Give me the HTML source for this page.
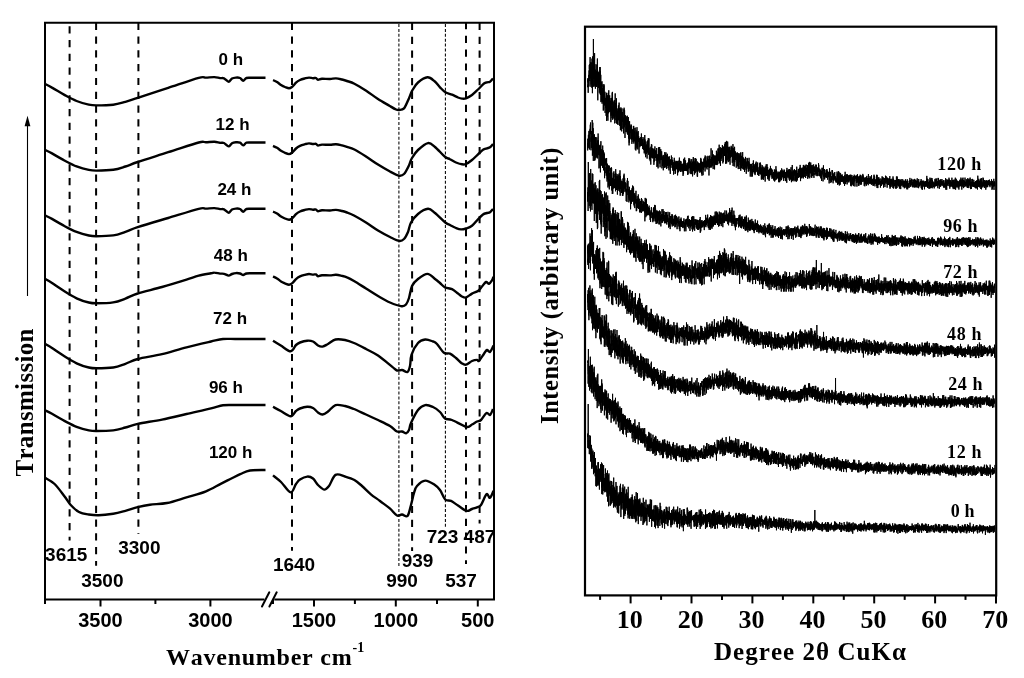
<!DOCTYPE html><html><head><meta charset="utf-8"><style>html,body{margin:0;padding:0;background:#fff;}svg{display:block;filter:blur(0.45px)} text{font-kerning:none} .s{font-family:"Liberation Sans",sans-serif;font-weight:bold} .r{font-family:"Liberation Serif",serif;font-weight:bold}</style></head><body>
<svg width="1024" height="678" viewBox="0 0 1024 678">
<rect width="1024" height="678" fill="#fff"/>
<line x1="69.6" y1="26.2" x2="69.6" y2="540.6" stroke="#000" stroke-width="2" stroke-dasharray="7.2 6.6"/>
<line x1="96.1" y1="22.7" x2="96.1" y2="565.7" stroke="#000" stroke-width="2" stroke-dasharray="7.2 6.6"/>
<line x1="138.4" y1="22.7" x2="138.4" y2="534.0" stroke="#000" stroke-width="2" stroke-dasharray="7.2 6.6"/>
<line x1="292.0" y1="22.7" x2="292.0" y2="550.8" stroke="#000" stroke-width="2" stroke-dasharray="7.2 6.6"/>
<line x1="412.1" y1="22.9" x2="412.1" y2="551.0" stroke="#000" stroke-width="2" stroke-dasharray="7.2 6.6"/>
<line x1="466.0" y1="22.0" x2="466.0" y2="564.0" stroke="#000" stroke-width="2" stroke-dasharray="7.2 6.6"/>
<line x1="479.6" y1="22.9" x2="479.6" y2="523.6" stroke="#000" stroke-width="2" stroke-dasharray="7.2 6.6"/>
<line x1="398.9" y1="24.0" x2="398.9" y2="567.9" stroke="#000" stroke-width="1.05" stroke-dasharray="3 1.9"/>
<line x1="445.4" y1="24.0" x2="445.4" y2="528.8" stroke="#000" stroke-width="1.05" stroke-dasharray="3 1.9"/>
<path d="M45.0,83.9C46.2,84.5 48.8,85.7 52.0,87.6C55.2,89.4 60.3,92.6 64.4,94.9C68.5,97.1 72.5,99.4 76.6,101.0C80.7,102.6 85.5,104.0 88.8,104.7C92.1,105.4 92.1,105.4 96.2,105.4C100.3,105.4 108.3,105.3 113.2,104.7C118.1,104.1 121.3,102.9 125.4,101.8C129.5,100.7 130.6,100.2 137.7,97.9C144.8,95.6 158.0,91.2 168.2,87.9C178.4,84.5 192.4,79.5 198.7,77.8C205.0,76.1 203.4,77.7 206.0,77.6C208.6,77.5 212.1,77.0 214.4,77.1C216.7,77.2 218.4,77.9 220.0,78.1C221.6,78.3 222.6,77.7 224.0,78.3C225.4,78.9 227.3,81.7 228.6,81.7C229.9,81.7 230.8,79.2 232.0,78.5C233.2,77.8 234.7,77.7 236.0,77.6C237.3,77.5 238.8,77.5 240.0,78.0C241.2,78.5 242.1,80.7 243.2,80.7C244.3,80.7 245.0,78.5 246.5,78.0C248.0,77.5 248.8,77.8 252.0,77.8C255.2,77.8 263.2,77.8 265.5,77.8" fill="none" stroke="#000" stroke-width="2.4" stroke-linejoin="round"/>
<path d="M273.0,80.1C273.7,80.4 275.7,81.2 277.0,82.0C278.3,82.8 279.7,84.2 281.0,85.0C282.3,85.8 283.7,86.5 285.0,87.0C286.3,87.5 287.8,88.3 289.0,88.3C290.2,88.3 290.8,87.9 292.0,87.0C293.2,86.1 294.7,83.9 296.0,82.7C297.3,81.5 298.5,80.7 300.0,80.0C301.5,79.3 303.5,78.8 305.0,78.4C306.5,78.0 307.7,77.6 309.0,77.6C310.3,77.6 311.8,78.1 313.0,78.2C314.2,78.3 315.2,77.7 316.0,78.0C316.8,78.3 317.0,79.7 318.0,79.8C319.0,79.9 320.0,78.9 322.0,78.8C324.0,78.7 327.7,79.1 330.0,79.0C332.3,78.9 334.0,78.3 336.0,78.4C338.0,78.5 340.2,79.1 342.0,79.5C343.8,79.9 344.9,80.3 347.0,81.0C349.1,81.7 351.2,82.1 354.4,83.7C357.6,85.3 362.3,88.2 366.2,90.7C370.1,93.2 374.1,96.5 378.0,99.0C381.9,101.5 386.8,104.2 389.8,106.0C392.8,107.8 394.4,108.8 396.0,109.5C397.6,110.2 397.9,110.2 399.2,110.0C400.5,109.8 402.4,110.2 404.0,108.4C405.6,106.6 407.3,102.0 408.7,99.0C410.1,96.0 410.6,93.5 412.2,90.7C413.8,88.0 415.4,84.7 418.0,82.5C420.6,80.3 424.7,77.5 427.5,77.3C430.3,77.1 432.5,79.6 434.6,81.3C436.7,83.0 438.2,85.5 440.0,87.3C441.8,89.1 443.4,91.0 445.4,92.2C447.4,93.4 449.9,93.8 452.0,94.7C454.1,95.6 456.3,96.8 458.0,97.5C459.7,98.2 460.7,98.5 462.0,98.6C463.3,98.7 464.3,98.9 466.0,98.3C467.7,97.7 470.0,96.5 472.0,95.0C474.0,93.5 476.0,91.4 478.0,89.5C480.0,87.6 482.5,84.7 484.0,83.5C485.5,82.3 486.0,82.6 487.0,82.3C488.0,82.0 489.0,82.4 490.0,81.8C491.0,81.2 492.5,79.0 493.0,78.5" fill="none" stroke="#000" stroke-width="2.4" stroke-linejoin="round"/>
<path d="M45.0,149.9C46.2,150.5 48.8,151.7 52.0,153.4C55.2,155.2 60.3,158.3 64.4,160.5C68.5,162.6 72.5,164.8 76.6,166.4C80.7,167.9 85.5,169.2 88.8,169.9C92.1,170.6 92.1,170.6 96.2,170.6C100.3,170.6 108.3,170.5 113.2,169.8C118.1,169.1 121.3,167.8 125.4,166.5C129.5,165.2 130.6,164.4 137.7,162.0C144.8,159.6 158.0,155.5 168.2,152.2C178.4,149.0 192.4,144.2 198.7,142.5C205.0,140.8 203.4,142.4 206.0,142.3C208.6,142.2 212.1,141.7 214.4,141.8C216.7,141.9 218.4,142.6 220.0,142.8C221.6,143.0 222.6,142.4 224.0,143.0C225.4,143.6 227.3,146.4 228.6,146.4C229.9,146.4 230.8,143.9 232.0,143.2C233.2,142.5 234.7,142.4 236.0,142.3C237.3,142.2 238.8,142.2 240.0,142.7C241.2,143.2 242.1,145.4 243.2,145.4C244.3,145.4 245.0,143.2 246.5,142.7C248.0,142.2 248.8,142.5 252.0,142.5C255.2,142.5 263.2,142.5 265.5,142.5" fill="none" stroke="#000" stroke-width="2.4" stroke-linejoin="round"/>
<path d="M273.0,145.9C273.7,146.2 275.7,147.0 277.0,147.8C278.3,148.6 279.7,150.0 281.0,150.8C282.3,151.6 283.7,152.2 285.0,152.8C286.3,153.4 287.8,154.1 289.0,154.1C290.2,154.1 290.8,153.7 292.0,152.8C293.2,151.9 294.7,149.7 296.0,148.5C297.3,147.3 298.5,146.5 300.0,145.8C301.5,145.1 303.5,144.6 305.0,144.2C306.5,143.8 307.7,143.4 309.0,143.4C310.3,143.4 311.8,143.9 313.0,144.0C314.2,144.1 315.2,143.5 316.0,143.8C316.8,144.1 317.0,145.5 318.0,145.6C319.0,145.7 320.0,144.7 322.0,144.6C324.0,144.5 327.7,144.9 330.0,144.8C332.3,144.7 334.0,144.1 336.0,144.2C338.0,144.3 340.2,144.9 342.0,145.3C343.8,145.7 344.9,146.1 347.0,146.8C349.1,147.5 351.2,147.9 354.4,149.5C357.6,151.1 362.1,154.0 366.0,156.5C369.9,159.0 374.0,162.0 378.0,164.5C382.0,167.0 386.5,169.6 390.0,171.5C393.5,173.4 396.9,175.3 399.2,175.7C401.5,176.1 402.4,175.6 404.0,174.0C405.6,172.4 407.4,168.7 408.7,166.0C410.0,163.3 410.4,160.7 412.0,158.0C413.6,155.3 415.3,152.5 418.0,150.0C420.7,147.5 425.2,143.6 428.0,143.1C430.8,142.6 432.2,144.7 435.0,147.0C437.8,149.3 442.5,154.8 445.0,156.8C447.5,158.8 448.2,158.2 450.0,159.2C451.8,160.1 454.0,161.7 456.0,162.5C458.0,163.3 460.3,164.1 462.0,164.3C463.7,164.6 464.3,164.7 466.0,164.0C467.7,163.3 470.0,161.6 472.0,160.0C474.0,158.4 476.2,156.1 478.0,154.4C479.8,152.7 481.5,150.7 483.0,149.7C484.5,148.7 485.8,148.7 487.0,148.3C488.2,147.9 489.0,148.0 490.0,147.3C491.0,146.6 492.5,144.6 493.0,144.0" fill="none" stroke="#000" stroke-width="2.4" stroke-linejoin="round"/>
<path d="M45.0,215.4C46.2,216.0 48.8,217.2 52.0,218.9C55.2,220.7 60.3,223.8 64.4,226.0C68.5,228.2 72.5,230.4 76.6,231.9C80.7,233.5 85.5,234.8 88.8,235.5C92.1,236.2 92.1,236.2 96.2,236.2C100.3,236.2 108.3,236.1 113.2,235.4C118.1,234.7 121.3,233.2 125.4,231.8C129.5,230.5 130.6,229.4 137.7,227.1C144.8,224.8 158.0,221.0 168.2,218.0C178.4,214.9 192.4,210.4 198.7,208.8C205.0,207.2 203.4,208.7 206.0,208.6C208.6,208.5 212.1,208.0 214.4,208.1C216.7,208.2 218.4,208.9 220.0,209.1C221.6,209.3 222.6,208.7 224.0,209.3C225.4,209.9 227.3,212.7 228.6,212.7C229.9,212.7 230.8,210.2 232.0,209.5C233.2,208.8 234.7,208.7 236.0,208.6C237.3,208.5 238.8,208.5 240.0,209.0C241.2,209.5 242.1,211.7 243.2,211.7C244.3,211.7 245.0,209.5 246.5,209.0C248.0,208.5 248.8,208.8 252.0,208.8C255.2,208.8 263.2,208.8 265.5,208.8" fill="none" stroke="#000" stroke-width="2.4" stroke-linejoin="round"/>
<path d="M273.0,211.6C273.7,211.9 275.7,212.7 277.0,213.5C278.3,214.3 279.7,215.7 281.0,216.5C282.3,217.3 283.7,217.9 285.0,218.5C286.3,219.1 287.8,219.8 289.0,219.8C290.2,219.8 290.8,219.4 292.0,218.5C293.2,217.6 294.7,215.4 296.0,214.2C297.3,213.0 298.5,212.2 300.0,211.5C301.5,210.8 303.5,210.3 305.0,209.9C306.5,209.5 307.7,209.1 309.0,209.1C310.3,209.1 311.8,209.6 313.0,209.7C314.2,209.8 315.2,209.2 316.0,209.5C316.8,209.8 317.0,211.2 318.0,211.3C319.0,211.4 320.0,210.4 322.0,210.3C324.0,210.2 327.7,210.6 330.0,210.5C332.3,210.4 334.0,209.8 336.0,209.9C338.0,210.0 340.2,210.6 342.0,211.0C343.8,211.4 345.0,211.8 347.0,212.5C349.0,213.2 350.8,213.8 354.0,215.5C357.2,217.2 362.0,220.0 366.0,222.5C370.0,225.0 374.0,228.1 378.0,230.5C382.0,232.9 386.5,235.3 390.0,237.0C393.5,238.7 396.9,240.6 399.2,240.9C401.5,241.2 402.5,240.5 404.0,239.0C405.5,237.5 406.8,234.8 408.0,232.0C409.2,229.2 409.3,225.5 411.0,222.5C412.7,219.5 415.2,216.3 418.0,214.0C420.8,211.7 425.2,209.0 428.0,208.8C430.8,208.6 432.1,210.7 435.0,213.0C437.9,215.3 442.8,220.5 445.3,222.5C447.8,224.5 448.2,224.1 450.0,225.0C451.8,225.9 454.2,227.3 456.0,228.0C457.8,228.7 459.3,229.3 461.0,229.4C462.7,229.5 464.2,229.1 466.0,228.5C467.8,227.9 470.0,227.3 472.0,225.8C474.0,224.3 476.2,221.2 478.0,219.3C479.8,217.4 481.5,215.6 483.0,214.5C484.5,213.4 485.8,213.4 487.0,213.0C488.2,212.6 489.0,212.9 490.0,212.2C491.0,211.5 492.5,209.5 493.0,209.0" fill="none" stroke="#000" stroke-width="2.4" stroke-linejoin="round"/>
<path d="M45.0,278.9C46.2,279.6 48.8,281.0 52.0,283.0C55.2,285.1 60.3,288.8 64.4,291.3C68.5,293.9 72.5,296.4 76.6,298.3C80.7,300.2 85.5,301.7 88.8,302.5C92.1,303.3 92.1,303.3 96.2,303.3C100.3,303.3 108.3,303.2 113.2,302.4C118.1,301.6 121.3,300.1 125.4,298.6C129.5,297.1 131.6,295.4 137.7,293.5C143.8,291.6 153.9,289.3 162.0,287.0C170.1,284.7 180.4,281.5 186.5,279.6C192.6,277.7 194.6,276.8 198.7,275.7C202.8,274.6 208.4,273.8 211.0,273.3C213.6,272.8 212.9,272.5 214.4,272.6C215.9,272.6 218.4,273.4 220.0,273.6C221.6,273.8 222.6,273.5 224.0,273.8C225.4,274.1 227.3,275.6 228.6,275.6C229.9,275.7 230.8,274.4 232.0,274.0C233.2,273.6 234.7,273.2 236.0,273.1C237.3,273.0 238.8,273.2 240.0,273.5C241.2,273.8 242.1,275.0 243.2,275.0C244.3,275.0 245.0,273.8 246.5,273.5C248.0,273.2 248.8,273.3 252.0,273.3C255.2,273.3 263.2,273.3 265.5,273.3" fill="none" stroke="#000" stroke-width="2.4" stroke-linejoin="round"/>
<path d="M273.0,276.5C273.7,276.8 275.7,277.6 277.0,278.4C278.3,279.2 279.7,280.6 281.0,281.4C282.3,282.2 283.7,282.8 285.0,283.4C286.3,283.9 287.8,284.7 289.0,284.7C290.2,284.7 290.8,284.3 292.0,283.4C293.2,282.5 294.7,280.3 296.0,279.1C297.3,277.9 298.5,277.1 300.0,276.4C301.5,275.7 303.5,275.2 305.0,274.8C306.5,274.4 307.7,274.0 309.0,274.0C310.3,274.0 311.8,274.5 313.0,274.6C314.2,274.7 315.2,274.1 316.0,274.4C316.8,274.7 317.0,276.1 318.0,276.2C319.0,276.3 320.0,275.3 322.0,275.2C324.0,275.1 327.7,275.5 330.0,275.4C332.3,275.3 334.0,274.7 336.0,274.8C338.0,274.9 340.2,275.5 342.0,275.9C343.8,276.3 345.0,276.5 347.0,277.4C349.0,278.2 350.8,279.1 354.0,281.0C357.2,282.9 362.0,286.0 366.0,288.5C370.0,291.0 374.0,293.7 378.0,296.0C382.0,298.3 386.1,300.8 390.0,302.5C393.9,304.2 398.9,305.9 401.6,306.2C404.3,306.5 404.8,305.9 406.0,304.5C407.2,303.1 408.0,301.1 409.0,298.0C410.0,294.9 410.5,289.2 412.0,286.0C413.5,282.8 415.4,281.0 418.0,279.0C420.6,277.0 424.7,273.9 427.5,273.9C430.3,273.9 432.9,277.5 435.0,279.0C437.1,280.5 438.3,281.6 440.0,283.0C441.7,284.4 443.0,286.4 445.0,287.4C447.0,288.4 449.8,288.2 452.0,289.2C454.2,290.2 456.3,292.3 458.0,293.5C459.7,294.7 460.7,295.8 462.0,296.5C463.3,297.2 464.3,298.0 466.0,297.5C467.7,297.0 470.0,294.7 472.0,293.6C474.0,292.5 476.3,292.2 478.0,291.0C479.7,289.8 480.7,288.0 482.0,286.5C483.3,285.0 484.8,282.4 486.0,282.0C487.2,281.6 488.0,284.2 489.0,283.9C490.0,283.6 491.2,281.5 492.0,280.3C492.8,279.1 493.2,277.4 493.5,276.8" fill="none" stroke="#000" stroke-width="2.4" stroke-linejoin="round"/>
<path d="M45.0,343.9C46.2,344.6 48.8,346.0 52.0,348.0C55.2,350.1 60.3,353.8 64.4,356.3C68.5,358.9 72.5,361.4 76.6,363.3C80.7,365.2 85.5,366.7 88.8,367.5C92.1,368.3 92.1,368.3 96.2,368.3C100.3,368.3 108.3,368.2 113.2,367.5C118.1,366.7 121.3,365.2 125.4,363.8C129.5,362.4 131.6,360.6 137.7,359.0C143.8,357.4 153.9,356.1 162.0,354.2C170.1,352.2 178.3,349.4 186.5,347.3C194.7,345.2 204.9,342.9 211.0,341.5C217.1,340.1 219.0,339.4 223.0,339.0C227.0,338.6 230.5,339.0 235.0,339.0C239.5,339.0 244.9,339.0 250.0,339.0C255.1,339.0 262.9,339.0 265.5,339.0" fill="none" stroke="#000" stroke-width="2.4" stroke-linejoin="round"/>
<path d="M273.0,340.7C274.3,341.5 277.9,343.7 280.8,345.5C283.8,347.3 288.2,351.4 290.7,351.3C293.2,351.2 294.4,346.5 296.0,345.0C297.6,343.5 298.1,343.2 300.0,342.5C301.9,341.8 305.0,340.9 307.2,340.7C309.4,340.5 311.2,340.7 313.0,341.5C314.8,342.3 316.4,344.6 318.0,345.5C319.6,346.4 320.8,346.9 322.5,346.6C324.2,346.4 325.8,345.2 328.0,344.0C330.2,342.8 332.7,340.2 335.5,339.5C338.3,338.8 341.9,339.4 345.0,340.0C348.1,340.6 350.5,341.5 354.0,343.0C357.5,344.5 362.0,346.9 366.0,349.0C370.0,351.1 373.7,352.6 378.0,355.5C382.3,358.4 388.8,364.1 392.0,366.6C395.2,369.1 395.3,369.9 397.0,370.5C398.7,371.1 400.2,369.8 402.0,370.0C403.8,370.2 406.2,372.7 407.5,372.0C408.8,371.3 409.3,368.9 410.0,366.0C410.7,363.1 410.2,358.6 411.5,354.8C412.8,351.0 415.7,345.6 418.0,343.0C420.3,340.4 422.7,339.8 425.2,339.5C427.7,339.2 431.0,340.8 433.0,341.5C435.0,342.2 435.2,342.1 437.0,344.0C438.8,345.9 441.8,351.2 444.0,352.8C446.2,354.4 448.0,352.8 450.0,353.7C452.0,354.6 454.0,356.4 456.0,358.0C458.0,359.6 460.3,362.3 462.0,363.4C463.7,364.5 464.3,365.0 466.0,364.6C467.7,364.2 470.2,361.8 472.0,361.0C473.8,360.2 475.8,359.9 477.0,359.9C478.2,359.9 477.8,361.8 479.0,360.8C480.2,359.8 482.7,355.5 484.0,353.7C485.3,351.9 486.0,350.3 487.0,350.0C488.0,349.7 488.9,352.6 490.0,351.9C491.1,351.2 492.9,346.7 493.5,345.7" fill="none" stroke="#000" stroke-width="2.4" stroke-linejoin="round"/>
<path d="M45.0,410.3C46.2,410.9 48.8,412.1 52.0,413.8C55.2,415.6 60.3,418.7 64.4,420.9C68.5,423.0 72.5,425.2 76.6,426.8C80.7,428.3 85.5,429.6 88.8,430.3C92.1,431.0 92.1,431.0 96.2,431.0C100.3,431.0 108.3,430.9 113.2,430.4C118.1,429.8 121.3,428.6 125.4,427.5C129.5,426.5 131.6,425.1 137.7,423.8C143.8,422.5 153.9,421.2 162.0,419.6C170.1,418.0 178.3,415.9 186.5,414.0C194.7,412.1 204.9,409.9 211.0,408.4C217.1,407.0 219.0,405.9 223.0,405.3C227.0,404.7 230.5,405.1 235.0,405.0C239.5,404.9 244.9,405.0 250.0,405.0C255.1,405.0 262.9,405.0 265.5,405.0" fill="none" stroke="#000" stroke-width="2.4" stroke-linejoin="round"/>
<path d="M273.0,406.8C274.3,407.5 277.9,409.4 280.8,411.0C283.8,412.6 288.2,416.2 290.7,416.2C293.2,416.2 294.4,412.3 296.0,411.0C297.6,409.7 298.1,409.2 300.0,408.5C301.9,407.8 305.0,406.9 307.2,406.8C309.4,406.7 311.2,407.1 313.0,408.0C314.8,408.9 316.4,411.4 318.0,412.5C319.6,413.6 320.8,414.7 322.5,414.5C324.2,414.3 325.8,413.1 328.0,411.5C330.2,409.9 332.7,406.0 335.5,405.1C338.3,404.2 341.9,405.4 345.0,406.0C348.1,406.6 350.5,407.6 354.0,409.0C357.5,410.4 362.0,412.7 366.0,414.5C370.0,416.3 374.0,418.1 378.0,420.0C382.0,421.9 386.9,424.1 390.0,426.0C393.1,427.9 394.9,430.6 396.9,431.5C398.9,432.4 400.4,431.2 402.0,431.5C403.6,431.8 405.1,433.4 406.3,433.2C407.5,432.9 408.2,431.7 409.0,430.0C409.8,428.3 409.5,426.3 411.0,423.0C412.5,419.7 415.6,413.0 418.0,410.0C420.4,407.0 422.7,405.6 425.2,405.1C427.7,404.6 430.5,405.9 433.0,407.0C435.5,408.1 438.0,410.1 440.0,412.0C442.0,413.9 443.0,417.2 445.0,418.5C447.0,419.8 448.4,418.6 452.0,420.0C455.6,421.4 463.2,426.1 466.5,426.8C469.8,427.6 470.2,425.4 472.0,424.5C473.8,423.6 475.5,422.2 477.0,421.5C478.5,420.8 479.4,421.4 481.0,420.0C482.6,418.6 485.0,413.8 486.5,413.0C488.0,412.2 488.9,415.6 490.0,415.0C491.1,414.4 492.5,410.1 493.0,409.1" fill="none" stroke="#000" stroke-width="2.4" stroke-linejoin="round"/>
<path d="M45.0,477.8C46.6,478.8 51.4,480.9 54.6,484.0C57.8,487.1 61.8,492.8 64.4,496.2C67.1,499.6 68.1,502.1 70.5,504.7C72.9,507.3 76.0,510.4 79.0,512.0C82.0,513.6 85.5,514.0 88.8,514.5C92.1,515.0 94.5,515.3 98.6,515.2C102.7,515.1 108.7,514.4 113.2,513.7C117.7,513.0 121.3,511.9 125.4,510.8C129.5,509.7 133.6,508.1 137.7,507.1C141.8,506.1 145.0,505.4 149.9,504.7C154.8,504.0 160.9,504.2 167.0,503.0C173.1,501.8 180.0,499.3 186.5,497.4C193.0,495.4 200.3,493.6 206.0,491.3C211.7,489.1 216.6,485.9 220.7,483.9C224.8,481.8 227.2,480.6 230.4,479.0C233.7,477.4 236.9,475.6 240.2,474.2C243.5,472.8 245.8,471.2 250.0,470.5C254.2,469.8 262.9,470.1 265.5,470.0" fill="none" stroke="#000" stroke-width="2.4" stroke-linejoin="round"/>
<path d="M273.0,475.4C274.3,476.5 278.1,479.2 281.0,482.0C283.9,484.8 288.2,492.1 290.7,492.4C293.2,492.7 294.4,486.1 296.0,484.0C297.6,481.9 298.1,480.7 300.0,479.5C301.9,478.3 305.0,476.8 307.2,476.6C309.4,476.4 311.2,477.1 313.0,478.5C314.8,479.9 316.1,483.1 318.0,485.0C319.9,486.9 322.4,489.4 324.2,489.6C326.0,489.8 327.1,488.4 329.0,486.0C330.9,483.6 332.8,476.5 335.5,474.9C338.2,473.3 341.9,475.6 345.0,476.5C348.1,477.4 351.6,478.4 354.4,480.0C357.2,481.6 359.2,483.6 362.0,486.0C364.8,488.4 367.9,491.8 370.9,494.3C373.9,496.8 376.9,498.6 380.0,501.0C383.1,503.4 387.0,506.0 389.8,508.4C392.6,510.8 395.0,514.5 397.0,515.5C399.0,516.5 400.2,514.4 402.0,514.5C403.8,514.6 406.0,517.6 407.5,516.0C409.0,514.4 409.9,508.8 411.0,505.0C412.1,501.2 413.0,496.2 414.0,493.0C415.0,489.8 415.1,488.1 417.0,486.0C418.9,483.9 422.3,480.8 425.2,480.6C428.1,480.4 432.1,483.2 434.6,484.8C437.1,486.4 438.2,487.6 440.0,490.0C441.8,492.4 443.4,497.7 445.2,499.5C447.0,501.3 448.9,499.9 451.0,500.9C453.1,501.9 455.4,503.9 458.0,505.5C460.6,507.1 464.2,510.2 466.5,510.8C468.8,511.4 470.2,509.6 472.0,509.0C473.8,508.4 475.5,508.0 477.0,507.3C478.5,506.6 479.4,507.2 481.0,505.0C482.6,502.8 485.0,495.5 486.5,494.3C488.0,493.1 488.8,498.4 490.0,497.8C491.2,497.2 493.0,491.9 493.6,490.7" fill="none" stroke="#000" stroke-width="2.4" stroke-linejoin="round"/>
<path d="M264.5,599.5 H45 V22.8 H494 V599.5 H274.3" fill="none" stroke="#000" stroke-width="2"/>
<path d="M262,606.5 L269.3,592.3 M269.4,606.5 L276.7,592.3" stroke="#000" stroke-width="2" stroke-linecap="round"/>
<line x1="100.5" y1="599" x2="100.5" y2="606.5" stroke="#000" stroke-width="2"/>
<line x1="210.4" y1="599" x2="210.4" y2="606.5" stroke="#000" stroke-width="2"/>
<line x1="314.0" y1="599" x2="314.0" y2="606.5" stroke="#000" stroke-width="2"/>
<line x1="395.8" y1="599" x2="395.8" y2="606.5" stroke="#000" stroke-width="2"/>
<line x1="477.8" y1="599" x2="477.8" y2="606.5" stroke="#000" stroke-width="2"/>
<line x1="45.0" y1="599" x2="45.0" y2="604" stroke="#000" stroke-width="2"/>
<line x1="155.4" y1="599" x2="155.4" y2="604" stroke="#000" stroke-width="2"/>
<line x1="354.9" y1="599" x2="354.9" y2="604" stroke="#000" stroke-width="2"/>
<line x1="437.0" y1="599" x2="437.0" y2="604" stroke="#000" stroke-width="2"/>
<line x1="273.0" y1="599" x2="273.0" y2="604" stroke="#000" stroke-width="2"/>
<text x="100.5" y="626.8" class="s" font-size="20" text-anchor="middle">3500</text>
<text x="210.4" y="626.8" class="s" font-size="20" text-anchor="middle">3000</text>
<text x="314.0" y="626.8" class="s" font-size="20" text-anchor="middle">1500</text>
<text x="395.8" y="626.8" class="s" font-size="20" text-anchor="middle">1000</text>
<text x="477.8" y="626.8" class="s" font-size="20" text-anchor="middle">500</text>
<text x="45.1" y="560.5" class="s" font-size="19">3615</text>
<text x="81.2" y="587.0" class="s" font-size="19">3500</text>
<text x="118.2" y="553.9" class="s" font-size="19">3300</text>
<text x="272.9" y="571.2" class="s" font-size="19">1640</text>
<text x="386.2" y="587.0" class="s" font-size="19">990</text>
<text x="401.7" y="567.1" class="s" font-size="19">939</text>
<text x="426.7" y="542.8" class="s" font-size="19">723</text>
<text x="445.2" y="587.0" class="s" font-size="19">537</text>
<text x="463.6" y="542.8" class="s" font-size="19">487</text>
<text x="218.6" y="64.9" class="s" font-size="17">0 h</text>
<text x="215.5" y="130.3" class="s" font-size="17">12 h</text>
<text x="217.4" y="195.1" class="s" font-size="17">24 h</text>
<text x="213.8" y="260.6" class="s" font-size="17">48 h</text>
<text x="213.0" y="324.0" class="s" font-size="17">72 h</text>
<text x="208.9" y="393.2" class="s" font-size="17">96 h</text>
<text x="208.9" y="457.9" class="s" font-size="17">120 h</text>
<text x="166" y="665.4" class="r" font-size="24" letter-spacing="0.75">Wavenumber cm</text>
<text x="352.5" y="652" class="r" font-size="14">-1</text>
<text transform="translate(33,476.6) rotate(-90)" class="r" font-size="25" letter-spacing="0.33">Transmission</text>
<line x1="27.5" y1="296" x2="27.5" y2="124" stroke="#000" stroke-width="1.1"/>
<path d="M27.5,115.8 L30.4,126.3 L24.6,126.3 Z" fill="#000"/>
<path d="M587.5,85.6l.1,1.6 .1-3.7 .1-4.1 .1,2.4 .1-3.8 .1,6.5 .1,8.3 .1-12.7 .1-1.3 .1,7.5 .1-1.3 .1-2.1 .1-8.0 .1,6.4 .1,5.3 .1-16.2 .1,6.5 .1-12.0 .1,4.5 .1-5.1 .1,13.0 .1-9.2 .1,13.0 .1-1.3 .1-3.3 .1-19.4 .1,15.6 .1,4.3 .1,1.3 .1-15.9 .1,9.8 .1-5.2 .1,1.4 .1,18.4 .1-18.8 .1,7.5 .1,8.9 .1-14.8 .1,4.5 .1,2.0 .1-.7 .1-13.0 .1,12.8 .1,12.6 .1-29.2 .1,23.8 .1-7.6 .1-7.8 .1,26.2 .1-12.6 .1-24.2 .1,17.0 .1,4.9 .1-7.8 .1,8.7 .1-7.6 .1,7.3 .1,7.7 .1-47.6 .1,35.3 .1-11.3 .1,10.6 .1-13.0 .1,6.1 .1,3.9 .1,16.1 .1-2.7 .1-24.5 .1,5.3 .1,14.3 .1-26.0 .1,15.2 .1,3.7 .1,13.5 .1-5.5 .1-9.9 .1-.2 .1,11.6 .1,7.2 .1-18.9 .1,1.4 .1,6.6 .1-4.4 .1-.5 .1-8.7 .1,10.9 .1-4.0 .1,15.8 .1-4.8 .1-6.3 .1,6.8 .1-9.5 .1,13.6 .1-9.9 .1,5.8 .1-17.7 .1,15.9 .1-19.2 .1-3.1 .1,16.8 .1-5.4 .1,10.4 .1,20.0 .1-28.9 .1,2.3 .1,8.2 .1,3.0 .1-6.0 .1,.1 .1,8.8 .1-1.4 .1-14.2 .1,9.2 .1,1.4 .1-9.8 .1,12.5 .1-10.0 .1,17.2 .1-6.8 .1-.7 .1-5.9 .1,4.7 .1-16.8 .1,8.2 .1,13.9 .1-22.3 .1,27.3 .1-23.1 .1,22.9 .1-14.1 .1,14.9 .1-5.5 .1-14.6 .1,25.2 .1,2.1 .1-13.2 .1-1.5 .1,1.4 .1-6.9 .1,18.6 .1-14.1 .1,4.6 .1-6.2 .1,1.8 .1-5.3 .1,22.4 .1-12.0 .1,10.1 .1-8.0 .1-5.8 .1,3.5 .1-1.7 .1,5.2 .1-2.9 .1,.9 .1-8.8 .1,5.2 .1,21.2 .1-19.4 .1-2.9 .1,12.1 .1,9.3 .1-23.8 .1,10.8 .1-3.2 .1-9.1 .1,21.2 .1-6.0 .1,1.1 .1-6.5 .1,10.3 .1-8.0 .1,3.6 .1-7.7 .1-.6 .1,21.1 .1-14.9 .1,6.7 .1-2.5 .1-3.1 .1-.5 .1,9.4 .1-7.4 .1,1.3 .1,1.6 .1,12.4 .1-6.8 .1-2.3 .1-7.5 .1-6.5 .1,28.1 .1-8.9 .1-8.8 .1,5.6 .1,2.1 .1,.5 .1,.8 .1-10.9 .1,15.9 .1-21.9 .1,17.0 .1-2.8 .1,3.1 .1,8.1 .1-3.0 .1-20.7 .1-4.2 .1,20.0 .1-14.4 .1,8.1 .1,6.8 .1-19.4 .1-3.6 .1,18.8 .1-1.5 .1-2.2 .1,2.4 .1-6.9 .1-5.0 .1,10.7 .1-6.2 .1-5.1 .1,16.8 .1-4.3 .1,3.7 .1-10.7 .1,2.6 .1-2.6 .1,1.0 .1,8.4 .1-7.5 .1,8.8 .1-.1 .1,10.8 .1-24.1 .1,17.7 .1-7.5 .1,.6 .1-11.0 .1,7.7 .1,9.3 .1-6.4 .1,1.3 .1-2.8 .1,11.2 .1-9.0 .1-16.7 .1,11.6 .1-9.7 .1-2.5 .1,13.6 .1,14.3 .1-9.8 .1-9.3 .1,1.8 .1,15.9 .1-7.4 .1-.8 .1-.7 .1,.7 .1,5.9 .1-1.9 .1-2.5 .1-9.6 .1,11.9 .1-9.1 .1,13.6 .1-17.9 .1,8.6 .1,1.0 .1-9.9 .1,23.1 .1-1.9 .1-14.5 .1,9.4 .1-2.9 .1-20.1 .1,19.3 .1-2.3 .1,1.2 .1-8.6 .1,6.1 .1,.8 .1,10.3 .1-6.3 .1-2.4 .1,11.5 .1-15.5 .1,1.4 .1-10.6 .1,25.3 .1-4.4 .1-.3 .1-1.7 .1-4.1 .1,.9 .1-3.4 .1,.5 .1,2.0 .1,10.8 .1-6.9 .1-4.5 .1-3.7 .1-.4 .1,16.6 .1-8.0 .1-3.1 .1-3.0 .1-5.5 .1,7.8 .1,7.0 .1-9.2 .1,1.3 .1,.1 .1,2.5 .1-12.3 .1,10.0 .1-4.5 .1,12.8 .1-12.0 .1,9.9 .1,7.0 .1-13.2 .1-2.0 .1,5.9 .1-1.3 .1-6.4 .1,10.0 .1,11.4 .1-16.3 .1,.6 .1-5.9 .1,9.9 .1-11.1 .1,1.2 .1,17.2 .1-15.5 .1,14.4 .1,3.3 .1-8.9 .1,2.2 .1,10.1 .1-15.1 .1-2.6 .1-5.3 .1,10.1 .1,10.3 .1-3.6 .1-13.2 .1,.7 .1,2.7 .1,5.7 .1-3.3 .1,3.1 .1,.7 .1-4.0 .1,1.9 .1,1.9 .1-1.9 .1,4.3 .1,9.6 .1-8.7 .1-3.6 .1-11.9 .1,14.5 .1-16.0 .1,3.9 .1,15.7 .1-.8 .1-5.8 .1-10.5 .1,9.3 .1-1.9 .1,9.2 .1,11.2 .1-13.8 .1-6.6 .1-2.4 .1,9.6 .1-2.5 .1-6.4 .1,8.8 .1-8.3 .1,15.4 .1-.1 .1,.3 .1-10.3 .1,6.9 .1-4.2 .1-1.5 .1,.6 .1-6.2 .1-.7 .1,15.0 .1-6.3 .1,2.8 .1,5.4 .1-17.8 .1,6.5 .1,6.5 .1,1.6 .1-4.8 .1,9.3 .1-5.1 .1-9.1 .1,2.1 .1,11.4 .1-2.0 .1-15.0 .1,21.1 .1-4.6 .1,4.9 .1-10.8 .1,.7 .1-5.1 .1,22.1 .1-15.6 .1,12.9 .1-18.3 .1,8.2 .1-11.4 .1,8.3 .1,8.8 .1-13.9 .1,14.7 .1-4.4 .1-8.5 .1,3.5 .1,.4 .1,2.7 .1-2.9 .1-1.7 .1,3.3 .1-4.3 .1-1.5 .1,7.8 .1,5.9 .1-14.8 .1,9.5 .1-3.9 .1-1.9 .1,11.4 .1-8.3 .1,12.5 .1-13.9 .1,7.3 .1-3.6 .1-3.2 .1,8.4 .1-4.5 .1,4.8 .1-3.9 .1-6.2 .1,6.1 .1,1.1 .1,5.6 .1-11.2 .1,5.4 .1-10.1 .1,14.5 .1-10.4 .1-4.2 .1,10.6 .1,7.1 .1-15.6 .1,2.7 .1,2.2 .1-2.2 .1,9.1 .1-6.9 .1,.6 .1,7.9 .1-7.9 .1,7.2 .1-8.2 .1-1.3 .1-3.6 .1,22.0 .1-12.8 .1,3.5 .1-1.5 .1,1.2 .1-.5 .1,11.0 .1-17.2 .1-2.9 .1,3.3 .1-1.7 .1,12.2 .1,.6 .1-10.3 .1-2.4 .1,6.2 .1,10.2 .1-21.3 .1,16.5 .1-9.1 .1,12.3 .1-12.1 .1,4.7 .1-6.9 .1,3.2 .1,13.6 .1-3.1 .1-6.9 .1-2.5 .1-5.8 .1,8.7 .1,2.2 .1-.2 .1,.1 .1-5.7 .1,6.1 .1,.2 .1,7.7 .1,3.3 .1-11.2 .1-3.4 .1,4.1 .1-3.0 .1-.6 .1,3.9 .1-5.4 .1,9.3 .1-3.8 .1,2.0 .1-2.3 .1-2.9 .1-1.2 .1,4.0 .1-1.6 .1,4.4 .1-1.3 .1-7.4 .1,8.0 .1-7.8 .1,4.1 .1,1.9 .1-9.8 .1,12.1 .1,.4 .1-1.7 .1-1.4 .1,.4 .1-3.3 .1,4.0 .1-1.5 .1,3.6 .1-7.0 .1,7.9 .1-.4 .1-1.5 .1-1.5 .1,5.5 .1-12.1 .1,11.7 .1-1.1 .1,.3 .1,.6 .1-5.6 .1,2.2 .1,4.9 .1-1.0 .1-1.1 .1-9.3 .1,11.2 .1,3.5 .1-.8 .1-4.2 .1-9.5 .1,13.5 .1-5.8 .1-11.5 .1,14.5 .1-10.0 .1,1.1 .1,3.7 .1,10.2 .1-8.7 .1,3.5 .1,7.9 .1-.7 .1-9.0 .1-.6 .1-5.4 .1,3.1 .1,6.0 .1-.1 .1-1.4 .1,4.7 .1-9.3 .1,3.9 .1,4.2 .1-.7 .1,2.7 .1,4.0 .1-11.2 .1,3.6 .1-7.1 .1-3.2 .1,11.7 .1-3.3 .1,2.0 .1-10.4 .1,7.0 .1-1.1 .1-1.4 .1-7.1 .1,10.0 .1,6.5 .1-2.6 .1-5.0 .1,3.1 .1,4.1 .1-15.8 .1,11.3 .1,3.6 .1,.7 .1,5.4 .1-2.9 .1-4.2 .1,.1 .1,2.5 .1-6.7 .1,2.6 .1,4.9 .1,5.5 .1-10.8 .1,.6 .1,1.4 .1,5.9 .1-7.0 .1,13.3 .1-17.9 .1,4.1 .1,0 .1,5.0 .1,1.4 .1-12.9 .1,3.1 .1,6.4 .1-4.9 .1-4.3 .1,13.0 .1-2.7 .1,.1 .1-4.8 .1,7.6 .1-6.3 .1,6.8 .1-10.0 .1,.3 .1,5.4 .1-4.5 .1,7.0 .1-2.0 .1-5.9 .1,5.1 .1-2.1 .1,6.4 .1-7.6 .1,1.0 .1,8.3 .1,5.1 .1-1.1 .1-9.5 .1,.8 .1,6.6 .1-8.1 .1-4.1 .1,5.4 .1,1.7 .1-6.2 .1-3.9 .1,1.1 .1,10.3 .1-6.9 .1,3.1 .1,1.8 .1,2.1 .1-4.6 .1,4.1 .1-6.7 .1,2.7 .1-3.2 .1,10.6 .1-3.0 .1-6.0 .1,2.0 .1,.7 .1,4.5 .1-11.0 .1,2.8 .1,3.2 .1,13.0 .1-6.4 .1-5.1 .1,4.0 .1,6.6 .1-11.0 .1-.5 .1,7.6 .1-3.4 .1,.9 .1-5.5 .1,14.2 .1-3.5 .1-5.4 .1,.6 .1-12.8 .1,12.8 .1-3.9 .1,3.0 .1,1.3 .1-4.8 .1-6.3 .1,9.8 .1-5.2 .1,2.0 .1-1.2 .1,1.3 .1-9.1 .1,16.6 .1-4.5 .1,4.1 .1,4.1 .1-9.1 .1-8.4 .1,4.3 .1-1.4 .1,3.3 .1,2.8 .1-9.6 .1,10.9 .1-8.5 .1,8.4 .1-1.8 .1-.9 .1,1.2 .1-2.1 .1-.3 .1-4.8 .1,7.7 .1,9.3 .1,0 .1-3.0 .1-2.7 .1-6.3 .1,9.8 .1-6.8 .1,0 .1-1.0 .1,1.8 .1-2.3 .1,1.6 .1-4.5 .1,3.3 .1,12.1 .1-10.6 .1-.7 .1,3.6 .1,.8 .1-8.1 .1,4.1 .1,5.2 .1-2.9 .1-.6 .1,6.5 .1-10.0 .1,3.5 .1-2.7 .1,9.1 .1-15.4 .1,5.9 .1,.6 .1,5.4 .1-.2 .1,3.6 .1-13.2 .1,10.5 .1-4.6 .1-1.6 .1,5.4 .1-6.4 .1-5.1 .1,7.6 .1-4.9 .1,3.8 .1,4.6 .1-.2 .1,5.7 .1-13.2 .1-.4 .1,3.4 .1-.6 .1-1.3 .1,7.3 .1-4.6 .1-5.8 .1,11.8 .1-3.5 .1,2.1 .1-1.0 .1,2.3 .1-2.5 .1,5.2 .1-3.4 .1-.1 .1,.1 .1-8.0 .1,5.7 .1-.4 .1,2.1 .1-6.7 .1,12.9 .1-6.5 .1-5.6 .1-2.0 .1,6.1 .1,.9 .1-2.6 .1,3.5 .1-3.1 .1,5.2 .1-5.4 .1,2.9 .1,4.4 .1,5.7 .1-14.1 .1,2.4 .1-1.6 .1,6.9 .1-8.2 .1,2.9 .1,1.9 .1-4.0 .1,.1 .1,2.1 .1-6.8 .1,2.8 .1,4.4 .1,2.4 .1-1.4 .1-6.7 .1,5.5 .1,5.4 .1-1.0 .1-2.7 .1-3.3 .1,6.4 .1-5.1 .1-2.4 .1,1.5 .1,9.5 .1-5.1 .1,4.0 .1-6.9 .1,6.0 .1-6.5 .1,1.9 .1,10.4 .1-6.5 .1-5.2 .1,1.7 .1,1.8 .1,3.7 .1-7.1 .1-5.2 .1,6.1 .1,1.3 .1,.4 .1,5.1 .1-4.8 .1,2.7 .1-7.9 .1,8.2 .1,5.1 .1-5.5 .1-2.1 .1-.4 .1,6.8 .1-11.2 .1,3.4 .1,2.4 .1,1.2 .1-4.9 .1,3.1 .1-2.4 .1,1.7 .1-1.0 .1-4.2 .1,4.7 .1,3.7 .1-7.6 .1,3.1 .1,3.7 .1-7.1 .1,5.2 .1-5.1 .1,9.1 .1,4.8 .1-1.1 .1-9.2 .1,3.9 .1-2.5 .1,0 .1,5.9 .1-11.7 .1,9.7 .1-4.5 .1,6.0 .1-5.0 .1-3.5 .1,4.0 .1,1.9 .1-2.9 .1,1.9 .1-4.1 .1-6.6 .1,12.5 .1-.8 .1-2.3 .1-3.0 .1,6.7 .1-6.1 .1-1.0 .1,2.1 .1,5.7 .1-10.5 .1,10.5 .1-7.5 .1-1.8 .1,9.6 .1-5.5 .1-4.9 .1,3.8 .1,5.2 .1,1.1 .1-6.6 .1,3.4 .1,1.3 .1-5.5 .1,4.0 .1-1.5 .1-2.1 .1,.2 .1,2.3 .1-.2 .1-2.4 .1,.6 .1,6.3 .1-3.7 .1,2.7 .1,1.3 .1-2.5 .1,6.9 .1-12.6 .1,6.6 .1-4.5 .1,8.8 .1-.6 .1-14.8 .1,4.0 .1,6.6 .1,.5 .1-.2 .1-3.3 .1,2.2 .1,.8 .1-3.0 .1,4.5 .1-13.3 .1,11.7 .1-6.7 .1,8.0 .1-4.8 .1-2.6 .1,5.1 .1-5.2 .1,0 .1-2.7 .1,6.3 .1,2.1 .1,2.1 .1-4.7 .1,4.8 .1-4.1 .1-.5 .1,2.7 .1,2.0 .1-5.6 .1,.4 .1,.3 .1,1.0 .1-4.0 .1,7.8 .1-5.8 .1,3.5 .1-5.2 .1,4.8 .1,.2 .1-3.3 .1,9.8 .1-6.6 .1,5.7 .1-3.3 .1-8.8 .1,3.4 .1,3.3 .1-1.5 .1-.1 .1-1.3 .1-6.2 .1,6.4 .1-8.0 .1,10.0 .1-4.0 .1,.1 .1,2.0 .1,2.0 .1-6.9 .1-1.3 .1,2.8 .1-3.9 .1,4.3 .1,10.3 .1-10.6 .1,6.8 .1-8.1 .1,6.7 .1-2.5 .1,1.1 .1,2.5 .1,4.8 .1-6.3 .1-.2 .1-4.5 .1,6.3 .1-3.3 .1,4.3 .1-3.5 .1,7.2 .1-15.0 .1,6.8 .1,4.7 .1-4.9 .1-1.8 .1,2.1 .1-4.4 .1,6.0 .1,8.8 .1-4.7 .1-9.0 .1,.9 .1,1.9 .1,5.7 .1-7.3 .1-6.9 .1,13.7 .1-.1 .1-4.9 .1-3.9 .1-.8 .1,3.4 .1-6.1 .1,11.9 .1-5.5 .1,4.4 .1,5.6 .1-2.8 .1-9.3 .1,8.1 .1,1.2 .1-7.6 .1-.9 .1,3.4 .1-5.9 .1,12.3 .1-15.1 .1,4.7 .1,3.4 .1,.2 .1,1.6 .1,.4 .1-2.0 .1,5.5 .1-13.1 .1,8.5 .1-2.8 .1,3.4 .1,.3 .1-4.5 .1,1.1 .1,5.7 .1-1.8 .1-4.1 .1,10.9 .1,1.1 .1-15.1 .1,7.1 .1,8.0 .1-6.1 .1-2.2 .1-1.7 .1-1.4 .1,1.4 .1-1.4 .1,5.2 .1-4.6 .1-.1 .1-3.1 .1,4.6 .1-3.3 .1,2.8 .1,4.9 .1-2.7 .1,.6 .1-.6 .1-1.2 .1-.7 .1-.8 .1,4.3 .1-7.4 .1,9.7 .1-5.3 .1-3.1 .1,1.0 .1-.8 .1,3.3 .1-3.6 .1,7.4 .1-7.7 .1-6.1 .1,6.2 .1-5.2 .1,7.8 .1,4.4 .1-1.7 .1-8.1 .1,2.3 .1,10.2 .1-5.9 .1-1.4 .1,4.2 .1,5.0 .1-4.1 .1-4.7 .1,.8 .1,1.0 .1-5.1 .1-1.8 .1,4.4 .1-4.1 .1,3.6 .1,.6 .1,8.9 .1-12.9 .1,2.9 .1-.2 .1,2.4 .1,2.4 .1-6.3 .1-1.5 .1-3.4 .1,2.9 .1,6.0 .1-2.1 .1-4.4 .1,2.6 .1,1.6 .1,1.9 .1-4.6 .1,1.3 .1-6.5 .1,2.7 .1,11.5 .1-16.0 .1,7.7 .1,2.3 .1-2.6 .1,4.4 .1-3.2 .1,.2 .1-.4 .1-7.6 .1,7.3 .1-3.1 .1,1.3 .1,3.2 .1,1.7 .1,1.0 .1-5.9 .1,3.8 .1,3.1 .1-.2 .1,1.0 .1-6.5 .1-.2 .1,4.2 .1-9.4 .1,6.7 .1-3.2 .1,.6 .1-5.9 .1,3.5 .1,3.7 .1,3.8 .1,.4 .1-4.6 .1-.5 .1-2.8 .1,5.2 .1-2.8 .1,3.6 .1,10.2 .1-13.1 .1-6.4 .1,2.7 .1-2.6 .1,1.1 .1,10.7 .1-4.7 .1-7.6 .1,9.4 .1,2.5 .1-7.0 .1-1.5 .1,1.4 .1,2.7 .1,1.5 .1,2.3 .1,.1 .1-.2 .1,.7 .1-3.1 .1-16.1 .1,12.5 .1,1.9 .1-3.1 .1,5.7 .1-5.7 .1-2.5 .1,10.3 .1-3.5 .1-2.0 .1,3.1 .1,.5 .1-3.2 .1-11.8 .1,7.1 .1,.9 .1-2.4 .1,5.2 .1,4.3 .1-7.5 .1-3.0 .1,14.0 .1-11.1 .1-3.6 .1,6.5 .1,.8 .1-5.2 .1,6.7 .1-5.8 .1-2.1 .1,4.9 .1,2.6 .1-6.4 .1,4.3 .1-2.0 .1,10.7 .1-13.7 .1,9.5 .1-6.6 .1-.4 .1,3.7 .1,.7 .1,1.7 .1-4.4 .1-4.3 .1,.2 .1,4.7 .1,.3 .1,3.7 .1-4.6 .1,2.9 .1,2.0 .1-6.3 .1-7.7 .1,1.4 .1-1.3 .1,13.9 .1-11.3 .1,9.5 .1-3.1 .1,5.2 .1-3.4 .1,2.0 .1-7.7 .1,1.2 .1,.4 .1-3.4 .1,2.3 .1,7.6 .1-15.6 .1,9.1 .1-5.5 .1,5.0 .1,3.0 .1-4.3 .1,3.9 .1-11.2 .1,12.6 .1-8.1 .1,5.7 .1-2.2 .1-11.8 .1,7.2 .1,4.6 .1,6.2 .1-6.1 .1-.2 .1-4.6 .1,10.1 .1,1.7 .1-8.5 .1-1.2 .1-6.8 .1,11.9 .1,6.8 .1-7.6 .1,2.5 .1-3.5 .1-7.3 .1,11.1 .1-12.4 .1,4.9 .1,2.3 .1,2.8 .1-2.3 .1-.1 .1-5.6 .1-2.6 .1,6.5 .1-3.8 .1-2.9 .1,.1 .1,3.7 .1-6.6 .1,2.4 .1-1.4 .1,8.7 .1,2.5 .1,6.2 .1-16.9 .1,3.9 .1,7.6 .1-5.5 .1-.6 .1,9.9 .1-10.0 .1-4.0 .1-.8 .1,7.9 .1-.1 .1-8.2 .1,1.8 .1,7.3 .1,.2 .1-6.0 .1,6.1 .1-.2 .1-11.6 .1,7.2 .1,3.5 .1-4.9 .1-7.7 .1,9.0 .1,5.1 .1,4.0 .1-18.5 .1,21.9 .1-16.8 .1,10.2 .1,1.3 .1-1.3 .1-4.1 .1-6.5 .1,8.7 .1-6.6 .1-7.8 .1,22.6 .1-7.9 .1,5.5 .1-13.5 .1,11.8 .1,.6 .1-.2 .1-7.7 .1-5.7 .1,5.0 .1-9.8 .1,2.5 .1,8.8 .1-5.2 .1,4.1 .1,.3 .1,10.0 .1-3.0 .1-6.6 .1,6.2 .1-9.6 .1,2.2 .1,6.1 .1-10.4 .1,4.8 .1-5.1 .1,7.0 .1,7.5 .1-11.6 .1,4.8 .1-5.4 .1-1.2 .1-.3 .1,13.1 .1,4.1 .1-8.7 .1-5.8 .1,6.9 .1-4.9 .1,5.5 .1-2.4 .1,0 .1,1.6 .1-.1 .1-4.7 .1-6.3 .1,6.2 .1-4.6 .1,6.2 .1-3.9 .1,5.2 .1,1.7 .1-8.9 .1,2.9 .1-.5 .1,8.1 .1,4.6 .1-4.0 .1-5.7 .1,8.7 .1-14.1 .1,14.4 .1-10.3 .1-7.7 .1,21.9 .1-3.4 .1-13.5 .1,6.9 .1-1.7 .1,1.5 .1-7.5 .1,3.9 .1,5.5 .1-1.1 .1,4.6 .1-5.2 .1,10.5 .1-14.2 .1,4.7 .1-10.2 .1,3.2 .1,12.2 .1-10.6 .1,7.9 .1-3.7 .1-4.5 .1,3.3 .1-.7 .1,.3 .1,5.8 .1-.4 .1-4.2 .1-2.9 .1,5.6 .1-1.7 .1,5.4 .1,5.9 .1-6.6 .1-4.0 .1-.6 .1-3.1 .1-.1 .1-.4 .1,2.9 .1-.1 .1,5.5 .1-5.2 .1,1.0 .1-4.5 .1,13.1 .1-5.1 .1,5.9 .1-4.4 .1,3.2 .1-7.3 .1,3.9 .1,7.3 .1-15.9 .1,11.0 .1,2.4 .1-5.7 .1,1.6 .1,2.4 .1-8.7 .1,5.0 .1-5.8 .1,1.0 .1,.3 .1,2.3 .1,1.4 .1,1.5 .1-8.5 .1,15.6 .1-3.7 .1-1.9 .1-4.9 .1,1.3 .1,3.0 .1-.5 .1-9.4 .1,11.0 .1,6.9 .1-18.5 .1,13.0 .1-2.8 .1-2.1 .1,6.8 .1-11.4 .1,6.1 .1,5.9 .1-7.4 .1-.9 .1,2.5 .1-2.5 .1,9.0 .1-10.9 .1,8.1 .1-9.5 .1,8.7 .1-3.4 .1-9.4 .1,10.0 .1-4.6 .1,2.8 .1,8.9 .1-11.7 .1,.3 .1,11.1 .1-5.7 .1,6.3 .1-5.3 .1-5.2 .1,5.7 .1,3.7 .1-1.2 .1-4.0 .1,.3 .1-.7 .1-1.9 .1,11.0 .1-8.3 .1-4.9 .1,2.9 .1,5.3 .1-.3 .1-3.3 .1-2.2 .1,3.1 .1-7.3 .1,1.7 .1,9.1 .1-5.4 .1,3.8 .1,3.6 .1-2.3 .1-2.6 .1,9.0 .1-6.1 .1-4.3 .1,4.7 .1-1.3 .1-5.3 .1,4.0 .1-.9 .1-6.7 .1,6.8 .1-.4 .1-.6 .1-5.0 .1,5.5 .1,1.4 .1,.7 .1-5.1 .1,7.5 .1-7.7 .1,4.2 .1,6.5 .1-8.2 .1,.8 .1,6.6 .1-5.9 .1,.4 .1,2.2 .1,3.5 .1-13.3 .1,5.7 .1-.6 .1-.3 .1,1.1 .1,.1 .1,4.7 .1-4.8 .1,4.2 .1,1.2 .1-4.5 .1,3.5 .1,8.5 .1-7.6 .1-3.9 .1,2.4 .1-3.4 .1,4.8 .1,2.4 .1-6.7 .1,2.5 .1,5.3 .1-6.4 .1,2.8 .1-4.9 .1,.9 .1,1.3 .1,10.6 .1-10.1 .1-.5 .1-.1 .1,1.6 .1,3.3 .1-1.8 .1,7.3 .1-7.1 .1,4.8 .1-4.5 .1,1.3 .1-7.9 .1,5.1 .1,.3 .1-.7 .1-7.3 .1,11.8 .1-4.9 .1-.2 .1,.8 .1,.1 .1,2.5 .1-6.5 .1,1.4 .1,6.9 .1-2.7 .1-2.0 .1-.7 .1-.9 .1,3.0 .1,4.8 .1-8.6 .1,9.9 .1-2.5 .1-5.0 .1,4.8 .1-8.6 .1-.9 .1,1.7 .1,3.4 .1,.3 .1-.6 .1,2.3 .1-8.4 .1,10.0 .1-7.2 .1,2.9 .1,1.0 .1-2.8 .1-.8 .1,1.4 .1,3.8 .1,2.3 .1,0 .1-5.9 .1,.8 .1-.4 .1,5.2 .1-9.4 .1,12.4 .1-6.4 .1-1.1 .1,4.2 .1,2.7 .1-2.6 .1,2.7 .1-3.4 .1,4.1 .1,.1 .1-5.0 .1,5.8 .1-4.7 .1-.3 .1-3.7 .1,2.4 .1,4.0 .1-7.7 .1,7.3 .1-1.1 .1-.2 .1-9.2 .1,7.8 .1,2.8 .1-5.2 .1,3.2 .1-8.8 .1,11.0 .1-4.9 .1,5.7 .1-10.0 .1,9.3 .1-3.4 .1,3.9 .1-6.4 .1,1.2 .1,10.6 .1-11.4 .1,.5 .1,1.6 .1-2.7 .1,8.2 .1,2.0 .1-9.0 .1-3.7 .1,14.0 .1-3.5 .1-.5 .1,.7 .1-7.4 .1,2.6 .1-4.5 .1-.1 .1,8.8 .1-6.0 .1,10.8 .1-8.0 .1-2.6 .1,5.2 .1,3.7 .1-4.8 .1-6.2 .1,5.9 .1,3.6 .1-6.8 .1-1.0 .1,6.6 .1-3.2 .1-4.5 .1,2.7 .1-1.4 .1,3.9 .1-.7 .1,3.8 .1,5.4 .1-15.2 .1,7.2 .1,1.8 .1-1.6 .1,2.1 .1-5.7 .1,1.1 .1,4.3 .1-7.2 .1-4.0 .1,11.6 .1-6.3 .1,1.5 .1-3.9 .1,.3 .1,.6 .1,2.9 .1,2.6 .1-9.5 .1,11.0 .1-7.0 .1,.5 .1,6.2 .1-2.6 .1-5.3 .1,12.2 .1-9.7 .1,4.0 .1-.2 .1,4.4 .1-6.7 .1,5.3 .1-6.2 .1,6.6 .1-6.7 .1,1.5 .1,8.1 .1-5.7 .1-.7 .1,7.7 .1-6.7 .1-4.2 .1,5.5 .1-6.8 .1,8.3 .1,.3 .1-6.4 .1-.1 .1,2.9 .1-.6 .1-3.5 .1,5.5 .1-9.2 .1,5.7 .1,.1 .1,.5 .1,2.1 .1-5.4 .1,6.4 .1-2.7 .1-1.6 .1-2.5 .1,.6 .1,5.5 .1-4.7 .1,3.7 .1,3.5 .1,0 .1,1.8 .1-6.5 .1-2.8 .1,7.5 .1-2.5 .1,2.9 .1-3.9 .1,4.2 .1-1.2 .1-.5 .1-.7 .1-.4 .1-.5 .1,0 .1,2.7 .1-5.3 .1,7.9 .1-6.4 .1,3.8 .1-3.7 .1-.5 .1,7.9 .1-8.1 .1-3.4 .1,2.0 .1,1.4 .1,8.7 .1-6.8 .1,2.5 .1-6.7 .1,4.8 .1,1.1 .1,3.9 .1-8.6 .1,4.5 .1-1.0 .1-4.6 .1,3.5 .1-.8 .1-7.1 .1,10.1 .1-.2 .1-3.3 .1-3.1 .1,9.7 .1-4.2 .1,2.7 .1,1.3 .1-6.6 .1,4.6 .1-3.6 .1,.6 .1,0 .1,.3 .1,3.8 .1-3.3 .1-1.0 .1-.4 .1,2.2 .1-4.3 .1,1.4 .1,1.6 .1-1.8 .1,1.6 .1-1.7 .1,9.0 .1-2.3 .1-3.0 .1-1.7 .1,7.7 .1-6.4 .1-1.3 .1,1.3 .1,0 .1,3.8 .1-4.8 .1,7.2 .1-10.1 .1,5.3 .1-5.7 .1,9.6 .1-7.3 .1,.9 .1,3.3 .1,1.2 .1-8.1 .1,2.6 .1-3.5 .1,5.2 .1-.8 .1-.9 .1-1.1 .1,1.0 .1-1.2 .1,4.3 .1,3.4 .1-11.8 .1,6.2 .1-1.0 .1,3.1 .1-4.9 .1,2.7 .1-3.0 .1,5.9 .1-2.1 .1-.8 .1,1.8 .1-.4 .1-6.2 .1,7.3 .1-1.0 .1-1.5 .1,3.8 .1,.8 .1-7.8 .1,1.0 .1,8.6 .1-1.1 .1-7.3 .1-1.5 .1,1.8 .1,.5 .1-3.7 .1,5.5 .1-4.5 .1,.3 .1,7.2 .1-5.4 .1,2.1 .1,2.3 .1,.7 .1-3.9 .1,1.2 .1-2.9 .1,8.7 .1-3.7 .1-4.7 .1,2.5 .1,2.4 .1-.8 .1,4.6 .1-1.5 .1-6.5 .1,1.5 .1-4.1 .1,5.2 .1-.3 .1,7.3 .1-7.5 .1-7.4 .1,4.8 .1,2.7 .1-4.7 .1,1.4 .1,1.7 .1,2.4 .1-1.8 .1-2.4 .1,5.7 .1-4.5 .1,.1 .1-3.0 .1,2.0 .1,4.9 .1-7.7 .1,5.3 .1,2.6 .1-3.7 .1,2.1 .1-4.6 .1,8.3 .1-.8 .1-2.9 .1-6.8 .1,2.4 .1,6.9 .1,2.5 .1-4.8 .1,3.2 .1-6.3 .1,1.5 .1,.6 .1,1.4 .1-6.6 .1,8.4 .1,1.3 .1-8.4 .1-.7 .1,5.8 .1-3.4 .1-5.6 .1,10.5 .1-2.2 .1-2.1 .1,8.8 .1-6.7 .1-3.1 .1,2.9 .1-3.8 .1,.9 .1,3.9 .1-3.2 .1-8.1 .1,15.7 .1-2.8 .1-.2 .1-.9 .1-.2 .1,3.4 .1-5.1 .1,6.4 .1-9.5 .1,2.3 .1-3.8 .1,3.5 .1,3.0 .1,3.1 .1-7.2 .1,2.3 .1-1.2 .1-1.3 .1-1.5 .1,4.2 .1-6.1 .1,6.3 .1-.3 .1-2.4 .1-1.2 .1-1.3 .1,11.1 .1-11.0 .1,9.9 .1-3.3 .1-3.3 .1-2.8 .1,7.5 .1,2.3 .1-9.1 .1,2.1 .1,4.6 .1-2.5 .1,5.7 .1-8.9 .1,3.8 .1-6.2 .1,11.5 .1-9.8 .1-5.1 .1,7.1 .1,0 .1,7.0 .1-7.8 .1,1.1 .1,2.1 .1,3.4 .1-5.8 .1,3.8 .1-1.8 .1-2.9 .1,1.3 .1-.3 .1-3.3 .1,7.4 .1-9.1 .1,8.9 .1-.8 .1-3.7 .1-2.4 .1,1.9 .1,2.4 .1,.9 .1-1.6 .1,2.4 .1-5.5 .1,2.8 .1-6.4 .1,8.2 .1-2.2 .1-2.1 .1,5.6 .1-1.7 .1-10.7 .1,8.3 .1-5.4 .1,9.0 .1,4.3 .1-10.1 .1,2.1 .1-1.2 .1,2.1 .1,1.0 .1,2.3 .1-9.4 .1,10.4 .1-9.0 .1,4.3 .1,2.8 .1-1.3 .1-6.0 .1,.8 .1,.8 .1,1.5 .1,4.2 .1-8.8 .1,6.3 .1,.5 .1-.2 .1-.4 .1,3.8 .1-3.8 .1,1.3 .1-1.1 .1,4.5 .1-13.5 .1,11.5 .1-5.6 .1-.1 .1-2.6 .1-3.3 .1,5.4 .1-1.2 .1,4.3 .1-7.2 .1,10.6 .1-4.3 .1-2.0 .1-1.7 .1-.3 .1-1.3 .1,2.1 .1,2.0 .1-.7 .1-4.6 .1,4.2 .1-2.4 .1,3.9 .1,6.3 .1-4.7 .1-3.5 .1-4.9 .1,.8 .1-1.1 .1,8.9 .1-5.5 .1,3.0 .1-2.6 .1,2.6 .1,4.9 .1-7.8 .1,1.2 .1-1.8 .1,6.3 .1-7.2 .1-.4 .1-1.0 .1-.1 .1,7.0 .1,6.8 .1-12.4 .1,7.3 .1-2.7 .1-5.1 .1,3.1 .1,.1 .1-1.8 .1,9.9 .1-14.6 .1,5.9 .1,2.5 .1-3.5 .1,2.8 .1,2.7 .1-2.8 .1,1.0 .1,1.0 .1-10.4 .1,13.3 .1,3.1 .1-5.0 .1,.1 .1-9.2 .1,4.9 .1-2.6 .1,.9 .1,5.9 .1-6.7 .1,2.6 .1-6.7 .1,6.6 .1,1.0 .1-3.0 .1,0 .1,9.9 .1-11.7 .1,.6 .1,.9 .1,7.7 .1,3.4 .1-6.7 .1-3.9 .1,1.1 .1,5.7 .1-9.2 .1,10.7 .1-.1 .1-5.1 .1,2.2 .1,.4 .1,3.1 .1-9.8 .1,8.4 .1-5.8 .1-1.4 .1,3.2 .1-1.1 .1-2.9 .1-2.3 .1,2.5 .1,9.0 .1,2.0 .1-4.9 .1,2.0 .1-6.3 .1,1.6 .1,1.4 .1-5.1 .1,.4 .1,4.1 .1-1.6 .1-2.7 .1,5.4 .1-2.4 .1,4.8 .1-3.8 .1-1.0 .1,1.6 .1-1.1 .1-1.8 .1-3.9 .1,9.2 .1-.4 .1,2.4 .1-11.0 .1,4.9 .1-.1 .1,2.2 .1-2.3 .1-.2 .1,4.8 .1-2.2 .1-4.9 .1,9.2 .1-1.2 .1-5.7 .1,0 .1-.6 .1,6.9 .1-4.9 .1-2.2 .1,1.6 .1-1.4 .1,3.6 .1-.1 .1-.5 .1-2.1 .1-6.4 .1,8.8 .1-7.2 .1,7.8 .1,3.3 .1-3.1 .1-2.4 .1,.8 .1,.2 .1-1.5 .1-.1 .1-1.2 .1,7.7 .1-4.3 .1,3.5 .1-4.3 .1,1.2 .1-.9 .1,2.4 .1,1.3 .1-2.1 .1-3.2 .1-.4 .1,8.9 .1-7.0 .1,0 .1,6.4 .1-1.3 .1-2.0 .1-3.3 .1,9.7 .1-6.8 .1,.6 .1-2.5 .1-4.4 .1,.3 .1,6.3 .1-.1 .1-2.2 .1-3.2 .1-1.0 .1,4.0 .1-3.9 .1,8.4 .1,.9 .1,4.1 .1-5.0 .1-5.1 .1-1.0 .1-5.0 .1,6.1 .1,1.5 .1,4.0 .1-1.2 .1,0 .1-1.3 .1,1.6 .1,2.8 .1-8.7 .1,2.1 .1-3.2 .1,10.5 .1-1.0 .1-1.9 .1-6.7 .1,4.8 .1-1.4 .1,1.1 .1-.9 .1,2.5 .1-3.1 .1,4.4 .1-2.1 .1-1.8 .1,.6 .1-1.1 .1,4.4 .1-3.7 .1,2.0 .1-2.3 .1-3.7 .1,8.2 .1-6.7 .1,6.0 .1-.8 .1-7.1 .1,2.5 .1,1.5 .1-1.0 .1-1.2 .1,6.6 .1,2.1 .1-3.3 .1-2.7 .1,2.6 .1-3.6 .1,2.5 .1,2.1 .1-1.8 .1-1.6 .1-2.1 .1,4.3 .1,.6 .1-2.0 .1-1.7 .1,4.5 .1,5.9 .1-8.7 .1,2.2 .1,.2 .1-8.9 .1,8.1 .1-2.7 .1,7.0 .1-5.4 .1-1.7 .1,1.9 .1,1.3 .1-2.4 .1,1.8 .1-4.3 .1,3.8 .1,3.3 .1,4.0 .1-4.2 .1-1.3 .1,3.0 .1-.5 .1,2.1 .1-1.8 .1-3.9 .1,1.2 .1-.2 .1,.5 .1-.3 .1-3.2 .1-4.2 .1,4.7 .1-4.4 .1,6.8 .1-.1 .1-5.4 .1,7.7 .1,.6 .1-2.5 .1,5.1 .1,.7 .1-9.8 .1,7.2 .1-1.9 .1,0 .1,1.7 .1-5.2 .1,.4 .1-.7 .1,.3 .1,2.1 .1-4.3 .1,1.4 .1,5.1 .1-2.0 .1,1.5 .1-7.1 .1,3.5 .1,.7 .1,1.9 .1-1.9 .1,4.8 .1-3.1 .1,.2 .1,0 .1,2.2 .1-3.7 .1,5.0 .1-2.1 .1-.9 .1,4.1 .1-3.0 .1,1.6 .1-.2 .1-1.8 .1,1.6 .1-2.4 .1,3.6 .1-4.0 .1-6.4 .1,10.7 .1-3.9 .1-4.0 .1,3.1 .1-2.2 .1,9.4 .1-5.0 .1-6.5 .1,6.7 .1-3.0 .1,7.2 .1-9.2 .1-3.7 .1,7.2 .1-1.3 .1-.2 .1-5.4 .1,8.0 .1,3.9 .1-11.1 .1,9.6 .1-5.4 .1,8.9 .1-5.8 .1-1.9 .1,4.0 .1-1.8 .1-3.4 .1,4.0 .1-3.8 .1-3.9 .1,11.8 .1-7.3 .1-.8 .1,2.9 .1-5.9 .1,.7 .1,2.6 .1,0 .1,1.8 .1,3.3 .1-5.0 .1,3.0 .1,.4 .1-5.2 .1,4.0 .1-3.6 .1,6.3 .1-1.9 .1-1.4 .1-4.2 .1,4.5 .1-2.7 .1,4.6 .1-2.6 .1-2.1 .1,5.4 .1-.6 .1-4.1 .1,5.4 .1-4.5 .1,0 .1,1.4 .1-2.7 .1,.9 .1,.9 .1,5.2 .1-.1 .1-5.4 .1,5.8 .1-5.1 .1,1.3 .1,3.6 .1-3.8 .1,6.2 .1-6.4 .1-4.4 .1,7.7 .1-5.3 .1,.4 .1-6.1 .1,10.1 .1-.5 .1-.1 .1,.6 .1,2.2 .1-5.4 .1,3.1 .1-5.2 .1,1.2 .1,4.3 .1-2.0 .1-5.3 .1,5.2 .1-1.6 .1-2.0 .1,3.9 .1-2.6 .1-3.5 .1,1.4 .1,8.8 .1-10.0 .1,5.3 .1,1.2 .1,.1 .1-5.7 .1,2.7 .1,1.5 .1,2.0 .1-4.4 .1-1.6 .1,6.6 .1,.3 .1-2.2 .1-3.0 .1,3.1 .1-.9 .1,2.3 .1-6.4 .1,4.2 .1-.8 .1-2.9 .1,4.0 .1-.5 .1-1.4 .1,2.5 .1-5.5 .1,4.1 .1,1.5 .1-.4 .1,2.4 .1-6.9 .1-.9 .1,5.3 .1,.6 .1,5.1 .1-4.6 .1-4.5 .1,5.1 .1-5.0 .1-1.9 .1,11.5 .1-6.0 .1,1.2 .1-.5 .1,3.8 .1-4.6 .1,2.8 .1-6.7 .1-1.1 .1,8.5 .1,.1 .1-2.9 .1-.8 .1-.2 .1-2.6 .1,6.8 .1-2.7 .1,3.9 .1-4.7 .1,2.0 .1-1.6 .1,.7 .1-5.7 .1,5.0 .1,5.1 .1-8.2 .1,1.2 .1,3.1 .1,.2 .1-1.0 .1-6.7 .1,6.4 .1-5.1 .1,1.1 .1,1.3 .1,.3 .1,3.3 .1,4.5 .1-4.6 .1-.1 .1-4.9 .1,.8 .1-1.2 .1,1.6 .1-1.7 .1,1.3 .1,1.4 .1-2.4 .1-1.3 .1,.2 .1,5.5 .1-1.2 .1,2.9 .1,.1 .1-4.2 .1,3.1 .1-6.3 .1,11.1 .1-3.3 .1-4.2 .1-2.8 .1,4.6 .1-6.7 .1,3.3 .1,4.6 .1-2.0 .1-1.7 .1,4.3 .1-5.9 .1,3.9 .1-2.3 .1-1.0 .1,3.9 .1-4.4 .1,8.7 .1-7.4 .1,7.6 .1-9.1 .1,5.0 .1-5.3 .1-.4 .1,6.1 .1-.1 .1-5.8 .1,7.3 .1-5.9 .1,2.8 .1,.7 .1,.7 .1-7.1 .1,10.1 .1-3.1 .1-2.9 .1-1.8 .1-2.0 .1,1.0 .1,5.7 .1-2.6 .1-2.4 .1,1.8 .1,6.2 .1-5.6 .1-.7 .1,5.7 .1-2.6 .1-1.2 .1-1.9 .1-2.8 .1,1.1 .1,2.1 .1,.7 .1,1.7 .1,.6 .1-.9 .1,0 .1-3.6 .1-3.4 .1,4.8 .1-1.3 .1-2.1 .1,4.2 .1-2.9 .1,.4 .1,3.0 .1,.6 .1-2.2 .1,3.4 .1-2.1 .1-2.4 .1,3.2 .1,5.4 .1-7.5 .1,5.4 .1,.6 .1,.4 .1-6.8 .1,8.3 .1-5.6 .1-1.0 .1,0 .1,2.5 .1-1.6 .1-.7 .1,4.3 .1-5.9 .1-.9 .1,5.4 .1-.3 .1,1.2 .1-6.3 .1,6.3 .1-1.8 .1,3.8 .1-8.8 .1,4.3 .1-1.5 .1-3.8 .1,2.6 .1,5.4 .1-4.7 .1-.7 .1,4.6 .1,.4 .1,0 .1-5.2 .1,2.2 .1,3.1 .1-4.9 .1-.2 .1,4.6 .1,2.1 .1-7.9 .1-3.3 .1,2.5 .1,1.3 .1,2.5 .1,2.2 .1-2.2 .1-1.6 .1,2.5 .1-3.2 .1,2.6 .1-1.7 .1,4.8 .1-.6 .1-4.7 .1-.5 .1,1.6 .1-3.4 .1,2.6 .1,0 .1,4.7 .1-3.8 .1-1.0 .1-1.6 .1,.5 .1,3.2 .1-.4 .1,3.9 .1-5.1 .1,4.9 .1-2.3 .1-.8 .1-5.7 .1,2.0 .1,5.9 .1,1.9 .1-3.4 .1,1.6 .1-3.4 .1,.1 .1-.8 .1,4.7 .1-1.8 .1-1.7 .1-.2 .1,2.5 .1-.6 .1-3.3 .1,7.3 .1-4.2 .1-.7 .1,4.2 .1-1.3 .1-3.2 .1,1.8 .1-4.5 .1,1.2 .1-4.6 .1,9.9 .1-8.9 .1,7.4 .1-4.3 .1-.4 .1,2.2 .1,1.3 .1,1.0 .1,3.4 .1-4.1 .1,1.5 .1-4.2 .1,3.8 .1-1.6 .1-1.8 .1,1.1 .1,.1 .1,.7 .1,.6 .1-2.6 .1-.6 .1,4.2 .1-6.9 .1,3.1 .1,6.1 .1-10.9 .1,4.6 .1,3.9 .1-6.6 .1,11.2 .1-13.0 .1,10.6 .1,.3 .1-1.8 .1-3.2 .1,1.6 .1-3.5 .1,9.2 .1-9.8 .1,2.4 .1,3.6 .1-6.0 .1,2.1 .1,1.5 .1-4.2 .1,7.1 .1-2.3 .1-5.3 .1,4.2 .1-2.1 .1,.4 .1,2.1 .1-2.2 .1,4.7 .1-4.7 .1,4.7 .1-2.8 .1,2.5 .1-3.9 .1,.1 .1-1.8 .1,4.9 .1,1.0 .1,3.3 .1-2.3 .1-2.9 .1-1.3 .1,1.7 .1-1.2 .1,4.2 .1-1.5 .1-4.9 .1,.4 .1,5.8 .1-3.0 .1-1.5 .1,4.0 .1-4.4 .1,.3 .1-.5 .1-4.2 .1,7.9 .1-5.8 .1,1.8 .1-.5 .1,4.2 .1-2.3 .1,.3 .1-4.7 .1,4.4 .1-3.9 .1,5.0 .1,.2 .1-1.1 .1,5.8 .1-4.2 .1,.2 .1-1.3 .1-.9 .1,3.2 .1,.4 .1-6.7 .1,6.6 .1-1.5 .1,1.2 .1-1.3 .1-4.8 .1,.2 .1,8.4 .1-4.4 .1-4.6 .1,4.9 .1-2.0 .1-4.1 .1-1.2 .1,1.9 .1,5.2 .1-.9 .1-.5 .1,1.5 .1,.9 .1-7.5 .1,5.0 .1-1.5 .1-1.1 .1,1.9 .1,1.2 .1-.4 .1-3.2 .1,2.6 .1,6.9 .1-8.4 .1-1.7 .1,5.4 .1,.9 .1-.4 .1-4.4 .1,5.9 .1-4.9 .1-1.0 .1,1.5 .1,1.4 .1,2.2 .1-.2 .1-1.8 .1,2.7 .1-1.6 .1,1.5 .1-6.3 .1-.5 .1,6.5 .1-6.0 .1,3.0 .1,.6 .1-1.1 .1,.1 .1,5.1 .1-10.1 .1,8.7 .1,3.9 .1-6.2 .1-.1 .1,2.0 .1,3.0 .1-8.2 .1,3.5 .1-.8 .1,2.1 .1-1.1 .1,1.4 .1-3.0 .1,1.3 .1-2.0 .1,.1 .1,1.4 .1,0 .1-2.8 .1,7.5 .1-4.7 .1-3.4 .1,6.8 .1-5.0 .1,3.4 .1-1.4 .1,.7 .1-.2 .1-2.0 .1,1.6 .1,5.5 .1-11.7 .1,6.3 .1,1.0 .1-4.0 .1-.9 .1,9.6 .1-6.8 .1,6.6 .1-4.2 .1-1.2 .1,1.1 .1,.4 .1,1.5 .1-2.0 .1-.8 .1,.1 .1,3.2 .1-1.5 .1-4.9 .1,1.0 .1,2.6 .1-2.6 .1,.7 .1-1.6 .1,1.9 .1,1.9 .1,1.5 .1-2.6 .1,5.6 .1-5.8 .1,6.4 .1-3.5 .1-1.4 .1-2.7 .1-4.8 .1,5.8 .1,.9 .1,4.7 .1-8.9 .1,8.9 .1-5.9 .1,2.7 .1-8.2 .1,6.6 .1-1.3 .1,2.8 .1-1.6 .1-3.3 .1,5.6 .1-.7 .1-.2 .1,1.1 .1,.2 .1-3.0 .1-3.6 .1-.1 .1,7.4 .1-1.7 .1-1.6 .1-1.5 .1,1.3 .1,0 .1-1.0 .1-1.0 .1,7.7 .1-5.2 .1-2.2 .1-1.9 .1,1.6 .1,3.9 .1,.1 .1-2.6 .1,.7 .1-1.0 .1-2.1 .1,6.5 .1-2.5 .1,5.2 .1-8.3 .1,1.7 .1,2.8 .1-3.1 .1-3.0 .1,1.2 .1,2.8 .1,.6 .1-1.1 .1,2.9 .1,0 .1-4.6 .1,2.0 .1-.7 .1,2.1 .1,1.0 .1-2.3 .1,1.1 .1-2.1 .1-2.9 .1,1.1 .1,4.7 .1-.8 .1,3.0 .1-4.1 .1,2.2 .1,1.2 .1-.8 .1-4.3 .1,1.1 .1,.9 .1-3.0 .1,3.9 .1,1.5 .1-4.1 .1,6.6 .1-6.0 .1,.2 .1-.1 .1-1.2 .1,3.0 .1-1.1 .1,4.4 .1-2.8 .1-.2 .1-2.0 .1-3.2 .1,3.5 .1-2.0 .1,4.8 .1-2.6 .1,4.5 .1-2.4 .1,.2 .1-1.6 .1,0 .1,1.2 .1,.7 .1-4.4 .1,3.2 .1,4.9 .1-6.4 .1-.4 .1-1.2 .1-2.0 .1,7.0 .1-3.0 .1,.7 .1,4.1 .1,1.2 .1-8.5 .1,5.2 .1-1.2 .1-.5 .1,.2 .1-1.4 .1,4.3 .1-2.6 .1-.7 .1,2.4 .1-.9 .1-1.1 .1-.4 .1,3.8 .1-3.3 .1-1.6 .1-2.0 .1,1.3 .1-1.8 .1,3.1 .1,.4 .1-6.1 .1,5.4 .1,1.4 .1-1.0 .1-2.9 .1,5.9 .1-5.3 .1-1.3 .1,.4 .1,2.8 .1,2.6 .1,.5 .1-2.5 .1-3.7 .1,1.4 .1-.6 .1,1.9 .1-4.2 .1,4.9 .1,1.5 .1-2.1 .1,1.6 .1-3.7 .1-1.4 .1,2.2 .1,4.7 .1-.3 .1-3.9 .1,4.4 .1-4.1 .1,4.9 .1-2.7 .1-2.5 .1,3.3 .1-4.1 .1-.4 .1-1.4 .1,4.5 .1-.8 .1-.1 .1-.8 .1,4.8 .1-4.9 .1-.7 .1,5.1 .1,.5 .1-2.8 .1-5.5 .1,3.0 .1,3.2 .1-1.6 .1,4.1 .1-7.7 .1,5.4 .1-3.4 .1,5.1 .1-3.7 .1,2.9 .1-4.4 .1-2.0 .1,.8 .1,1.3 .1-1.0 .1,5.8 .1,.4 .1-2.8 .1-2.8 .1,1.8 .1-1.5 .1,5.6 .1-3.0 .1,.5 .1-2.4 .1-4.2 .1,3.3 .1-.9 .1,3.9 .1-.7 .1-2.4 .1,4.4 .1,1.8 .1-6.6 .1,.1 .1,1.8 .1-1.2 .1,.7 .1,2.5 .1,3.2 .1-9.2 .1,4.6 .1,.2 .1-.4 .1-.2 .1-.4 .1,3.5 .1-3.8 .1,.9 .1,.3 .1,.3 .1-.8 .1,3.1 .1-2.6 .1,.5 .1-.6 .1-2.5 .1,.4 .1-.5 .1,3.2 .1-2.4 .1-.9 .1,3.4 .1,.8 .1-6.0 .1,9.0 .1-4.3 .1-.4 .1,3.1 .1-2.6 .1-1.8 .1,7.3 .1-8.5 .1,2.5 .1,2.5 .1-5.0 .1,2.5 .1,1.3 .1,5.0 .1-8.3 .1,2.2 .1,1.8 .1-1.5 .1-3.3 .1,4.2 .1-.8 .1,.9 .1,1.7 .1-.3 .1-1.5 .1-.3 .1-3.7 .1,2.6 .1,.9 .1-1.6 .1,1.3 .1-2.4 .1,6.1 .1,1.6 .1-6.6 .1,2.0 .1-1.6 .1,3.9 .1-2.2 .1-.9 .1-.8 .1,.9 .1-2.9 .1,4.4 .1-3.7 .1,3.3 .1-1.1 .1,2.5 .1-2.8 .1,2.7 .1-5.1 .1,4.0 .1-2.2 .1,1.1 .1-.3 .1,2.2 .1-10.2 .1,8.6 .1-4.7 .1,7.0 .1-8.2 .1,2.5 .1-1.8 .1,8.7 .1-7.7 .1,3.7 .1-1.7 .1-3.3 .1,3.8 .1,2.6 .1-2.2 .1,2.9 .1-4.0 .1,1.6 .1-1.0 .1,1.9 .1,4.0 .1-2.9 .1-1.5 .1-2.1 .1-.4 .1,5.8 .1-6.7 .1,.5 .1,2.1 .1-2.0 .1,7.4 .1-11.1 .1,6.9 .1,1.0 .1-4.8 .1,1.2 .1,2.8 .1,3.1 .1-6.6 .1-1.7 .1,6.6 .1,1.5 .1-4.9 .1-4.9 .1,9.6 .1-4.3 .1,3.4 .1-3.0 .1-.9 .1-.2 .1,5.0 .1-.1 .1-9.3 .1,3.2 .1,7.0 .1-5.6 .1-2.5 .1,3.5 .1-.3 .1,0 .1-.9 .1,.4 .1-.4 .1,2.1 .1-3.0 .1,1.3 .1,.4 .1,3.8 .1-2.4 .1-1.3 .1,1.7 .1-.3 .1,1.7 .1-1.5 .1,3.4 .1-1.2 .1-3.6 .1-1.0 .1,3.4 .1-1.0 .1-1.5 .1-3.6 .1-1.0 .1,5.7 .1,1.1 .1,.1 .1-5.4 .1,6.0 .1-4.1 .1,2.4 .1,.1 .1-3.2 .1,.6 .1-3.9 .1,3.0 .1-2.3 .1,5.8 .1-.9 .1,2.2 .1-1.5 .1-2.6 .1,2.6 .1-1.9 .1,2.6 .1-.8 .1-3.4 .1,2.6 .1,.1 .1-.9 .1,3.1 .1,2.2 .1-5.5 .1,.1 .1-4.9 .1,5.5 .1-.8 .1-4.5 .1,6.4 .1,.7 .1-3.4 .1,.9 .1-1.5 .1,4.5 .1-5.9 .1,3.1 .1,5.9 .1-5.0 .1,1.1 .1-1.6 .1-2.7 .1,3.0 .1,1.2 .1-3.8 .1,3.6 .1,2.3 .1-.4 .1-6.9 .1,1.6 .1-1.7 .1,7.0 .1-1.2 .1,.2 .1-4.1 .1-.7 .1,3.2 .1,.1 .1-2.5 .1,2.6 .1,1.3 .1-1.1 .1-3.3 .1-2.0 .1,4.0 .1,1.1 .1-1.1 .1-.4 .1-.7 .1,3.7 .1-2.0 .1,.4 .1-2.8 .1,.9 .1,2.0 .1-3.0 .1-.7 .1,2.4 .1,4.0 .1-2.6 .1,3.3 .1-4.1 .1-.5 .1-2.8 .1,2.1 .1,5.2 .1-2.8 .1,1.0 .1-.1 .1-1.8 .1-.5 .1,.8 .1,3.6 .1-2.7 .1,.1 .1-.9 .1-2.4 .1,1.3 .1-1.7 .1,5.0 .1-8.1 .1,4.9 .1,6.6 .1-6.9 .1-2.1 .1,3.0 .1,3.4 .1-3.8 .1,2.0 .1-1.3 .1-1.3 .1,7.0 .1-10.5 .1,3.1 .1,.1 .1,2.3 .1,.1 .1,.9 .1-1.6 .1-4.1 .1,5.1 .1-2.2 .1,.1 .1-3.2 .1,2.4 .1-.4 .1,1.8 .1-3.7 .1,3.9 .1,.2 .1-3.8 .1,1.9 .1-.6 .1,4.6 .1-8.4 .1,5.1 .1-3.4 .1,3.2 .1,3.3 .1-3.8 .1,2.0 .1-2.6 .1,7.2 .1-2.6 .1,.5 .1-6.4 .1,.6 .1,5.7 .1-3.3 .1-.2 .1,1.6 .1-4.2 .1,5.3 .1-2.0 .1,1.2 .1-3.0 .1,3.1 .1-3.1 .1,4.3 .1,.4 .1-.5 .1-1.1 .1,.3 .1-7.6 .1,8.2 .1-2.9 .1,.9 .1-1.0 .1-2.8 .1,2.2 .1,3.1 .1,2.0 .1-5.3 .1-.8 .1,5.4 .1-5.3 .1,7.7 .1-5.3 .1-2.4 .1,4.8 .1,1.9 .1-8.2 .1,7.8 .1-4.8 .1,4.6 .1-4.8 .1-3.1 .1,5.4 .1,1.1 .1,3.0 .1-.9 .1-2.7 .1-2.5 .1-.7 .1,.6 .1-1.4 .1,1.4 .1-5.2 .1,6.4 .1-.5 .1,6.1 .1-4.1 .1-3.2 .1,2.7 .1-4.6 .1,1.6 .1-3.3 .1,8.6 .1-2.2 .1-4.6 .1,2.9 .1,2.6 .1-1.2 .1-.3 .1-3.2 .1,.6 .1,1.9 .1,2.1 .1-4.5 .1-.8 .1,5.9 .1-5.4 .1,5.3 .1-2.2 .1,1.6 .1,2.3 .1-2.8 .1,.3 .1-4.4 .1,.5 .1,3.5 .1,2.3 .1-.3 .1,2.3 .1-5.2 .1-.2 .1,2.1 .1-2.6 .1,1.0 .1-3.8 .1,5.3 .1-5.4 .1,4.2 .1-5.1 .1,6.6 .1-5.6 .1,4.9 .1-6.3 .1,3.0 .1,3.4 .1-4.4 .1,2.3 .1-1.4 .1-4.8 .1,6.8 .1,.4 .1-4.1 .1,4.4 .1-3.6 .1-.5 .1,2.6 .1-1.8 .1,7.8 .1-10.0 .1,5.9 .1,.7 .1-7.7 .1,.6 .1,6.0 .1-2.7 .1,2.2 .1,2.0 .1-4.0 .1-1.8 .1-3.2 .1,6.5 .1-2.9 .1,3.2 .1-.2 .1-4.2 .1,8.1 .1-1.7 .1-.6 .1-5.3 .1,2.0 .1-.3 .1,.3 .1-1.8 .1,4.0 .1-.5 .1,.4 .1-2.3 .1,4.7 .1-2.9 .1-6.5 .1,4.3 .1,1.5 .1,2.7 .1-3.3 .1,.1 .1-1.0 .1,3.4 .1-2.9 .1-.4 .1-.3 .1,3.3 .1-2.8 .1-3.0 .1,6.0 .1-3.4 .1,2.7 .1,.1 .1,2.1 .1-.4 .1-4.2 .1,1.1 .1-3.0 .1,7.8 .1-3.3 .1,2.5 .1-4.5 .1-4.5 .1,9.4 .1-3.8 .1,.1 .1-.2 .1,1.6 .1-.3 .1-5.6 .1,7.0 .1-4.2 .1,.2 .1,5.7 .1-2.1 .1-3.3 .1-4.0 .1,5.3 .1,1.0 .1-1.6 .1-3.1 .1,1.2 .1-1.2 .1,3.8 .1,1.6 .1,.5 .1-8.6 .1,6.6 .1,.8 .1-2.8 .1,1.0 .1,5.9 .1-5.0 .1,1.8 .1-3.5 .1,1.3 .1-4.6 .1,4.4 .1,3.2 .1,2.3 .1-2.3 .1-1.3 .1-1.7 .1-1.7 .1,1.1 .1,2.1 .1-3.7 .1,4.5 .1-5.0 .1-2.1 .1,2.0 .1-1.7 .1,.8 .1,6.5 .1-3.5 .1,1.1 .1,2.5 .1,.2 .1-4.6 .1,4.8 .1-2.5 .1-.9 .1,1.1 .1-4.9 .1,1.7 .1,1.8 .1,1.8 .1-2.5 .1,.6 .1,2.9 .1,1.1 .1-1.7 .1,1.4 .1-4.4 .1,.2 .1,1.7 .1-1.7 .1-.5 .1,5.7 .1-4.9 .1-2.0 .1,3.8 .1,3.5 .1-4.6 .1,3.1 .1-4.4 .1-.2 .1-.5 .1,1.4 .1,5.2 .1-7.8 .1,7.3 .1-6.9 .1,2.0 .1,2.8 .1-.5 .1-.9 .1-2.5 .1,2.7 .1-3.7 .1,8.7 .1-6.5 .1,1.0 .1-8.3 .1,6.6 .1-2.2 .1,6.0 .1-3.3 .1,2.2 .1-3.3 .1,.5 .1,4.7 .1-5.9 .1-2.2 .1,5.8 .1-4.1 .1,1.9 .1,2.7 .1-3.7 .1,4.4 .1-4.1 .1,5.7 .1-.4 .1-4.7 .1,.6 .1-1.6 .1,2.7 .1,2.5 .1-6.8 .1,6.2 .1-5.8 .1,1.2 .1-2.5 .1,10.2 .1-5.3 .1,.5 .1-2.4 .1,4.5 .1-8.3 .1,5.6 .1,5.7 .1-6.7 .1,1.0 .1,1.7 .1-3.9 .1,2.2 .1,2.5 .1-2.0 .1,.5 .1-1.9 .1,1.7 .1-.7 .1,3.7 .1-1.9 .1-2.5 .1-5.4 .1,7.9 .1,.1 .1-4.4 .1-2.8 .1,2.2 .1,5.4 .1-5.1 .1,1.5 .1,1.8 .1,2.6 .1-3.2 .1-.2 .1-1.2 .1,5.7 .1-1.5 .1-3.0 .1-3.4 .1,1.6 .1,3.6 .1-3.4 .1,4.2 .1-1.4 .1-.2 .1,1.0 .1-.4 .1-3.5 .1,1.3 .1,6.9 .1-9.1 .1,1.9 .1,4.0 .1-3.2 .1-1.7 .1-1.3 .1,4.8 .1,1.3 .1,1.0 .1-3.5 .1,2.6 .1-5.4 .1,3.1 .1-2.2 .1,2.2 .1,1.5 .1,.8 .1-5.3 .1,5.9 .1-4.6 .1-1.4 .1,2.2 .1-3.3 .1,3.8 .1,.7 .1-1.2 .1,1.9 .1-2.2 .1,.8 .1-3.7 .1,3.8 .1-2.3 .1,1.0 .1,1.0 .1,.7 .1-4.7 .1,.2 .1,6.1 .1-.8 .1-.3 .1,1.3 .1,1.1 .1-2.1 .1-1.3 .1-2.6 .1,.2 .1,1.2 .1,2.0 .1-.2 .1-.5 .1-.4 .1,2.0 .1-1.1 .1,.2 .1,.1 .1-2.2 .1-3.2 .1,5.9 .1-.2 .1-1.7 .1-.5 .1,7.0 .1-7.8 .1,1.4 .1,1.2 .1-3.7 .1,3.3 .1,4.4 .1-2.3 .1-.7 .1-.1 .1-1.3 .1,2.2 .1-2.9 .1-.6 .1,1.3 .1,2.1 .1-1.5 .1,.9 .1-6.9 .1,8.2 .1,2.9 .1-2.5 .1-4.2 .1-1.4 .1,2.9 .1-3.2 .1,4.4 .1-3.3 .1,3.9" fill="none" stroke="#000" stroke-width="1.0"/>
<path d="M587.5,145.6l.1-2.7 .1,7.5 .1-11.7 .1,5.9 .1,3.5 .1-1.1 .1-2.2 .1-4.5 .1-5.5 .1,6.5 .1-2.9 .1,8.0 .1-5.3 .1,4.5 .1-14.5 .1,17.2 .1-12.5 .1-5.1 .1,1.1 .1,5.1 .1,12.6 .1-3.0 .1-14.1 .1,9.4 .1-1.6 .1-11.4 .1,4.3 .1-8.4 .1,9.1 .1-11.3 .1,11.6 .1-1.3 .1,1.1 .1-.3 .1,16.7 .1-12.8 .1,4.9 .1,4.3 .1,1.2 .1-1.9 .1-10.5 .1-4.5 .1,2.7 .1,2.6 .1,4.0 .1-.6 .1-19.7 .1,19.7 .1,16.0 .1-6.2 .1-12.5 .1,11.4 .1-25.7 .1,30.3 .1-7.8 .1,0 .1-17.0 .1,32.7 .1-20.6 .1,1.1 .1,10.7 .1-10.7 .1-5.2 .1,12.5 .1-13.5 .1,14.6 .1-4.8 .1,8.2 .1-18.9 .1,20.2 .1-7.6 .1,13.8 .1-21.1 .1,20.5 .1-9.2 .1,.9 .1-12.1 .1,10.6 .1,1.0 .1-11.8 .1-2.5 .1,3.3 .1,18.0 .1-10.2 .1,6.3 .1-5.0 .1-1.2 .1,1.0 .1-4.9 .1,13.1 .1-8.1 .1,.5 .1-12.5 .1,13.5 .1-7.6 .1,1.5 .1,12.2 .1-16.5 .1,7.1 .1,6.7 .1,4.2 .1-12.9 .1,6.7 .1-.1 .1-10.9 .1-7.7 .1,1.9 .1,19.7 .1-3.7 .1-11.0 .1,5.6 .1,2.0 .1,.4 .1,2.7 .1,17.3 .1-22.7 .1,7.2 .1-6.8 .1,1.2 .1-1.8 .1,5.2 .1-2.3 .1,7.0 .1-.9 .1-8.2 .1,21.5 .1-23.1 .1,11.7 .1,16.0 .1-23.6 .1,15.5 .1,.9 .1-7.9 .1-16.1 .1,24.6 .1-9.6 .1-4.6 .1,13.8 .1-14.6 .1,13.5 .1-11.7 .1,8.2 .1-11.7 .1,5.3 .1-3.6 .1,1.7 .1,6.8 .1-2.4 .1,2.9 .1,8.2 .1-10.0 .1-12.4 .1,11.6 .1,2.9 .1,7.0 .1,.3 .1-.4 .1-8.2 .1,6.5 .1-14.8 .1,19.9 .1-5.9 .1,.7 .1-12.9 .1,10.2 .1-4.8 .1,9.0 .1-13.1 .1,16.6 .1-2.7 .1,10.7 .1-14.2 .1,0 .1,2.3 .1-.8 .1-.7 .1-6.5 .1,.3 .1,4.1 .1,2.2 .1-5.8 .1,.5 .1,6.3 .1,7.3 .1-6.0 .1,6.2 .1,2.3 .1-1.0 .1-7.7 .1,.4 .1-9.4 .1,8.2 .1,8.0 .1-10.0 .1,16.5 .1,.9 .1-11.6 .1,8.8 .1-15.1 .1,2.8 .1,4.8 .1,2.7 .1-1.0 .1-4.1 .1,18.6 .1-10.7 .1,.2 .1,2.7 .1-3.1 .1-2.5 .1-1.9 .1-6.8 .1,20.2 .1-15.4 .1-4.6 .1,5.6 .1-4.9 .1,23.1 .1-10.3 .1,6.8 .1,.4 .1-5.6 .1,.2 .1-8.1 .1,4.2 .1-3.2 .1,4.2 .1-4.5 .1,12.5 .1-3.1 .1-5.3 .1-9.7 .1,14.9 .1,1.4 .1-5.9 .1-7.3 .1,10.7 .1,4.0 .1-18.4 .1,15.6 .1-14.7 .1,11.9 .1,10.4 .1-10.1 .1,2.5 .1-4.9 .1,2.0 .1,14.0 .1-5.6 .1-10.1 .1-.4 .1,2.5 .1,13.4 .1-7.9 .1,1.3 .1-9.0 .1-5.6 .1,16.0 .1-8.5 .1-4.3 .1,.6 .1,.1 .1,.5 .1-5.7 .1,16.8 .1-5.0 .1,3.7 .1-8.0 .1,4.2 .1-1.0 .1,6.1 .1-2.1 .1-2.8 .1-6.0 .1-3.4 .1,2.5 .1,1.1 .1,.6 .1-4.2 .1,17.5 .1-8.3 .1-13.8 .1,5.7 .1-1.5 .1,9.6 .1,5.0 .1-12.3 .1,9.7 .1-5.4 .1,8.6 .1,1.4 .1-6.3 .1,2.5 .1-4.3 .1-2.1 .1-5.7 .1,10.0 .1-2.4 .1,12.9 .1-12.8 .1-.6 .1-5.0 .1,3.1 .1,9.9 .1-8.1 .1,9.7 .1-15.0 .1-1.2 .1,8.9 .1,3.8 .1-8.4 .1,7.6 .1,1.9 .1,.9 .1-6.9 .1,.4 .1-9.4 .1,9.9 .1,1.6 .1,6.6 .1-15.6 .1,2.5 .1-.8 .1,11.1 .1-18.4 .1,7.0 .1,18.4 .1-8.2 .1-11.5 .1,7.5 .1,5.3 .1-1.6 .1-4.4 .1-3.3 .1,9.5 .1-4.8 .1,4.8 .1-2.3 .1-4.9 .1,11.1 .1-11.1 .1,5.4 .1-6.1 .1,2.4 .1,0 .1-2.3 .1,5.2 .1,6.2 .1,3.2 .1-2.3 .1-9.2 .1,9.4 .1-5.8 .1,7.9 .1-17.4 .1,15.7 .1-11.8 .1,10.1 .1-9.2 .1,7.9 .1-6.7 .1-8.9 .1,5.2 .1,4.2 .1,1.5 .1-12.7 .1,6.0 .1,2.7 .1,3.0 .1,2.5 .1-5.8 .1-3.8 .1,10.3 .1-3.5 .1,7.0 .1-7.9 .1,6.7 .1-8.5 .1,6.6 .1-.9 .1,2.1 .1-7.5 .1,4.6 .1-3.9 .1,3.9 .1,4.5 .1,9.3 .1-12.3 .1,3.8 .1-3.2 .1,5.8 .1-3.6 .1,3.3 .1-3.7 .1,10.7 .1-4.8 .1-16.7 .1,11.0 .1-1.1 .1-12.3 .1,7.5 .1,2.3 .1-1.4 .1,4.8 .1-10.3 .1,13.9 .1,.2 .1-2.1 .1-3.6 .1,2.0 .1-2.4 .1,8.7 .1-3.3 .1,8.1 .1-12.5 .1,9.8 .1-10.7 .1,2.3 .1-4.5 .1,8.4 .1-3.0 .1,3.8 .1,4.7 .1-8.1 .1,2.4 .1,2.9 .1-5.0 .1-2.4 .1,4.9 .1,.8 .1,13.1 .1-11.1 .1-7.8 .1,6.0 .1,4.2 .1-8.8 .1,4.5 .1-5.0 .1,4.2 .1,8.2 .1-8.0 .1-5.8 .1,6.9 .1-.5 .1,4.7 .1-12.7 .1,2.5 .1,4.4 .1-7.5 .1,13.9 .1-16.1 .1,6.3 .1-3.2 .1,4.3 .1,7.5 .1-.9 .1,1.8 .1-1.6 .1-13.2 .1,11.9 .1-10.7 .1,6.9 .1,.6 .1-.6 .1,10.2 .1-11.3 .1,12.9 .1-5.6 .1,3.0 .1-2.0 .1,.8 .1-4.6 .1,10.1 .1-14.9 .1,7.7 .1-2.2 .1-1.0 .1,2.8 .1-5.2 .1,8.1 .1-.3 .1-3.3 .1,3.3 .1-8.7 .1-3.6 .1,6.1 .1,1.8 .1,12.5 .1-12.2 .1,6.3 .1-.9 .1,6.3 .1-9.6 .1,2.7 .1-4.0 .1-3.1 .1-.6 .1,1.2 .1,10.8 .1-5.4 .1-2.0 .1,.9 .1-2.7 .1,2.7 .1,.1 .1,3.4 .1,1.3 .1-12.0 .1,9.0 .1,5.6 .1-11.4 .1,3.8 .1,2.1 .1,4.6 .1-2.3 .1-3.8 .1,3.5 .1,2.7 .1-3.0 .1,7.1 .1-6.7 .1-6.8 .1,1.3 .1,3.2 .1-.3 .1,4.0 .1-1.1 .1,6.4 .1-4.1 .1,3.2 .1-10.4 .1,1.6 .1,5.3 .1-2.7 .1,2.6 .1-1.7 .1-3.9 .1,10.8 .1-2.5 .1-12.4 .1,4.4 .1,3.0 .1,3.1 .1-3.3 .1-5.9 .1,10.2 .1-4.7 .1,6.5 .1-4.0 .1,3.3 .1-.7 .1,.3 .1-6.3 .1,7.1 .1-3.7 .1-6.5 .1,4.0 .1,.3 .1,3.7 .1,1.1 .1-8.1 .1,8.4 .1-3.4 .1-4.4 .1,8.6 .1-7.1 .1-1.9 .1,8.8 .1,.8 .1-6.9 .1,7.7 .1-.1 .1-6.8 .1,15.7 .1-13.4 .1,1.3 .1-11.3 .1,13.3 .1-5.5 .1,4.8 .1-9.5 .1,12.8 .1,1.4 .1,2.0 .1-18.6 .1,13.0 .1-1.0 .1-11.7 .1,7.1 .1,3.0 .1,6.7 .1-9.8 .1,4.6 .1-1.1 .1,2.0 .1-3.3 .1,5.7 .1,.4 .1-10.0 .1,10.8 .1-8.0 .1,2.1 .1,6.2 .1-4.4 .1,2.2 .1,1.0 .1-.8 .1-4.8 .1-1.2 .1,6.6 .1,.4 .1-1.6 .1-2.3 .1,4.6 .1-3.7 .1-5.7 .1,7.2 .1,1.0 .1,1.2 .1-7.0 .1,.7 .1,4.7 .1-3.2 .1,1.6 .1,4.4 .1-2.3 .1,6.1 .1-6.4 .1,6.1 .1-2.7 .1,5.0 .1-9.3 .1-.4 .1,5.9 .1-7.6 .1,.3 .1,3.0 .1,.6 .1-7.4 .1,7.0 .1-2.3 .1,1.3 .1,.9 .1-1.5 .1,5.3 .1-2.4 .1-2.7 .1,1.1 .1,4.1 .1-1.0 .1,2.0 .1-5.7 .1,1.2 .1,7.8 .1-8.5 .1,7.2 .1-3.4 .1-5.2 .1-4.0 .1,8.5 .1-5.5 .1,.1 .1-4.2 .1,12.0 .1-4.4 .1-.2 .1,1.5 .1-.5 .1-.6 .1,1.8 .1-3.2 .1-8.7 .1,12.9 .1-1.2 .1-1.6 .1,6.4 .1-12.0 .1-4.1 .1,15.9 .1-4.3 .1-8.3 .1,7.6 .1,1.6 .1-7.3 .1,7.2 .1,6.3 .1-2.9 .1-5.6 .1,1.4 .1-5.0 .1,4.4 .1-1.9 .1-2.6 .1-1.3 .1,13.2 .1-12.9 .1,1.1 .1,2.5 .1,7.7 .1,.6 .1-8.9 .1,3.3 .1,2.8 .1-4.9 .1-3.3 .1,.9 .1,4.0 .1-3.1 .1-2.0 .1,4.2 .1,4.7 .1-.9 .1-3.6 .1,8.5 .1-10.6 .1,2.9 .1-5.1 .1,8.5 .1-2.8 .1-6.8 .1,3.5 .1,10.3 .1-4.2 .1-2.3 .1,3.0 .1-9.6 .1,3.0 .1-1.9 .1,2.0 .1,3.9 .1,1.5 .1,1.9 .1-.1 .1,4.9 .1-10.6 .1,1.9 .1,2.1 .1-5.2 .1,2.2 .1,2.7 .1-5.0 .1,5.3 .1,3.0 .1-9.1 .1-4.5 .1,9.2 .1-4.3 .1,4.7 .1-2.3 .1,2.9 .1,3.3 .1-1.2 .1-4.5 .1-3.1 .1-4.8 .1,.9 .1,5.4 .1,3.5 .1-3.0 .1,.3 .1-3.8 .1-.2 .1-.2 .1,9.0 .1-9.9 .1,10.2 .1-6.1 .1,5.6 .1-1.1 .1,2.0 .1,1.6 .1-7.5 .1-.7 .1,2.1 .1-1.3 .1,5.5 .1-2.9 .1,.5 .1,1.6 .1-3.4 .1,6.0 .1-11.1 .1,7.9 .1,1.0 .1-4.8 .1,.3 .1,6.1 .1-4.6 .1-6.0 .1,2.2 .1,9.0 .1-7.2 .1,8.4 .1,.2 .1-5.9 .1,2.9 .1-5.2 .1,1.6 .1-1.0 .1,4.9 .1-7.1 .1,4.4 .1,.7 .1,1.8 .1-9.9 .1,1.3 .1,3.5 .1,2.5 .1,1.4 .1,.2 .1,6.9 .1-5.1 .1-.2 .1-4.0 .1,4.8 .1,3.9 .1-4.3 .1-2.9 .1,2.8 .1,3.4 .1-8.6 .1-5.1 .1,11.1 .1-.3 .1-3.5 .1-.8 .1,10.3 .1-10.3 .1-2.8 .1,2.8 .1,3.7 .1-4.1 .1,.8 .1,2.6 .1-2.7 .1,2.1 .1-.6 .1-3.8 .1,4.3 .1-4.6 .1,7.8 .1-6.9 .1,2.6 .1-5.8 .1,5.1 .1-2.9 .1,10.1 .1-5.9 .1,2.4 .1-8.4 .1,1.9 .1,4.0 .1-4.3 .1,9.1 .1-5.6 .1,2.1 .1,.5 .1-1.6 .1,3.4 .1-5.3 .1,3.9 .1,3.0 .1-3.6 .1-.3 .1-1.6 .1,1.5 .1,2.2 .1-3.3 .1-5.2 .1,6.7 .1-1.1 .1,2.3 .1-1.5 .1,5.5 .1-10.0 .1,.9 .1,5.9 .1-6.1 .1,4.9 .1-1.2 .1-7.0 .1,9.5 .1,2.6 .1-4.2 .1-5.7 .1,7.9 .1-6.6 .1,3.3 .1,2.0 .1-4.3 .1-3.2 .1,5.6 .1,.3 .1-2.8 .1,.3 .1,9.8 .1-7.3 .1-1.3 .1-.5 .1,2.8 .1-.3 .1-.9 .1-4.3 .1,3.7 .1-.9 .1,2.5 .1,3.8 .1-.7 .1-1.0 .1-1.9 .1-1.5 .1,2.3 .1-2.8 .1-4.5 .1,3.3 .1,2.8 .1-.1 .1,6.8 .1-4.5 .1-3.3 .1,4.1 .1-4.4 .1,5.3 .1-.8 .1,5.6 .1-12.1 .1,3.5 .1-.1 .1,1.5 .1,1.4 .1-5.9 .1,.9 .1,3.6 .1,2.3 .1-7.2 .1-1.5 .1,9.4 .1-1.1 .1,.9 .1-7.1 .1,2.6 .1,1.5 .1,.8 .1-1.9 .1,.2 .1,3.7 .1-5.0 .1-.4 .1,.4 .1-.2 .1,2.2 .1-1.2 .1-.7 .1,6.4 .1-3.9 .1-2.2 .1,5.5 .1-6.2 .1,1.9 .1-.3 .1-1.6 .1,.6 .1,1.6 .1-5.1 .1,3.5 .1,2.2 .1,.1 .1,.1 .1,7.0 .1-5.7 .1-2.7 .1,0 .1,.5 .1,1.4 .1-2.4 .1,6.1 .1-8.8 .1,5.9 .1-.5 .1-5.5 .1,6.0 .1-.3 .1-4.0 .1,10.0 .1-5.4 .1-3.5 .1-.5 .1-.9 .1,3.4 .1-.7 .1-4.9 .1,1.2 .1,1.1 .1,1.1 .1,.2 .1-1.1 .1,4.4 .1,1.1 .1-2.9 .1-7.7 .1,6.9 .1,2.4 .1-2.1 .1,1.2 .1-.6 .1-5.3 .1-3.0 .1,10.1 .1-3.8 .1,3.1 .1-2.4 .1,.5 .1,5.1 .1-8.6 .1,4.0 .1-3.6 .1,3.9 .1,1.4 .1,.6 .1-1.7 .1-5.1 .1,5.5 .1,2.1 .1,.4 .1,3.8 .1-5.2 .1-5.3 .1,1.7 .1,2.0 .1,3.2 .1-7.3 .1,6.9 .1-.9 .1-5.0 .1,4.9 .1-4.6 .1,2.6 .1-1.0 .1,1.8 .1-4.7 .1,5.7 .1-9.0 .1,5.9 .1-.5 .1,7.1 .1-3.4 .1-3.4 .1-1.4 .1,3.1 .1-2.2 .1,9.5 .1-15.3 .1,8.2 .1-8.1 .1,11.3 .1-6.1 .1,8.0 .1-7.1 .1,5.4 .1-2.9 .1,3.2 .1-3.8 .1-7.9 .1,5.5 .1-2.8 .1,8.3 .1-1.3 .1-1.8 .1,1.5 .1-.8 .1-2.6 .1,8.4 .1-5.7 .1-1.4 .1-4.2 .1,2.8 .1,2.1 .1-.6 .1-1.0 .1,1.5 .1-3.6 .1,3.8 .1-5.2 .1,2.3 .1,.4 .1,5.4 .1-1.3 .1-1.4 .1-4.0 .1,2.5 .1,4.0 .1,1.5 .1-9.0 .1,3.4 .1,1.8 .1,.8 .1-1.1 .1,2.2 .1-6.9 .1,9.9 .1-8.9 .1,3.9 .1-.5 .1,4.2 .1-.8 .1-.1 .1,1.3 .1-4.7 .1,3.0 .1,2.6 .1-7.5 .1-2.1 .1,1.3 .1,7.9 .1-.5 .1-5.3 .1,2.0 .1,.8 .1,1.9 .1-9.0 .1,3.7 .1,1.0 .1,1.9 .1-.8 .1-1.3 .1,2.0 .1-8.8 .1,15.8 .1-3.6 .1-1.5 .1-5.2 .1,3.6 .1,5.3 .1-.8 .1-5.8 .1-4.4 .1,4.7 .1-1.6 .1,3.8 .1-6.4 .1,2.9 .1,1.5 .1-2.5 .1,5.0 .1-7.3 .1-.4 .1,2.9 .1,3.9 .1-3.8 .1-1.0 .1,4.7 .1-2.0 .1-2.6 .1,2.2 .1-1.3 .1,2.8 .1-1.6 .1-3.2 .1,1.1 .1,.2 .1,2.6 .1,0 .1-4.1 .1,2.1 .1,1.6 .1,2.7 .1-2.9 .1,5.7 .1-6.6 .1,2.4 .1-3.6 .1-2.3 .1,3.7 .1,1.2 .1-.5 .1-.7 .1-1.6 .1-1.7 .1,1.7 .1,2.6 .1,1.6 .1-11.4 .1,10.2 .1,1.5 .1,.6 .1-3.0 .1,.9 .1-3.8 .1,1.2 .1,2.1 .1-5.6 .1,1.0 .1,3.3 .1-5.2 .1,4.7 .1-5.3 .1,5.7 .1-.6 .1-2.1 .1-1.3 .1,1.4 .1-6.0 .1,6.4 .1,1.7 .1,3.7 .1-5.9 .1,1.1 .1,5.4 .1,1.1 .1-7.7 .1,5.3 .1,.4 .1-2.3 .1-5.3 .1,.2 .1,5.2 .1,6.0 .1-8.7 .1,6.0 .1,1.1 .1-10.9 .1,2.2 .1,7.3 .1-1.9 .1-1.5 .1-2.0 .1,2.2 .1-4.4 .1,10.6 .1-12.5 .1-2.3 .1,6.8 .1,4.5 .1-6.8 .1,1.5 .1-3.5 .1,3.3 .1-3.3 .1,0 .1-1.7 .1,3.2 .1,8.5 .1-6.8 .1,.8 .1,7.2 .1-10.1 .1-1.3 .1,5.3 .1-6.2 .1,5.5 .1,2.9 .1-8.0 .1,2.0 .1,7.8 .1-9.8 .1,1.4 .1,3.2 .1-2.0 .1-1.9 .1,8.6 .1-7.7 .1,3.2 .1-2.7 .1,.7 .1-4.1 .1,8.1 .1-4.8 .1,6.0 .1-8.7 .1,2.4 .1,3.4 .1-1.3 .1-2.8 .1,1.9 .1-4.2 .1,4.8 .1-8.7 .1,9.1 .1,4.2 .1-1.7 .1-.2 .1-4.5 .1,3.2 .1-3.2 .1,1.1 .1-.1 .1-8.1 .1,11.7 .1-1.7 .1,1.4 .1-6.5 .1,5.9 .1-.8 .1-9.7 .1,1.6 .1,6.5 .1-2.6 .1,2.3 .1-2.2 .1,7.6 .1-12.2 .1,1.9 .1,1.4 .1-1.5 .1,2.8 .1,2.0 .1-4.8 .1,6.2 .1,3.4 .1-.8 .1,3.2 .1-3.1 .1-4.3 .1,6.6 .1-4.0 .1,4.3 .1-7.5 .1-7.0 .1,3.4 .1,4.8 .1,1.4 .1-2.8 .1,4.3 .1-7.8 .1,1.6 .1,6.1 .1-3.4 .1,.2 .1,4.7 .1-1.1 .1-6.9 .1,3.6 .1-7.0 .1,6.1 .1,1.5 .1-7.8 .1,12.0 .1,1.6 .1-5.5 .1,1.5 .1,2.1 .1-6.1 .1,4.4 .1-2.4 .1-7.0 .1,2.2 .1,1.2 .1,6.0 .1-3.6 .1,3.2 .1-5.3 .1-3.0 .1,12.2 .1,1.2 .1-7.4 .1-2.1 .1,5.0 .1-8.4 .1,3.3 .1-4.5 .1,7.0 .1-.9 .1-2.4 .1-1.0 .1-3.2 .1,2.5 .1,7.6 .1-5.9 .1,5.9 .1-7.8 .1,2.9 .1-1.5 .1,.8 .1,3.7 .1-10.4 .1,10.3 .1-.2 .1-2.6 .1,.6 .1-1.5 .1,3.4 .1-2.4 .1-3.3 .1,3.6 .1,3.0 .1-2.2 .1-1.3 .1,.6 .1-2.6 .1,.1 .1-5.3 .1,6.3 .1,4.3 .1-5.1 .1-1.9 .1,6.7 .1-2.7 .1-.1 .1,1.3 .1,.8 .1-2.7 .1-2.9 .1,9.5 .1-6.1 .1-3.1 .1,3.6 .1,3.7 .1-9.5 .1,10.0 .1-5.3 .1,7.9 .1-4.9 .1-2.8 .1,5.0 .1,.1 .1-5.9 .1,2.2 .1-2.7 .1,5.2 .1-8.4 .1-5.0 .1,2.4 .1,9.9 .1-10.2 .1,4.3 .1,4.8 .1-2.2 .1-.3 .1-1.9 .1,1.9 .1-4.7 .1,7.6 .1,1.8 .1-.2 .1-4.0 .1,5.7 .1-2.7 .1,1.8 .1-2.0 .1-1.2 .1-2.9 .1-5.9 .1,11.0 .1-2.7 .1,7.6 .1-18.4 .1,14.4 .1-6.5 .1,3.5 .1-3.2 .1,4.5 .1-1.3 .1,3.2 .1-2.6 .1,1.3 .1,2.8 .1-2.6 .1-2.4 .1,5.0 .1-4.8 .1,1.9 .1-2.6 .1-1.2 .1-6.3 .1,11.2 .1-6.6 .1,6.8 .1,3.8 .1-11.1 .1,7.9 .1-3.5 .1,2.0 .1-5.8 .1,4.4 .1,.4 .1,4.6 .1,2.6 .1-6.5 .1-2.4 .1,11.7 .1-10.7 .1,.2 .1,.6 .1,1.3 .1,.9 .1-4.5 .1,1.6 .1,7.1 .1-1.0 .1-4.0 .1-.6 .1-1.7 .1,4.4 .1-5.4 .1,2.3 .1-2.0 .1-.6 .1,2.4 .1-.1 .1-2.0 .1,1.8 .1,.5 .1-1.9 .1-.6 .1,1.8 .1,3.0 .1,1.5 .1-3.2 .1-1.6 .1,.9 .1,6.8 .1-3.5 .1-6.5 .1,3.2 .1-1.6 .1,.6 .1-4.6 .1,6.0 .1-4.8 .1,2.7 .1,7.4 .1-1.8 .1-6.5 .1-.5 .1,.4 .1-3.3 .1,3.2 .1,2.5 .1-2.7 .1,6.3 .1-2.8 .1-1.6 .1,8.0 .1-3.6 .1-2.2 .1,6.2 .1-1.8 .1-6.9 .1,3.6 .1-2.6 .1-3.4 .1,11.5 .1-1.3 .1-9.5 .1,6.1 .1-7.3 .1,9.4 .1-3.9 .1-.8 .1,5.4 .1-4.2 .1-.9 .1,4.0 .1-4.1 .1,4.1 .1-3.0 .1,2.9 .1-.6 .1,.5 .1-6.1 .1,10.0 .1-7.0 .1,6.6 .1-8.0 .1,1.1 .1,.1 .1,4.9 .1-5.4 .1,3.0 .1-6.8 .1,3.8 .1,2.4 .1-1.1 .1-5.9 .1,8.1 .1-5.0 .1,10.0 .1-7.2 .1,8.3 .1-5.4 .1-.6 .1-3.2 .1,1.3 .1,2.0 .1-8.1 .1,10.0 .1-7.3 .1,3.1 .1-7.2 .1,9.7 .1,1.0 .1,4.2 .1-5.5 .1-2.3 .1,1.8 .1,3.6 .1-5.5 .1,3.2 .1,.8 .1-3.2 .1,1.6 .1,0 .1-2.4 .1,9.7 .1-9.4 .1,7.3 .1-2.2 .1-10.3 .1,7.7 .1,2.6 .1-.7 .1-5.7 .1,4.0 .1-4.9 .1,.6 .1,2.7 .1,1.5 .1,4.8 .1-4.2 .1,2.4 .1-7.5 .1,.2 .1,2.3 .1,7.5 .1-10.3 .1-.7 .1,5.0 .1,4.2 .1-9.3 .1,4.6 .1-3.6 .1,9.4 .1-2.5 .1,0 .1-2.4 .1-.6 .1,1.3 .1-2.6 .1-.7 .1-.7 .1,3.7 .1-2.6 .1,5.6 .1-9.8 .1,8.8 .1,0 .1,2.2 .1-4.7 .1-4.1 .1,1.9 .1,6.8 .1-4.7 .1-.3 .1-.5 .1,1.7 .1-.4 .1-4.3 .1,3.1 .1,5.3 .1,1.5 .1-5.1 .1-1.2 .1,6.1 .1-5.0 .1-3.2 .1,3.5 .1,6.8 .1-1.3 .1-6.6 .1,3.4 .1-2.8 .1,4.8 .1-2.8 .1,.1 .1-4.0 .1,2.2 .1,0 .1-6.6 .1,10.5 .1-2.8 .1-.6 .1-.4 .1,1.2 .1,.8 .1-4.9 .1,4.6 .1,0 .1-.2 .1-4.8 .1,4.3 .1-3.6 .1,5.2 .1,3.2 .1-1.4 .1-3.8 .1-.6 .1-.1 .1,3.0 .1-3.2 .1,.4 .1-5.7 .1,4.8 .1,.3 .1,.8 .1,5.6 .1-8.1 .1,.1 .1,6.1 .1-4.9 .1,2.6 .1,1.1 .1-.4 .1-2.5 .1,5.4 .1,1.8 .1-7.8 .1,2.4 .1,3.8 .1-3.6 .1-2.4 .1,1.8 .1,4.0 .1-5.7 .1,4.0 .1,.4 .1-3.2 .1,3.8 .1,.3 .1,1.1 .1-.2 .1-7.5 .1,7.4 .1-.9 .1,1.2 .1-5.6 .1,5.4 .1-1.6 .1-4.7 .1,7.5 .1-6.3 .1-.7 .1,4.4 .1-3.1 .1,3.0 .1-1.9 .1,1.7 .1,1.6 .1-2.5 .1,2.7 .1,0 .1-5.2 .1,5.3 .1-.8 .1-1.4 .1,3.0 .1,1.7 .1-2.7 .1-6.8 .1,5.8 .1-1.7 .1-.4 .1,1.9 .1-2.1 .1,6.0 .1-4.1 .1-.7 .1,2.3 .1,.1 .1,1.2 .1-1.7 .1-2.0 .1,.5 .1-6.9 .1,2.1 .1,7.6 .1-4.1 .1,6.5 .1,0 .1-9.2 .1,4.7 .1,6.2 .1-9.5 .1,3.6 .1-1.8 .1-.1 .1-.1 .1,.9 .1,2.3 .1-4.7 .1,4.0 .1-3.7 .1,3.8 .1-.6 .1-3.3 .1,2.8 .1-2.6 .1-.4 .1,6.1 .1-9.0 .1,7.2 .1,.5 .1-3.9 .1,5.1 .1-.5 .1-6.6 .1,5.4 .1-2.2 .1-1.5 .1,3.9 .1,.6 .1-4.4 .1-3.8 .1,7.2 .1-3.4 .1-2.9 .1,4.0 .1-6.0 .1,6.2 .1,5.5 .1-11.6 .1,8.5 .1-4.1 .1,1.5 .1-1.4 .1,4.6 .1-1.9 .1-2.3 .1-1.5 .1,2.6 .1,4.7 .1-7.0 .1,4.9 .1-.2 .1-7.0 .1,9.3 .1-3.4 .1,6.8 .1-1.5 .1-5.9 .1,.3 .1-2.5 .1-1.1 .1,6.5 .1-3.1 .1-.4 .1,.7 .1,2.5 .1,.8 .1-2.7 .1-.6 .1,.9 .1,5.9 .1-12.3 .1,2.7 .1,4.9 .1-1.0 .1,3.3 .1,.2 .1,2.0 .1-8.2 .1,4.2 .1-2.5 .1,3.6 .1-2.3 .1,2.1 .1-4.8 .1,2.7 .1-2.0 .1,.8 .1-.6 .1-1.7 .1,6.4 .1-2.4 .1,2.4 .1-6.2 .1-2.8 .1,3.9 .1,1.5 .1,2.8 .1,.8 .1,.5 .1,.9 .1-2.4 .1-1.7 .1-2.6 .1,4.3 .1-3.5 .1-.9 .1,4.1 .1-3.8 .1,4.7 .1-4.6 .1,5.5 .1-2.3 .1-1.6 .1-1.7 .1-.9 .1-.8 .1,8.1 .1-8.2 .1,6.0 .1,.9 .1-4.4 .1,.3 .1,1.1 .1,3.0 .1-1.5 .1-1.1 .1-4.0 .1-1.2 .1,10.7 .1-8.4 .1-1.6 .1,7.8 .1-7.6 .1,6.0 .1,1.1 .1-1.9 .1,2.1 .1-6.8 .1,.5 .1,3.0 .1,.5 .1-.2 .1,1.6 .1-3.5 .1-4.0 .1,7.3 .1-1.8 .1,3.0 .1,3.7 .1-5.8 .1,1.4 .1-4.3 .1,5.3 .1-1.7 .1-.3 .1,2.0 .1-6.0 .1,4.9 .1-.3 .1,3.3 .1-9.9 .1,5.0 .1,6.6 .1-7.5 .1-.1 .1,6.4 .1,1.6 .1-6.4 .1-2.4 .1,.3 .1,.6 .1-1.3 .1,.1 .1,2.8 .1-.4 .1,1.3 .1-1.3 .1-3.6 .1,5.6 .1-1.4 .1-2.4 .1,.9 .1,1.7 .1-.7 .1-.6 .1,2.6 .1,.8 .1-4.0 .1,.9 .1-3.2 .1,2.7 .1,1.9 .1,1.1 .1-4.0 .1,1.3 .1-1.9 .1,2.7 .1-3.8 .1,3.6 .1-.4 .1-2.7 .1,3.6 .1-1.5 .1,2.3 .1-7.8 .1,7.5 .1,3.1 .1-4.0 .1,1.7 .1-4.1 .1,.8 .1-4.5 .1,5.1 .1-2.9 .1,3.6 .1-6.3 .1,3.5 .1,2.7 .1,.9 .1-5.9 .1,3.6 .1,8.0 .1-4.5 .1-1.9 .1-7.3 .1,4.2 .1,4.2 .1-.9 .1,.7 .1,1.4 .1-2.5 .1,2.2 .1-7.7 .1,12.0 .1-7.7 .1-1.0 .1,6.3 .1-2.6 .1,1.0 .1-4.6 .1,2.6 .1,1.3 .1-5.5 .1,2.7 .1-.1 .1-.1 .1-1.2 .1-1.6 .1,4.9 .1-.6 .1,2.7 .1-3.6 .1-1.7 .1-2.3 .1,4.5 .1-1.2 .1,6.8 .1,.8 .1-2.1 .1-7.3 .1-1.4 .1,3.4 .1-1.9 .1,6.7 .1-3.8 .1-1.5 .1,1.1 .1,3.7 .1-6.4 .1,4.2 .1-5.3 .1,3.2 .1-1.3 .1,2.8 .1-.4 .1,7.2 .1-5.7 .1-3.8 .1-2.1 .1,1.5 .1,1.1 .1,.6 .1-1.6 .1,5.4 .1-.4 .1-3.5 .1-.7 .1,.7 .1,.6 .1,.1 .1-4.7 .1,3.4 .1-4.2 .1,5.6 .1,1.9 .1-5.2 .1,4.4 .1-3.1 .1-.2 .1,7.8 .1-3.2 .1-1.2 .1-2.7 .1,2.5 .1-1.8 .1,1.9 .1-4.0 .1,2.4 .1-1.0 .1-3.0 .1,9.1 .1-2.6 .1-4.7 .1-2.0 .1,2.1 .1-.3 .1,.7 .1-2.7 .1,2.0 .1,2.6 .1,1.0 .1-7.1 .1,5.9 .1-3.0 .1-.2 .1,2.2 .1-1.1 .1,4.1 .1,0 .1-3.0 .1-1.1 .1,7.3 .1,.2 .1-4.4 .1-1.7 .1,3.5 .1,1.3 .1-5.9 .1,6.9 .1-5.9 .1,3.8 .1-4.9 .1,1.8 .1-1.6 .1,1.4 .1,3.0 .1-5.8 .1,1.8 .1,2.5 .1-3.0 .1,7.5 .1-10.6 .1,11.4 .1-9.0 .1,4.9 .1,1.9 .1-3.2 .1-5.9 .1,3.2 .1,1.2 .1,1.5 .1,1.3 .1,.4 .1,1.0 .1-7.3 .1,5.8 .1-8.3 .1,5.7 .1-3.7 .1-2.1 .1,8.1 .1-2.9 .1,3.1 .1-7.9 .1,1.2 .1,3.4 .1-1.8 .1,2.3 .1-2.2 .1,.9 .1-2.5 .1,7.4 .1-4.9 .1-2.7 .1,5.7 .1-.6 .1-.8 .1,0 .1-1.9 .1,.8 .1-6.4 .1,2.0 .1,1.0 .1,4.6 .1,2.9 .1-4.3 .1-.4 .1,4.3 .1-4.6 .1,3.1 .1-.7 .1-5.4 .1,5.1 .1-.4 .1-4.2 .1,.3 .1-.7 .1,8.1 .1,2.3 .1-4.3 .1,2.6 .1-9.0 .1,8.5 .1,1.7 .1-1.1 .1-7.9 .1,6.2 .1-3.7 .1,3.7 .1-5.4 .1,2.1 .1-1.9 .1,3.3 .1-1.8 .1,3.7 .1-.9 .1-1.3 .1-1.4 .1-.8 .1,.9 .1,2.3 .1-1.9 .1,.5 .1-1.1 .1-.1 .1-1.9 .1-3.8 .1,7.7 .1-.1 .1-4.8 .1,9.0 .1-9.6 .1,6.8 .1-2.3 .1,.2 .1,2.6 .1-.7 .1-2.7 .1-3.4 .1-.4 .1,4.4 .1,4.3 .1-2.1 .1-2.8 .1,1.1 .1,1.2 .1,3.2 .1-7.6 .1,4.6 .1,.9 .1-5.4 .1-.8 .1,7.1 .1-2.9 .1-1.6 .1,1.0 .1,2.7 .1-2.7 .1,4.7 .1-5.7 .1-1.6 .1,2.1 .1-2.5 .1,1.9 .1,4.8 .1,1.5 .1-3.2 .1-1.3 .1-3.4 .1-.2 .1,4.2 .1-.6 .1-2.3 .1,.5 .1,6.1 .1-1.7 .1-2.8 .1,.6 .1,3.2 .1-2.8 .1-.3 .1-5.5 .1-.3 .1-.6 .1-1.0 .1,6.8 .1,1.1 .1-3.6 .1,4.0 .1,0 .1-1.5 .1-3.3 .1,7.9 .1-.2 .1-5.8 .1,7.6 .1-5.7 .1-2.4 .1,1.1 .1-4.3 .1,4.6 .1-3.7 .1,8.2 .1-2.4 .1-5.1 .1,5.9 .1-6.8 .1,5.6 .1,1.0 .1-1.2 .1-3.5 .1,3.0 .1-.2 .1,.8 .1,4.3 .1,.6 .1-.3 .1-6.5 .1-.2 .1,2.2 .1,1.2 .1-7.3 .1,4.3 .1,7.1 .1-8.9 .1,1.5 .1,.2 .1,3.5 .1-1.6 .1-.7 .1-3.5 .1,6.3 .1-1.8 .1-1.9 .1,2.0 .1,2.3 .1-6.6 .1-.2 .1,1.5 .1,.5 .1-4.2 .1,5.0 .1,5.0 .1-4.1 .1,3.9 .1-9.6 .1,6.3 .1,4.4 .1,.6 .1-6.0 .1-1.0 .1,3.6 .1-4.7 .1,2.5 .1-3.7 .1,5.1 .1-.2 .1,4.7 .1-3.7 .1-2.9 .1,1.7 .1-3.5 .1,3.9 .1-.7 .1,1.8 .1,1.5 .1-8.4 .1,6.7 .1,1.2 .1-5.6 .1,9.0 .1-7.5 .1,8.7 .1-4.4 .1,.6 .1-2.0 .1,2.1 .1-5.8 .1,.6 .1-3.3 .1,7.3 .1-3.6 .1,4.2 .1-.4 .1-5.6 .1,5.9 .1-1.2 .1-.2 .1,.8 .1-1.4 .1,.1 .1,3.0 .1-5.8 .1-.6 .1,1.3 .1,5.1 .1-3.8 .1,6.4 .1-12.0 .1,4.5 .1,.8 .1,2.1 .1,3.0 .1-4.3 .1-2.3 .1,5.2 .1,2.1 .1-10.9 .1,8.2 .1-.8 .1-3.2 .1,1.0 .1,2.2 .1-.7 .1-.8 .1-2.6 .1,4.2 .1-2.7 .1,2.1 .1-1.8 .1,2.2 .1,1.6 .1-1.5 .1,1.2 .1-5.7 .1,5.2 .1-.4 .1-2.6 .1,1.3 .1-5.9 .1,6.6 .1-1.3 .1-5.2 .1,7.8 .1-3.2 .1,2.6 .1-1.4 .1,2.0 .1-1.1 .1-1.0 .1,2.2 .1,.9 .1-8.6 .1,6.4 .1-1.7 .1-1.4 .1,6.7 .1-.9 .1-5.5 .1-.2 .1,5.4 .1-4.0 .1,.8 .1-4.5 .1,5.1 .1,3.5 .1-4.4 .1,1.0 .1,5.2 .1-2.4 .1,1.5 .1-2.2 .1,1.6 .1-7.9 .1,2.4 .1-2.3 .1,10.7 .1-5.6 .1-.8 .1-1.8 .1-.6 .1-3.5 .1,12.4 .1-6.3 .1,.4 .1-4.0 .1,3.7 .1,1.2 .1-1.2 .1,1.9 .1-4.0 .1,3.2 .1,1.6 .1-.9 .1-.5 .1-1.3 .1-2.4 .1,4.3 .1-2.6 .1-1.5 .1,4.7 .1-6.4 .1-1.7 .1,8.2 .1,.5 .1-3.6 .1,1.2 .1,1.3 .1-1.6 .1-1.9 .1,3.3 .1-.7 .1-.2 .1,2.8 .1-2.2 .1-2.0 .1,1.6 .1,4.9 .1-7.2 .1,1.3 .1-1.5 .1,3.2 .1-4.4 .1,4.6 .1,.9 .1-4.1 .1-.2 .1-1.7 .1,4.1 .1-3.1 .1,1.4 .1,.6 .1-.7 .1,4.1 .1,2.0 .1-9.9 .1,3.5 .1,2.9 .1-3.5 .1,1.4 .1,2.0 .1,3.2 .1-.6 .1-3.9 .1,1.1 .1-1.3 .1,.6 .1-2.7 .1-1.6 .1,3.8 .1,3.6 .1-.6 .1-7.0 .1,4.5 .1-1.2 .1,2.5 .1-3.7 .1,5.3 .1-2.9 .1,2.1 .1,.8 .1-7.5 .1,6.4 .1,2.8 .1-4.0 .1,2.7 .1-1.6 .1-2.4 .1,2.0 .1,2.1 .1,.6 .1,.5 .1-7.8 .1,6.1 .1-5.8 .1,3.3 .1-.2 .1,2.2 .1-.8 .1,2.5 .1-4.9 .1,3.8 .1-1.2 .1-1.0 .1-3.2 .1,4.7 .1-.6 .1,1.2 .1-2.2 .1-.5 .1,1.7 .1,.2 .1,.6 .1,3.2 .1-6.6 .1,6.9 .1-11.3 .1,8.5 .1-4.6 .1,7.4 .1-7.6 .1,5.1 .1-5.3 .1-.4 .1,5.1 .1,.2 .1-4.1 .1,7.9 .1-6.9 .1,4.9 .1-6.7 .1,.1 .1,2.8 .1-2.9 .1,3.8 .1-6.8 .1,6.1 .1-1.9 .1-1.0 .1,3.0 .1-1.1 .1-.6 .1,3.3 .1-1.3 .1,.2 .1,2.5 .1-3.6 .1,2.3 .1-3.2 .1,2.6 .1-.2 .1-2.7 .1-2.6 .1,.7 .1,.8 .1,4.0 .1-1.8 .1-.4 .1,2.0 .1,.6 .1,1.8 .1-5.2 .1,3.0 .1,.4 .1-4.3 .1,2.8 .1-2.7 .1,1.8 .1,1.7 .1-5.5 .1,2.2 .1,.1 .1,2.4 .1-2.2 .1,2.9 .1-3.2 .1,.9 .1,2.9 .1-.8 .1-.3 .1-.5 .1,2.7 .1,1.0 .1-4.5 .1-.9 .1-.8 .1,7.1 .1-6.8 .1-1.0 .1,4.1 .1,2.0 .1-5.9 .1,2.9 .1-3.4 .1,1.9 .1,6.0 .1-3.7 .1-1.1 .1,.8 .1,.6 .1-1.0 .1-2.8 .1,0 .1,8.2 .1-7.1 .1,5.1 .1-4.9 .1,5.2 .1-1.6 .1-2.3 .1,5.7 .1-7.6 .1,1.9 .1-1.6 .1,.2 .1,1.0 .1-1.5 .1,1.7 .1,4.8 .1-8.4 .1,1.2 .1,.8 .1,1.2 .1,3.8 .1-.7 .1-.6 .1-.7 .1,5.4 .1-8.8 .1-.1 .1,2.9 .1,.6 .1-1.1 .1-1.5 .1-1.2 .1,2.6 .1-1.1 .1,.6 .1-1.5 .1,6.2 .1-2.3 .1,3.6 .1-6.0 .1,1.4 .1-.7 .1,.7 .1-.7 .1,.2 .1-4.6 .1,4.3 .1,2.5 .1-6.7 .1,4.1 .1,2.3 .1,1.8 .1-3.4 .1,1.3 .1,3.3 .1-1.1 .1-4.4 .1-.4 .1,4.1 .1-2.0 .1-1.9 .1,.8 .1,1.4 .1-1.3 .1-.2 .1,.1 .1-3.2 .1,8.2 .1-1.3 .1,.7 .1-4.1 .1,.6 .1,1.2 .1,.6 .1-6.7 .1,5.6 .1-3.5 .1,2.4 .1-1.5 .1,6.0 .1-2.9 .1-1.6 .1,3.7 .1-3.7 .1-1.6 .1,1.4 .1-.5 .1,1.1 .1,2.0 .1-2.4 .1,.1 .1,2.7 .1-1.8 .1,1.7 .1-1.9 .1-3.8 .1,.5 .1-1.3 .1,7.0 .1-1.8 .1-2.2 .1-1.3 .1,3.4 .1-1.3 .1,1.2 .1-2.9 .1-.7 .1,6.7 .1-6.3 .1,2.4 .1,3.4 .1-7.9 .1,6.3 .1-1.6 .1-.5 .1,1.0 .1-3.6 .1-2.6 .1,9.5 .1-4.6 .1,2.9 .1,.6 .1-2.1 .1,.5 .1,.6 .1,2.2 .1-2.7 .1,1.9 .1-3.9 .1-.3 .1,1.3 .1,.8 .1,.3 .1,3.5 .1-2.7 .1-1.9 .1,4.8 .1-4.1 .1,0 .1,.4 .1-2.1 .1-1.8 .1,3.0 .1-1.1 .1-1.3 .1,2.4 .1-.8 .1-.9 .1-3.0 .1,4.0 .1,4.8 .1-2.2 .1,.5 .1-2.7 .1,2.7 .1-4.3 .1,.6 .1,2.4 .1-4.8 .1,3.6 .1,.7 .1,3.4 .1-5.9 .1,2.8 .1-2.7 .1,.3 .1-4.4 .1,3.5 .1,5.1 .1-1.6 .1-.8 .1,5.3 .1-4.4 .1-4.3 .1,2.5 .1,.4 .1,4.1 .1-6.2 .1,3.3 .1,1.3 .1-4.3 .1,2.2 .1-5.2 .1,5.2 .1-5.6 .1,4.4 .1,5.2 .1-3.2 .1-.9 .1,.3 .1,4.9 .1-3.9 .1,1.2 .1-3.6 .1,0 .1-1.5 .1,2.1 .1-1.3 .1,4.2 .1-.9 .1-1.8 .1-1.1 .1-4.3 .1,4.2 .1,2.2 .1,.9 .1-7.3 .1,0 .1,6.1 .1-2.9 .1,2.0 .1-.6 .1,2.6 .1-6.0 .1,3.2 .1,3.6 .1-1.7 .1-2.6 .1,3.2 .1-.4 .1-2.9 .1,3.9 .1-.1 .1-1.9 .1,2.6 .1-5.1 .1,4.7 .1-2.3 .1-1.8 .1,.8 .1,4.3 .1-4.2 .1,.5 .1-.7 .1-.4 .1,4.3 .1,3.0 .1-2.1 .1-2.0 .1,.6 .1-2.6 .1-.4 .1-1.6 .1,6.3 .1-4.3 .1-.9 .1,.2 .1,2.0 .1-1.8 .1,1.4 .1,.4 .1,2.8 .1-6.2 .1,3.7 .1-2.4 .1,.7 .1,4.9 .1-2.4 .1-2.4 .1,2.1 .1-1.2 .1,2.7 .1-3.8 .1,2.3 .1-1.6 .1,.5 .1-.4 .1-1.1 .1,1.7 .1,2.1 .1-3.8 .1,.6 .1,1.8 .1-2.7 .1,3.9 .1-1.0 .1-6.6 .1,4.0 .1-1.1 .1,4.6 .1,.3 .1-5.1 .1,1.2 .1,1.5 .1-.7 .1,2.6 .1,.6 .1-.9 .1,1.2 .1-.4 .1-2.4 .1-.8 .1-.7 .1,3.7 .1,.2 .1,.3 .1-3.2 .1-.2 .1,1.6 .1,2.4 .1-2.2 .1-.3 .1-2.5 .1,3.1 .1,.2 .1-3.6 .1,6.5 .1-6.4 .1,4.4 .1-2.7 .1,.9 .1-2.2 .1,.5 .1,3.0 .1-2.1 .1-2.5 .1,5.1 .1-.4 .1-1.3 .1,.1 .1,3.6 .1-4.5 .1,1.3 .1,.1 .1-4.3 .1-1.3 .1,4.9 .1,1.8 .1-1.6 .1-1.7 .1-.3 .1,3.5 .1-2.6 .1-3.1 .1,5.4 .1-1.0 .1,.3 .1,1.6 .1,.6 .1-1.8 .1-1.7 .1-4.6 .1,5.7 .1-.4 .1,2.9 .1-.1 .1-1.9 .1,2.1 .1-3.4 .1,.1 .1-1.9 .1,1.3 .1,1.2 .1,2.0 .1-4.2 .1,3.6 .1,3.6 .1-8.6 .1,2.5 .1,.7 .1,2.3 .1,2.3 .1-1.7 .1-3.0 .1-1.9 .1,1.8 .1,.1 .1,.7 .1-2.7 .1,8.0 .1-7.6 .1,3.3 .1-1.1 .1-3.1 .1,2.8 .1-.1 .1-.5 .1,2.3 .1-3.0 .1,6.6 .1-2.8 .1-4.8 .1-3.3 .1,8.4 .1-2.3 .1-.4 .1-2.5 .1-1.1 .1-1.0 .1,9.9 .1-1.7 .1-5.1 .1,5.7 .1-8.7 .1,6.0 .1,0 .1-3.7 .1,1.0 .1-1.4 .1,2.6 .1,3.0 .1-.8 .1-1.3 .1,1.6 .1-6.8 .1,8.9 .1-4.8 .1-3.0 .1,2.2 .1-.6 .1,1.7 .1,.6 .1-6.2 .1,8.4 .1,1.1 .1-6.5 .1,5.9 .1-.5 .1-.6 .1,1.5 .1-7.1 .1,5.0 .1-4.1 .1,7.8 .1-7.7 .1-.6 .1,5.5 .1-1.1 .1-1.4 .1,.3 .1,1.1 .1,2.6 .1-5.7 .1,.3 .1,0 .1,1.2 .1,.2 .1-3.0 .1,3.7 .1-3.7 .1,2.3 .1,.1 .1,0 .1,4.1 .1,.4 .1-1.3 .1,1.1 .1-4.3 .1,3.9 .1-3.4 .1,.7 .1,.1 .1-3.8 .1,1.7 .1,1.1 .1,1.2 .1-1.1 .1-1.7 .1-.7 .1,2.7 .1-2.8 .1,.1 .1,2.5 .1,.6 .1-2.3 .1-2.2 .1,4.8 .1,1.2 .1-2.8 .1,0 .1-4.5 .1,7.5 .1-4.6 .1,4.2 .1-3.0 .1,1.0 .1-.1 .1-3.8 .1,9.6 .1-9.0 .1,3.9 .1-2.1 .1,1.3 .1,6.5 .1-10.3 .1,4.0 .1,1.5 .1-.8 .1,.6 .1-2.7 .1-2.1 .1,.8 .1,2.1 .1,2.7 .1-1.5 .1,3.5 .1-3.5 .1,.2 .1,.1 .1-4.5 .1,5.3 .1-3.9 .1,1.7 .1,6.3 .1-8.3 .1,3.2 .1,.4 .1-.4 .1-.3 .1-1.3 .1,6.0 .1-9.3 .1,2.2 .1,5.9 .1-2.2 .1-3.0 .1-.4 .1,1.6 .1,5.9 .1-4.2 .1-3.6 .1,3.0 .1-2.0 .1,4.9 .1-2.8 .1,2.3 .1-2.6 .1,4.4 .1-3.8 .1-.3 .1-3.0 .1,1.4 .1,1.9 .1-2.1 .1,6.5 .1-5.3 .1-1.8 .1,4.1 .1-3.5 .1,2.1 .1-1.1 .1-1.5 .1,4.9 .1-3.0 .1,2.3 .1-3.3 .1-2.5 .1,.4 .1,1.7 .1,.8 .1,.5 .1,1.1 .1-4.1 .1,3.5 .1-3.4 .1,1.2 .1,7.0 .1-2.4 .1-3.8 .1,5.0 .1-.9 .1-1.2 .1,1.4 .1-4.0 .1,.3 .1-1.7 .1,3.3 .1-4.2 .1,1.7 .1,2.2 .1-2.2 .1,2.0 .1,3.4 .1-6.5 .1,5.5 .1-4.8 .1-.6 .1,2.7 .1,1.9 .1-4.1 .1,0 .1,.7 .1-.7 .1,2.1 .1-2.0 .1,1.0 .1,1.4 .1-1.8 .1,3.7 .1-4.3 .1-.2 .1,6.5 .1-1.2 .1-3.3 .1-.5 .1,1.1 .1-1.9 .1,2.7 .1-.9 .1,2.3 .1-7.2 .1,6.1 .1-1.5 .1-1.9 .1,.6 .1,0 .1-2.1 .1,1.7 .1,3.2 .1-5.3 .1,2.6 .1-4.4 .1,3.9 .1,2.3 .1-1.0 .1,.2 .1-2.7 .1,3.9 .1-3.4 .1,4.2 .1-1.6 .1-1.4 .1,4.3 .1-4.3 .1,3.3 .1-2.2 .1-.2 .1,2.3 .1-1.3 .1-1.0 .1-.3 .1,.8 .1-.3 .1-.9 .1-1.7 .1-2.9 .1,5.1 .1-.3 .1,3.3 .1-1.7 .1,1.6 .1,1.3 .1-4.2 .1-1.7 .1-.5 .1,1.1 .1,.8 .1,3.9 .1-2.1 .1,1.3 .1-5.6 .1,3.1 .1,2.5 .1-5.5 .1,3.4 .1,.5 .1-6.2 .1,9.0 .1-5.4 .1,1.4 .1,4.2 .1-8.0 .1,5.2 .1-2.1 .1,1.1 .1-2.0 .1,5.0 .1-5.7 .1,3.4 .1,.5 .1-1.5 .1-.4 .1,0 .1,3.0 .1-1.3 .1-1.3 .1-2.3 .1,2.9 .1,.9 .1-1.3 .1,3.3 .1-7.6 .1,9.6 .1-5.7 .1-2.2 .1-1.4 .1,6.0 .1-.6 .1-1.8 .1,.4 .1,.5 .1-1.4 .1,3.6 .1-1.2 .1-1.7 .1-3.5 .1,6.9 .1-4.2 .1-1.3 .1,5.3 .1-1.8 .1-5.7 .1,.8 .1,2.9 .1-2.0 .1,2.6 .1,5.6 .1,0 .1-5.4 .1,2.0 .1,.2 .1-2.4 .1-3.1 .1,5.9 .1-2.9 .1,1.5 .1,.6 .1-3.5 .1,5.7 .1-3.7 .1,.4 .1-1.5 .1,2.6 .1,.7 .1-3.6 .1,2.6 .1-2.3 .1-1.9 .1,2.1 .1,2.2 .1-.2 .1,1.2 .1-4.0 .1,.9 .1,.9 .1,1.2 .1-1.7 .1-1.9 .1-1.3 .1,6.2 .1-.3 .1-3.9 .1,4.9 .1-3.5 .1,1.2 .1,1.8 .1-4.0 .1-.7 .1-2.1 .1,4.6 .1,.4 .1,.9 .1-.6 .1-1.1 .1,2.4 .1-5.0 .1,3.2 .1,.3 .1-1.4 .1,4.2 .1-2.9 .1,2.0 .1-1.0 .1-2.4 .1,4.8 .1-1.2 .1-3.2 .1-.3 .1-2.1 .1,2.0 .1-.2 .1,1.1 .1-1.5 .1,2.3 .1-1.5 .1-3.4 .1,2.4 .1-.9 .1-.8 .1,2.3 .1,2.7 .1-4.6 .1-2.1 .1,4.2 .1,5.6 .1-6.5 .1,1.9 .1-1.5 .1,2.9 .1,1.3 .1-3.6 .1,3.0 .1-5.1 .1,2.9 .1-3.3 .1,3.3 .1-1.8 .1,1.9 .1-3.1 .1,3.1 .1-.3 .1-1.5 .1-.6 .1-.8 .1,1.8 .1,1.8 .1-1.2 .1,.6 .1,2.6 .1-3.6 .1,1.4 .1,1.2 .1-.7 .1-.3 .1-.7 .1,4.2 .1-4.6 .1-.7 .1,2.3 .1,2.3 .1-.5 .1-3.1 .1,1.8 .1-.7 .1-1.0 .1,1.3 .1-.1 .1-1.0 .1,3.6 .1-4.8 .1,4.0 .1,1.6 .1,.1 .1-4.2 .1-1.1 .1-3.2 .1,3.5 .1,5.3 .1-8.7 .1,.1 .1,5.4 .1-.5 .1-5.6 .1,4.1 .1,.9 .1-4.3 .1,5.7 .1-5.2 .1,5.6 .1-2.1 .1-2.1 .1-2.0 .1,2.8 .1,.6 .1-.1 .1-1.0 .1,.8 .1-.2 .1-1.3 .1,1.5 .1,1.6 .1-1.1 .1,2.0 .1,1.5 .1-4.3 .1,1.3 .1-5.7 .1,4.4 .1,2.4 .1-4.1 .1,5.6 .1-7.3 .1,7.3 .1-4.2 .1-1.2 .1,1.2 .1,.5 .1-1.6 .1-.9 .1,2.0 .1,3.3 .1-1.2 .1,2.1 .1-4.4 .1,.6 .1,0 .1,1.1 .1,.7 .1,2.9 .1-2.3 .1-1.3 .1,2.7 .1-4.8 .1-1.2 .1,4.5 .1-1.1 .1-.1 .1,1.8 .1-2.9 .1,.5 .1,1.2 .1,.6 .1,.7 .1-1.9 .1,.3 .1-5.8 .1,8.0 .1-6.3 .1,3.4 .1,5.3 .1-5.9 .1-2.9 .1,7.3 .1-4.9 .1,.9 .1,0 .1,2.0 .1,.1 .1-2.0 .1,2.7 .1-4.5 .1,3.6 .1-3.0 .1,3.0 .1-3.1 .1,.6 .1,4.3 .1-5.9 .1-.1 .1,3.9 .1-1.9 .1-.3 .1,.6 .1,5.1 .1-7.1 .1,1.8 .1,.9 .1-2.4 .1,2.0 .1,1.2 .1-3.2 .1,4.6 .1-5.1 .1,2.3 .1,1.0 .1,4.4 .1-9.0 .1,4.5 .1,4.5 .1-6.4 .1,3.7 .1-1.9 .1-3.7 .1,4.1 .1-2.9 .1,2.2 .1-3.6 .1,5.0 .1-6.7 .1,4.7 .1,3.3 .1-1.7 .1-2.0 .1,.3 .1-.4 .1,6.1 .1-5.3 .1,.1 .1-1.6 .1,.6 .1,2.4 .1-2.7 .1-.5 .1,.6 .1,.4 .1,1.2 .1-1.5 .1,.7 .1-1.2 .1,4.4 .1-2.6 .1-.9 .1,1.4 .1-.8 .1-3.4 .1,3.1 .1,4.1 .1-2.5 .1,1.5 .1-4.2 .1-1.8 .1,1.8 .1,4.6 .1-5.3 .1,.5 .1,5.0 .1-3.8 .1,.1 .1,1.3 .1-.7 .1-.8 .1,1.2 .1-2.1 .1,1.5 .1,1.5 .1-3.8 .1,1.9 .1-2.1 .1,4.2 .1-.3 .1,.8 .1,.2 .1,0 .1-.7 .1-3.4 .1,3.9 .1-4.2 .1,7.2 .1-4.5 .1,.7 .1-4.1 .1,5.2 .1,.2 .1-6.1 .1,2.2 .1,.2 .1-.4 .1,4.6 .1,1.7 .1-7.2 .1,4.7 .1-2.9 .1,3.7 .1-8.2 .1,4.1 .1,3.7 .1-4.4 .1,4.4 .1-3.8 .1,3.6 .1-1.2 .1-2.2 .1-.8 .1,1.3 .1,3.0 .1-2.6 .1-1.5 .1,6.6 .1-8.6 .1,3.0 .1,1.7 .1-3.5 .1,2.3 .1-.9 .1-2.4 .1,4.3 .1-3.5 .1,.8 .1,4.5 .1-5.3 .1,3.9 .1,1.3 .1-.5 .1-1.1 .1-1.6 .1-2.6 .1,3.5 .1,.6 .1-2.1 .1-1.1 .1,4.2 .1-4.3 .1,3.3 .1-2.0 .1-2.7 .1,7.3 .1-2.2 .1-.2 .1-4.3 .1,4.2 .1-.4 .1-2.3 .1,5.3 .1-8.2 .1,6.1 .1-5.8 .1,.7 .1,.7 .1,4.1 .1-2.9 .1,.1 .1-.5 .1-1.3 .1,1.3 .1-.2 .1,1.5 .1-.1 .1-4.2 .1,3.6 .1,4.1 .1-3.8 .1,.9 .1-1.4 .1,0 .1,1.4 .1-2.8 .1,2.6 .1-3.4 .1,4.5 .1-4.3 .1,5.0 .1,.8 .1-5.9 .1,5.1 .1-2.4 .1,3.5 .1-3.8 .1,.6 .1,0 .1,3.4 .1-7.1 .1,6.0 .1-1.5 .1-1.3 .1,.6 .1,2.6 .1-.3 .1,2.0 .1-5.2 .1-2.8 .1,3.0 .1,.8 .1-.6 .1,3.7 .1,2.4 .1-4.2 .1-4.8 .1,6.2 .1-3.7 .1,1.5 .1,1.8 .1-1.1 .1-.9 .1,.8 .1,1.0 .1-.3 .1,3.2 .1-9.4 .1,3.1 .1,.4 .1,3.1 .1-1.3 .1,1.4 .1-5.0 .1,2.6 .1,2.0 .1-1.6 .1-.8 .1,1.5 .1,3.1 .1-8.3 .1,8.1 .1-2.8 .1-2.6 .1,3.4 .1-1.4 .1,2.6 .1-4.4 .1,3.9 .1-4.2 .1,2.7 .1,.9 .1-1.7 .1,1.6 .1-2.8 .1,3.7 .1-3.5 .1-.4 .1,1.3 .1,.1 .1-1.7 .1,3.6 .1-2.0 .1,1.6 .1-4.6 .1,.4 .1,2.3 .1-1.6 .1,1.9 .1,1.5 .1,1.2 .1,.8 .1-1.5 .1-3.3 .1,2.8 .1-2.4 .1,2.4 .1-3.5 .1,5.3 .1-2.1 .1-1.5 .1-2.4 .1,3.6 .1-1.8 .1,1.8 .1-2.2 .1,.4 .1,2.6 .1,1.9 .1-6.1 .1,2.4 .1,1.3 .1-1.2 .1-.7 .1,5.8 .1-6.6 .1,2.6 .1-1.9 .1,.9 .1-4.6 .1,6.8 .1-2.4 .1-1.7 .1,5.8 .1-4.3 .1-.7 .1-.5 .1,4.2 .1-2.3 .1-.7 .1-2.3 .1,.9 .1,2.8 .1-.8 .1-4.4 .1,2.5 .1,2.4 .1,4.8 .1-6.9 .1-3.2 .1,6.5 .1-2.7 .1-1.9 .1,4.2 .1-1.8 .1-1.6 .1-.7 .1,2.6 .1,.5 .1-4.2 .1,6.1 .1-4.9 .1,5.9 .1-2.4 .1-1.1 .1,1.1 .1-2.0 .1,1.1 .1,3.8 .1-4.9 .1,3.1 .1-3.8 .1,1.9 .1,2.2 .1-4.8 .1,3.4 .1-5.4 .1,2.2 .1,1.6 .1,2.8 .1-.3 .1-3.6 .1,1.7 .1,.7 .1-3.8 .1,4.3 .1,2.1 .1-.3 .1-4.0 .1,.4 .1-1.2 .1,1.0 .1,.6 .1,2.0 .1-1.3 .1-2.2 .1,3.8 .1,.2 .1-3.3 .1,.8 .1,.3 .1-3.4 .1,3.9 .1,1.2 .1,2.8 .1-3.8 .1-1.1 .1,.3 .1,1.7 .1,.4 .1-3.6 .1,2.3 .1,1.0 .1-3.2 .1,4.8 .1-3.5 .1,2.4 .1-2.0 .1-.5 .1,.4 .1,.8 .1,1.3 .1-2.5 .1-1.9 .1,.9 .1-.6 .1,3.8 .1-3.7 .1,5.4 .1-3.0 .1-.5 .1,3.0 .1-3.6 .1,.1 .1,2.4 .1-.1 .1-3.8 .1,7.4 .1-4.0 .1-4.0 .1,2.4 .1,2.4 .1-1.5 .1,1.4 .1,3.3 .1-3.1 .1,2.3 .1-2.9 .1-2.9 .1,4.7 .1-4.8 .1,3.6 .1-.6 .1-3.3 .1,.3 .1,1.2 .1,1.2 .1,2.1 .1-2.8 .1,4.0 .1-2.2 .1-1.0 .1-2.3 .1,1.6 .1-1.3 .1,.9 .1,1.9 .1-1.1 .1,1.6 .1-3.7 .1-.4 .1-1.1 .1-.9 .1,3.0 .1,1.1 .1-.6 .1,.5 .1,4.4 .1-6.8 .1,1.8 .1-.5 .1-.9 .1,4.9 .1-3.0 .1,2.8 .1-3.1 .1,4.5 .1,.8 .1-6.8 .1,1.9 .1-.3 .1,1.5 .1-4.0 .1,3.8 .1,.6 .1-2.9 .1-3.6 .1,3.4 .1,.7 .1,2.5 .1-3.0 .1-1.2 .1,3.9 .1-.6 .1,.8 .1-1.5 .1,2.2 .1-1.1 .1-5.1 .1,4.4 .1,1.2 .1-1.6 .1,1.5 .1-2.5 .1,2.5 .1-4.2 .1,2.7 .1-1.2 .1-1.0" fill="none" stroke="#000" stroke-width="1.0"/>
<path d="M587.5,192.0l.1,8.6 .1-4.3 .1,5.4 .1-14.3 .1,2.1 .1,21.5 .1-13.4 .1-35.6 .1,24.3 .1,3.2 .1,6.9 .1-14.0 .1,11.1 .1-2.3 .1-17.4 .1,19.7 .1,12.4 .1-17.4 .1,2.1 .1,5.0 .1-9.6 .1-13.0 .1,19.7 .1-5.6 .1-2.5 .1,23.7 .1-15.1 .1-10.4 .1,.5 .1,28.1 .1-9.6 .1-32.8 .1,30.3 .1-14.2 .1-1.2 .1,21.9 .1-5.3 .1-20.1 .1,10.6 .1,8.4 .1-9.8 .1,6.9 .1-14.3 .1,25.6 .1,2.1 .1-26.9 .1-9.6 .1,12.3 .1,17.2 .1-8.2 .1-3.1 .1,3.2 .1-20.8 .1,18.4 .1-.5 .1-7.7 .1,19.4 .1-18.0 .1,.5 .1,17.0 .1-.6 .1-6.8 .1,2.2 .1,2.2 .1-.5 .1-16.1 .1,22.7 .1,14.8 .1-19.9 .1-7.7 .1,17.9 .1-6.5 .1-16.7 .1,8.2 .1-5.6 .1,19.8 .1-28.3 .1,31.5 .1-23.3 .1,12.1 .1-8.7 .1,10.1 .1,9.6 .1-6.2 .1-22.0 .1,11.7 .1,4.9 .1,21.0 .1-28.4 .1,21.3 .1-24.1 .1,8.7 .1,8.7 .1-19.5 .1,28.6 .1-1.6 .1-5.3 .1-2.0 .1,19.8 .1-39.3 .1,6.1 .1,32.0 .1-39.6 .1,18.2 .1-5.5 .1-8.8 .1,0 .1,8.7 .1,5.9 .1,2.7 .1,1.3 .1-5.9 .1-.3 .1,6.8 .1-14.3 .1-7.8 .1,25.2 .1-33.5 .1,30.5 .1,8.4 .1-28.9 .1-11.1 .1,16.0 .1,13.5 .1-14.5 .1,5.1 .1,8.6 .1-13.4 .1,20.1 .1-24.9 .1,11.3 .1,7.9 .1,12.6 .1-5.9 .1,8.1 .1-33.2 .1,42.4 .1-35.6 .1,13.2 .1,14.6 .1-11.6 .1,7.9 .1-27.2 .1,1.3 .1,7.8 .1-1.2 .1,7.7 .1-4.7 .1-9.2 .1,15.6 .1-18.0 .1,8.1 .1,11.4 .1-13.3 .1,9.8 .1,7.6 .1,9.3 .1-2.9 .1-3.4 .1-4.1 .1-19.2 .1,4.6 .1,0 .1,3.7 .1,4.6 .1-8.8 .1,5.8 .1,17.0 .1-16.8 .1-16.1 .1,18.1 .1,1.6 .1-2.2 .1,27.2 .1-13.0 .1,8.4 .1-24.8 .1,14.9 .1-5.3 .1-3.5 .1-7.9 .1,11.4 .1-22.9 .1,31.1 .1,14.3 .1-8.5 .1-38.0 .1,24.5 .1-9.9 .1,1.6 .1,3.8 .1,15.4 .1-4.6 .1-16.5 .1,14.9 .1-4.1 .1,19.9 .1-36.7 .1,14.3 .1-8.6 .1,9.8 .1-20.7 .1,11.6 .1,8.6 .1-4.9 .1-2.9 .1,8.0 .1-4.4 .1-3.6 .1,7.2 .1,2.9 .1,3.2 .1-21.1 .1,13.8 .1,16.4 .1-26.7 .1,16.2 .1-6.2 .1,16.2 .1,1.6 .1-9.7 .1-7.6 .1-10.9 .1,10.9 .1-3.1 .1,9.1 .1,15.3 .1,3.7 .1-15.9 .1-1.7 .1-2.5 .1,4.5 .1-4.9 .1,19.7 .1-24.9 .1,8.8 .1-7.1 .1,15.6 .1,8.6 .1-11.1 .1-4.5 .1-1.3 .1,5.3 .1-10.1 .1,20.9 .1,1.2 .1-7.3 .1-1.8 .1-11.8 .1,21.9 .1-31.2 .1,6.5 .1,27.8 .1-24.5 .1-3.8 .1-8.1 .1,26.2 .1,1.6 .1-9.4 .1-17.7 .1,15.0 .1-6.6 .1,16.4 .1,5.5 .1-9.8 .1,0 .1,10.8 .1,1.6 .1-27.6 .1,15.8 .1-15.4 .1,4.0 .1,18.3 .1-21.4 .1,9.1 .1,13.5 .1-7.4 .1-19.8 .1,14.7 .1-1.1 .1-6.3 .1,27.9 .1-18.6 .1,.1 .1,9.3 .1-8.1 .1-13.8 .1,12.5 .1,4.1 .1-2.4 .1,8.5 .1-1.6 .1-3.3 .1-6.2 .1,2.0 .1,17.7 .1-33.2 .1,25.9 .1-6.2 .1-10.5 .1,6.4 .1,5.8 .1-18.5 .1,14.6 .1,3.9 .1-13.4 .1,9.5 .1,11.7 .1-10.9 .1-9.6 .1-6.6 .1-1.5 .1,25.2 .1-10.7 .1,1.0 .1-1.0 .1-4.6 .1,22.7 .1-9.5 .1,7.2 .1-24.3 .1,16.5 .1,.6 .1-16.1 .1,2.4 .1,.6 .1,16.7 .1-7.0 .1-8.4 .1,12.8 .1-12.1 .1,7.2 .1-1.7 .1-6.8 .1,16.2 .1-7.9 .1-20.7 .1,18.8 .1,15.1 .1-33.1 .1,28.1 .1-5.9 .1-12.8 .1,10.8 .1-9.8 .1-3.3 .1,17.0 .1-.8 .1-18.2 .1,11.2 .1,5.1 .1-14.0 .1,23.4 .1-15.8 .1,10.1 .1,2.2 .1-13.7 .1,11.3 .1-1.8 .1,2.6 .1-7.2 .1,13.2 .1-3.0 .1,7.2 .1-3.9 .1-20.8 .1,6.9 .1,8.7 .1,5.0 .1-14.5 .1,6.2 .1,2.7 .1-3.5 .1,9.7 .1-17.0 .1,12.9 .1-10.9 .1,10.5 .1-11.4 .1,5.5 .1,10.4 .1-15.8 .1,8.8 .1,4.9 .1-6.2 .1-1.2 .1,2.4 .1-7.4 .1,13.9 .1-.1 .1,8.5 .1-12.0 .1,6.8 .1-13.1 .1,8.3 .1-11.5 .1,9.7 .1-4.5 .1,10.7 .1-24.7 .1,15.6 .1-1.0 .1,8.1 .1-11.3 .1,2.5 .1,14.0 .1-15.4 .1,2.1 .1,12.6 .1-26.4 .1,20.6 .1-.4 .1-.6 .1-16.4 .1,3.1 .1,4.9 .1-.1 .1,12.4 .1-8.9 .1,15.2 .1-11.6 .1,5.3 .1-10.2 .1,.7 .1,8.3 .1,3.7 .1-12.2 .1,15.6 .1-12.1 .1,14.5 .1-22.1 .1,7.1 .1,8.0 .1-5.6 .1-4.0 .1,9.8 .1,2.5 .1-10.6 .1,9.3 .1-9.3 .1-2.8 .1,16.4 .1-14.4 .1,.7 .1,9.9 .1-13.6 .1,.4 .1,5.4 .1,2.9 .1,6.6 .1-8.6 .1-3.6 .1-4.8 .1,7.6 .1-1.0 .1,12.2 .1-20.9 .1-1.2 .1-.6 .1,12.7 .1,5.2 .1,9.2 .1-24.8 .1,13.7 .1-5.8 .1,17.2 .1-9.7 .1,9.1 .1-11.7 .1,8.4 .1-5.3 .1-7.6 .1,12.2 .1-9.5 .1-14.7 .1,16.5 .1-8.5 .1,13.5 .1,7.7 .1-9.3 .1,2.0 .1-13.5 .1,3.5 .1,1.6 .1,19.4 .1-17.9 .1,5.3 .1-15.8 .1,10.1 .1,4.8 .1-1.9 .1-1.0 .1,5.5 .1,.5 .1-12.6 .1-.9 .1,14.3 .1,1.9 .1-16.1 .1,15.3 .1-15.4 .1,9.3 .1,10.8 .1-21.6 .1,12.2 .1-1.5 .1-6.7 .1,14.2 .1-12.6 .1,2.1 .1-3.1 .1,11.5 .1,1.0 .1,6.0 .1-11.8 .1-4.2 .1,17.2 .1-15.5 .1,9.7 .1,6.9 .1-6.0 .1-19.1 .1,5.8 .1,2.0 .1,12.0 .1-11.8 .1,11.4 .1-3.9 .1-.4 .1-1.2 .1-5.3 .1,15.5 .1-9.0 .1,10.2 .1-17.5 .1-5.6 .1,22.5 .1-18.6 .1,9.4 .1-3.5 .1,1.7 .1-1.2 .1-5.5 .1-.6 .1,10.2 .1-6.6 .1,17.6 .1-1.3 .1-.9 .1-13.4 .1,9.2 .1-9.9 .1-2.4 .1,13.4 .1-7.9 .1,18.1 .1-26.1 .1,5.0 .1,9.8 .1-6.2 .1,2.3 .1,4.5 .1-8.1 .1-3.9 .1-2.9 .1,9.2 .1,4.5 .1-2.3 .1,6.8 .1-11.1 .1,5.0 .1-7.8 .1-7.6 .1,17.7 .1-7.3 .1,7.9 .1-8.8 .1-6.4 .1,4.6 .1,4.3 .1-2.6 .1,2.9 .1,5.8 .1-3.8 .1,3.4 .1-4.2 .1-3.6 .1-2.0 .1-8.4 .1,19.4 .1,3.6 .1-14.4 .1,.4 .1,.7 .1,8.4 .1-1.6 .1-2.2 .1,1.3 .1-11.0 .1,10.6 .1-.3 .1,4.7 .1-8.1 .1,1.3 .1,5.1 .1,15.2 .1-20.5 .1,18.0 .1-20.0 .1,6.7 .1-6.6 .1,15.6 .1-8.2 .1,.5 .1-3.1 .1,10.7 .1-13.1 .1,6.2 .1-4.9 .1,11.2 .1-21.8 .1,28.8 .1-16.1 .1-12.3 .1,15.8 .1-7.4 .1,4.6 .1,1.9 .1,6.4 .1-19.3 .1,14.9 .1,.9 .1-12.1 .1,13.6 .1,.5 .1-8.9 .1-9.1 .1,13.8 .1-4.2 .1,13.6 .1-11.9 .1,6.3 .1-2.3 .1-1.0 .1-9.5 .1,3.5 .1,5.5 .1-1.2 .1-.1 .1,5.8 .1-4.7 .1,4.4 .1-4.1 .1,2.0 .1-5.9 .1-6.4 .1,15.5 .1,1.7 .1-3.0 .1-9.4 .1,12.5 .1-6.5 .1,.5 .1-5.5 .1,1.2 .1-.9 .1,6.6 .1-6.8 .1,4.3 .1-3.3 .1-4.8 .1,8.8 .1,.5 .1-.3 .1-15.5 .1,21.8 .1-6.7 .1-6.1 .1,18.6 .1-12.2 .1,4.7 .1-4.0 .1-15.7 .1,22.7 .1-15.0 .1,14.3 .1-7.7 .1-4.7 .1-9.3 .1,11.9 .1-3.4 .1,6.7 .1-7.2 .1,11.7 .1-8.0 .1,.6 .1,15.6 .1-7.6 .1-9.2 .1,6.5 .1-12.5 .1,5.5 .1,3.7 .1-3.6 .1-1.6 .1,10.5 .1-7.9 .1-1.2 .1,1.3 .1-11.4 .1,20.3 .1-3.1 .1-11.3 .1,18.0 .1-1.6 .1-8.6 .1-4.4 .1,6.4 .1-3.7 .1,6.9 .1-3.4 .1,8.2 .1-18.1 .1,6.4 .1,5.6 .1-4.8 .1,.5 .1-4.5 .1,19.1 .1-13.0 .1,5.5 .1-9.1 .1,2.0 .1,2.4 .1,10.7 .1-1.6 .1,4.4 .1-3.4 .1-.2 .1-10.5 .1-2.9 .1,12.4 .1-12.5 .1,7.8 .1-7.1 .1-2.6 .1,6.9 .1-5.9 .1,3.7 .1,7.3 .1-6.6 .1,7.4 .1-8.8 .1,4.9 .1-8.3 .1,14.3 .1-12.4 .1,6.1 .1,1.7 .1-17.5 .1,4.2 .1,.7 .1,8.8 .1-1.0 .1-.4 .1,5.8 .1,10.1 .1-19.9 .1,8.3 .1-1.8 .1,6.3 .1-19.4 .1,3.1 .1,3.3 .1,0 .1,8.1 .1-4.3 .1-9.3 .1,7.7 .1-5.2 .1,5.2 .1,3.5 .1-3.6 .1,12.1 .1,6.3 .1-10.5 .1-12.3 .1,17.9 .1,4.0 .1-13.6 .1,3.4 .1,4.4 .1-5.4 .1,6.4 .1-4.2 .1-6.9 .1,.7 .1,1.5 .1-2.5 .1,11.9 .1-5.9 .1-3.0 .1,6.0 .1-4.3 .1,5.8 .1,3.4 .1-8.5 .1-4.5 .1-3.5 .1,17.5 .1-8.2 .1-5.7 .1,3.0 .1-6.1 .1,14.7 .1-6.1 .1-4.0 .1-6.5 .1,21.2 .1-11.7 .1-13.8 .1,9.8 .1,3.2 .1,1.1 .1-7.2 .1,13.2 .1-3.3 .1-3.1 .1-4.1 .1-6.5 .1,7.7 .1,1.6 .1-5.7 .1,8.7 .1,3.0 .1-7.4 .1,.4 .1,2.3 .1,9.8 .1-1.3 .1-17.9 .1,6.8 .1,16.8 .1-10.9 .1,7.3 .1-7.2 .1,4.4 .1-11.8 .1,5.1 .1,2.7 .1-3.2 .1-.2 .1,8.6 .1-9.1 .1,8.6 .1-11.0 .1,1.7 .1,6.0 .1-1.2 .1,2.7 .1-5.3 .1-.3 .1-2.5 .1-6.3 .1,6.7 .1,8.3 .1-6.3 .1,1.6 .1,6.0 .1-12.3 .1,7.3 .1-5.1 .1,9.6 .1-14.7 .1,6.4 .1-.9 .1,11.8 .1-11.9 .1,13.7 .1-11.7 .1,.4 .1-7.2 .1,.7 .1,3.2 .1-2.5 .1,9.7 .1-6.1 .1,.8 .1,1.8 .1-4.3 .1-1.9 .1,3.3 .1,5.0 .1-1.7 .1-4.1 .1,13.6 .1-6.7 .1,1.7 .1,4.8 .1-13.5 .1,10.4 .1-3.8 .1,.2 .1-10.0 .1,4.0 .1,4.6 .1-.3 .1,8.8 .1-10.5 .1,3.5 .1-3.0 .1-5.4 .1,5.3 .1,2.4 .1,9.0 .1-2.6 .1-9.7 .1-1.9 .1,4.8 .1-2.9 .1,16.2 .1-8.4 .1-4.9 .1-2.6 .1-2.8 .1,5.3 .1-12.2 .1,10.7 .1-.4 .1,10.8 .1-17.8 .1,14.4 .1-6.7 .1,6.1 .1-8.2 .1,6.2 .1,2.4 .1,8.4 .1-17.2 .1,3.6 .1,.2 .1-2.6 .1,2.7 .1,.7 .1-2.0 .1,4.4 .1-1.1 .1-9.2 .1,7.4 .1,5.9 .1-12.3 .1,6.2 .1,1.8 .1-1.3 .1-2.3 .1,2.7 .1,3.5 .1-9.0 .1,4.5 .1,4.8 .1-7.0 .1-3.2 .1,10.5 .1-.4 .1,1.5 .1-5.2 .1-3.3 .1,11.5 .1-1.4 .1-2.4 .1-6.8 .1,3.2 .1-1.2 .1-4.9 .1,6.1 .1,1.2 .1,1.3 .1-5.2 .1,13.1 .1-16.0 .1,12.2 .1-9.1 .1,7.1 .1-9.8 .1,16.5 .1-4.0 .1-16.0 .1,15.4 .1-5.9 .1,3.8 .1-4.7 .1-.7 .1-6.5 .1,4.8 .1,2.4 .1-8.7 .1,3.6 .1,5.3 .1,2.3 .1-4.7 .1,9.8 .1-10.1 .1,6.0 .1,3.7 .1-11.0 .1,10.2 .1-6.7 .1-3.7 .1,12.9 .1,.2 .1-10.2 .1,7.2 .1-.4 .1-5.2 .1,11.6 .1-12.1 .1-2.8 .1,3.6 .1-.7 .1-1.6 .1,.8 .1-5.5 .1,10.2 .1-10.3 .1,12.9 .1-2.1 .1-5.6 .1,0 .1-1.4 .1,3.5 .1,9.1 .1-7.4 .1-3.9 .1,11.4 .1-11.2 .1,.3 .1,13.0 .1-7.7 .1,2.8 .1-3.0 .1-.4 .1,.8 .1,.4 .1,7.6 .1-17.5 .1-6.3 .1,10.9 .1-6.2 .1,8.5 .1-7.0 .1,6.4 .1,5.6 .1-8.4 .1-1.1 .1,7.9 .1-8.0 .1,3.5 .1-.3 .1-5.8 .1,11.5 .1-10.5 .1,10.3 .1-2.7 .1-7.4 .1,3.7 .1,6.2 .1-5.8 .1,12.8 .1-16.4 .1,11.2 .1-14.6 .1,7.2 .1,6.5 .1-15.0 .1,11.3 .1-7.1 .1-1.1 .1,3.0 .1,1.0 .1,.3 .1-.5 .1-1.4 .1-7.9 .1,19.3 .1,4.0 .1-8.5 .1-3.8 .1-3.6 .1,6.5 .1,.1 .1-6.1 .1,3.7 .1,4.8 .1-2.3 .1-1.8 .1,1.0 .1-4.4 .1,3.5 .1,.7 .1-5.9 .1,4.9 .1,5.3 .1,.7 .1-16.5 .1,3.9 .1,12.4 .1-2.9 .1,.1 .1-9.3 .1,7.4 .1,2.7 .1-.8 .1-5.8 .1,.7 .1,4.6 .1-.7 .1,5.7 .1-18.1 .1,8.5 .1,9.4 .1-12.1 .1,6.3 .1,6.8 .1-12.5 .1,6.9 .1,8.0 .1-16.3 .1-3.6 .1,19.1 .1-11.6 .1,2.2 .1,.6 .1,5.9 .1-7.9 .1,6.5 .1-1.2 .1-4.0 .1,5.4 .1-3.9 .1-2.1 .1,12.4 .1-22.3 .1,4.3 .1,.6 .1,3.0 .1,3.1 .1-2.1 .1,12.9 .1-14.6 .1-3.0 .1,5.7 .1-2.4 .1-.3 .1,7.3 .1-3.2 .1,4.2 .1-11.6 .1,8.7 .1-3.1 .1-3.4 .1-5.1 .1,7.8 .1-5.7 .1,9.8 .1-1.4 .1,.1 .1,9.7 .1-5.7 .1-17.4 .1,13.8 .1-2.1 .1,0 .1-3.9 .1,7.5 .1-17.5 .1,5.4 .1,10.3 .1-2.3 .1,3.9 .1-7.0 .1-.9 .1,7.0 .1-3.4 .1-10.2 .1,14.3 .1-11.0 .1,10.6 .1-3.8 .1,2.1 .1,2.3 .1-11.0 .1,8.9 .1-3.9 .1-1.1 .1,1.4 .1-2.9 .1,3.0 .1,1.0 .1-4.8 .1,9.4 .1-5.5 .1-1.7 .1,3.5 .1,.3 .1-10.7 .1,9.4 .1-3.7 .1,3.4 .1-2.4 .1,3.0 .1-1.1 .1-13.6 .1,12.9 .1,2.5 .1,.9 .1,2.8 .1-5.0 .1,5.4 .1-2.6 .1-7.4 .1-.2 .1,9.8 .1-3.2 .1-13.7 .1,3.8 .1,12.3 .1-5.7 .1-10.5 .1,12.0 .1,3.0 .1-1.9 .1-4.0 .1-.9 .1-1.9 .1,0 .1,4.4 .1,11.5 .1,0 .1-14.1 .1-7.5 .1,7.8 .1-1.1 .1,.1 .1-8.1 .1,9.0 .1-3.3 .1,3.9 .1-9.1 .1,9.0 .1-7.2 .1,8.1 .1-5.0 .1,.6 .1-.1 .1-.1 .1-.4 .1-.5 .1,.7 .1,1.2 .1,12.8 .1-5.6 .1-8.7 .1-4.5 .1,14.3 .1-6.6 .1,2.0 .1,4.7 .1-17.7 .1,7.4 .1,4.5 .1,6.9 .1-8.5 .1,.9 .1-.7 .1-.1 .1,1.1 .1-4.3 .1-.8 .1,1.9 .1,5.7 .1,3.1 .1-6.0 .1-2.4 .1,8.7 .1-4.0 .1,1.0 .1-5.0 .1-1.8 .1,5.3 .1-3.8 .1,7.7 .1-12.0 .1,7.0 .1-1.9 .1-6.1 .1,3.9 .1-4.1 .1,4.0 .1,.4 .1,15.2 .1-19.8 .1,9.9 .1-6.6 .1,4.8 .1-4.1 .1-2.8 .1,13.1 .1-1.9 .1-16.9 .1,9.4 .1-1.3 .1-7.4 .1,10.4 .1,2.0 .1-2.8 .1,2.4 .1,7.7 .1-13.2 .1,10.1 .1,5.4 .1-26.8 .1,12.5 .1,9.3 .1-6.0 .1-5.7 .1,12.1 .1-3.3 .1-16.3 .1,15.9 .1-6.1 .1,2.3 .1-8.3 .1,10.2 .1-2.3 .1-6.6 .1,3.5 .1,10.6 .1,.6 .1-18.2 .1,11.9 .1-4.8 .1-1.4 .1,4.6 .1,7.6 .1-5.9 .1-9.1 .1,6.0 .1,2.4 .1,3.9 .1-7.1 .1,1.2 .1,.5 .1-2.3 .1-10.5 .1,19.7 .1-6.5 .1-1.9 .1-6.7 .1,8.1 .1,10.4 .1-15.7 .1-6.3 .1,12.5 .1-2.5 .1-.5 .1-9.1 .1,11.9 .1,1.3 .1-18.4 .1,15.3 .1,3.7 .1-10.2 .1-7.6 .1,13.6 .1,12.5 .1-11.0 .1,11.6 .1-11.8 .1-3.5 .1-2.8 .1,12.8 .1-17.0 .1,4.4 .1,1.2 .1,4.3 .1-1.5 .1-9.5 .1,1.8 .1,17.9 .1-10.1 .1-.6 .1-2.2 .1,3.9 .1-6.4 .1,11.5 .1-1.6 .1-5.3 .1,5.8 .1-6.7 .1-1.6 .1,8.8 .1-6.7 .1,.4 .1,10.1 .1-10.9 .1,4.0 .1,6.5 .1-17.1 .1,6.0 .1,7.9 .1-7.8 .1-.8 .1,1.8 .1-.9 .1,0 .1,4.5 .1-1.9 .1,10.0 .1-8.5 .1,8.3 .1-4.1 .1,4.6 .1-11.4 .1,8.3 .1-6.5 .1,9.0 .1-14.7 .1,2.0 .1,5.3 .1-8.2 .1,14.8 .1-9.9 .1,4.3 .1,3.1 .1-2.6 .1-8.1 .1-3.5 .1-2.1 .1,4.7 .1,1.0 .1-.2 .1,7.6 .1-11.0 .1-1.5 .1,10.9 .1,9.8 .1-16.4 .1,4.9 .1,.4 .1,7.0 .1-1.4 .1-7.8 .1,8.2 .1-5.1 .1,4.5 .1,6.1 .1-24.0 .1,4.6 .1,.5 .1,1.1 .1,7.7 .1,.1 .1,9.8 .1-1.9 .1-6.7 .1-2.5 .1,4.8 .1-1.4 .1-5.4 .1,7.0 .1-7.1 .1,2.5 .1-.3 .1-2.6 .1-.3 .1,4.3 .1-1.1 .1-6.5 .1,17.2 .1,.2 .1-.3 .1-3.3 .1-6.9 .1-5.0 .1-.4 .1-4.2 .1,8.4 .1-8.2 .1,10.8 .1,.9 .1-4.7 .1,.1 .1,2.8 .1,3.7 .1-5.2 .1,11.9 .1-15.1 .1,1.6 .1,.9 .1,1.6 .1,2.5 .1,2.0 .1-5.1 .1,11.2 .1-20.0 .1,12.4 .1-1.3 .1-8.1 .1-.4 .1,8.9 .1,6.1 .1-4.3 .1-2.7 .1-1.4 .1-1.0 .1,.6 .1,6.0 .1,2.5 .1-3.0 .1-7.0 .1,7.3 .1,14.4 .1-28.1 .1,12.3 .1-4.8 .1,3.7 .1-7.8 .1,1.2 .1,5.5 .1-2.5 .1,.4 .1-2.1 .1,7.5 .1,3.6 .1-11.4 .1,6.9 .1-3.9 .1,4.0 .1,4.9 .1-4.8 .1-2.0 .1-5.2 .1,12.2 .1,3.0 .1-19.9 .1,14.0 .1-4.1 .1-6.1 .1,16.8 .1-6.6 .1,8.7 .1-15.9 .1,1.8 .1-5.7 .1,8.8 .1-9.7 .1,7.6 .1,8.2 .1-3.3 .1,2.4 .1-4.6 .1,3.6 .1-4.8 .1-6.3 .1,9.7 .1-3.0 .1-3.9 .1-1.7 .1,12.8 .1-15.6 .1,4.5 .1,6.6 .1,1.4 .1-2.0 .1-9.5 .1,14.2 .1-6.4 .1-7.3 .1,13.9 .1-6.4 .1-9.4 .1-2.6 .1,11.8 .1-2.5 .1,5.0 .1-.6 .1-5.0 .1,6.6 .1-1.1 .1-6.5 .1,9.7 .1-3.1 .1-2.0 .1,2.9 .1-6.2 .1,.2 .1,3.7 .1-4.4 .1,13.2 .1-6.7 .1,2.6 .1,5.7 .1-1.8 .1,3.6 .1-15.7 .1,13.4 .1-10.9 .1,1.2 .1,2.3 .1-.6 .1-.5 .1,1.8 .1,6.4 .1-19.5 .1,3.9 .1,1.0 .1,8.4 .1-.9 .1,1.5 .1,7.9 .1-9.7 .1-7.5 .1,9.8 .1,7.2 .1,.9 .1-10.6 .1,1.2 .1,1.0 .1,1.4 .1-3.7 .1-1.7 .1,10.6 .1-.1 .1-7.8 .1-3.0 .1-.2 .1-2.6 .1-.4 .1,5.0 .1-2.2 .1,5.1 .1-4.0 .1-2.0 .1,2.8 .1-10.1 .1,14.0 .1-3.0 .1,8.3 .1-9.2 .1,1.5 .1-3.8 .1,15.3 .1-9.2 .1,4.9 .1-7.8 .1,4.7 .1-7.7 .1,1.7 .1,1.6 .1-2.9 .1,8.2 .1,.6 .1,1.8 .1-10.4 .1,1.7 .1,2.7 .1,3.5 .1-9.5 .1,5.0 .1,6.5 .1-4.5 .1-1.0 .1-5.0 .1,4.0 .1,5.1 .1,1.7 .1-13.3 .1,10.3 .1-3.7 .1-2.8 .1,13.7 .1-5.7 .1-8.5 .1,.3 .1,5.9 .1-8.0 .1,6.2 .1,3.5 .1-8.8 .1,7.3 .1,1.3 .1-5.2 .1,5.0 .1,1.5 .1-1.1 .1-5.2 .1,7.4 .1-5.7 .1,2.6 .1-.6 .1-.3 .1-9.5 .1,14.6 .1-2.6 .1-1.6 .1,2.3 .1-4.8 .1,1.3 .1,3.2 .1-12.6 .1,6.8 .1,.7 .1,1.5 .1-1.1 .1-1.1 .1,4.9 .1,2.6 .1-1.5 .1,2.7 .1-2.3 .1,4.5 .1,.6 .1-9.5 .1-1.6 .1,1.0 .1,1.2 .1,5.1 .1-1.0 .1-1.4 .1-4.1 .1,1.2 .1,1.1 .1,1.9 .1-11.7 .1,11.9 .1,1.2 .1-5.7 .1,10.0 .1-3.0 .1-.3 .1-10.6 .1,11.1 .1-3.0 .1,.2 .1-11.5 .1,3.5 .1,5.8 .1-4.8 .1,12.3 .1-11.2 .1,8.6 .1-1.7 .1,9.5 .1-10.9 .1,6.6 .1-8.8 .1-6.1 .1,9.8 .1,4.3 .1-8.4 .1,7.3 .1-2.1 .1-2.6 .1,.9 .1-.3 .1-3.4 .1,3.5 .1,1.3 .1-5.3 .1-7.2 .1,13.6 .1-6.1 .1,5.7 .1-6.4 .1,5.7 .1-2.8 .1-.4 .1,1.3 .1,1.8 .1-9.6 .1,13.7 .1-1.0 .1-3.1 .1-9.0 .1,11.4 .1-3.8 .1,7.5 .1-9.6 .1,1.2 .1,5.4 .1-14.2 .1,8.0 .1,1.0 .1-9.7 .1,6.2 .1,5.4 .1,.5 .1,6.0 .1-3.2 .1-10.3 .1,9.6 .1-1.8 .1-1.2 .1-5.6 .1,13.6 .1-.5 .1-6.5 .1-5.1 .1-1.4 .1,.1 .1,9.1 .1-11.7 .1,12.9 .1-5.9 .1,2.4 .1,1.8 .1,7.4 .1-7.4 .1-4.1 .1,2.5 .1-1.1 .1-.4 .1,.3 .1-4.9 .1,5.9 .1-7.5 .1,11.2 .1-6.7 .1-3.6 .1,8.3 .1,.1 .1-2.6 .1-7.2 .1,1.0 .1,8.2 .1,7.7 .1-8.9 .1,.2 .1,1.3 .1-6.5 .1,8.9 .1-7.7 .1,3.0 .1-3.8 .1-1.8 .1,2.0 .1-.7 .1,2.4 .1,8.7 .1-5.6 .1-3.7 .1,4.3 .1-4.3 .1,7.5 .1-1.4 .1-5.1 .1,1.4 .1,.5 .1-4.7 .1-.6 .1,4.5 .1-3.4 .1,3.9 .1,3.9 .1-4.7 .1,3.6 .1,5.2 .1-9.7 .1,8.3 .1-9.9 .1-1.4 .1,5.8 .1-1.4 .1-5.8 .1,12.2 .1-1.9 .1-8.0 .1,5.9 .1-2.0 .1-5.0 .1,6.9 .1-7.4 .1-1.6 .1,13.9 .1-9.0 .1-.6 .1,2.4 .1-2.2 .1,12.5 .1-7.3 .1,1.7 .1,.2 .1,5.4 .1-18.9 .1,13.1 .1-2.6 .1-.4 .1,4.8 .1-2.4 .1-10.2 .1,8.6 .1-1.8 .1,5.6 .1-13.8 .1,11.8 .1-2.1 .1,2.2 .1-1.1 .1-10.7 .1,12.0 .1-3.1 .1-3.3 .1,7.5 .1-4.2 .1,7.3 .1,1.4 .1-13.2 .1,8.1 .1-3.3 .1-.1 .1-.5 .1,5.0 .1-7.8 .1,5.3 .1-8.4 .1,8.0 .1-3.9 .1-3.0 .1,5.3 .1-4.6 .1,9.5 .1-9.4 .1,11.6 .1-3.4 .1-3.1 .1,2.3 .1-1.8 .1,9.2 .1-7.9 .1-4.7 .1,4.2 .1-3.2 .1,1.2 .1-2.2 .1,.2 .1,5.9 .1-3.8 .1,3.5 .1-4.6 .1,.9 .1-5.2 .1,11.2 .1,1.5 .1-7.5 .1,4.3 .1-10.1 .1,.8 .1,8.6 .1-10.7 .1,17.6 .1-5.7 .1,3.1 .1-7.8 .1-5.5 .1,2.0 .1,.1 .1,7.4 .1-8.1 .1,1.0 .1,10.2 .1-12.0 .1,2.5 .1,8.7 .1,4.1 .1-17.1 .1-3.1 .1,7.2 .1,3.9 .1-1.1 .1-2.2 .1-3.2 .1,9.2 .1-5.9 .1-.6 .1,3.1 .1,6.1 .1-5.5 .1,9.2 .1-11.4 .1,4.1 .1-12.0 .1,6.5 .1,2.7 .1-2.9 .1-.4 .1,1.0 .1,3.0 .1-2.9 .1,2.6 .1,1.3 .1-6.3 .1,3.8 .1-2.6 .1,7.5 .1,3.6 .1-6.7 .1,1.0 .1-3.0 .1,3.3 .1-3.1 .1-4.6 .1,11.0 .1,4.4 .1-7.1 .1-2.8 .1,2.1 .1,5.3 .1-9.4 .1,5.3 .1-2.4 .1-10.3 .1,7.9 .1,4.1 .1-1.0 .1-2.0 .1-5.0 .1,6.6 .1-.3 .1,1.6 .1,5.5 .1-7.7 .1,4.6 .1-2.6 .1,7.7 .1-7.6 .1,7.6 .1-14.2 .1-1.0 .1,7.5 .1-2.7 .1,6.3 .1-2.2 .1,.1 .1-7.0 .1,3.3 .1,3.9 .1-6.2 .1,2.5 .1,5.3 .1-5.5 .1,1.2 .1,4.3 .1-3.3 .1-8.4 .1,6.9 .1-.4 .1,1.4 .1,8.2 .1-4.7 .1-4.3 .1-3.6 .1,6.6 .1-2.8 .1,4.9 .1-4.4 .1,3.0 .1-7.9 .1,2.8 .1,1.0 .1-3.9 .1,5.3 .1-3.3 .1,0 .1-1.5 .1,2.7 .1-6.8 .1,11.1 .1-2.2 .1,.7 .1,3.0 .1-4.3 .1-2.6 .1,7.2 .1-7.6 .1,2.4 .1-10.3 .1,7.1 .1,2.3 .1,3.0 .1-.6 .1,1.9 .1-6.8 .1,0 .1,3.4 .1-4.5 .1,1.7 .1,2.0 .1-9.1 .1,1.8 .1,8.8 .1-5.0 .1,6.5 .1-5.6 .1-2.4 .1,7.3 .1-3.9 .1,2.7 .1-4.6 .1-.6 .1,2.1 .1-2.1 .1,2.6 .1-3.7 .1,6.1 .1,1.9 .1-1.4 .1-7.8 .1,11.1 .1-13.3 .1,8.7 .1-.5 .1,3.0 .1-6.5 .1,.8 .1,7.4 .1-.2 .1-9.6 .1,3.3 .1-2.3 .1-6.9 .1,15.5 .1-8.1 .1,3.2 .1,.9 .1-7.0 .1,9.8 .1-7.0 .1-3.6 .1,8.0 .1-.7 .1-3.2 .1,2.1 .1,7.9 .1-4.5 .1-3.1 .1-1.7 .1,9.9 .1-10.3 .1-6.9 .1,14.4 .1-7.8 .1-7.6 .1,3.4 .1,.2 .1-3.8 .1,6.5 .1,.7 .1,10.1 .1-7.8 .1-2.3 .1,1.9 .1,1.6 .1,3.6 .1,1.4 .1-14.8 .1,2.1 .1,6.6 .1,8.9 .1-11.1 .1,7.2 .1-7.5 .1,0 .1,1.3 .1,7.6 .1-8.6 .1,2.5 .1,1.2 .1,2.7 .1-4.0 .1,3.8 .1,3.7 .1-4.2 .1-5.3 .1,1.0 .1,1.9 .1-3.9 .1-2.5 .1,.8 .1,1.7 .1-6.5 .1,19.6 .1-6.6 .1-6.6 .1-.8 .1,9.1 .1-12.2 .1,1.7 .1,9.5 .1-5.1 .1,3.9 .1-3.1 .1-.5 .1-3.0 .1,5.2 .1-1.2 .1,0 .1-3.1 .1,7.6 .1-5.3 .1,2.4 .1-8.2 .1-2.3 .1,11.1 .1-6.5 .1-.9 .1,5.6 .1,4.5 .1-7.5 .1-.1 .1,3.4 .1,.5 .1-2.2 .1-8.8 .1,12.0 .1-7.2 .1,13.3 .1-13.0 .1,4.3 .1-1.3 .1,1.1 .1,9.7 .1-11.8 .1,6.0 .1-4.8 .1-1.7 .1,5.2 .1-2.0 .1-2.5 .1-3.7 .1,6.5 .1,8.7 .1-11.3 .1,3.6 .1-5.7 .1,13.3 .1-17.4 .1,4.0 .1-6.1 .1,12.1 .1-2.6 .1,1.3 .1-2.1 .1,7.4 .1-.9 .1-.9 .1-16.6 .1,6.7 .1,4.8 .1,3.7 .1-15.3 .1,18.6 .1-6.0 .1,6.0 .1-13.2 .1,1.9 .1-1.4 .1,2.0 .1-.7 .1-6.4 .1,16.2 .1-3.6 .1-6.5 .1-5.9 .1,15.3 .1-16.4 .1,5.6 .1-.8 .1,2.6 .1,5.7 .1,1.9 .1-2.5 .1-7.1 .1,11.8 .1-.5 .1-1.9 .1,7.1 .1-15.9 .1,1.5 .1-14.8 .1,15.5 .1,6.0 .1-2.0 .1-2.9 .1,7.4 .1-5.8 .1-2.3 .1-.3 .1-3.2 .1,5.1 .1-3.0 .1,3.6 .1,2.3 .1,.5 .1-4.3 .1,11.1 .1-14.4 .1,8.8 .1-3.2 .1,1.2 .1-4.5 .1-.4 .1,6.7 .1-11.1 .1,8.7 .1-7.4 .1-1.7 .1,8.9 .1-3.0 .1,11.8 .1-17.3 .1,9.0 .1-.2 .1,.3 .1-3.0 .1-5.3 .1,11.0 .1,.1 .1-1.7 .1-.5 .1,4.4 .1-1.0 .1-1.4 .1-6.1 .1,7.7 .1-8.7 .1,5.8 .1-6.4 .1,3.9 .1-15.7 .1,15.1 .1,5.2 .1-5.9 .1,9.9 .1-8.4 .1,11.3 .1-13.0 .1,2.3 .1-4.9 .1,3.2 .1,11.0 .1-14.7 .1-1.5 .1,8.6 .1,4.4 .1-7.4 .1-2.2 .1,2.9 .1,.1 .1,6.1 .1,3.5 .1-9.3 .1-3.0 .1-1.7 .1-2.4 .1,7.6 .1-6.8 .1,10.4 .1-4.3 .1-2.1 .1,9.7 .1-14.4 .1,12.1 .1-3.6 .1,.7 .1-1.2 .1-5.1 .1,7.9 .1,2.7 .1-14.5 .1,9.6 .1-1.0 .1-.8 .1,3.2 .1-2.7 .1-.9 .1,7.2 .1-9.7 .1,2.6 .1-.1 .1-1.7 .1,1.3 .1,8.7 .1-10.1 .1,14.1 .1-17.4 .1-3.0 .1,7.0 .1-2.5 .1,11.3 .1-3.5 .1-6.9 .1,3.9 .1-.4 .1,11.7 .1-9.6 .1,.5 .1,1.2 .1-1.3 .1-1.0 .1-3.8 .1,4.3 .1,.5 .1-6.9 .1,6.4 .1-13.4 .1,5.6 .1,7.2 .1,2.6 .1,1.9 .1-6.6 .1-4.0 .1,2.5 .1,2.9 .1,.6 .1,6.0 .1-6.3 .1,5.5 .1-7.4 .1,4.9 .1,.7 .1-1.1 .1,.7 .1-7.2 .1,8.7 .1-6.1 .1,1.5 .1-3.7 .1,6.1 .1-3.5 .1-1.1 .1,6.1 .1-6.4 .1,5.0 .1-.8 .1,1.6 .1-2.2 .1-5.5 .1,6.0 .1,1.0 .1,6.6 .1,0 .1-4.3 .1,.4 .1-14.1 .1,7.5 .1-2.4 .1,7.4 .1-.2 .1,0 .1,.2 .1-1.0 .1-2.0 .1-2.1 .1,5.7 .1-3.1 .1,4.7 .1-6.6 .1,.8 .1-2.3 .1,6.4 .1-6.5 .1-6.3 .1,6.4 .1,.5 .1,3.0 .1-1.5 .1,7.1 .1-4.1 .1,2.8 .1,1.9 .1-1.5 .1-.5 .1-6.1 .1,4.0 .1-2.3 .1,3.8 .1-5.9 .1,5.4 .1-5.0 .1,5.4 .1,2.1 .1,0 .1-7.0 .1,7.5 .1-13.2 .1,8.2 .1-6.9 .1,6.3 .1-5.2 .1,4.9 .1-2.8 .1,8.5 .1,3.9 .1-5.6 .1,.8 .1-2.5 .1-2.3 .1-.6 .1-4.0 .1,1.6 .1,6.8 .1-5.1 .1,3.4 .1-5.5 .1,13.5 .1-3.8 .1-6.2 .1,8.5 .1-5.9 .1,2.6 .1-5.4 .1-1.2 .1,8.0 .1-2.9 .1,.4 .1,.8 .1-3.8 .1-2.5 .1,3.6 .1-9.1 .1,7.9 .1,4.4 .1-5.7 .1,8.9 .1-9.4 .1-2.9 .1,6.9 .1-3.2 .1,3.4 .1-5.4 .1,5.1 .1-1.8 .1,.6 .1,2.9 .1-7.2 .1,2.5 .1,5.4 .1,.5 .1-2.1 .1-7.7 .1,5.5 .1-2.5 .1,.4 .1-5.2 .1-2.3 .1,13.0 .1-.8 .1-9.5 .1,4.6 .1,1.8 .1-2.7 .1,4.6 .1-3.8 .1-4.2 .1,4.1 .1,3.7 .1-5.8 .1,7.1 .1,1.2 .1-1.8 .1-.2 .1-2.7 .1,2.6 .1-5.3 .1-6.6 .1,6.8 .1,8.9 .1-1.7 .1-8.7 .1,3.5 .1-2.1 .1-1.9 .1,3.5 .1,4.7 .1-3.0 .1-1.3 .1-8.0 .1,18.1 .1-13.9 .1,5.0 .1,3.3 .1-2.7 .1,2.8 .1-13.0 .1,5.9 .1,.8 .1-2.7 .1-1.0 .1,10.2 .1-8.9 .1,9.8 .1-.8 .1-5.2 .1-4.2 .1,3.3 .1-.6 .1,.3 .1-.5 .1,3.4 .1-1.3 .1,.9 .1,.2 .1,5.1 .1-.5 .1-4.4 .1-.4 .1-.3 .1,4.6 .1-1.1 .1-2.4 .1-1.0 .1,2.9 .1,2.0 .1-6.1 .1,3.6 .1-9.2 .1,4.7 .1,4.7 .1-8.4 .1,.3 .1,11.7 .1-13.5 .1,6.7 .1,9.8 .1-7.0 .1,5.7 .1-.8 .1-9.4 .1,2.3 .1,2.3 .1,3.0 .1,1.4 .1-2.7 .1-1.8 .1-5.6 .1,8.6 .1-6.6 .1,6.3 .1,1.5 .1-11.3 .1,14.0 .1-8.9 .1,5.2 .1-.6 .1,3.7 .1-2.7 .1,1.9 .1-3.2 .1-6.6 .1,2.4 .1,3.6 .1,1.1 .1-3.3 .1-3.4 .1-2.2 .1,5.4 .1,8.9 .1-9.7 .1-6.0 .1,9.0 .1,.5 .1,5.7 .1-16.7 .1,5.3 .1,.3 .1,5.0 .1-5.0 .1,1.6 .1-3.5 .1,2.2 .1,11.1 .1-5.5 .1-1.6 .1-5.1 .1-1.5 .1,9.0 .1-4.1 .1,2.4 .1-1.1 .1-2.8 .1-7.7 .1,12.9 .1,3.5 .1-6.8 .1-.9 .1,1.5 .1-1.8 .1-6.3 .1,5.9 .1,1.1 .1,4.6 .1-8.2 .1,2.7 .1,1.3 .1,1.8 .1,5.9 .1-5.1 .1,0 .1-7.3 .1,11.1 .1-13.2 .1,12.2 .1-1.8 .1-3.1 .1-4.6 .1,6.4 .1-4.0 .1,7.2 .1-14.6 .1,9.6 .1-9.5 .1,9.5 .1-1.5 .1,4.5 .1-7.8 .1,.6 .1-4.6 .1,6.7 .1,2.5 .1-1.7 .1-2.8 .1,3.0 .1,1.5 .1,.5 .1-8.9 .1,5.8 .1-1.6 .1-5.6 .1,11.5 .1-1.1 .1-5.4 .1,6.2 .1-1.1 .1-2.8 .1,3.1 .1-2.1 .1-1.8 .1,6.8 .1-10.3 .1,13.7 .1-6.5 .1-2.7 .1,3.4 .1-5.4 .1,2.1 .1,9.5 .1-6.0 .1-2.5 .1,0 .1,4.3 .1,0 .1-4.9 .1,5.9 .1-4.7 .1-.1 .1,3.2 .1-5.9 .1-3.2 .1,5.5 .1,4.1 .1-4.7 .1,4.7 .1,1.3 .1-6.1 .1,1.4 .1-.6 .1,3.1 .1-.6 .1-1.2 .1,4.7 .1-3.8 .1-.5 .1-4.0 .1,3.2 .1,5.0 .1-2.5 .1-2.3 .1-.8 .1-3.3 .1,.8 .1,6.9 .1-3.9 .1,.3 .1,4.6 .1-6.6 .1-.2 .1,7.4 .1-3.1 .1-8.6 .1,6.1 .1-3.0 .1,1.1 .1,1.1 .1-5.5 .1,3.6 .1,9.9 .1-7.9 .1-1.1 .1,5.7 .1-9.1 .1,4.4 .1,6.0 .1-5.0 .1,1.3 .1-2.2 .1,2.2 .1,1.4 .1-3.4 .1,1.1 .1,.6 .1-8.4 .1,10.9 .1,3.6 .1-3.9 .1-2.3 .1-2.3 .1,2.9 .1,6.1 .1-1.8 .1-8.4 .1,8.6 .1-8.6 .1,.2 .1,2.0 .1,2.9 .1-3.2 .1,4.7 .1-2.7 .1,4.9 .1-11.4 .1,5.8 .1,2.1 .1,3.4 .1-13.9 .1,7.1 .1-6.7 .1,9.3 .1-3.8 .1,3.4 .1,2.6 .1-.5 .1-4.1 .1,3.1 .1,6.3 .1-10.5 .1,4.1 .1-4.1 .1,5.1 .1-6.3 .1,5.4 .1-7.9 .1,6.4 .1,7.8 .1-12.9 .1,2.1 .1,5.8 .1-7.7 .1-4.8 .1,2.6 .1,7.1 .1,3.5 .1-3.8 .1-.1 .1,3.9 .1-4.3 .1,5.3 .1,.5 .1-6.9 .1,6.1 .1-2.4 .1-2.9 .1,.4 .1,4.2 .1-8.9 .1-1.3 .1,10.5 .1,3.1 .1-6.4 .1,2.9 .1-10.3 .1,1.2 .1,3.0 .1,.7 .1,2.0 .1-2.4 .1-1.9 .1,3.0 .1,3.1 .1,1.7 .1-.7 .1-3.1 .1-1.0 .1-1.0 .1-5.5 .1,.8 .1,9.5 .1-1.2 .1-1.7 .1-1.4 .1-3.5 .1-3.7 .1,6.2 .1,1.2 .1-10.7 .1,16.8 .1-7.7 .1,4.3 .1,3.3 .1,.8 .1-7.0 .1,4.9 .1-.2 .1-3.2 .1,1.0 .1-4.6 .1,4.3 .1-3.5 .1,1.7 .1,1.3 .1,3.2 .1-4.5 .1-.2 .1-.5 .1,10.1 .1-10.1 .1,3.4 .1-7.6 .1,6.0 .1-4.8 .1,2.4 .1,5.1 .1,3.7 .1-5.9 .1,1.7 .1-1.7 .1-2.4 .1,2.1 .1,3.4 .1-3.0 .1-2.2 .1-.4 .1,3.7 .1,1.2 .1,5.8 .1-14.2 .1,8.3 .1-6.0 .1,2.8 .1,8.4 .1-4.1 .1-6.0 .1,.6 .1,4.9 .1,.1 .1-3.7 .1,3.0 .1-4.4 .1-7.4 .1,13.1 .1-6.0 .1,4.2 .1-3.0 .1-.4 .1-2.3 .1,6.3 .1,.3 .1,1.6 .1-2.1 .1-1.0 .1-3.7 .1,2.2 .1,1.5 .1-10.6 .1,4.5 .1,3.8 .1,3.8 .1,2.2 .1,1.2 .1-9.4 .1,3.1 .1-2.2 .1-1.1 .1,1.7 .1,1.8 .1,2.7 .1-8.8 .1,5.2 .1-3.3 .1,9.1 .1,1.2 .1-8.3 .1-.9 .1,5.0 .1,1.3 .1-7.4 .1,2.2 .1,2.6 .1-5.0 .1,9.7 .1-5.5 .1,.1 .1-4.7 .1,9.1 .1-9.8 .1,2.4 .1,.4 .1,1.8 .1-4.9 .1,2.5 .1,5.2 .1-2.4 .1,.6 .1,3.2 .1-1.1 .1,1.3 .1-3.8 .1-3.4 .1,9.7 .1-12.8 .1,1.3 .1,.8 .1,12.9 .1-8.2 .1,3.8 .1-10.0 .1,1.7 .1,5.4 .1-2.9 .1,2.2 .1-4.4 .1,4.3 .1,0 .1,.4 .1-1.5 .1,1.9 .1,2.5 .1-7.1 .1,4.5 .1,2.3 .1-4.0 .1,.4 .1,7.3 .1-2.8 .1,4.3 .1-1.4 .1-8.3 .1-1.4 .1,1.6 .1,4.3 .1-12.0 .1,9.0 .1,4.3 .1-4.3 .1,1.0 .1-2.1 .1-5.4 .1,9.9 .1-4.6 .1,2.8 .1-1.7 .1,7.3 .1-5.6 .1-.1 .1-2.0 .1-2.7 .1,4.6 .1,2.5 .1-4.0 .1-8.1 .1,5.2 .1,10.1 .1-9.3 .1,7.3 .1-12.3 .1,5.0 .1-1.1 .1,6.2 .1-.6 .1-.3 .1,1.7 .1-5.6 .1,8.2 .1-7.2 .1,4.3 .1,4.5 .1-9.9 .1,3.4 .1-1.9 .1,1.0 .1,.6 .1-1.4 .1,.4 .1,2.5 .1-7.5 .1,2.2 .1,.9 .1-3.3 .1,6.4 .1-3.0 .1-1.4 .1-1.9 .1,1.8 .1,4.9 .1-6.4 .1,8.1 .1-1.0 .1-1.3 .1-7.3 .1,3.4 .1,6.7 .1-5.2 .1-1.4 .1,.1 .1,4.1 .1-8.2 .1,9.7 .1-2.1 .1-4.6 .1,6.1 .1-11.0 .1,4.1 .1,5.7 .1,4.4 .1-9.9 .1-.8 .1,5.0 .1,.6 .1-3.2 .1-.1 .1,8.7 .1-9.2 .1-2.6 .1,4.5 .1,6.3 .1-2.2 .1-2.7 .1-4.7 .1,4.5 .1,8.7 .1-6.1 .1,1.6 .1-9.7 .1,4.3 .1-.5 .1,8.4 .1-7.4 .1,.8 .1-1.5 .1-6.8 .1,12.8 .1-11.2 .1,4.8 .1-3.7 .1,3.6 .1,.6 .1-.2 .1,7.2 .1-9.8 .1,3.3 .1,3.2 .1-3.5 .1-.4 .1,9.0 .1-4.3 .1-5.9 .1,4.0 .1-4.2 .1,5.0 .1-7.0 .1,8.3 .1-1.6 .1-.1 .1-1.3 .1,.8 .1-4.0 .1,3.5 .1,1.9 .1-.6 .1-5.0 .1,5.5 .1-6.5 .1,1.8 .1-.5 .1,.9 .1,1.8 .1,2.9 .1,1.5 .1-2.3 .1-4.4 .1,5.5 .1,.9 .1-6.4 .1-1.6 .1,3.8 .1,7.7 .1-8.2 .1,.4 .1,3.3 .1-6.9 .1,.3 .1,3.6 .1,3.5 .1-4.2 .1-1.3 .1-3.7 .1,11.9 .1-10.4 .1,9.4 .1-7.4 .1,6.8 .1,2.1 .1-9.5 .1,5.4 .1,.5 .1,1.9 .1-5.7 .1,5.7 .1-4.2 .1-4.0 .1,7.3 .1,1.0 .1-4.7 .1-.4 .1,3.3 .1,3.3 .1-10.7 .1,8.5 .1,3.5 .1-10.6 .1,5.3 .1-1.9 .1,1.1 .1,3.3 .1-10.4 .1,3.9 .1-3.1 .1,3.9 .1,7.9 .1-10.6 .1,2.1 .1-.5 .1,3.7 .1-2.6 .1-1.7 .1,0 .1,2.3 .1-3.9 .1-3.9 .1,12.6 .1-3.8 .1-2.6 .1,1.6 .1,3.2 .1-5.8 .1,3.3 .1-2.1 .1,6.4 .1-12.7 .1,3.2 .1,10.2 .1-9.4 .1,1.4 .1-1.5 .1-3.9 .1,7.9 .1,2.9 .1-1.4 .1-5.6 .1,2.6 .1,7.9 .1-6.7 .1-2.7 .1,6.6 .1-4.3 .1-5.7 .1,3.7 .1,6.4 .1-3.9 .1,.3 .1,2.7 .1-5.2 .1-2.6 .1,5.4 .1-2.2 .1,2.2 .1-2.6 .1-.1 .1-2.4 .1,6.2 .1,6.0 .1-11.5 .1,8.7 .1-1.8 .1-4.7 .1-1.4 .1,5.6 .1-3.2 .1,.3 .1-.6 .1,8.5 .1-12.7 .1,7.4 .1,5.3 .1-6.3 .1,7.2 .1-7.7 .1,.6 .1,2.2 .1-5.4 .1,2.7 .1,2.0 .1-4.5 .1,4.1 .1,2.3 .1-8.2 .1,3.8 .1,1.9 .1-4.0 .1,6.2 .1-.9 .1-4.7 .1,2.9 .1-3.2 .1,1.9 .1,2.1 .1-2.2 .1,1.1 .1-2.2 .1,5.9 .1-.9 .1-5.6 .1,4.3 .1,6.1 .1-9.8 .1,6.7 .1-1.4 .1-4.3 .1,3.6 .1-10.7 .1,12.8 .1-2.6 .1,.7 .1-2.3 .1,2.7 .1,.6 .1-1.5 .1-3.5 .1,.4 .1,.7 .1-.9 .1-2.2 .1-1.5 .1,4.2 .1-3.0 .1,2.0 .1-3.2 .1-.4 .1,3.4 .1,.7 .1,8.6 .1-8.0 .1,4.0 .1-2.0 .1-.7 .1-2.1 .1,3.4 .1-.4 .1-6.9 .1,7.4 .1-3.1 .1-5.0 .1,2.9 .1,5.3 .1,.8 .1-3.7 .1,4.8 .1-1.6 .1-8.3 .1,1.6 .1,5.2 .1-4.5 .1,1.0 .1,3.3 .1-2.1 .1-1.4 .1-2.6 .1,12.3 .1-14.5 .1,5.7 .1,5.4 .1-4.2 .1-3.0 .1-.7 .1,8.2 .1-1.4 .1-11.1 .1,3.4 .1,7.2 .1,3.5 .1-7.7 .1,5.4 .1-9.1 .1-.3 .1,1.5 .1,6.2 .1-1.0 .1,1.8 .1-8.8 .1,12.2 .1-7.4 .1,9.5 .1-7.1 .1-7.4 .1,6.4 .1-2.9 .1,8.5 .1-4.7 .1,3.7 .1-7.4 .1,.2 .1,3.2 .1-.2 .1-3.6 .1,5.2 .1,2.3 .1-5.4 .1-.6 .1,.1 .1,3.7 .1-2.4 .1,2.0 .1,2.4 .1-5.0 .1,.1 .1-.1 .1,6.3 .1-5.7 .1,.7 .1-1.3 .1,4.2 .1-1.7 .1-5.6 .1,7.5 .1-1.9 .1,2.9 .1-2.4 .1-2.1 .1-3.4 .1,7.1 .1,.9 .1-7.6 .1,2.9 .1,2.0 .1-2.2 .1,1.9 .1-2.8 .1-.9 .1,6.6 .1-10.4 .1,8.4 .1-5.1 .1,2.9 .1-2.5 .1,3.0 .1-2.8 .1,3.2 .1-6.0 .1-2.5 .1,7.0 .1,2.8 .1-5.3 .1,9.9 .1-8.2 .1,4.1 .1-9.2 .1,2.9 .1,0 .1-.6 .1-1.5 .1,4.1 .1-1.5 .1,8.8 .1-6.0 .1,1.3 .1-8.5 .1,12.8 .1,.1 .1-9.4 .1,.2 .1,1.1 .1,7.7 .1-10.5 .1,1.9 .1-2.0 .1,6.6 .1,2.0 .1-6.4 .1,7.5 .1-3.5 .1-3.6 .1,5.0 .1,2.5 .1,.1 .1-1.4 .1,1.5 .1-4.6 .1,1.1 .1,5.2 .1-6.7 .1-2.5 .1-1.4 .1,2.5 .1-4.8 .1,3.3 .1-.7 .1,3.4 .1-4.2 .1,4.4 .1,.4 .1,2.8 .1,.9 .1,1.9 .1-6.4 .1-4.6 .1,8.2 .1-1.3 .1-3.0 .1,4.5 .1,4.1 .1-5.7 .1-2.8 .1,2.3 .1-4.0 .1,10.3 .1-11.3 .1,.6 .1,7.5 .1-4.5 .1-3.7 .1,7.7 .1,.8 .1-9.9 .1,8.1 .1,1.2 .1,3.0 .1-4.8 .1,1.0 .1-2.3 .1,2.1 .1,3.6 .1-3.5 .1-4.7 .1,1.9 .1,7.2 .1-11.4 .1,2.3 .1-.2 .1,7.0 .1-7.7 .1,1.6 .1,1.3 .1-1.5 .1,3.9 .1-6.2 .1,0 .1-1.1 .1,9.2 .1-5.0 .1,1.5 .1-.6 .1-5.2 .1-.6 .1,1.8 .1,10.9 .1-8.3 .1,3.2 .1-5.3 .1,11.4 .1-7.5 .1-5.9 .1,3.8 .1,2.9 .1,2.4 .1-4.8 .1,3.6 .1-1.3 .1-.3 .1-2.2 .1,2.8 .1,2.6 .1-4.0 .1-1.1 .1,9.1 .1-5.5 .1-.1 .1-7.4 .1,8.9 .1-9.4 .1,9.8 .1-3.0 .1-2.9 .1-.7 .1,3.0 .1-2.0 .1-4.6 .1,9.8 .1-9.1 .1,4.7 .1-1.1 .1,7.2 .1-10.9 .1,8.9 .1-1.8 .1-9.7 .1,3.1 .1,2.5 .1-1.3 .1,4.5 .1,1.2 .1,1.7 .1-6.3 .1,4.4 .1-2.6 .1,2.6 .1-2.0 .1,.1 .1-1.1 .1,3.0 .1-1.4 .1-3.8 .1-3.9 .1,10.8 .1-.8 .1-3.0 .1,4.4 .1-4.3 .1-.2 .1-1.1 .1,6.0 .1,1.9 .1-7.1 .1-1.5 .1,6.0 .1-.6 .1-.9 .1-7.3 .1,6.1 .1-.4 .1-1.7 .1,2.6 .1-2.1 .1,1.9 .1-1.4 .1-.9 .1,6.9 .1-6.1 .1,2.3 .1,1.1 .1-6.6 .1,2.7 .1-2.4 .1,2.5 .1-3.5 .1,7.1 .1-3.0 .1-4.4 .1,6.0 .1-5.1 .1-1.6 .1,6.5 .1-1.3 .1-2.7 .1,5.0 .1-.9 .1-.9 .1,2.9 .1-2.5 .1,3.3 .1-3.1 .1-.1 .1-9.2 .1,6.9 .1,7.8 .1-8.6 .1,1.5 .1-1.1 .1-4.7 .1,8.3 .1,4.5 .1-.7 .1-6.7 .1-2.3 .1,1.2 .1,3.7 .1-3.1 .1,4.1 .1-1.8 .1-5.3 .1,.3 .1,7.0 .1,0 .1-2.9 .1,5.1 .1-5.4 .1-.8 .1,.9 .1,2.1 .1-9.9 .1,8.4 .1,0 .1-3.4 .1,0 .1,7.2 .1-5.9 .1,.6 .1,4.2 .1-7.5 .1,12.2 .1-10.5 .1,.4 .1-2.8 .1,2.9 .1-1.2 .1,1.7 .1-2.3 .1-4.2 .1,12.2 .1-1.5 .1-.3 .1-.4 .1,.2 .1-4.6 .1,10.4 .1-10.0 .1-2.2 .1,11.4 .1-8.5 .1,1.5 .1-3.7 .1,2.6 .1,2.6 .1-.5 .1-5.4 .1,6.9 .1-5.4 .1-2.7 .1,8.6 .1-2.0 .1-2.0 .1-1.9 .1,5.4 .1-3.6 .1-1.5 .1,4.4 .1-1.0 .1-5.2 .1,8.6 .1-10.2 .1,3.0 .1,4.1 .1-1.6 .1,4.9 .1-2.6 .1-10.0 .1,12.6 .1-6.3 .1,1.7 .1-2.6 .1-1.1 .1,5.9 .1-.5 .1-.8 .1-3.2 .1,7.8 .1-4.2 .1,.8 .1-1.8 .1,.8 .1,3.0 .1-.4 .1,.2 .1-3.5 .1,.1 .1-4.5 .1,3.4 .1-1.3 .1-.9 .1,3.4 .1,1.4 .1-4.4 .1-3.5 .1,5.0 .1,.9 .1,1.1 .1-4.2 .1-1.4 .1-1.9 .1,6.3 .1-2.0 .1,4.1 .1-7.0 .1,9.6 .1-5.3 .1-.1 .1,1.3 .1,1.9 .1,.3 .1-9.1 .1,4.4 .1,3.5 .1,.4 .1-1.2 .1-3.8 .1,4.5 .1-2.1 .1,.7 .1,4.2 .1-4.6 .1,1.9 .1,3.5 .1-1.6 .1-7.8 .1,.6 .1-3.2 .1,10.6 .1-4.3 .1-1.2 .1,1.5 .1-3.7 .1,6.0 .1-5.1 .1,6.3 .1-2.3 .1-1.1 .1,2.2 .1-2.8 .1,.7 .1,4.3 .1,1.6 .1-3.8 .1,2.9 .1-10.3 .1,5.9 .1-.5 .1-1.6 .1,3.5 .1,4.8 .1-4.8 .1,2.1 .1,.9 .1-.2 .1-4.3 .1,.7 .1,3.0 .1-1.0 .1-4.5 .1,7.1 .1-8.4 .1-1.4 .1,4.0 .1-4.3 .1,1.3 .1,3.0 .1-1.8 .1,2.3 .1-4.6 .1-3.5 .1,10.6 .1,.4 .1-.2 .1-4.4 .1,3.0 .1-2.7 .1,5.2 .1-8.1 .1,5.0 .1-2.6 .1,4.0 .1-2.1 .1-6.4 .1,5.0 .1-2.2 .1,4.9 .1,1.4 .1-7.1 .1,5.6 .1-4.9 .1,1.7 .1,2.3 .1,3.6 .1-2.6 .1,.6 .1-3.8 .1,1.1 .1,2.6 .1-1.5 .1,0 .1,.8 .1,4.3 .1-1.0 .1,.2 .1-3.5 .1-4.0 .1-1.4 .1,4.5 .1-3.8 .1-3.3 .1,5.6 .1,8.7 .1-7.6 .1,.5 .1-.8 .1,.8 .1-5.1 .1,5.5 .1,1.8 .1-1.8 .1,.1 .1-.9 .1,2.3 .1-6.3 .1-2.9 .1,5.1 .1,1.6 .1,2.1 .1-4.6 .1,3.1 .1-.7 .1,2.6 .1-4.0 .1,3.7 .1,.4 .1-3.5 .1,.4 .1-1.0 .1-.9 .1,.3 .1-1.6 .1,6.2 .1-1.1 .1-1.8 .1,.8 .1-.3 .1,5.0 .1-2.1 .1-4.1 .1,3.5 .1-8.0 .1,3.9 .1-.9 .1,3.7 .1-3.0 .1-.8 .1,.2 .1-2.4 .1,.4 .1,1.1 .1,4.6 .1-.4 .1,1.7 .1,3.1 .1-2.6 .1-9.2 .1,4.0 .1,7.3 .1-4.6 .1,.7 .1-.5 .1-5.5 .1,6.1 .1-1.9 .1-2.9 .1,4.7 .1,4.5 .1-6.4 .1-3.7 .1,3.9 .1-2.7 .1-5.0 .1,6.4 .1,3.0 .1-4.6 .1,2.9 .1-.1 .1-1.1 .1,.2 .1,.2 .1,.2 .1,.5 .1,2.1 .1-3.4 .1-1.1 .1,4.5 .1-4.0 .1,9.5 .1-8.0 .1,7.5 .1-5.8 .1,.1 .1,2.0 .1-1.6 .1-3.3 .1,.7 .1-1.9 .1-.1 .1,6.1 .1-10.9 .1,13.8 .1-2.7 .1-4.2 .1,6.9 .1,.5 .1-2.6 .1-11.7 .1,1.2 .1,8.9 .1-6.2 .1,5.4 .1-2.8 .1,2.7 .1-2.4 .1,1.1 .1-5.8 .1,5.6 .1-2.9 .1,6.6 .1-5.9 .1,11.6 .1-7.3 .1-2.5 .1-2.3 .1,3.3 .1-1.0 .1,3.1 .1-5.8 .1-.8 .1,6.3 .1-1.5 .1,3.2 .1,.5 .1-10.9 .1,7.2 .1-.4 .1-.2 .1,2.9 .1,3.4 .1-7.2 .1,.1 .1,2.7 .1,.3 .1-2.9 .1,3.3 .1,1.7 .1-6.4 .1,6.0 .1-6.9 .1,7.0 .1-7.4 .1,.2 .1-1.8 .1,3.6 .1,.8 .1-.3 .1-.8" fill="none" stroke="#000" stroke-width="1.0"/>
<path d="M587.5,250.6l.1-4.2 .1,16.0 .1-3.6 .1,6.2 .1-19.9 .1,8.2 .1-4.9 .1-4.5 .1,10.3 .1-10.4 .1,25.1 .1-20.0 .1,7.3 .1-9.5 .1,2.2 .1-2.3 .1,16.5 .1-2.4 .1-5.5 .1-9.6 .1,6.1 .1,5.3 .1-14.4 .1,12.7 .1-21.9 .1,11.8 .1,.8 .1,2.5 .1,21.8 .1-34.0 .1,17.5 .1-7.5 .1-6.2 .1,4.4 .1-8.3 .1,19.3 .1,1.2 .1-17.4 .1,15.9 .1-2.7 .1-24.3 .1,24.5 .1-7.1 .1-2.9 .1-2.1 .1-10.5 .1,12.0 .1-12.0 .1,31.0 .1-17.5 .1,19.8 .1-12.3 .1,6.3 .1-8.7 .1,2.3 .1,6.1 .1-5.0 .1,9.9 .1-18.4 .1,4.8 .1-6.5 .1,31.8 .1,.1 .1-15.7 .1,3.9 .1-7.9 .1,2.0 .1,23.6 .1-17.1 .1-3.5 .1-3.6 .1,8.6 .1,2.3 .1-12.0 .1,3.8 .1,9.5 .1-5.5 .1-6.1 .1,7.6 .1,5.3 .1-9.4 .1-2.8 .1,9.0 .1-9.0 .1-6.4 .1,3.6 .1,7.2 .1-6.5 .1-4.7 .1,22.7 .1-24.7 .1,6.8 .1,18.6 .1-17.0 .1,2.6 .1-10.5 .1,15.1 .1-18.2 .1,26.4 .1-12.6 .1,10.7 .1-10.6 .1-8.0 .1,6.1 .1,21.0 .1-11.2 .1-3.9 .1,14.1 .1-28.5 .1,13.2 .1,13.1 .1-18.3 .1,13.1 .1-7.4 .1,17.5 .1-7.6 .1-3.4 .1-4.7 .1-3.2 .1-7.2 .1,4.0 .1-10.1 .1,17.8 .1,5.5 .1,17.0 .1-16.4 .1,11.7 .1-25.0 .1,3.8 .1,10.2 .1-10.4 .1,15.2 .1,.4 .1-9.7 .1-2.8 .1,2.1 .1-5.4 .1,23.7 .1-15.1 .1,14.5 .1-23.4 .1,27.4 .1-22.2 .1,3.2 .1,7.0 .1,4.8 .1,3.7 .1-12.6 .1-10.3 .1,24.0 .1-15.8 .1-9.3 .1-1.0 .1,8.3 .1-16.9 .1,18.3 .1-2.2 .1,18.8 .1-6.1 .1-8.9 .1-19.2 .1,10.5 .1,6.4 .1,10.3 .1-21.7 .1,12.9 .1-10.2 .1,26.4 .1-16.8 .1-4.8 .1,10.4 .1-7.9 .1,2.4 .1,5.3 .1-5.8 .1,0 .1,24.6 .1-18.4 .1-5.9 .1,20.0 .1-9.4 .1,7.9 .1-17.5 .1,4.2 .1,5.8 .1,2.2 .1-9.7 .1,21.5 .1-27.5 .1,15.2 .1-4.2 .1-2.9 .1,1.2 .1,22.0 .1-26.6 .1-10.2 .1,26.3 .1-11.4 .1,5.8 .1,2.6 .1,10.5 .1-23.2 .1,3.9 .1,9.9 .1-9.1 .1,4.4 .1-12.9 .1,6.3 .1,12.1 .1-26.7 .1,23.3 .1-22.9 .1,40.1 .1-9.7 .1,3.6 .1,.5 .1-21.7 .1,8.3 .1-8.2 .1,12.7 .1-6.9 .1,6.8 .1-8.5 .1,5.7 .1-8.5 .1,2.8 .1-1.8 .1,4.5 .1,6.3 .1,5.6 .1-16.8 .1,14.4 .1-13.9 .1,19.7 .1-12.4 .1-6.9 .1,6.1 .1,8.1 .1-6.5 .1,4.2 .1-4.3 .1,19.1 .1-9.9 .1-6.2 .1,1.3 .1,15.7 .1-15.9 .1-1.0 .1-9.9 .1,16.4 .1-13.0 .1,3.6 .1,20.4 .1-25.7 .1,15.7 .1-12.3 .1-8.4 .1,6.9 .1,.5 .1,4.1 .1-1.8 .1-.5 .1,1.8 .1,11.0 .1-2.4 .1-12.8 .1,6.9 .1-3.8 .1,12.9 .1-20.9 .1,16.5 .1,1.4 .1-8.7 .1-.7 .1,6.7 .1-15.0 .1,6.7 .1-5.8 .1,15.3 .1-11.7 .1,5.4 .1-13.9 .1,12.1 .1,13.1 .1-8.0 .1,10.7 .1-28.6 .1,2.1 .1,30.2 .1-10.5 .1-14.2 .1,17.8 .1-2.8 .1-.5 .1,1.0 .1,3.0 .1-1.8 .1-2.7 .1,2.0 .1-1.8 .1-1.3 .1-.4 .1-2.4 .1,3.9 .1,4.1 .1-13.8 .1,7.5 .1,14.4 .1,1.0 .1-13.1 .1-6.6 .1,17.1 .1-23.4 .1,24.3 .1-2.0 .1-13.6 .1,2.8 .1-7.0 .1,9.6 .1-9.9 .1-2.2 .1,12.3 .1-6.2 .1,4.1 .1-1.3 .1-3.5 .1,7.5 .1-8.6 .1,10.8 .1-7.8 .1,13.6 .1-12.8 .1,8.9 .1,1.8 .1-7.5 .1-8.6 .1,15.2 .1-15.4 .1,13.0 .1-14.4 .1,8.4 .1,2.3 .1-3.5 .1,6.3 .1,2.7 .1-3.2 .1,.7 .1,8.7 .1-4.4 .1-2.6 .1-6.8 .1-4.4 .1,4.0 .1,11.5 .1-5.8 .1,4.6 .1-15.5 .1-3.5 .1,14.9 .1-17.4 .1,14.3 .1-9.7 .1,12.8 .1,2.7 .1-12.6 .1,17.7 .1-5.6 .1-3.6 .1-6.0 .1,.7 .1,4.6 .1,8.9 .1-7.2 .1-11.5 .1-.2 .1,14.5 .1-3.7 .1,8.4 .1-2.4 .1,5.8 .1-.7 .1-2.1 .1-3.9 .1-16.6 .1,19.5 .1,1.4 .1-2.3 .1-12.6 .1,12.2 .1,4.4 .1-4.3 .1-5.7 .1-12.2 .1,8.8 .1,19.4 .1-12.6 .1,6.8 .1-8.4 .1-10.4 .1,21.4 .1-5.7 .1,5.1 .1-7.9 .1-8.9 .1,17.8 .1-11.6 .1,4.8 .1,0 .1,4.0 .1-2.8 .1,6.5 .1-10.5 .1,8.5 .1,3.7 .1-13.0 .1-5.8 .1,7.1 .1,9.9 .1-6.8 .1,5.0 .1-7.0 .1-13.2 .1,7.1 .1-3.6 .1-3.5 .1,11.5 .1,9.7 .1-3.5 .1-1.0 .1,.6 .1-5.7 .1,13.8 .1-5.7 .1-1.1 .1-9.5 .1,12.3 .1,1.1 .1-8.4 .1-11.1 .1,18.2 .1-9.5 .1,1.2 .1-.4 .1,.8 .1-5.3 .1,9.8 .1,6.3 .1-9.0 .1-14.0 .1,12.0 .1,1.2 .1-.2 .1,3.9 .1-2.9 .1,.8 .1,.4 .1-8.3 .1,11.0 .1,3.9 .1-4.3 .1-1.0 .1,14.9 .1-13.1 .1,11.8 .1-9.4 .1-10.5 .1-4.1 .1,2.9 .1,.8 .1,5.9 .1,2.1 .1-3.8 .1,2.0 .1-4.2 .1-1.4 .1-.5 .1,4.1 .1,11.5 .1-23.4 .1,19.5 .1,.2 .1-7.3 .1,6.8 .1,5.7 .1-14.1 .1,6.7 .1-5.0 .1,1.5 .1,1.6 .1,.1 .1-3.8 .1,1.0 .1,11.2 .1,2.6 .1-7.8 .1,3.6 .1-7.8 .1-.8 .1,4.6 .1,6.1 .1-5.8 .1-10.1 .1,14.9 .1,8.1 .1-11.5 .1-13.1 .1,12.3 .1,11.3 .1-14.2 .1,4.3 .1-4.2 .1,4.8 .1-16.6 .1,8.9 .1,2.6 .1,5.6 .1-2.2 .1-6.1 .1,3.4 .1-5.5 .1-11.1 .1,15.4 .1,5.6 .1,8.9 .1-12.7 .1-1.3 .1,3.9 .1-14.6 .1,18.6 .1,2.0 .1-11.9 .1,2.4 .1,14.6 .1-10.6 .1-3.3 .1-1.2 .1,14.8 .1-11.0 .1-4.1 .1,7.3 .1,9.0 .1-17.5 .1-4.9 .1,21.3 .1-9.6 .1,7.0 .1-1.8 .1-13.0 .1-1.8 .1,17.5 .1-11.3 .1,6.0 .1-8.9 .1,11.7 .1-9.7 .1-1.3 .1,13.1 .1-2.4 .1-5.1 .1,7.7 .1-14.6 .1,14.4 .1,2.6 .1-4.6 .1-5.7 .1-3.7 .1,6.3 .1-7.4 .1,8.0 .1-3.0 .1,.8 .1,2.7 .1-.7 .1-.6 .1,.7 .1-10.0 .1,18.6 .1-10.5 .1,.5 .1,7.0 .1-1.2 .1-16.2 .1,23.1 .1-1.5 .1-12.6 .1,6.3 .1,0 .1-9.0 .1,7.2 .1,.7 .1,7.5 .1-22.4 .1,11.2 .1-4.0 .1,14.4 .1-14.0 .1,0 .1,2.4 .1,4.5 .1,.9 .1,.8 .1-4.4 .1,1.6 .1-4.1 .1,.6 .1,.4 .1-2.4 .1,18.5 .1-11.9 .1,.2 .1-2.2 .1,.7 .1,11.1 .1,1.1 .1-13.1 .1,2.2 .1,11.7 .1-17.5 .1,7.1 .1,3.8 .1-7.7 .1,9.3 .1-13.7 .1,12.4 .1,4.7 .1-15.3 .1,9.7 .1,6.3 .1-11.7 .1,2.9 .1-.7 .1-7.3 .1,7.7 .1,10.2 .1-10.4 .1,8.3 .1-20.5 .1,12.1 .1-11.9 .1,6.3 .1,8.1 .1,6.7 .1-10.5 .1,11.0 .1-8.8 .1-.9 .1-6.9 .1,1.5 .1,3.0 .1,3.4 .1,10.6 .1,.1 .1-3.7 .1-5.4 .1,2.1 .1,4.7 .1-15.1 .1,7.2 .1,4.6 .1-9.4 .1,14.8 .1-6.2 .1-.7 .1-.4 .1-3.8 .1,3.9 .1-3.7 .1-.6 .1,2.5 .1,10.9 .1-15.9 .1,10.1 .1,1.5 .1-6.5 .1-1.3 .1,5.2 .1-6.3 .1-5.6 .1,17.1 .1-15.5 .1,4.3 .1-.7 .1,3.3 .1,5.7 .1-7.3 .1,1.0 .1,3.0 .1-4.6 .1,6.2 .1,4.2 .1-4.2 .1,7.6 .1-6.5 .1-.1 .1-15.4 .1,9.2 .1,8.3 .1-11.6 .1,5.3 .1,5.7 .1,1.6 .1-4.9 .1-.9 .1,2.2 .1-12.9 .1,12.0 .1-5.6 .1,3.0 .1-5.9 .1-2.7 .1,9.1 .1,3.8 .1-.3 .1-9.6 .1,3.4 .1-1.2 .1,7.5 .1,3.0 .1-2.1 .1,.2 .1,5.9 .1-9.0 .1-.1 .1,5.7 .1-12.2 .1,.9 .1,6.7 .1,9.5 .1-14.5 .1,5.3 .1-4.2 .1,7.5 .1-1.5 .1-1.7 .1-3.5 .1,1.2 .1-6.8 .1,3.2 .1,8.4 .1-14.4 .1,19.4 .1-12.7 .1,7.4 .1,5.7 .1-19.6 .1,4.0 .1,3.2 .1,4.5 .1,5.8 .1,4.1 .1-11.9 .1,9.3 .1-8.1 .1-.7 .1,6.8 .1-9.5 .1-2.1 .1,12.7 .1-4.4 .1-1.3 .1,1.1 .1-13.6 .1,15.4 .1,6.6 .1-9.5 .1,3.1 .1-1.8 .1,5.1 .1-2.9 .1-14.5 .1,15.4 .1,1.0 .1-15.1 .1,8.9 .1,5.8 .1,2.7 .1-10.4 .1,14.8 .1-8.9 .1-2.0 .1,2.0 .1,.4 .1,1.6 .1-9.4 .1,8.3 .1-.7 .1,9.0 .1-9.1 .1-3.2 .1-2.3 .1,4.3 .1-2.1 .1-5.9 .1,.7 .1,5.1 .1-.6 .1,9.6 .1-2.8 .1-4.4 .1,4.6 .1-6.3 .1-4.0 .1-3.2 .1,9.0 .1,2.2 .1,2.6 .1-16.6 .1,7.1 .1,4.5 .1-1.1 .1-9.4 .1,10.2 .1-1.7 .1,6.7 .1-10.2 .1,13.5 .1-13.2 .1,13.9 .1-8.6 .1,4.8 .1-5.9 .1-4.5 .1,12.3 .1-8.3 .1,7.2 .1-9.6 .1-.1 .1,3.9 .1,7.2 .1-8.9 .1,13.7 .1-10.9 .1,7.6 .1-14.8 .1,5.5 .1,6.2 .1,1.7 .1-7.9 .1,12.8 .1-15.8 .1,6.4 .1,6.0 .1-2.6 .1-3.0 .1,3.9 .1-8.8 .1,10.5 .1-14.0 .1,2.1 .1,9.9 .1-.6 .1-5.4 .1-4.2 .1,4.2 .1-2.1 .1,10.7 .1,3.3 .1-14.9 .1,6.1 .1,.2 .1,.8 .1-1.0 .1,2.5 .1-15.0 .1,8.3 .1-.6 .1,1.2 .1-4.3 .1,3.6 .1,.6 .1,4.4 .1-.7 .1-6.8 .1-.6 .1-2.0 .1,5.1 .1-.1 .1,.2 .1,6.3 .1-2.7 .1,3.3 .1-2.6 .1,.6 .1,2.7 .1,.2 .1,6.0 .1-10.9 .1-2.2 .1-6.0 .1,13.3 .1,3.4 .1-7.9 .1-1.8 .1-2.8 .1,4.4 .1-11.0 .1,14.7 .1-7.4 .1,6.2 .1,6.0 .1-16.5 .1,6.4 .1-2.7 .1-.2 .1,9.2 .1-.1 .1-1.5 .1-.4 .1-4.1 .1,2.9 .1,2.9 .1,.2 .1-5.8 .1,4.0 .1-5.2 .1-3.7 .1,15.8 .1-8.7 .1-.3 .1-3.3 .1,4.0 .1-2.9 .1,5.8 .1,3.5 .1-9.3 .1-1.4 .1,3.6 .1,.9 .1-2.5 .1-4.7 .1,8.1 .1-1.0 .1-.8 .1-2.5 .1,2.9 .1-1.0 .1-3.1 .1,4.5 .1-1.4 .1,2.6 .1-2.7 .1,3.2 .1-9.3 .1,7.0 .1-7.3 .1,14.9 .1-7.7 .1,2.6 .1-3.7 .1,2.5 .1-.1 .1-2.5 .1-5.6 .1,3.2 .1,2.2 .1,4.7 .1-4.9 .1-1.5 .1,3.0 .1-2.5 .1,5.0 .1-11.5 .1,3.7 .1,9.8 .1-3.3 .1,9.8 .1-15.3 .1,10.6 .1-4.7 .1,6.8 .1-.8 .1-11.5 .1,1.2 .1,1.0 .1,12.8 .1-7.5 .1-8.4 .1-2.6 .1,10.2 .1-.8 .1-3.4 .1,3.3 .1-9.0 .1,8.5 .1,1.0 .1,.2 .1-4.9 .1,3.9 .1-2.8 .1-10.8 .1,2.0 .1,14.6 .1-8.8 .1,8.2 .1-7.2 .1,6.3 .1,4.1 .1,4.0 .1-11.5 .1,9.0 .1-5.8 .1-12.8 .1,0 .1,13.4 .1,3.1 .1-6.9 .1,.8 .1-3.0 .1-.2 .1,8.9 .1-6.3 .1-1.9 .1,5.5 .1-5.6 .1,4.4 .1-3.5 .1,3.7 .1-10.9 .1,1.3 .1,12.6 .1-.8 .1-3.5 .1-2.6 .1,8.1 .1-10.0 .1,5.9 .1,.8 .1,.5 .1-3.9 .1-.8 .1,10.5 .1-12.5 .1-4.5 .1,1.3 .1,7.0 .1-3.8 .1,7.3 .1,1.5 .1-13.4 .1,.1 .1,6.9 .1,2.1 .1-6.6 .1,3.4 .1-6.2 .1,11.5 .1,3.4 .1-5.3 .1,.9 .1,1.0 .1,2.9 .1-.7 .1-1.7 .1,1.0 .1-10.1 .1,8.5 .1-5.7 .1,5.6 .1-1.9 .1,.1 .1,2.3 .1-1.6 .1-2.4 .1,10.1 .1-8.1 .1,1.7 .1-3.4 .1-1.4 .1-.9 .1,3.9 .1-.4 .1,2.9 .1-4.9 .1,7.6 .1-1.3 .1-15.1 .1,4.0 .1,4.6 .1,2.5 .1,1.8 .1-.6 .1-3.0 .1,8.8 .1-13.3 .1,3.7 .1-1.0 .1,3.7 .1,1.0 .1-1.5 .1,2.0 .1-2.2 .1,5.8 .1-8.2 .1,.2 .1,4.8 .1-.9 .1,.3 .1-1.8 .1-6.1 .1,7.4 .1-4.6 .1,6.5 .1-1.7 .1-1.2 .1-2.3 .1,6.3 .1-4.5 .1-6.2 .1,10.8 .1,4.1 .1-4.2 .1-2.7 .1-5.1 .1,2.2 .1,4.8 .1,.5 .1-3.3 .1,4.0 .1,3.8 .1-7.9 .1,2.6 .1-.5 .1,.5 .1,2.9 .1-8.5 .1-2.1 .1,2.7 .1-.7 .1-.4 .1,6.3 .1,.6 .1-8.1 .1-6.0 .1,1.1 .1,8.3 .1-.2 .1-4.6 .1,5.3 .1,3.9 .1-4.2 .1,2.4 .1-11.6 .1,11.3 .1-5.0 .1,3.1 .1-7.6 .1,3.6 .1-.6 .1-.7 .1,5.2 .1-1.7 .1,.5 .1,5.7 .1-3.1 .1-.5 .1,1.2 .1-2.1 .1,4.1 .1-2.7 .1-4.0 .1,.5 .1,4.0 .1-6.4 .1,3.5 .1-.2 .1-1.0 .1,.4 .1,2.6 .1,2.7 .1,3.4 .1-6.2 .1,1.1 .1,1.1 .1-11.6 .1,1.4 .1,9.2 .1-1.6 .1-4.2 .1,5.6 .1-6.6 .1-2.2 .1,6.9 .1,.1 .1,1.4 .1,7.5 .1-12.8 .1,5.9 .1-6.6 .1,2.1 .1,.4 .1,7.3 .1-8.4 .1-6.8 .1-3.2 .1,16.9 .1-5.4 .1,4.6 .1-6.8 .1-4.2 .1,1.8 .1,9.1 .1-9.3 .1,6.4 .1,2.7 .1-13.4 .1,14.7 .1-5.3 .1-.2 .1-1.0 .1,4.3 .1-6.6 .1,6.3 .1-3.4 .1,1.4 .1-4.8 .1,8.3 .1-2.8 .1-8.5 .1,5.5 .1-1.6 .1,3.2 .1,1.8 .1-12.3 .1,10.7 .1,2.6 .1-2.7 .1-2.7 .1,4.0 .1-8.1 .1,1.8 .1-.7 .1-2.0 .1,5.3 .1,1.1 .1,.5 .1,2.2 .1-6.1 .1,2.1 .1-6.0 .1,.9 .1-2.1 .1,11.3 .1-3.0 .1-6.5 .1,2.8 .1-3.3 .1-4.3 .1,14.2 .1-3.0 .1,5.7 .1-7.9 .1,0 .1-2.5 .1-.6 .1,1.1 .1-1.5 .1,2.1 .1,2.9 .1-3.9 .1,11.2 .1-10.2 .1,7.1 .1,2.9 .1-10.6 .1,8.3 .1-3.5 .1-7.6 .1,3.2 .1-9.7 .1,7.9 .1,5.0 .1-4.8 .1,2.9 .1-1.3 .1-.5 .1,1.3 .1-1.4 .1,.4 .1,4.7 .1,7.4 .1-13.6 .1,3.1 .1-1.7 .1-1.1 .1,4.5 .1-1.2 .1,6.1 .1-1.3 .1-8.1 .1-4.6 .1,8.6 .1,2.8 .1-1.1 .1-2.6 .1-.9 .1-.8 .1-.1 .1,1.9 .1,1.6 .1-4.1 .1-4.7 .1,8.0 .1-5.0 .1,4.3 .1-3.1 .1-6.3 .1,7.2 .1,.8 .1,4.0 .1-1.0 .1-1.3 .1,0 .1,4.3 .1-10.6 .1,12.8 .1-.2 .1-6.7 .1-4.8 .1,10.6 .1-8.4 .1,2.4 .1-1.0 .1,1.3 .1-3.3 .1,4.4 .1-1.4 .1-2.6 .1,5.1 .1-1.2 .1-4.5 .1,.5 .1,4.7 .1-12.3 .1,10.3 .1-.4 .1-7.3 .1,4.2 .1,9.4 .1-3.8 .1-8.0 .1,3.3 .1-.6 .1-1.4 .1-.4 .1,3.0 .1-1.4 .1,9.6 .1,1.2 .1-7.9 .1-2.0 .1-6.1 .1,3.7 .1,0 .1,4.2 .1,7.7 .1-10.8 .1,9.4 .1-6.3 .1,.6 .1-1.9 .1-11.8 .1,8.1 .1,2.5 .1,3.9 .1-7.2 .1,2.7 .1-3.9 .1,4.3 .1-2.5 .1,7.6 .1-8.1 .1-.6 .1,4.2 .1,6.2 .1-5.6 .1-.5 .1,3.5 .1-2.9 .1,3.6 .1,0 .1-3.7 .1-8.5 .1,9.8 .1,1.6 .1,2.4 .1-9.2 .1-.7 .1,5.5 .1,2.2 .1-2.9 .1-3.4 .1,2.5 .1-.1 .1-11.4 .1,16.9 .1-7.6 .1-6.5 .1,.6 .1,7.9 .1-7.9 .1,6.2 .1-3.5 .1,3.5 .1-.5 .1,11.5 .1-7.1 .1,4.8 .1-13.1 .1,5.3 .1-4.1 .1,8.2 .1,4.8 .1-7.1 .1-8.8 .1,7.5 .1,6.1 .1,2.3 .1-9.3 .1,1.6 .1-5.0 .1-3.1 .1,6.3 .1,8.5 .1-10.1 .1,6.2 .1-1.1 .1-3.5 .1-1.2 .1-4.7 .1,6.7 .1,4.0 .1,1.2 .1-2.8 .1-.2 .1-8.2 .1,1.4 .1,3.0 .1,1.2 .1-4.9 .1,3.8 .1,1.9 .1,2.0 .1-.5 .1-6.6 .1,2.2 .1,9.1 .1-9.4 .1,6.0 .1,6.0 .1,.4 .1-14.4 .1,6.6 .1-1.9 .1-1.6 .1,8.1 .1-3.4 .1,5.6 .1-12.5 .1-5.1 .1,10.3 .1,.9 .1,6.5 .1-8.2 .1,4.3 .1,3.6 .1-17.2 .1,10.5 .1-1.9 .1-2.8 .1,2.7 .1,1.8 .1,11.3 .1-15.0 .1,2.8 .1,7.1 .1,6.7 .1-18.2 .1,9.5 .1-6.3 .1,11.1 .1-4.0 .1-1.8 .1,3.8 .1-4.5 .1-1.2 .1,2.5 .1-9.9 .1,7.5 .1,5.4 .1-16.3 .1,2.5 .1,11.8 .1-.1 .1-2.7 .1,2.8 .1-3.9 .1,7.5 .1-11.8 .1,13.0 .1-8.2 .1-3.2 .1,11.0 .1-9.1 .1,10.7 .1-10.8 .1-3.9 .1-3.8 .1,10.9 .1,9.8 .1-7.0 .1-3.9 .1-10.9 .1,4.5 .1,8.8 .1-4.7 .1,2.5 .1,0 .1,3.0 .1-5.9 .1,6.2 .1,2.4 .1-6.1 .1,3.5 .1-3.6 .1-1.8 .1,3.7 .1-2.4 .1-2.3 .1,2.9 .1-.3 .1,5.7 .1,1.6 .1-14.1 .1-1.4 .1,5.9 .1,9.1 .1-11.3 .1,.4 .1-3.8 .1,5.4 .1,2.7 .1,6.2 .1,4.2 .1-8.6 .1,1.9 .1,.7 .1-2.0 .1,1.5 .1-10.1 .1,10.9 .1,1.0 .1-11.3 .1,2.9 .1,5.9 .1,.8 .1,.9 .1,4.5 .1-3.7 .1,7.6 .1-12.8 .1-2.6 .1-2.2 .1,10.4 .1,2.8 .1-10.1 .1,3.7 .1-6.2 .1,13.9 .1-6.5 .1,3.6 .1-8.8 .1,5.5 .1,4.7 .1-4.5 .1-8.7 .1,3.7 .1,2.3 .1,4.2 .1-1.0 .1,3.0 .1-5.0 .1-5.4 .1,10.9 .1-2.9 .1-9.4 .1,7.0 .1-5.1 .1,16.5 .1-11.8 .1,1.3 .1,4.5 .1-10.6 .1,9.2 .1-3.7 .1,2.6 .1-8.6 .1,9.0 .1-9.2 .1,7.4 .1,1.5 .1,.8 .1,1.6 .1-11.8 .1,15.8 .1-8.8 .1,1.3 .1,4.2 .1,3.8 .1-12.1 .1,3.9 .1,.8 .1,5.5 .1-4.5 .1,8.5 .1-6.6 .1-6.2 .1-.1 .1,2.2 .1,.6 .1-2.9 .1,2.7 .1-1.9 .1,.9 .1,6.3 .1-1.6 .1-1.3 .1,5.0 .1-.1 .1-11.8 .1,6.5 .1,1.4 .1-7.6 .1-1.9 .1,6.5 .1-3.8 .1,3.4 .1-4.6 .1,8.7 .1-8.2 .1-1.2 .1,5.1 .1,1.7 .1-5.4 .1,6.8 .1-6.9 .1,13.2 .1-6.0 .1,.4 .1-1.7 .1,0 .1-7.4 .1,8.5 .1,1.6 .1-6.8 .1,4.7 .1-5.8 .1,9.1 .1-3.7 .1,6.8 .1-3.1 .1-6.2 .1,3.4 .1,7.4 .1-2.3 .1-8.1 .1-2.3 .1,7.3 .1-6.6 .1,1.7 .1,12.3 .1-8.0 .1,4.6 .1-11.0 .1,6.5 .1,2.0 .1-11.6 .1,4.6 .1-4.0 .1,.9 .1,2.5 .1,7.1 .1,1.0 .1-6.4 .1-2.2 .1,11.1 .1-6.7 .1-.9 .1,9.0 .1-8.9 .1-4.6 .1,10.2 .1-6.7 .1-4.3 .1,10.9 .1-8.2 .1,1.4 .1,5.3 .1,2.5 .1-13.9 .1,10.4 .1,3.2 .1,1.1 .1-6.0 .1-3.2 .1,5.5 .1-8.4 .1,12.6 .1-8.0 .1-4.1 .1,5.0 .1,6.1 .1-2.3 .1-7.7 .1,11.7 .1-4.5 .1-1.9 .1-.5 .1,5.2 .1-2.6 .1-1.8 .1,.8 .1,.1 .1-.5 .1-.6 .1,1.0 .1,5.3 .1-10.5 .1-3.0 .1,4.1 .1,5.1 .1-3.5 .1,1.9 .1,2.9 .1-1.4 .1,.5 .1,1.4 .1-1.2 .1-4.1 .1,.1 .1,1.3 .1-3.9 .1,2.7 .1-2.7 .1,1.6 .1-4.5 .1,1.5 .1,11.2 .1-11.5 .1,7.8 .1,.7 .1,1.9 .1-5.8 .1,2.7 .1-1.7 .1,1.7 .1,.4 .1,7.9 .1-9.4 .1-2.1 .1-.7 .1-1.5 .1,4.6 .1,2.5 .1-4.1 .1,3.7 .1,3.0 .1-8.0 .1,7.6 .1-3.6 .1-4.9 .1,.4 .1,4.6 .1-1.4 .1,3.1 .1-10.6 .1,12.6 .1,0 .1-9.3 .1,1.8 .1,10.9 .1-4.7 .1-1.6 .1-3.0 .1,1.5 .1,3.1 .1-4.4 .1,3.1 .1-4.3 .1-5.8 .1,8.8 .1-2.8 .1,7.2 .1-3.7 .1,1.6 .1-8.0 .1,8.5 .1-10.3 .1,11.0 .1-3.0 .1,3.1 .1,2.5 .1-1.6 .1-8.6 .1-.5 .1,5.5 .1-.1 .1,.4 .1-5.4 .1-.6 .1,4.8 .1,6.2 .1-10.3 .1,5.5 .1,.3 .1-5.9 .1-5.2 .1,11.7 .1-10.6 .1,7.7 .1-5.6 .1,3.0 .1,7.1 .1-12.3 .1,2.9 .1,2.6 .1-.8 .1,3.9 .1-.9 .1,1.4 .1-.6 .1,.1 .1,6.7 .1-10.8 .1,5.1 .1-1.5 .1,3.5 .1-12.1 .1,5.7 .1,5.0 .1-1.9 .1,1.0 .1-7.2 .1,16.1 .1-7.6 .1-3.3 .1-1.8 .1-.7 .1,1.3 .1,2.9 .1-3.8 .1,5.2 .1-3.5 .1,4.4 .1-5.9 .1,4.1 .1-3.8 .1,7.8 .1-4.7 .1,1.3 .1,5.9 .1-6.1 .1-3.8 .1,2.3 .1-1.1 .1,4.6 .1,4.7 .1-.3 .1-7.5 .1,.6 .1,4.4 .1-1.5 .1-12.1 .1,5.7 .1,1.6 .1-.9 .1,3.1 .1,1.7 .1-6.7 .1,8.2 .1-3.4 .1,2.8 .1,4.6 .1-9.3 .1-5.6 .1,5.7 .1,1.7 .1-1.6 .1,.9 .1-3.1 .1,6.2 .1,3.6 .1-2.7 .1-6.7 .1,4.0 .1,1.5 .1-5.7 .1,3.6 .1-2.8 .1,9.7 .1-2.9 .1-2.7 .1-8.8 .1,10.7 .1-7.2 .1,8.3 .1,1.1 .1,0 .1-4.6 .1-3.8 .1,4.9 .1,.2 .1-10.5 .1,6.2 .1,5.6 .1-4.1 .1,6.6 .1-4.8 .1,1.7 .1,0 .1,0 .1,3.3 .1-6.4 .1-2.7 .1-1.7 .1,6.1 .1-5.4 .1,.6 .1,5.2 .1-2.3 .1,.6 .1,7.6 .1-5.4 .1-3.6 .1,2.0 .1-4.2 .1,4.8 .1,1.5 .1,3.5 .1-3.9 .1-1.2 .1,.8 .1-.4 .1-2.5 .1-6.0 .1,5.6 .1,3.6 .1,.7 .1-1.7 .1-1.5 .1-1.4 .1,.8 .1-3.8 .1,13.2 .1-9.4 .1,1.8 .1,1.2 .1-5.5 .1-.5 .1,1.5 .1,2.7 .1,2.9 .1-5.6 .1,.5 .1-1.3 .1,4.3 .1-.2 .1,2.5 .1,1.6 .1-2.9 .1-2.9 .1-1.1 .1,6.7 .1-5.4 .1,2.2 .1,1.9 .1-5.9 .1,4.8 .1-1.9 .1-6.3 .1,9.3 .1-3.8 .1-2.3 .1,5.1 .1,1.3 .1-7.8 .1,3.2 .1-4.6 .1,4.1 .1,2.0 .1-.2 .1-.8 .1,6.0 .1-2.6 .1-2.0 .1-.1 .1-1.2 .1-2.3 .1-1.1 .1,2.7 .1,3.0 .1-4.7 .1-6.5 .1,11.4 .1-3.6 .1,3.9 .1-1.9 .1-5.3 .1,.1 .1,2.2 .1-6.9 .1,16.9 .1-10.2 .1,.5 .1-3.8 .1,5.8 .1,2.6 .1,3.3 .1-8.3 .1,8.1 .1-4.7 .1-7.1 .1,10.4 .1-7.0 .1,4.6 .1-.5 .1-2.9 .1-.8 .1,4.7 .1-5.7 .1-1.0 .1,8.6 .1-5.4 .1,7.0 .1-12.2 .1,5.4 .1,.5 .1-3.9 .1,9.3 .1-5.8 .1-7.2 .1,9.6 .1-8.2 .1,6.4 .1,1.4 .1,7.3 .1-11.2 .1,2.3 .1-2.6 .1-.3 .1,5.3 .1,1.8 .1-1.4 .1-12.7 .1,12.8 .1-4.0 .1-4.2 .1,1.3 .1-5.4 .1,11.0 .1-2.8 .1,1.2 .1-3.8 .1-.6 .1,6.2 .1,.8 .1-3.5 .1-.3 .1,3.2 .1,4.9 .1-6.3 .1-1.5 .1-1.0 .1,3.3 .1-3.0 .1,1.8 .1,1.4 .1-4.9 .1,7.5 .1,3.7 .1-11.5 .1,6.3 .1-10.5 .1,10.2 .1-10.6 .1,12.9 .1-1.6 .1-11.1 .1,4.7 .1-5.7 .1,15.9 .1-1.5 .1-5.5 .1-5.6 .1,5.4 .1,0 .1,3.9 .1,4.0 .1-4.0 .1-.3 .1-4.4 .1-.9 .1,4.7 .1-3.9 .1-1.8 .1-2.9 .1-.3 .1,2.0 .1-1.9 .1-.6 .1,4.4 .1-3.9 .1,5.1 .1-.1 .1,.6 .1-6.6 .1,8.3 .1-7.8 .1,2.6 .1,3.7 .1-5.0 .1,13.1 .1-8.0 .1-.7 .1,4.4 .1-13.8 .1,13.4 .1-9.0 .1,.5 .1-6.3 .1,14.0 .1-4.6 .1-6.3 .1,14.5 .1-2.9 .1-8.7 .1,4.6 .1-5.3 .1,3.4 .1,9.1 .1-8.2 .1-2.8 .1,7.8 .1-12.7 .1,7.7 .1,3.2 .1-10.3 .1,9.5 .1,6.9 .1-2.9 .1-10.9 .1,6.7 .1-4.8 .1,.3 .1,9.1 .1-6.4 .1-.8 .1,0 .1-4.8 .1-.9 .1,4.3 .1,2.3 .1-1.3 .1,7.0 .1-3.8 .1-5.0 .1,1.2 .1,9.1 .1-1.2 .1-4.0 .1-8.1 .1,1.5 .1,1.7 .1,3.4 .1-.5 .1,1.4 .1-11.3 .1,9.0 .1,3.9 .1-2.2 .1-2.2 .1-1.7 .1,.2 .1-3.1 .1,4.1 .1,5.5 .1-5.3 .1,6.5 .1-7.9 .1-.8 .1,7.2 .1-9.9 .1,3.0 .1-4.2 .1,5.9 .1-4.1 .1,.7 .1,.1 .1,.6 .1,5.7 .1,2.3 .1,4.5 .1-8.5 .1,3.7 .1-9.1 .1,5.0 .1-2.1 .1,1.7 .1,.8 .1-2.9 .1-.6 .1-1.2 .1,.9 .1,4.1 .1-8.8 .1,14.1 .1-2.9 .1-8.1 .1,8.3 .1-1.9 .1-7.2 .1,.7 .1,5.3 .1-5.0 .1,4.2 .1-2.7 .1,8.3 .1-12.1 .1,12.1 .1-9.2 .1,3.9 .1,7.9 .1-13.5 .1-.6 .1,.5 .1-4.6 .1,6.7 .1,12.9 .1-12.9 .1,1.7 .1,4.9 .1-.9 .1-11.7 .1,11.3 .1,5.4 .1-.7 .1-13.9 .1,8.5 .1,4.2 .1-1.6 .1-6.3 .1,4.2 .1,.3 .1-3.7 .1,2.7 .1,.1 .1-3.5 .1,1.5 .1-1.3 .1,9.4 .1-5.3 .1,3.0 .1-2.6 .1,2.8 .1-6.3 .1,13.8 .1-16.7 .1,6.4 .1-.2 .1-8.3 .1-.4 .1,3.2 .1,6.7 .1-5.4 .1,1.4 .1-6.8 .1,18.4 .1-10.9 .1-4.1 .1-1.0 .1,11.3 .1-5.3 .1,1.7 .1,.3 .1-1.9 .1,3.3 .1,6.8 .1-11.4 .1,2.3 .1,3.9 .1-2.3 .1,4.1 .1-4.2 .1-3.0 .1-13.6 .1,9.0 .1,6.7 .1,1.1 .1,6.5 .1-10.4 .1,1.9 .1,.7 .1-5.2 .1,4.7 .1-.6 .1-.5 .1,2.9 .1,6.3 .1-8.9 .1,4.7 .1-2.0 .1-2.2 .1,4.2 .1,2.7 .1-2.3 .1-1.9 .1,1.1 .1-3.9 .1,5.8 .1-2.6 .1-2.1 .1-1.2 .1,3.4 .1-6.3 .1,3.2 .1-3.6 .1,11.4 .1,.5 .1-4.5 .1-5.6 .1,3.5 .1,7.5 .1-3.9 .1,1.7 .1,4.4 .1-1.2 .1-3.3 .1-2.8 .1-2.7 .1,1.5 .1,3.0 .1,1.4 .1-2.9 .1-1.1 .1,2.2 .1,5.2 .1-5.2 .1-8.0 .1,6.0 .1,.9 .1,3.3 .1-8.1 .1,1.6 .1-1.8 .1,10.0 .1-4.9 .1,2.1 .1,.5 .1-3.9 .1-6.5 .1,13.9 .1-18.5 .1,12.6 .1,1.2 .1-2.8 .1,2.1 .1-.5 .1,.4 .1,.8 .1-8.4 .1,.5 .1,10.4 .1-8.7 .1,5.5 .1,4.9 .1-4.6 .1-5.5 .1,4.8 .1-.6 .1-.2 .1,2.4 .1-4.4 .1,3.7 .1,3.6 .1-6.1 .1,3.3 .1,3.5 .1-3.5 .1-3.7 .1-6.5 .1,3.2 .1,6.7 .1-2.3 .1,.9 .1,8.2 .1-6.0 .1-4.2 .1,7.6 .1-.2 .1-5.2 .1,1.7 .1-.7 .1-1.7 .1-3.1 .1,8.2 .1-.9 .1-6.7 .1,4.4 .1-3.9 .1-1.5 .1,6.1 .1-2.2 .1,0 .1,1.0 .1,1.3 .1,.3 .1-5.3 .1,3.2 .1,2.3 .1-7.3 .1,5.6 .1-5.4 .1,4.4 .1,2.9 .1-1.7 .1-1.1 .1,.3 .1-3.9 .1,7.9 .1-8.3 .1-2.8 .1,5.3 .1-1.6 .1,4.8 .1-3.0 .1-2.6 .1-.1 .1-.3 .1-1.6 .1,5.6 .1,6.2 .1-9.3 .1,.1 .1,2.2 .1,.2 .1,.6 .1,5.1 .1-5.2 .1,.3 .1,.1 .1-4.1 .1,.4 .1-4.5 .1,5.7 .1-.3 .1,2.5 .1,4.1 .1-11.6 .1,10.6 .1,3.6 .1-6.5 .1,.5 .1,5.9 .1-3.5 .1-1.0 .1-4.7 .1,1.1 .1,4.8 .1,.9 .1-3.1 .1,4.5 .1,.8 .1-12.5 .1,5.7 .1-.7 .1,3.1 .1,7.0 .1-11.3 .1,.3 .1,5.5 .1-6.2 .1,2.2 .1,5.4 .1,1.2 .1,.8 .1-1.9 .1-5.0 .1,.7 .1,4.9 .1-6.3 .1,4.3 .1-4.7 .1,5.7 .1-.9 .1-7.4 .1,3.1 .1-.2 .1,4.8 .1-4.1 .1-6.8 .1,7.7 .1,1.0 .1-5.3 .1,9.3 .1-.6 .1-9.2 .1,5.3 .1-8.7 .1,5.2 .1,1.3 .1,1.3 .1,1.2 .1,.2 .1-2.7 .1,0 .1,3.7 .1-3.7 .1,7.4 .1-5.8 .1-.2 .1,3.0 .1-3.6 .1,4.9 .1-.5 .1-2.0 .1-5.4 .1,3.9 .1-.5 .1,1.9 .1-.2 .1-1.5 .1,.4 .1-.1 .1-2.6 .1,2.2 .1-1.5 .1,2.4 .1-4.7 .1,11.3 .1-2.7 .1-2.7 .1-3.0 .1,3.7 .1-3.1 .1,5.0 .1-3.3 .1-.6 .1-7.1 .1,4.4 .1,3.8 .1-5.2 .1,3.5 .1,3.9 .1,2.2 .1-7.1 .1-6.4 .1,8.3 .1,2.1 .1-7.8 .1,10.2 .1-4.9 .1,6.1 .1-5.9 .1,.8 .1-4.4 .1,6.4 .1-1.6 .1-3.4 .1,4.7 .1-3.9 .1,7.5 .1-3.8 .1-2.0 .1-.6 .1,7.1 .1-6.1 .1,1.4 .1-5.4 .1,6.4 .1-2.3 .1-3.1 .1-.8 .1,7.3 .1-3.7 .1,2.2 .1,.4 .1,2.8 .1-.6 .1-6.4 .1,.7 .1-6.4 .1,7.3 .1,1.0 .1-6.7 .1,5.7 .1,.1 .1-.4 .1,.8 .1-4.6 .1,4.1 .1,7.5 .1-7.8 .1-1.5 .1,.8 .1,6.3 .1-10.1 .1,11.6 .1-8.7 .1,3.8 .1,.9 .1-5.7 .1,1.9 .1,3.9 .1-3.2 .1-5.1 .1,7.2 .1-5.8 .1,5.9 .1-1.9 .1-5.2 .1,8.4 .1-2.4 .1,3.4 .1-3.6 .1-2.8 .1-4.4 .1,6.6 .1-3.8 .1,2.2 .1-6.1 .1,1.2 .1,6.8 .1,.8 .1,6.3 .1-2.6 .1-8.3 .1,6.9 .1-4.0 .1-5.6 .1,8.4 .1-4.8 .1-1.1 .1,.3 .1,3.4 .1-1.1 .1,0 .1,1.3 .1,2.3 .1-4.6 .1,.4 .1,2.4 .1,.8 .1,1.0 .1,2.9 .1-13.0 .1,11.8 .1-2.6 .1,2.5 .1-7.0 .1,3.9 .1,4.5 .1,.3 .1-1.1 .1-3.3 .1-4.2 .1,2.8 .1-6.7 .1,5.8 .1-3.2 .1,3.4 .1,0 .1,2.9 .1,.5 .1-.8 .1,0 .1-.5 .1,4.7 .1-6.4 .1-.9 .1-1.7 .1,3.8 .1,2.4 .1,3.5 .1-7.2 .1,3.9 .1-3.7 .1,3.7 .1-7.1 .1,5.7 .1,.7 .1-8.7 .1,5.7 .1-2.7 .1,3.9 .1,1.0 .1-1.1 .1,2.0 .1-1.3 .1,1.2 .1-3.0 .1,3.3 .1-6.7 .1,.7 .1,1.3 .1,1.3 .1,1.7 .1,.3 .1,2.6 .1-5.1 .1,2.6 .1-5.0 .1-1.0 .1,10.5 .1-6.1 .1,3.0 .1-2.2 .1-5.0 .1,7.9 .1-.3 .1,.2 .1,2.5 .1-6.2 .1,1.1 .1-2.7 .1,.9 .1-1.2 .1-.3 .1,1.0 .1,2.3 .1-3.2 .1,.7 .1-.6 .1-2.3 .1,2.2 .1,2.1 .1,2.0 .1,2.2 .1-.7 .1-3.4 .1-.8 .1,.5 .1,.6 .1-3.8 .1,6.0 .1-1.9 .1-.8 .1-2.4 .1,7.7 .1,1.1 .1-9.3 .1,9.9 .1-7.2 .1,3.6 .1-8.4 .1,6.2 .1,3.2 .1-3.7 .1,3.9 .1-2.9 .1,2.9 .1,6.7 .1-13.4 .1,3.6 .1-3.8 .1-3.5 .1-2.1 .1,10.3 .1,1.5 .1-.7 .1-1.4 .1-1.4 .1-2.2 .1,.6 .1,1.2 .1-6.6 .1,11.2 .1-5.4 .1-3.2 .1,6.9 .1-.7 .1,5.1 .1-8.2 .1-1.2 .1,6.7 .1-5.0 .1,5.3 .1-2.1 .1-7.4 .1,1.6 .1-.3 .1,8.8 .1-2.0 .1-.5 .1-6.5 .1,5.6 .1-8.8 .1,7.9 .1-.4 .1,4.1 .1-2.1 .1-5.3 .1,3.3 .1-3.9 .1,2.7 .1-.9 .1,10.4 .1-10.7 .1,.8 .1,2.1 .1,6.4 .1-10.3 .1,8.0 .1-1.1 .1-6.3 .1,1.7 .1,8.1 .1-13.8 .1,2.0 .1-2.3 .1,4.2 .1,3.2 .1-3.9 .1,5.1 .1-.5 .1,1.5 .1-2.9 .1,.1 .1-1.8 .1,6.4 .1-3.5 .1,3.3 .1-6.8 .1,3.3 .1-.5 .1-3.6 .1,2.1 .1-4.3 .1,2.9 .1,10.7 .1-7.3 .1-5.1 .1,7.3 .1,1.6 .1,2.9 .1-4.8 .1,2.0 .1-3.4 .1-3.6 .1,3.8 .1-1.8 .1-3.5 .1,10.7 .1-7.0 .1-2.6 .1,2.0 .1,4.9 .1,.6 .1-6.6 .1,7.2 .1-7.4 .1,5.5 .1-2.5 .1-2.2 .1,5.7 .1-1.1 .1,.2 .1-2.7 .1-.6 .1-7.2 .1,6.6 .1,.1 .1,4.3 .1,4.6 .1-7.7 .1,7.7 .1-8.2 .1,8.0 .1-3.4 .1-10.5 .1,12.5 .1-10.1 .1,3.4 .1-2.6 .1,.7 .1-2.3 .1,3.4 .1,6.5 .1-9.3 .1,7.8 .1-2.1 .1,1.1 .1-.9 .1,3.5 .1-2.6 .1-6.3 .1-1.6 .1,8.9 .1-1.8 .1,4.0 .1-5.5 .1-1.0 .1-2.5 .1-3.5 .1,7.8 .1,4.2 .1-5.8 .1,3.4 .1,0 .1-8.5 .1,6.7 .1-5.0 .1,4.6 .1,1.4 .1-3.0 .1,.8 .1,4.0 .1,3.4 .1-10.6 .1,2.1 .1-1.3 .1-1.1 .1,5.4 .1-3.8 .1,6.1 .1,.1 .1-4.5 .1-3.3 .1,4.0 .1-.4 .1-2.2 .1,6.7 .1-4.9 .1-3.2 .1,5.9 .1-7.3 .1,9.0 .1-4.6 .1,5.7 .1-4.6 .1-5.6 .1,3.0 .1,3.3 .1-2.9 .1,1.1 .1,2.6 .1-7.0 .1,3.4 .1-2.1 .1,3.9 .1,2.2 .1-2.8 .1-3.0 .1,.6 .1,1.1 .1,3.1 .1,.5 .1-.6 .1,1.1 .1-5.5 .1-.7 .1-1.3 .1,8.0 .1-2.2 .1-3.9 .1,5.6 .1-3.8 .1-.3 .1-1.5 .1,3.9 .1,.6 .1-.4 .1-1.6 .1,.1 .1,.4 .1-.9 .1-6.1 .1,5.7 .1,0 .1,2.5 .1-2.3 .1,.5 .1-.6 .1-1.5 .1-2.6 .1,3.5 .1,2.4 .1,.4 .1,3.2 .1,1.3 .1-5.0 .1,.6 .1-2.2 .1,1.7 .1-3.5 .1,1.7 .1,1.9 .1,1.9 .1-4.3 .1,.4 .1,4.9 .1-3.9 .1,1.7 .1,2.2 .1-2.7 .1-1.6 .1,5.5 .1-5.5 .1,2.3 .1-5.0 .1,9.7 .1-7.4 .1,7.1 .1-6.6 .1,.3 .1-3.7 .1,.7 .1,4.1 .1,2.7 .1-5.2 .1,2.1 .1,3.1 .1-3.1 .1-1.9 .1,2.5 .1-.8 .1-.8 .1,3.8 .1-8.9 .1,11.7 .1-4.6 .1-4.5 .1,5.3 .1-1.2 .1,3.4 .1-.8 .1-3.3 .1,2.4 .1,3.0 .1,0 .1-3.3 .1-1.4 .1-2.6 .1,3.8 .1,.9 .1-1.6 .1-7.2 .1,5.3 .1-.7 .1,2.3 .1-1.0 .1,.4 .1-.4 .1,3.3 .1-5.5 .1,3.5 .1-3.2 .1,4.8 .1-1.1 .1-.5 .1,2.4 .1-1.0 .1,2.0 .1-8.4 .1,4.6 .1-2.4 .1,6.8 .1-2.9 .1-2.5 .1,3.9 .1-3.4 .1,.9 .1-1.3 .1,4.5 .1-3.4 .1,4.0 .1-6.7 .1,2.9 .1-3.4 .1,5.8 .1-3.2 .1-2.9 .1,5.9 .1,.3 .1-2.9 .1-2.1 .1,3.1 .1,4.3 .1-8.2 .1-2.5 .1,5.3 .1-4.2 .1-.9 .1,6.1 .1,.6 .1,1.3 .1-1.5 .1,.9 .1-1.8 .1,4.6 .1-5.9 .1-1.1 .1,7.1 .1-2.8 .1-2.3 .1,.7 .1-2.3 .1-.8 .1-3.1 .1,.1 .1,9.8 .1-5.6 .1-1.0 .1,2.3 .1,2.1 .1,2.6 .1-4.7 .1-2.9 .1,1.2 .1,1.0 .1,3.0 .1-1.8 .1,2.0 .1-6.6 .1,5.3 .1,4.5 .1-4.2 .1-2.3 .1,2.0 .1,2.1 .1-2.1 .1,2.4 .1-8.3 .1,5.9 .1-.1 .1,.4 .1-1.3 .1-.3 .1,1.5 .1-5.0 .1,2.1 .1,1.0 .1,1.9 .1-1.3 .1-2.1 .1,5.1 .1-2.0 .1-.5 .1,1.2 .1-1.0 .1,3.4 .1-4.4 .1-2.7 .1,4.5 .1,.4 .1,.9 .1-.7 .1-2.2 .1,5.2 .1-6.8 .1-.2 .1,4.3 .1-4.3 .1,5.9 .1-6.5 .1,3.4 .1-.1 .1-2.0 .1-4.2 .1,6.5 .1,0 .1-.9 .1-1.5 .1-2.5 .1,2.0 .1-3.6 .1,11.1 .1-6.5 .1,5.0 .1-4.3 .1,5.1 .1-6.5 .1-.4 .1-.3 .1,2.8 .1-3.1 .1-1.6 .1,9.1 .1-.5 .1-6.2 .1,4.9 .1-10.1 .1,8.0 .1,5.5 .1,0 .1-3.8 .1,1.2 .1-2.8 .1,4.0 .1-5.9 .1-6.2 .1,10.8 .1-3.0 .1-.3 .1,1.9 .1,.1 .1-6.3 .1,5.0 .1-3.0 .1,1.3 .1,4.5 .1-3.8 .1-1.7 .1,2.3 .1-.8 .1,.6 .1,2.5 .1-2.6 .1-1.3 .1,.6 .1-2.6 .1,7.7 .1-2.4 .1-7.9 .1,5.5 .1,4.3 .1-9.0 .1,3.9 .1,6.8 .1-4.4 .1,1.2 .1-5.5 .1,8.0 .1-3.2 .1,2.6 .1-7.3 .1,1.3 .1-1.2 .1,4.1 .1-4.2 .1,3.3 .1,4.4 .1-2.0 .1-4.6 .1,4.7 .1-5.8 .1,5.6 .1-6.2 .1,5.9 .1,.9 .1-7.2 .1,7.1 .1,1.2 .1,.7 .1-.4 .1-2.3 .1,.1 .1-4.1 .1,7.9 .1-5.6 .1,2.8 .1-1.1 .1-1.9 .1-3.5 .1,5.5 .1-1.6 .1-3.4 .1,7.9 .1-3.7 .1-2.6 .1-.2 .1,5.8 .1-5.4 .1,.1 .1-4.9 .1,5.3 .1-1.2 .1,4.9 .1,1.2 .1-.7 .1-8.2 .1,5.8 .1,3.5 .1-5.2 .1,.1 .1,.4 .1-2.6 .1,1.6 .1,.7 .1,1.2 .1-.4 .1-.2 .1-1.3 .1,7.3 .1-2.1 .1-1.6 .1-1.6 .1,3.9 .1-7.1 .1,5.0 .1-.1 .1-2.7 .1-5.1 .1,.7 .1,8.7 .1-7.4 .1,5.6 .1-2.7 .1-.8 .1,2.3 .1,3.1 .1-1.6 .1,1.6 .1-7.3 .1,1.4 .1,5.6 .1-3.7 .1-1.0 .1-3.7 .1,3.3 .1-.3 .1,3.3 .1-2.0 .1-5.1 .1-.6 .1,9.4 .1-7.7 .1-.4 .1,.6 .1,2.2 .1,2.9 .1-1.2 .1-1.9 .1,.6 .1-1.1 .1,1.7 .1-1.3 .1,2.4 .1-3.5 .1,1.9 .1,2.1 .1-3.7 .1,1.4 .1,3.1 .1-2.4 .1-.2 .1,.3 .1,1.0 .1-7.8 .1,8.3 .1-1.5 .1,6.3 .1-10.4 .1,8.5 .1-4.3 .1-.6 .1,1.4 .1-.4 .1-3.9 .1,5.1 .1,.5 .1-5.0 .1,5.6 .1-1.8 .1,1.4 .1-.2 .1-1.3 .1,5.1 .1-5.5 .1-4.5 .1,7.0 .1-7.5 .1,5.2 .1-1.1 .1-5.9 .1,1.6 .1,11.8 .1-9.0 .1-4.7 .1,3.9 .1,1.7 .1,4.1 .1-7.8 .1,4.9 .1-.1 .1-.6 .1,4.0 .1-3.9 .1-5.8 .1,6.1 .1-1.9 .1,1.5 .1,2.2 .1-8.3 .1,9.6 .1-2.1 .1-4.1 .1-2.6 .1,10.1 .1-1.3 .1-10.8 .1,5.9 .1-.3 .1,1.7 .1-2.9 .1,5.7 .1-1.5 .1,2.4 .1-2.9 .1,5.1 .1-8.2 .1,5.5 .1-.2 .1-2.2 .1,1.5 .1-2.2 .1-3.3 .1,3.6 .1,3.4 .1-9.7 .1,12.0 .1-9.4 .1,6.5 .1-5.8 .1,5.7 .1-4.4 .1,3.1 .1-.4 .1-.1 .1,1.1 .1-1.6 .1-.7 .1,4.9 .1-5.1 .1,1.0 .1,2.0 .1-4.2 .1,1.3 .1,1.4 .1-.1 .1-.6 .1-.9 .1,2.2 .1,1.1 .1-6.3 .1,1.9 .1,2.2 .1,.9 .1,1.8 .1-1.0 .1-2.9 .1-1.6 .1,4.2 .1-3.3 .1-.9 .1,5.6 .1-4.5 .1,.7 .1,1.9 .1-7.6 .1,14.3 .1-3.0 .1,1.6 .1-6.2 .1,.7 .1,2.6 .1-2.6 .1,.6 .1-2.3 .1-1.4 .1,6.6 .1-2.1 .1-1.3 .1-2.2 .1,8.6 .1-8.0 .1-4.9 .1,7.6 .1-8.6 .1,11.0 .1-5.8 .1,1.9 .1,.1 .1-1.0 .1-3.3 .1,5.7 .1-.7 .1-3.3 .1,4.8 .1-.3 .1-4.9 .1,3.0 .1-5.1 .1-2.0 .1,9.7 .1-2.7 .1,3.8 .1-3.1 .1,.3 .1,.3 .1,.6 .1,.1 .1-5.3 .1,4.7 .1-7.7 .1,7.3 .1,5.7 .1-.2 .1-1.7 .1-6.6 .1,3.9 .1-4.6 .1,5.7 .1-3.6 .1-1.3 .1,3.0 .1,2.2 .1-7.8 .1,3.7 .1,1.5 .1,.1 .1-3.2 .1,2.2 .1-1.9 .1,4.9 .1-1.7 .1,3.8 .1-6.9 .1-.3 .1,3.1 .1,2.9 .1-2.8 .1-1.7 .1-4.3 .1,4.1 .1,1.9 .1,2.6 .1-7.7 .1,5.9 .1-.5 .1,5.6 .1-3.1 .1-8.3 .1,3.0 .1,1.1 .1-1.4 .1,.5 .1-2.7 .1,2.9 .1-1.3 .1,1.8 .1-.7 .1,2.1 .1-3.4 .1,2.9 .1-.7 .1-3.5 .1,3.5 .1,4.5 .1-3.9 .1,.2 .1,1.3 .1-1.3 .1-2.0 .1,1.0 .1-2.1 .1-.2 .1-.5 .1,2.2 .1-1.9 .1,.4 .1,4.8 .1-2.3 .1-1.2 .1,7.3 .1-5.2 .1-2.0 .1,4.5 .1,1.7 .1-8.5 .1,.5 .1,2.5 .1,2.9 .1-5.5 .1,7.4 .1-3.1 .1,4.5 .1-4.9 .1,1.1 .1,1.1 .1-3.8 .1-2.3 .1,2.6 .1-3.8 .1,.8 .1,3.7 .1,1.4 .1,1.6 .1,1.4 .1-6.3 .1-2.1 .1,8.6 .1-3.9 .1-.1 .1-4.7 .1,1.1 .1,5.5 .1-4.3 .1,5.8 .1-6.8 .1,7.1 .1-7.9 .1-.8 .1,3.8 .1-1.1 .1-.3 .1,4.0 .1,.6 .1-6.0 .1,6.3 .1,1.6 .1-.3 .1-4.2 .1-1.0 .1,1.3 .1,1.0 .1-3.5 .1-2.0 .1,5.2 .1,.2 .1-.6 .1-4.1 .1-1.3 .1,4.0 .1,2.3 .1,1.7 .1-4.4 .1-3.0 .1,1.1 .1,1.8 .1,3.6 .1-7.3 .1,3.5 .1-.4 .1,2.0 .1-.7 .1-2.0 .1,5.5 .1,1.1 .1-.9 .1-1.2 .1,.9 .1-.9 .1-1.1 .1-5.4 .1,5.6 .1,1.0 .1-3.2 .1,4.4 .1-2.6 .1-3.5 .1,6.5 .1-5.7 .1,3.8 .1-4.5 .1-.5 .1,5.2 .1-3.4 .1,.7 .1,.2 .1,1.9 .1,3.9 .1-5.7 .1,1.6 .1-1.6 .1,6.0 .1-4.4 .1-3.0 .1,.8 .1,6.6 .1-4.6 .1,4.8 .1-7.9 .1,5.0 .1-2.9 .1,.8 .1,.5 .1,2.0 .1-3.1 .1,1.8 .1-3.2 .1,.4 .1,3.2 .1,.8 .1-2.2 .1,5.0 .1-7.6 .1-1.5 .1,7.1 .1-1.9 .1-3.3 .1,6.6 .1-5.0 .1,7.2 .1-11.7 .1,2.9 .1,4.2 .1,1.8 .1,.8 .1-6.2 .1,1.6 .1,1.4 .1,1.2 .1-3.9 .1,.9 .1-4.5 .1,8.1 .1-6.0 .1,4.4 .1-.8 .1,.2 .1-1.9 .1,2.9 .1-.1 .1-4.9 .1,2.8 .1,.8 .1-3.5 .1,3.8 .1,1.8 .1,1.0 .1-4.6 .1-6.4 .1,9.6 .1,0 .1-2.5 .1,.5 .1-1.9 .1-1.0 .1,4.8 .1,1.7 .1-3.3 .1-3.5 .1-1.8 .1,6.7 .1,3.1 .1-1.2 .1-4.7 .1-.8 .1-.2 .1,4.9 .1,2.5 .1-8.1 .1,1.2 .1,.4 .1,3.1 .1-4.4 .1,5.0 .1-1.1 .1-.9 .1,2.2 .1-5.6 .1,.4 .1,6.7 .1-4.7 .1-1.8 .1,1.2 .1-2.1 .1,5.6 .1-4.9 .1,4.9 .1-.2 .1-2.7 .1,6.2 .1-5.6 .1,1.0 .1,1.4 .1-4.8 .1-1.5 .1,4.7 .1-3.4 .1-1.3 .1,.7 .1,5.5 .1,3.2 .1-5.6 .1-.3 .1,1.2 .1,1.3 .1-2.2 .1-1.7 .1,3.9 .1-3.7 .1-.8 .1-.1 .1,.4 .1,1.2 .1,.4 .1,2.0 .1-3.2 .1,1.3 .1-1.1 .1,1.4 .1,3.4 .1-4.8 .1-3.6 .1,7.6 .1-1.4 .1,.1 .1-8.3 .1,3.6 .1,4.3 .1-1.6 .1-.3 .1,4.0 .1-6.4 .1,1.7 .1,2.3 .1-3.4 .1,.4 .1,1.6 .1-1.4 .1,1.3 .1,3.9 .1-8.0 .1,2.9 .1,0 .1,.9 .1,2.3 .1,3.6 .1-.8 .1,2.6 .1-11.4 .1,2.6 .1,8.8 .1-6.0 .1,.3 .1-1.3 .1-.8 .1,5.6 .1-3.9 .1-2.1 .1,2.0 .1-.3 .1,1.9 .1-.2 .1-.6 .1-1.5 .1,1.4 .1-1.2 .1-3.0 .1,3.6 .1-4.7 .1,4.5 .1-2.4 .1,7.1 .1-3.1 .1-2.7 .1-.1 .1,3.9 .1-5.5 .1,7.2 .1-.3 .1-2.1 .1-3.2 .1,3.2 .1-2.8 .1-4.6 .1,2.6 .1,6.2 .1-3.9 .1-1.0 .1,5.5 .1-2.4 .1,.6 .1-1.1 .1-4.9 .1,3.6 .1-4.4 .1,7.8 .1-5.7 .1,8.8 .1-10.3 .1,.5 .1,6.4 .1-8.2 .1,4.6 .1,1.0 .1,6.1 .1-5.6 .1,.2 .1-1.5 .1-.3 .1-1.7 .1,3.6 .1-2.5 .1,.3 .1-4.5 .1,7.2 .1-1.7 .1-1.0 .1,1.2 .1,3.7 .1-11.2 .1,9.8 .1-4.0 .1,.1 .1,2.8 .1,.8 .1-6.4 .1,7.7 .1-5.7 .1,6.4 .1-4.8 .1,7.1 .1-10.3 .1,4.3 .1,3.9 .1-6.7 .1,3.3 .1-8.0 .1-2.1 .1,4.6 .1,3.2 .1-3.6 .1,5.6 .1-2.1 .1-5.8 .1,8.6 .1,1.7 .1-1.2 .1,.1 .1-3.7 .1,.2 .1,1.4 .1,.3 .1,1.9 .1,3.3 .1-2.1 .1-4.5 .1-6.0 .1,1.7 .1,5.9 .1-4.4 .1,9.3 .1-7.0 .1,.4 .1,2.0 .1-3.0 .1,1.3 .1,4.5 .1-.3 .1,2.0 .1-1.0 .1-.5 .1-9.3 .1,5.0 .1-2.0 .1,1.9 .1,1.4 .1,.8 .1,0 .1,1.7 .1-1.2 .1,1.9 .1-8.1 .1,.9 .1,3.6 .1,1.4 .1-6.7 .1-1.2 .1,8.6 .1-3.6 .1,2.8 .1,.7 .1-1.2 .1-3.8 .1,5.1 .1-3.8 .1,3.6 .1-6.9 .1,5.8 .1-1.5 .1-.9 .1,3.0 .1-.9 .1-.7 .1,.7 .1-3.6 .1,3.5 .1-4.1 .1-.3 .1,3.6 .1,.7 .1-3.3 .1-.7 .1-.3 .1,1.9 .1-.5 .1,6.9 .1-8.7 .1,3.1 .1,3.8 .1-2.4 .1-.7 .1,4.4 .1-.8 .1,.1 .1-5.0 .1,3.6 .1-.2 .1-3.9 .1,4.6 .1-1.9 .1-2.3 .1,2.0 .1,.4 .1-.6 .1-.7 .1-5.0 .1,2.1 .1,3.1 .1-5.7 .1,7.7 .1-2.2 .1,2.3 .1-1.0 .1-1.8 .1-4.7 .1,4.5 .1-2.7 .1,1.4 .1,.6 .1,.2 .1,2.9 .1,.3 .1-1.3 .1-3.5 .1,1.4 .1,3.0 .1,3.9 .1-7.1 .1-.1 .1,.1 .1,1.5 .1,2.4 .1-4.1 .1,.5 .1,.1 .1,6.2 .1-4.7 .1,3.4 .1,0 .1-3.5 .1,1.1 .1-1.6 .1-.2 .1-3.1 .1,1.7 .1,.6 .1,3.8 .1-3.4 .1-1.6 .1,3.9 .1-2.8 .1,.6 .1-1.6 .1,5.2 .1-3.7 .1,2.1 .1-4.0 .1,1.6 .1-5.1 .1,8.4 .1,4.6 .1-12.0" fill="none" stroke="#000" stroke-width="1.0"/>
<path d="M587.5,302.6l.1-1.8 .1-6.8 .1,5.9 .1-5.4 .1,15.6 .1-19.9 .1,8.1 .1,8.5 .1-12.3 .1,2.4 .1,18.5 .1-27.6 .1,10.9 .1,21.5 .1-9.4 .1-19.4 .1,6.4 .1-6.6 .1,18.1 .1-10.5 .1,1.5 .1-6.1 .1,18.9 .1-27.7 .1,4.5 .1,19.5 .1-16.6 .1,23.5 .1-11.7 .1,10.1 .1-8.0 .1,1.6 .1-3.5 .1,6.0 .1-20.6 .1,2.1 .1,22.0 .1,4.2 .1-9.7 .1-11.4 .1,6.7 .1,13.2 .1-3.7 .1-16.1 .1,25.8 .1-30.7 .1,9.8 .1-13.8 .1,24.0 .1,17.6 .1-21.2 .1-2.8 .1,.3 .1,2.5 .1,6.6 .1,2.2 .1-4.7 .1,11.5 .1-29.3 .1,13.7 .1,5.1 .1-3.7 .1,18.1 .1-15.9 .1-11.3 .1,10.8 .1,10.6 .1,6.0 .1-13.2 .1,6.3 .1-4.7 .1-3.8 .1-16.6 .1,25.3 .1-16.8 .1,16.8 .1-1.1 .1-4.1 .1,13.7 .1-12.6 .1,10.6 .1-18.5 .1,5.7 .1,22.5 .1-13.3 .1-20.1 .1,19.7 .1-8.8 .1,9.7 .1-19.2 .1,18.1 .1-2.9 .1,6.3 .1-18.3 .1,8.2 .1,14.4 .1-.5 .1-18.8 .1,6.0 .1,13.8 .1-4.2 .1-13.9 .1,14.2 .1-9.5 .1,.5 .1-6.4 .1,12.8 .1-1.4 .1,4.2 .1-3.7 .1-5.6 .1-6.2 .1,1.3 .1,10.9 .1-8.1 .1,7.6 .1-16.9 .1,13.4 .1,.1 .1-3.5 .1,.4 .1-3.0 .1-7.5 .1,30.5 .1-18.0 .1,8.0 .1,10.9 .1-18.1 .1,9.1 .1,10.9 .1-9.5 .1-10.4 .1-4.6 .1,5.1 .1,12.4 .1,10.0 .1-26.1 .1,6.3 .1,11.9 .1-15.3 .1,16.1 .1,.2 .1-14.8 .1,6.8 .1,4.2 .1-18.6 .1,8.7 .1-3.1 .1-.3 .1,16.9 .1-13.2 .1,2.3 .1,6.3 .1,2.8 .1-8.2 .1,1.6 .1,8.9 .1-11.2 .1,6.9 .1-6.5 .1,6.6 .1-2.8 .1,7.9 .1-8.2 .1-.4 .1-12.0 .1-2.6 .1,31.2 .1-8.5 .1-21.7 .1,27.8 .1-27.5 .1,15.5 .1,7.6 .1,7.0 .1-1.6 .1-11.3 .1-3.2 .1-2.2 .1-4.4 .1,.9 .1-4.4 .1,15.3 .1-3.7 .1,11.2 .1,1.4 .1-30.4 .1,20.6 .1-3.2 .1-3.1 .1-13.6 .1,22.3 .1,0 .1-11.2 .1,20.2 .1-15.5 .1,8.6 .1-8.9 .1,.8 .1,.9 .1,6.0 .1-5.7 .1,14.4 .1-9.3 .1-5.9 .1-3.9 .1-5.2 .1,24.1 .1,2.8 .1-9.4 .1-1.9 .1-9.2 .1,12.6 .1-7.6 .1,8.7 .1-14.2 .1,26.5 .1-14.5 .1-5.2 .1,8.9 .1-9.8 .1-3.6 .1,7.3 .1-2.7 .1,13.0 .1,0 .1,1.0 .1-5.8 .1,11.2 .1-4.9 .1-4.0 .1,3.3 .1,5.5 .1-5.5 .1-19.1 .1,5.7 .1,21.2 .1-18.4 .1-2.9 .1,3.0 .1,1.5 .1,5.4 .1-2.0 .1-13.1 .1,17.8 .1,4.3 .1,.1 .1-4.1 .1,1.8 .1-7.9 .1-2.5 .1,2.0 .1-8.7 .1,4.4 .1,1.6 .1,4.7 .1-2.0 .1,8.2 .1-2.6 .1-12.2 .1,3.4 .1-9.4 .1,20.5 .1-1.0 .1,.4 .1-7.9 .1-5.4 .1,3.8 .1,8.8 .1-.4 .1,3.5 .1-11.1 .1,8.3 .1,9.4 .1-29.0 .1,11.8 .1,2.8 .1,5.1 .1-8.9 .1,11.5 .1-17.7 .1,13.6 .1-2.4 .1-8.1 .1,9.5 .1,6.8 .1-10.9 .1-4.5 .1,8.5 .1-5.1 .1,.9 .1,13.4 .1-6.1 .1,3.2 .1-22.8 .1,8.0 .1,1.2 .1,2.9 .1-1.8 .1,6.1 .1,6.4 .1,3.3 .1-10.9 .1,1.3 .1,12.8 .1-22.1 .1,14.8 .1-1.7 .1,1.8 .1-1.9 .1-2.5 .1,7.5 .1-9.8 .1,4.4 .1-14.3 .1,20.3 .1-7.1 .1-13.4 .1,21.3 .1-12.7 .1,8.0 .1-1.5 .1-3.0 .1,8.6 .1-15.0 .1,9.2 .1,13.4 .1-10.6 .1-1.1 .1-12.5 .1,8.8 .1,.6 .1-.3 .1-.8 .1,.9 .1-1.7 .1-5.7 .1,3.5 .1,4.3 .1-3.0 .1,6.1 .1,5.3 .1-8.1 .1-5.0 .1-3.1 .1,18.4 .1-11.8 .1-4.7 .1,5.8 .1,13.5 .1-9.8 .1-12.0 .1,11.5 .1-1.7 .1-2.3 .1,4.2 .1-4.4 .1,15.6 .1-7.2 .1,.5 .1-6.4 .1,9.2 .1-7.5 .1-9.0 .1-.6 .1,6.9 .1,2.1 .1,.8 .1,4.3 .1-4.9 .1-1.3 .1,3.6 .1-9.9 .1,11.7 .1-1.7 .1-.6 .1,2.7 .1-18.0 .1,1.9 .1,.2 .1,21.3 .1-14.9 .1,5.8 .1,11.7 .1-23.3 .1,4.5 .1,7.2 .1,3.9 .1,4.5 .1-14.3 .1,2.4 .1-3.3 .1,6.2 .1-1.1 .1-.3 .1,9.5 .1-2.8 .1-13.5 .1,13.3 .1,4.0 .1-10.2 .1,1.8 .1,8.3 .1-10.9 .1,13.5 .1-14.2 .1,4.0 .1-2.3 .1,4.5 .1-.1 .1-9.4 .1,9.2 .1,.7 .1-4.2 .1-1.9 .1,7.0 .1-.8 .1-11.4 .1,13.9 .1,8.3 .1-10.3 .1,1.5 .1-11.5 .1,14.2 .1-2.6 .1-.8 .1-4.1 .1,8.9 .1-1.1 .1,.4 .1-9.9 .1,13.2 .1-3.6 .1,8.2 .1-19.1 .1,7.3 .1-1.1 .1,4.9 .1-.5 .1-5.9 .1,2.7 .1-10.9 .1,18.4 .1-7.1 .1-1.4 .1,.3 .1,0 .1,3.5 .1-4.4 .1,1.5 .1-7.4 .1,11.0 .1,2.9 .1-5.4 .1-3.8 .1,4.4 .1,7.8 .1-9.8 .1-.8 .1,3.6 .1,5.4 .1-10.2 .1,4.2 .1-5.3 .1,11.4 .1-2.7 .1-13.6 .1,21.3 .1-3.1 .1-2.2 .1-3.1 .1-5.0 .1,10.0 .1,1.8 .1,1.1 .1-10.7 .1-1.0 .1,15.5 .1-11.0 .1-11.4 .1,5.7 .1,5.9 .1,4.9 .1-12.4 .1,5.2 .1-2.6 .1,3.5 .1-4.6 .1,10.4 .1-9.5 .1,3.5 .1,4.4 .1-5.7 .1,3.4 .1-2.7 .1,11.6 .1-13.4 .1,6.4 .1-4.2 .1-.4 .1-5.1 .1,8.1 .1-1.4 .1,2.9 .1-1.4 .1-4.5 .1,1.6 .1-5.0 .1,11.0 .1,2.1 .1-6.2 .1-1.6 .1,15.4 .1-13.6 .1,7.4 .1-9.8 .1,3.1 .1,3.2 .1-2.0 .1-1.9 .1,3.2 .1,1.0 .1-7.4 .1,16.8 .1-15.0 .1,6.1 .1,3.8 .1-2.3 .1-6.2 .1-.3 .1,1.4 .1-10.7 .1,17.4 .1,3.9 .1-1.9 .1,4.9 .1-14.9 .1,4.1 .1,.4 .1,3.0 .1-5.3 .1-9.4 .1,13.9 .1,6.9 .1-16.8 .1-2.9 .1,12.7 .1-8.9 .1,7.8 .1,1.1 .1-5.9 .1-2.3 .1,7.0 .1-4.5 .1,6.1 .1-.5 .1,4.0 .1-2.4 .1,.4 .1-14.5 .1,7.3 .1,16.5 .1-9.9 .1-6.4 .1,2.2 .1,11.9 .1-6.7 .1-2.0 .1-2.7 .1,.8 .1,11.4 .1-20.3 .1,11.6 .1-12.5 .1,18.1 .1-4.5 .1,1.0 .1-9.5 .1,.7 .1,8.1 .1-2.6 .1,1.4 .1-3.3 .1-.1 .1-1.3 .1-3.3 .1,3.7 .1-7.5 .1,14.5 .1-3.3 .1,3.7 .1-4.0 .1-11.6 .1,15.9 .1,2.2 .1-12.3 .1-.9 .1,14.5 .1-11.1 .1,3.7 .1-6.1 .1,7.5 .1-3.6 .1,10.0 .1-5.6 .1-13.8 .1,5.2 .1,8.4 .1-.2 .1-8.9 .1,7.4 .1,5.8 .1-2.6 .1-8.9 .1,8.8 .1,3.2 .1-8.5 .1-4.1 .1,13.1 .1-1.3 .1-6.0 .1-1.7 .1,8.1 .1-3.0 .1,3.5 .1-5.2 .1-5.2 .1,3.7 .1,6.5 .1-4.5 .1-2.9 .1,.5 .1,8.5 .1-2.1 .1-1.6 .1-4.4 .1-7.3 .1,12.4 .1-13.8 .1,17.4 .1,1.9 .1-3.2 .1-7.1 .1,5.2 .1-5.7 .1-.8 .1,3.1 .1,3.4 .1,9.6 .1-10.0 .1,1.3 .1-8.2 .1,7.4 .1,2.8 .1,.4 .1-2.7 .1-5.4 .1,12.7 .1-6.5 .1,6.8 .1-5.8 .1,3.3 .1-14.3 .1,3.8 .1,6.3 .1,2.2 .1-8.0 .1-4.5 .1,16.0 .1-11.8 .1,10.0 .1,4.9 .1-12.1 .1-3.3 .1,4.8 .1,6.2 .1-12.5 .1,8.7 .1-7.3 .1-1.1 .1,1.0 .1,4.4 .1-4.8 .1,7.0 .1-6.1 .1,.4 .1-2.3 .1,10.3 .1-6.2 .1,4.1 .1,3.5 .1-2.9 .1-1.6 .1-1.4 .1-3.2 .1,8.7 .1-3.0 .1-9.0 .1,5.9 .1,9.4 .1-3.7 .1-.4 .1,3.2 .1-13.1 .1,6.6 .1,0 .1,1.7 .1,4.4 .1-5.4 .1-4.8 .1,4.3 .1-.3 .1,13.5 .1-5.5 .1,.7 .1,2.3 .1-6.7 .1,3.9 .1-1.3 .1-1.3 .1-7.0 .1,14.1 .1-8.2 .1-1.1 .1,4.4 .1-1.7 .1,3.7 .1-8.5 .1-7.5 .1,3.4 .1,6.6 .1,2.5 .1,6.3 .1-11.2 .1,3.3 .1-4.7 .1,6.8 .1,3.1 .1-.4 .1-8.2 .1-1.7 .1,.3 .1,5.7 .1-8.9 .1,14.7 .1-2.4 .1,0 .1-6.6 .1,4.2 .1,6.1 .1-6.9 .1,3.3 .1-2.2 .1,6.3 .1-9.6 .1-9.4 .1,13.0 .1-4.2 .1-4.7 .1,4.1 .1-1.2 .1,5.4 .1,.9 .1-7.0 .1,.1 .1,9.5 .1-10.0 .1,8.7 .1-5.0 .1-3.1 .1,5.9 .1-2.6 .1-9.2 .1,10.4 .1-6.3 .1,1.7 .1-5.7 .1,16.5 .1-5.4 .1-4.3 .1,6.2 .1-2.1 .1-1.8 .1-2.3 .1,2.9 .1,2.5 .1,2.4 .1-5.5 .1,1.8 .1,2.6 .1,1.3 .1-1.7 .1-4.1 .1,3.1 .1-1.2 .1,5.6 .1-9.3 .1,6.5 .1-1.4 .1-1.8 .1,2.0 .1-.3 .1-6.7 .1,13.5 .1-2.2 .1-6.0 .1,7.6 .1-2.6 .1-7.8 .1,6.1 .1-2.5 .1-2.3 .1,1.0 .1,2.6 .1,1.5 .1-1.4 .1-2.1 .1-4.7 .1,2.8 .1,5.4 .1-4.6 .1,.9 .1-.7 .1,2.1 .1-5.0 .1,2.8 .1-4.4 .1,14.2 .1-6.2 .1-4.3 .1,3.3 .1,2.9 .1,5.8 .1-4.9 .1-9.1 .1,7.0 .1,3.1 .1-4.0 .1-7.9 .1,1.2 .1,15.7 .1-8.1 .1-6.0 .1-1.0 .1-2.5 .1,5.3 .1-.7 .1-.4 .1,10.8 .1,1.0 .1-9.8 .1-8.0 .1,3.2 .1,8.5 .1,4.1 .1-11.1 .1,3.2 .1,1.4 .1,4.9 .1-2.9 .1-2.1 .1-3.9 .1,8.2 .1-2.1 .1-6.1 .1-2.5 .1,16.5 .1-17.3 .1,9.8 .1-4.9 .1,.1 .1,2.8 .1,7.4 .1-5.0 .1-3.9 .1,8.6 .1-11.8 .1,9.4 .1,5.3 .1-9.4 .1,1.0 .1,2.2 .1,4.8 .1-3.0 .1-6.9 .1,.8 .1-1.5 .1-2.4 .1,2.8 .1-1.5 .1-.2 .1,6.7 .1-1.0 .1,.1 .1,1.0 .1,.4 .1-2.1 .1,2.0 .1-8.8 .1,6.4 .1-1.0 .1,5.1 .1-4.2 .1-4.5 .1,10.1 .1-7.1 .1,4.7 .1,0 .1-.1 .1,1.0 .1-7.1 .1-2.0 .1,4.7 .1-7.1 .1,12.5 .1-3.4 .1-2.3 .1-2.8 .1-2.7 .1,12.8 .1-3.7 .1-6.1 .1,.2 .1,9.1 .1-4.3 .1-2.3 .1,2.8 .1-1.3 .1-5.2 .1,11.5 .1-2.4 .1-3.5 .1-8.3 .1,10.5 .1-4.7 .1,4.1 .1-.3 .1-7.7 .1,7.5 .1-3.0 .1-2.3 .1,6.4 .1-3.6 .1,6.0 .1-3.1 .1-6.9 .1,5.6 .1-4.5 .1,5.5 .1-1.8 .1,5.0 .1-5.9 .1-3.9 .1,3.0 .1-1.4 .1-6.0 .1,5.6 .1,8.8 .1-11.2 .1,8.0 .1-4.8 .1,5.2 .1-1.7 .1-1.9 .1-5.4 .1,1.8 .1,2.0 .1,10.7 .1-1.1 .1-12.7 .1,6.3 .1-6.5 .1,4.7 .1,7.8 .1-2.3 .1-2.5 .1-8.8 .1,3.9 .1-1.0 .1,13.6 .1-9.5 .1,5.6 .1-3.6 .1-2.1 .1-2.0 .1,8.7 .1-6.6 .1,2.4 .1-1.5 .1-3.5 .1,5.9 .1-6.4 .1,4.3 .1-4.7 .1-3.8 .1,12.3 .1-.8 .1-3.1 .1-7.3 .1,1.9 .1,6.2 .1-7.2 .1,15.4 .1-13.7 .1,2.2 .1,7.2 .1-1.3 .1-1.3 .1,.8 .1,.8 .1-3.4 .1-2.2 .1,1.0 .1,1.8 .1,.5 .1,2.8 .1-2.0 .1,1.6 .1-5.5 .1-1.1 .1-.1 .1,2.0 .1-5.0 .1,2.9 .1,4.5 .1-3.8 .1-2.5 .1-.7 .1,1.4 .1,0 .1,10.3 .1-.5 .1,1.4 .1-8.7 .1-2.5 .1,1.1 .1-2.4 .1,5.5 .1-3.4 .1,6.7 .1-7.3 .1,4.5 .1-10.0 .1,7.9 .1,1.0 .1,.5 .1-3.2 .1,3.1 .1,.2 .1,.1 .1,5.4 .1-7.0 .1,4.9 .1,2.1 .1-1.4 .1-1.9 .1-.1 .1,3.1 .1,.3 .1-7.6 .1,1.8 .1,6.5 .1-4.3 .1-6.5 .1,5.4 .1,2.5 .1-1.0 .1-1.8 .1-.9 .1-.6 .1-3.4 .1,6.6 .1-.5 .1-4.4 .1-.1 .1,.2 .1,1.5 .1,8.5 .1-6.6 .1,1.6 .1-1.9 .1,.3 .1-1.0 .1-6.4 .1,11.3 .1-1.8 .1-.2 .1-.2 .1,2.2 .1-6.0 .1,4.7 .1,6.0 .1-2.8 .1-4.8 .1-7.5 .1-3.4 .1,7.7 .1,4.3 .1-4.0 .1,3.3 .1,.7 .1,1.5 .1,1.7 .1-3.8 .1-3.1 .1,.5 .1-2.2 .1,12.0 .1-4.9 .1-.7 .1-8.5 .1,.5 .1,5.9 .1,1.6 .1,.1 .1,3.4 .1-3.6 .1-3.3 .1,.5 .1,3.6 .1,1.7 .1,.6 .1-2.8 .1,6.0 .1-10.6 .1,3.4 .1-4.6 .1,2.0 .1,8.2 .1-12.1 .1,4.3 .1-.3 .1,1.4 .1,1.8 .1-5.9 .1,1.0 .1-.5 .1-1.7 .1,3.7 .1-2.0 .1,.3 .1-2.2 .1-1.4 .1,.6 .1,0 .1,.8 .1-1.9 .1,1.2 .1,11.5 .1-3.0 .1-1.7 .1,6.8 .1-4.1 .1-2.6 .1-3.7 .1,9.9 .1-9.1 .1,.7 .1-7.4 .1,7.9 .1,1.0 .1-9.3 .1,8.2 .1,.5 .1-.3 .1-6.6 .1,3.4 .1,7.1 .1-2.7 .1-8.3 .1,6.6 .1-8.8 .1,9.9 .1,2.9 .1,4.0 .1-11.4 .1,1.8 .1-.4 .1-3.2 .1-.2 .1,5.9 .1-10.2 .1,7.5 .1-1.8 .1-.3 .1-1.9 .1,2.4 .1,5.9 .1,1.6 .1,2.6 .1-15.2 .1,1.5 .1,8.7 .1,.7 .1-7.2 .1,5.7 .1-2.6 .1-6.7 .1,8.4 .1-1.0 .1-.9 .1,1.0 .1-8.4 .1,10.8 .1-3.5 .1,5.3 .1-4.5 .1,.1 .1-4.4 .1-2.2 .1,6.7 .1-5.6 .1,5.7 .1-2.3 .1-8.6 .1,10.7 .1,2.1 .1-7.4 .1-.8 .1,5.2 .1-3.2 .1,1.8 .1-5.1 .1,2.9 .1,.7 .1-.2 .1,7.4 .1-9.0 .1-3.8 .1,1.9 .1,1.2 .1,5.7 .1,4.0 .1-5.8 .1,4.5 .1-8.2 .1,7.2 .1-4.1 .1-.6 .1-1.4 .1,1.4 .1,5.2 .1-6.2 .1,3.5 .1-2.9 .1-.9 .1,1.9 .1-9.0 .1,10.0 .1,.3 .1-7.0 .1,4.7 .1,1.4 .1-5.4 .1,5.0 .1,3.1 .1-.1 .1-2.8 .1,6.8 .1-3.1 .1-6.8 .1,3.1 .1,6.5 .1-4.4 .1-3.2 .1,4.4 .1-3.1 .1-3.4 .1,0 .1,1.1 .1-6.9 .1,6.7 .1-2.3 .1,2.3 .1-.2 .1,3.4 .1-2.1 .1-.8 .1,1.6 .1,.8 .1-3.8 .1,.1 .1,2.0 .1,1.7 .1,.4 .1-1.8 .1-3.1 .1,1.2 .1-5.3 .1,6.8 .1,3.9 .1-7.8 .1,1.3 .1,7.5 .1-7.1 .1,.9 .1,1.8 .1-.9 .1,2.7 .1-.7 .1-7.0 .1,8.4 .1-2.1 .1,5.4 .1-3.7 .1-5.0 .1,7.4 .1-6.3 .1-.8 .1,2.0 .1-.2 .1-1.7 .1,2.2 .1-3.4 .1-.1 .1,11.0 .1-14.0 .1,11.1 .1-4.0 .1-6.6 .1,2.4 .1-5.1 .1,4.9 .1,8.4 .1-15.2 .1,12.5 .1-2.5 .1-5.4 .1,2.8 .1,8.0 .1-8.2 .1,3.1 .1-4.6 .1,6.0 .1-.7 .1,1.8 .1-8.8 .1,9.0 .1,1.3 .1-6.8 .1,5.0 .1-6.2 .1,6.2 .1-1.8 .1-1.5 .1,4.4 .1,.2 .1-3.1 .1-1.6 .1,4.6 .1-4.2 .1,10.6 .1-20.6 .1,14.7 .1,1.5 .1-5.9 .1-8.1 .1,10.8 .1-2.8 .1,2.8 .1,3.2 .1-6.3 .1-.9 .1,4.1 .1-5.2 .1-.2 .1,3.2 .1,0 .1,3.2 .1,1.5 .1-4.8 .1-4.0 .1,12.4 .1,.9 .1-5.6 .1-11.1 .1-.6 .1,8.0 .1-7.4 .1,9.8 .1-1.8 .1,1.7 .1-2.7 .1-1.7 .1-4.1 .1-2.9 .1,15.2 .1-3.4 .1-12.1 .1,9.5 .1-3.0 .1,4.6 .1-.7 .1,6.1 .1-19.7 .1,8.9 .1,8.9 .1-8.2 .1,6.4 .1,.8 .1-6.2 .1,.3 .1,4.6 .1-8.9 .1-3.7 .1,10.4 .1-6.9 .1,4.1 .1,5.9 .1,.2 .1,3.6 .1-5.8 .1-1.0 .1-5.0 .1,.4 .1-6.9 .1,17.1 .1-9.2 .1-.7 .1-2.8 .1,3.7 .1,.8 .1-2.9 .1,5.6 .1-2.6 .1,0 .1-7.3 .1,4.5 .1,8.6 .1-6.8 .1-5.7 .1,2.5 .1,11.8 .1-2.4 .1-3.7 .1,3.7 .1-6.3 .1,5.3 .1-1.1 .1-3.7 .1,0 .1,3.4 .1-6.9 .1,10.8 .1-2.8 .1-9.0 .1,1.1 .1-2.7 .1,4.1 .1,5.3 .1-8.0 .1,3.0 .1,3.2 .1,.1 .1,.3 .1-1.8 .1,9.8 .1-9.9 .1,6.3 .1-12.6 .1,11.5 .1,5.5 .1-5.1 .1-11.7 .1,13.1 .1-1.2 .1-5.0 .1,6.5 .1,.1 .1-5.8 .1,4.7 .1-1.9 .1,2.0 .1-1.9 .1-8.4 .1,8.9 .1-6.2 .1,.1 .1,10.9 .1-6.0 .1-.7 .1-8.5 .1,9.7 .1,1.3 .1-3.7 .1-.9 .1,4.2 .1-3.4 .1-1.5 .1-1.8 .1,1.3 .1,4.8 .1,5.2 .1-6.9 .1-2.5 .1,3.7 .1-5.5 .1,3.2 .1,.5 .1,3.8 .1-.4 .1,.5 .1-4.1 .1,8.8 .1-5.8 .1-2.8 .1,3.4 .1-3.2 .1,5.2 .1-5.3 .1,3.1 .1,6.9 .1-2.4 .1-1.5 .1-4.2 .1-1.4 .1,1.2 .1,4.6 .1,.8 .1-2.5 .1,2.7 .1-8.2 .1,8.6 .1-13.1 .1,4.5 .1,1.7 .1,.3 .1,2.5 .1,9.8 .1-11.3 .1,8.9 .1-10.4 .1,8.4 .1-8.0 .1,6.4 .1-2.5 .1,7.2 .1-8.2 .1-6.0 .1,2.4 .1,3.8 .1,3.1 .1-5.2 .1,.8 .1,4.2 .1-6.5 .1,4.2 .1-.6 .1,3.1 .1-10.2 .1,5.8 .1,7.7 .1-13.2 .1,5.9 .1-.1 .1-2.0 .1,.2 .1-.7 .1,11.4 .1-7.1 .1,1.8 .1-4.7 .1-3.7 .1,10.0 .1-.5 .1-6.9 .1-1.0 .1,11.0 .1-3.7 .1-3.0 .1,3.4 .1,4.3 .1-3.5 .1,1.0 .1-1.2 .1-3.7 .1-2.5 .1,10.5 .1-16.8 .1,11.3 .1-.8 .1-3.8 .1,2.4 .1,.4 .1,.9 .1,1.7 .1,3.0 .1,2.5 .1-5.6 .1-1.5 .1,.4 .1-3.3 .1,.3 .1,2.2 .1,2.6 .1,1.4 .1-6.5 .1,4.3 .1-.6 .1,6.6 .1-3.7 .1,.2 .1-8.8 .1,.3 .1,4.2 .1,2.4 .1-8.1 .1,7.3 .1,.2 .1,.4 .1,4.0 .1-11.7 .1,1.5 .1,6.3 .1-3.9 .1,3.7 .1,1.1 .1-10.0 .1,14.4 .1-.7 .1-12.4 .1,3.7 .1,5.8 .1-5.2 .1,3.5 .1-5.3 .1,9.8 .1-11.4 .1,4.6 .1,1.5 .1-6.4 .1,6.5 .1,0 .1,1.7 .1-8.4 .1,11.1 .1-8.5 .1,.2 .1,1.0 .1,4.6 .1-3.6 .1,.2 .1,2.9 .1-2.8 .1-1.3 .1-.5 .1,1.5 .1,2.0 .1,4.0 .1-4.4 .1,3.9 .1-1.1 .1,2.8 .1-4.8 .1-2.3 .1-6.7 .1,7.3 .1,2.6 .1,.8 .1-8.5 .1,3.1 .1-.4 .1,1.5 .1,4.9 .1-.8 .1,2.5 .1-10.4 .1-.5 .1,6.2 .1-2.7 .1,2.8 .1,.1 .1,3.1 .1,1.1 .1-10.2 .1,7.5 .1,.6 .1,3.5 .1-4.2 .1-7.6 .1,7.9 .1-2.7 .1-4.1 .1,9.4 .1-6.2 .1,2.4 .1,1.4 .1-1.3 .1,1.1 .1,.6 .1,5.9 .1-.5 .1-13.5 .1,10.1 .1,1.5 .1-1.8 .1-1.2 .1-1.6 .1-1.5 .1-1.8 .1,.3 .1,4.9 .1-4.2 .1,5.6 .1-7.1 .1,7.2 .1-6.8 .1-.5 .1,2.0 .1,8.2 .1-2.2 .1-9.6 .1,11.1 .1-6.7 .1-5.6 .1,17.2 .1-11.5 .1-2.1 .1,7.1 .1,.7 .1-10.2 .1,8.7 .1-6.5 .1-1.3 .1,4.0 .1,1.2 .1-2.3 .1-1.9 .1,3.6 .1,5.1 .1-6.2 .1,6.1 .1-6.7 .1,2.8 .1-.1 .1-4.1 .1,9.7 .1-4.4 .1-.8 .1-.5 .1,.7 .1,2.1 .1,2.1 .1-4.1 .1,.1 .1-2.2 .1-2.8 .1,5.9 .1-7.1 .1,8.9 .1-3.4 .1-4.3 .1,4.6 .1-5.9 .1,2.3 .1-4.4 .1,13.3 .1-7.0 .1-3.5 .1,6.5 .1-5.0 .1,.4 .1,3.3 .1,3.5 .1-.3 .1-2.9 .1-3.1 .1,.7 .1-.3 .1,4.9 .1-4.5 .1-2.0 .1,5.9 .1-4.7 .1-2.7 .1,9.8 .1-.8 .1-9.6 .1,5.1 .1-2.4 .1,7.4 .1-5.1 .1,2.7 .1-6.6 .1,6.2 .1,7.2 .1-2.9 .1-.9 .1,1.0 .1-6.5 .1,3.1 .1-1.0 .1-2.5 .1,1.4 .1,5.8 .1-1.8 .1-4.3 .1,4.1 .1,4.6 .1-10.5 .1,1.6 .1-1.3 .1,8.6 .1-8.5 .1,1.1 .1-4.0 .1,4.0 .1,2.5 .1-4.1 .1-.2 .1,0 .1,8.0 .1,.6 .1,2.6 .1-13.4 .1,8.0 .1-8.4 .1,4.0 .1-.7 .1,1.0 .1-5.0 .1,12.9 .1-4.6 .1-2.0 .1-.6 .1-1.2 .1,5.1 .1-1.9 .1-3.0 .1,6.8 .1-.6 .1,.3 .1-5.5 .1,2.0 .1-1.3 .1,7.0 .1-1.0 .1,1.2 .1-4.9 .1-.3 .1,1.2 .1-8.0 .1,8.9 .1-4.5 .1,2.5 .1-3.5 .1,3.2 .1,4.5 .1-3.9 .1-6.7 .1,3.5 .1,2.5 .1,.9 .1-2.5 .1-6.5 .1,9.8 .1-2.8 .1-.3 .1,2.5 .1-1.7 .1-2.2 .1-2.0 .1,7.0 .1-5.9 .1,6.2 .1-6.3 .1,4.7 .1-1.8 .1-3.4 .1-2.9 .1,8.4 .1-4.3 .1,4.7 .1,1.1 .1,1.4 .1-5.5 .1,2.4 .1-5.4 .1,6.2 .1-.3 .1,.4 .1-5.0 .1,5.4 .1-7.3 .1,7.1 .1-.5 .1,3.4 .1-7.9 .1,7.7 .1-10.8 .1,9.2 .1-.5 .1-2.1 .1,5.0 .1-3.6 .1-9.3 .1,10.1 .1,.1 .1-2.1 .1-.7 .1,2.0 .1,.5 .1-1.7 .1-3.7 .1,4.1 .1-.6 .1-5.2 .1,3.7 .1-.9 .1,.5 .1,2.7 .1-8.7 .1,12.1 .1-4.8 .1,1.0 .1-6.1 .1,4.7 .1-1.7 .1,5.4 .1-1.3 .1-2.9 .1-1.7 .1,4.2 .1-3.0 .1-1.4 .1,7.9 .1-3.8 .1,3.9 .1-3.7 .1-.2 .1-.4 .1-1.0 .1-.9 .1,6.8 .1-7.5 .1,2.0 .1,3.2 .1,2.6 .1,.4 .1-8.2 .1,3.8 .1-.5 .1-4.7 .1,4.6 .1-5.6 .1,.9 .1-3.0 .1,12.2 .1-10.5 .1,9.5 .1-12.3 .1,8.6 .1-1.8 .1,2.0 .1-.9 .1-2.6 .1,1.5 .1-.4 .1-.8 .1-1.0 .1,8.4 .1-5.5 .1,6.2 .1-6.9 .1,.6 .1-.9 .1-.1 .1-.3 .1,2.4 .1-.4 .1-.6 .1-5.8 .1,13.8 .1-7.7 .1,.7 .1,2.2 .1-1.1 .1-9.1 .1,5.4 .1,2.3 .1-2.2 .1,6.7 .1-1.9 .1-6.8 .1,.9 .1,8.0 .1-4.7 .1-5.3 .1,7.3 .1-3.2 .1-4.4 .1,3.5 .1,1.6 .1,.5 .1,2.8 .1-1.1 .1-5.4 .1,3.9 .1,2.7 .1-4.6 .1,.5 .1,.8 .1-.9 .1-2.4 .1,5.3 .1-.2 .1,1.0 .1-2.6 .1-1.5 .1,3.7 .1-.6 .1-1.6 .1,4.8 .1-1.0 .1-8.0 .1,4.3 .1-.4 .1,5.8 .1-8.1 .1,2.3 .1,1.4 .1,6.5 .1-11.7 .1,.8 .1,.4 .1-1.8 .1,.8 .1,2.4 .1-.3 .1,2.3 .1-1.6 .1-3.1 .1,6.9 .1,.4 .1-5.6 .1,8.2 .1-7.6 .1,4.0 .1-4.7 .1,1.5 .1,3.6 .1-.9 .1,3.1 .1-2.2 .1-2.9 .1,6.7 .1-7.5 .1-.3 .1,4.4 .1-2.2 .1-1.2 .1,2.0 .1-4.4 .1,6.9 .1-3.7 .1-.1 .1,2.9 .1-7.3 .1,7.8 .1-1.6 .1,.9 .1,2.3 .1-4.5 .1,1.6 .1,4.2 .1-3.4 .1-2.9 .1-2.4 .1,3.1 .1,4.0 .1-2.5 .1,1.6 .1,.4 .1-3.6 .1-5.6 .1,2.4 .1,8.2 .1-7.1 .1,5.5 .1-.5 .1-4.0 .1-2.7 .1,8.7 .1-4.6 .1,4.3 .1-4.8 .1-2.9 .1,3.1 .1,.8 .1-.4 .1,3.8 .1-2.7 .1-3.0 .1-1.0 .1-.5 .1,7.3 .1-4.2 .1,3.9 .1-2.0 .1,1.0 .1,0 .1-5.6 .1-1.1 .1,1.1 .1-.5 .1,2.2 .1-1.8 .1,1.3 .1,7.2 .1-7.5 .1,3.5 .1-6.2 .1,.2 .1,11.6 .1-3.7 .1-3.0 .1-2.8 .1-1.8 .1,1.6 .1,6.6 .1-7.6 .1-.7 .1,1.8 .1,1.0 .1,.2 .1-1.0 .1-1.5 .1,1.2 .1,9.3 .1-5.4 .1-8.0 .1,10.6 .1-.6 .1-2.2 .1-1.2 .1,5.7 .1-12.2 .1,8.6 .1-6.3 .1,7.6 .1-8.1 .1,6.0 .1-7.7 .1,9.7 .1-6.1 .1-2.3 .1-.1 .1,1.3 .1,1.2 .1,1.2 .1-4.5 .1,9.5 .1-3.8 .1-4.2 .1,5.4 .1,1.3 .1-2.8 .1-6.5 .1,5.0 .1-1.3 .1-3.9 .1,5.3 .1-3.6 .1,.8 .1,4.1 .1-8.5 .1,9.0 .1-6.0 .1,8.3 .1-6.4 .1-3.0 .1,12.9 .1,0 .1-16.2 .1,10.0 .1-10.2 .1,9.3 .1-3.1 .1,1.7 .1-.5 .1-1.4 .1-2.7 .1,5.2 .1,1.6 .1-3.8 .1,6.3 .1-7.7 .1,4.2 .1,2.9 .1-8.9 .1,6.4 .1-4.4 .1,.5 .1,10.2 .1-6.0 .1-2.3 .1-4.5 .1,5.6 .1-2.3 .1,.5 .1-.2 .1,9.0 .1-5.8 .1-1.6 .1,.9 .1-5.8 .1,6.3 .1-2.3 .1-3.9 .1,6.7 .1-11.5 .1,7.5 .1-1.5 .1-2.2 .1,2.3 .1,1.4 .1,3.3 .1,.9 .1-1.4 .1,2.8 .1-13.2 .1,2.3 .1,6.6 .1-5.1 .1,3.9 .1,2.6 .1,3.7 .1-3.3 .1-.6 .1-.6 .1-4.3 .1,1.3 .1-3.0 .1,4.6 .1,1.0 .1-4.7 .1,6.4 .1-5.4 .1,8.8 .1-5.7 .1-2.9 .1,5.7 .1,2.5 .1-4.5 .1-.8 .1-3.6 .1,0 .1-1.5 .1,4.3 .1,7.6 .1-7.5 .1-4.7 .1,6.7 .1-1.0 .1,3.8 .1-1.7 .1-8.2 .1,6.9 .1-.2 .1-3.7 .1,7.9 .1-4.4 .1-2.1 .1,1.3 .1,3.3 .1,1.8 .1-2.5 .1-1.7 .1,1.9 .1-5.5 .1,3.0 .1-1.1 .1,.1 .1,9.1 .1-4.7 .1-2.6 .1-6.9 .1,13.4 .1-6.1 .1-2.5 .1,.1 .1,3.1 .1-8.0 .1,3.0 .1,6.0 .1-4.0 .1-.3 .1-.9 .1,8.6 .1-7.7 .1,3.1 .1,2.1 .1-4.3 .1-1.0 .1,10.5 .1-5.5 .1,.9 .1-5.0 .1,10.1 .1-5.6 .1-6.0 .1-2.0 .1,9.7 .1-7.9 .1,8.4 .1-10.7 .1,4.3 .1,7.2 .1-6.6 .1,3.8 .1-2.6 .1,4.2 .1-3.6 .1-.3 .1,3.8 .1-4.6 .1,2.5 .1,6.4 .1-8.2 .1,4.6 .1-6.0 .1-1.0 .1,2.2 .1,4.2 .1,.6 .1-2.0 .1-3.3 .1,3.2 .1-2.0 .1,6.5 .1-3.9 .1-1.6 .1-.7 .1-1.4 .1,1.7 .1,6.3 .1-11.1 .1,6.4 .1,.3 .1-6.3 .1,7.1 .1-.3 .1-7.6 .1,8.8 .1-4.6 .1-.7 .1-1.2 .1,3.2 .1,3.9 .1-6.2 .1,6.9 .1,2.6 .1-3.2 .1-6.8 .1,4.4 .1-3.2 .1-3.2 .1,5.7 .1-7.7 .1,7.1 .1-4.0 .1-1.5 .1,4.1 .1-.9 .1,6.4 .1-.1 .1,3.2 .1-6.5 .1-1.8 .1,1.3 .1,3.6 .1-3.8 .1,4.4 .1-5.2 .1-.7 .1,6.1 .1-1.8 .1-.5 .1-2.2 .1-.7 .1,1.7 .1-4.0 .1,2.3 .1-2.2 .1,4.3 .1-4.5 .1-2.1 .1,3.9 .1-1.5 .1,1.1 .1-2.5 .1,12.1 .1-7.8 .1,5.9 .1-4.1 .1-4.3 .1-1.0 .1,6.9 .1-1.6 .1-.8 .1-.5 .1-3.4 .1-.3 .1,4.0 .1,1.4 .1,3.9 .1-12.1 .1,8.0 .1-1.8 .1-2.4 .1,1.8 .1,3.1 .1-3.5 .1,.8 .1-5.2 .1,5.4 .1,7.9 .1,0 .1-3.6 .1-9.5 .1,11.9 .1-7.2 .1,2.1 .1-2.7 .1,3.3 .1-5.2 .1,7.2 .1-1.7 .1-3.6 .1,1.3 .1-2.6 .1,3.0 .1-.5 .1-1.1 .1-1.2 .1,2.7 .1-.9 .1,.8 .1-2.0 .1,7.1 .1-6.4 .1,5.7 .1-3.7 .1,2.3 .1-9.3 .1,12.8 .1-11.9 .1,4.4 .1-.9 .1,5.6 .1-.6 .1-5.9 .1,5.4 .1,.8 .1-4.7 .1,.9 .1,.3 .1,.5 .1,2.1 .1,.4 .1-4.2 .1,2.1 .1,.7 .1-.8 .1-5.0 .1,1.2 .1,1.4 .1,1.0 .1,3.6 .1-5.2 .1,10.3 .1-11.1 .1,3.8 .1-.1 .1-3.5 .1,6.6 .1-1.9 .1-2.7 .1-5.2 .1,3.1 .1-15.2 .1,19.3 .1-2.7 .1,5.2 .1-8.8 .1,7.4 .1,.5 .1-1.8 .1,1.4 .1,1.8 .1,.1 .1-5.4 .1,5.1 .1-4.3 .1-.2 .1,3.0 .1-3.0 .1,3.9 .1-.3 .1,.3 .1-5.0 .1,3.6 .1,2.0 .1,.5 .1,2.8 .1-2.4 .1-7.7 .1,3.8 .1,.8 .1-4.5 .1,2.4 .1-2.2 .1,2.5 .1,6.1 .1-4.6 .1-3.3 .1-1.6 .1,3.0 .1,8.8 .1-8.4 .1,.5 .1,8.2 .1-5.6 .1-3.1 .1,1.3 .1-3.3 .1,6.6 .1-3.1 .1-4.0 .1,0 .1,1.8 .1-1.1 .1,11.2 .1-14.3 .1,10.7 .1-1.0 .1-9.8 .1,3.0 .1,4.0 .1,1.7 .1,1.1 .1-3.1 .1,.5 .1-3.8 .1,5.0 .1-4.2 .1,1.7 .1-1.2 .1,2.7 .1,4.3 .1-3.0 .1-5.0 .1,6.8 .1-.3 .1-7.1 .1,2.0 .1,5.0 .1-4.9 .1,.8 .1,4.6 .1-.8 .1,1.4 .1-6.7 .1,4.5 .1-8.9 .1,8.2 .1-.2 .1-3.3 .1-2.1 .1,4.2 .1,2.4 .1-4.7 .1,3.8 .1-.1 .1-2.2 .1-1.0 .1,6.3 .1-7.0 .1,5.9 .1-5.5 .1,1.9 .1,.8 .1,3.9 .1-5.4 .1,3.9 .1-4.3 .1,6.2 .1-7.0 .1,6.0 .1,.2 .1-3.4 .1,3.6 .1-6.2 .1,.4 .1-1.1 .1,.7 .1,1.8 .1,3.1 .1,3.9 .1-5.6 .1-4.4 .1,6.3 .1-7.1 .1,6.2 .1-3.8 .1,.2 .1-2.1 .1,7.0 .1-2.2 .1-.9 .1-5.1 .1,3.4 .1-.3 .1,5.7 .1,1.1 .1-1.6 .1,1.8 .1-.9 .1-4.8 .1,1.6 .1-5.5 .1,7.0 .1,.1 .1-5.9 .1,6.5 .1-3.3 .1-5.2 .1,5.5 .1,2.8 .1-4.1 .1,1.9 .1,1.1 .1-2.7 .1-.3 .1-3.1 .1,5.7 .1-.6 .1,4.9 .1-3.6 .1-2.0 .1-3.6 .1-2.0 .1,4.5 .1,.1 .1,2.9 .1-1.4 .1,0 .1,3.4 .1-2.4 .1,.2 .1-.6 .1,.7 .1-5.7 .1,9.2 .1-4.4 .1,1.5 .1,2.1 .1-4.8 .1-1.0 .1,3.7 .1,2.1 .1,1.3 .1-5.2 .1,5.0 .1-5.6 .1,.3 .1,2.2 .1-2.3 .1-2.4 .1,1.5 .1,8.1 .1-5.2 .1,.4 .1-5.1 .1,2.0 .1,.6 .1,.9 .1,1.6 .1-6.1 .1,4.9 .1,2.5 .1,.2 .1-10.3 .1,10.1 .1-4.6 .1-.9 .1,6.5 .1,.5 .1-6.0 .1,1.2 .1-2.0 .1,.5 .1,.3 .1-4.2 .1,4.7 .1,5.1 .1-6.8 .1,.9 .1,.9 .1-.2 .1,.3 .1,1.6 .1,.5 .1-.8 .1,.6 .1,.8 .1,1.6 .1-4.7 .1-2.6 .1,7.0 .1-6.5 .1,.5 .1,3.9 .1-4.2 .1,1.3 .1,3.5 .1-1.3 .1,3.1 .1-2.4 .1-5.1 .1,7.5 .1-1.4 .1-7.4 .1,3.2 .1,1.3 .1,5.9 .1-5.4 .1,.4 .1,2.5 .1-2.0 .1-1.7 .1,1.9 .1-.1 .1,1.1 .1-3.0 .1,1.6 .1,1.5 .1-5.2 .1-.7 .1,8.6 .1-11.5 .1,9.1 .1-5.7 .1,4.9 .1,.2 .1-4.6 .1,2.2 .1-.3 .1,.4 .1,1.6 .1,.3 .1-.2 .1-1.2 .1,1.6 .1,2.6 .1-6.1 .1,7.8 .1-1.2 .1-4.4 .1,1.3 .1-1.0 .1-7.2 .1,4.5 .1-1.3 .1,5.9 .1,0 .1,3.3 .1-1.7 .1-1.1 .1,.4 .1-3.5 .1,1.0 .1,2.5 .1,1.8 .1-4.5 .1-1.3 .1,2.9 .1,.9 .1-4.5 .1-3.0 .1,3.0 .1,2.9 .1,.4 .1-1.0 .1,4.4 .1-10.5 .1,3.0 .1,3.8 .1,2.5 .1-9.1 .1,11.7 .1-7.0 .1-1.4 .1-.5 .1,5.0 .1,4.1 .1-7.3 .1,9.3 .1-9.8 .1,3.4 .1,.4 .1-2.6 .1-3.4 .1,2.7 .1-4.3 .1,3.7 .1,6.4 .1-4.0 .1-2.7 .1-1.1 .1,.8 .1-4.2 .1,6.0 .1-1.7 .1,1.6 .1,1.0 .1-3.6 .1,7.2 .1-5.2 .1-5.0 .1,8.6 .1-3.5 .1-3.8 .1,6.3 .1-2.2 .1,1.4 .1-5.5 .1,2.6 .1,.9 .1-1.7 .1,2.8 .1,1.2 .1,.3 .1,1.1 .1-2.8 .1-1.5 .1-.3 .1-.3 .1,1.2 .1,4.4 .1-5.2 .1,6.6 .1-6.2 .1-.7 .1,1.1 .1-2.0 .1-1.4 .1,1.0 .1,6.3 .1,.3 .1-9.4 .1,8.8 .1-2.9 .1,.2 .1,2.5 .1,.3 .1,.2 .1-2.3 .1-4.2 .1,6.5 .1-8.0 .1,6.7 .1-3.9 .1-2.4 .1,5.8 .1-1.6 .1-2.6 .1,4.1 .1-2.9 .1,3.0 .1-4.4 .1,4.5 .1,.3 .1-4.8 .1,7.2 .1-8.1 .1,5.7 .1-3.7 .1,.5 .1-1.5 .1,2.8 .1-.2 .1-1.6 .1,3.4 .1,.4 .1-2.2 .1,2.0 .1-5.2 .1,4.6 .1-.3 .1,6.3 .1-9.3 .1,3.8 .1-2.7 .1,4.6 .1-1.8 .1,.9 .1-.9 .1-6.0 .1,3.1 .1,1.1 .1-1.2 .1,.1 .1,8.4 .1-8.9 .1,4.8 .1-2.4 .1-.5 .1,4.7 .1-4.3 .1-3.6 .1,4.0 .1-2.5 .1,6.8 .1-3.1 .1-1.9 .1,1.6 .1,1.5 .1-5.3 .1,2.4 .1-1.0 .1,1.9 .1-1.3 .1,4.4 .1-6.5 .1,5.5 .1-4.0 .1-1.6 .1,2.7 .1,1.1 .1-2.4 .1-2.0 .1,1.5 .1,5.2 .1-1.9 .1-8.0 .1,4.1 .1,2.4 .1-.7 .1-.7 .1,1.9 .1-2.5 .1,1.4 .1-1.7 .1,6.2 .1-3.2 .1-2.4 .1-1.0 .1,1.8 .1,1.9 .1,.3 .1-1.3 .1,4.8 .1-5.8 .1,5.0 .1,1.6 .1-4.2 .1-4.3 .1,5.0 .1-5.1 .1,2.8 .1-1.4 .1,1.5 .1,3.8 .1-4.6 .1,7.0 .1-5.9 .1-3.0 .1,3.7 .1-7.4 .1,6.8 .1,5.8 .1-.9 .1-8.3 .1,.5 .1-.5 .1,2.9 .1-.5 .1,1.8 .1-5.0 .1,3.7 .1-2.3 .1-.7 .1,6.0 .1-4.4 .1,7.0 .1-8.7 .1,4.6 .1-.1 .1,3.6 .1,2.0 .1,0 .1-3.3 .1-.4 .1,.2 .1-.3 .1-5.5 .1-2.6 .1,2.7 .1-.6 .1,5.0 .1,.6 .1-3.1 .1-1.1 .1,4.0 .1,.9 .1-1.9 .1,1.5 .1-5.2 .1,.4 .1,6.1 .1-6.9 .1,7.2 .1,2.4 .1-6.0 .1,2.6 .1-2.0 .1-.3 .1-1.4 .1,3.6 .1-2.1 .1-.2 .1-5.9 .1,4.4 .1,.1 .1-.6 .1-1.9 .1,2.3 .1,5.3 .1-4.3 .1-4.4 .1,.1 .1,4.7 .1,1.3 .1-.9 .1,.9 .1-2.6 .1,3.0 .1-.9 .1-6.1 .1,8.8 .1-2.1 .1-5.5 .1,4.0 .1,.2 .1-3.1 .1,1.3 .1,4.2 .1-4.2 .1,1.4 .1-.8 .1-.9 .1,1.0 .1,2.1 .1-1.0 .1-2.7 .1,2.7 .1-1.3 .1-2.9 .1,5.0 .1,2.2 .1-3.4 .1,3.2 .1-.6 .1-2.9 .1,2.7 .1-3.8 .1,2.4 .1-4.2 .1,3.3 .1,.6 .1,2.4 .1-3.4 .1,0 .1,6.7 .1-6.6 .1,1.3 .1-.6 .1-5.1 .1,3.9 .1,3.1 .1,1.4 .1-3.8 .1,2.7 .1-5.9 .1,2.5 .1,2.3 .1-2.6 .1,.3 .1-1.4 .1,6.1 .1-3.5 .1,.2 .1,1.7 .1-4.4 .1,4.6 .1-6.5 .1,2.7 .1,3.8 .1-8.2 .1,1.2 .1,3.8 .1,3.2 .1,1.6 .1-2.2 .1-4.1 .1,1.4 .1,.6 .1,2.2 .1-1.5 .1-1.7 .1-1.1 .1,3.5 .1-.8 .1-2.6 .1,2.9 .1-1.7 .1,5.7 .1-7.5 .1,1.2 .1,1.6 .1-3.7 .1,.8 .1-.8 .1,1.5 .1,1.1 .1,7.0 .1-2.0 .1-7.8 .1,1.4 .1,5.8 .1-4.7 .1,2.5 .1-.8 .1,3.9 .1,.5 .1-1.6 .1-2.7 .1,.4 .1,0 .1-.5 .1-4.9 .1,3.0 .1-2.5 .1,4.3 .1,1.4 .1,.2 .1-4.5 .1,5.3 .1-6.2 .1,4.6 .1-1.2 .1-.1 .1,2.7 .1,.5 .1-4.8 .1,1.8 .1,.1 .1,1.7 .1-6.4 .1,1.0 .1,10.2 .1-4.3 .1-1.9 .1-.4 .1,.1 .1-2.8 .1,2.0 .1,.6 .1-1.2 .1-.3 .1,.1 .1,8.1 .1-4.1 .1-5.5 .1,2.0 .1,1.9 .1-2.3 .1,3.2 .1,4.0 .1-11.9 .1,9.3 .1-2.9 .1-3.8 .1,1.7 .1-4.4 .1,2.9 .1,8.1 .1-7.7 .1-2.7 .1,6.8 .1,2.8 .1,.4 .1-8.3 .1,2.0 .1,1.5 .1,2.1 .1-4.1 .1,4.4 .1,1.4 .1-3.6 .1,1.8 .1,2.8 .1-4.9 .1,3.9 .1-4.4 .1,1.4 .1-.2 .1-.7 .1,2.0 .1-.4 .1-.8 .1-.8 .1,2.5 .1-4.8 .1,.4 .1,2.5 .1,2.0 .1-4.3 .1,4.1 .1-2.9 .1,.6 .1,2.2 .1-1.5 .1-1.3 .1,2.8 .1-1.1 .1-2.5 .1-4.3 .1,10.1 .1-5.4 .1,1.8 .1,.7 .1-5.2 .1,6.4 .1,.6 .1-4.2 .1,1.6 .1,5.9 .1-9.1 .1,.1 .1,2.7 .1-.3 .1-2.1 .1,2.9 .1-1.7 .1,4.8 .1,0 .1,1.5 .1,.7 .1-5.9 .1-.6 .1,5.4 .1-1.3 .1-.3 .1-5.7 .1,6.2 .1-1.1 .1-4.0 .1,3.7 .1-2.8 .1,1.8 .1,.3 .1-2.5 .1,1.8 .1-1.8 .1,3.0 .1-1.4 .1,6.2 .1-7.6 .1,.7 .1-3.5 .1,.4 .1,2.5 .1,2.4 .1-6.1 .1,1.9 .1,6.5 .1,1.0 .1-4.9 .1,2.6 .1-5.3 .1,8.3 .1-4.8 .1,2.9 .1-3.1 .1-1.0 .1-3.8 .1,6.7 .1,4.3 .1-4.4 .1,.5 .1-2.0 .1,.3 .1,2.5 .1-5.0 .1,.1 .1,3.2 .1,0 .1-2.0 .1,1.9 .1,.3 .1-1.8 .1,.7 .1,.4 .1-1.2 .1,.2 .1,1.2 .1-5.3 .1,3.5 .1,1.2 .1,.4 .1,.8 .1-3.3 .1,4.0 .1-2.0 .1-.4 .1-2.7 .1,1.7 .1,.3 .1,3.6 .1-3.9 .1,2.3 .1-3.3 .1,5.9 .1-5.5 .1,.7 .1,3.0 .1-1.5 .1-6.4 .1,5.5 .1,3.9 .1-9.8 .1,6.9 .1-5.5 .1,2.0 .1-2.9 .1,7.9 .1,.2 .1-.6 .1,4.4 .1-7.5 .1,.9 .1,2.7 .1-6.4 .1,4.1 .1-3.9 .1,6.3 .1,0 .1-1.8 .1-3.3 .1-2.9 .1,3.2 .1,4.4 .1-5.3 .1,3.0 .1-1.3 .1,5.2 .1-6.7 .1,7.0 .1-6.9 .1,1.8 .1,3.2 .1-2.8 .1-3.3 .1,2.5 .1,1.4 .1-.6 .1,2.5 .1-.8 .1-1.0 .1,1.5 .1-4.4 .1,1.6 .1-4.0 .1,2.6 .1,1.0 .1-3.0 .1,4.7 .1,6.2 .1-1.6 .1-4.5 .1,2.1 .1-4.5 .1,4.0 .1-2.7 .1,2.3 .1-3.1 .1,4.5 .1,.2 .1,.9 .1-4.7 .1-.9 .1,4.8 .1-2.0 .1,1.4 .1,2.1 .1-6.8 .1,3.5 .1-1.6 .1,.1 .1,1.7 .1,.7 .1,2.3 .1-1.0 .1,2.2 .1-4.3 .1-6.3 .1,5.7 .1-3.7 .1,3.4 .1,.5 .1-.8 .1,5.3 .1-7.2 .1,0 .1,3.4 .1,0 .1,1.1 .1-2.3 .1,.7 .1,1.3 .1-1.3 .1,.3 .1-2.6 .1-4.5 .1,5.2 .1,2.5 .1-4.6 .1,1.0 .1,5.5 .1-1.6 .1-.8 .1-1.7 .1-1.0 .1,1.9 .1-5.2 .1,3.3 .1,6.3 .1-2.8 .1-4.8 .1,4.0 .1,.9 .1-3.5 .1,2.6 .1-4.9 .1,2.3 .1-.3 .1,5.4 .1-4.4 .1-.9 .1-.2 .1,1.7 .1,4.8 .1-3.0 .1-2.1 .1,.3 .1,3.4 .1-11.6 .1,1.9 .1,5.3 .1-1.3 .1,1.6 .1,1.6 .1-5.5 .1,7.2 .1-2.9 .1-3.5 .1,4.3 .1-1.6 .1,3.0 .1-6.8 .1,1.3 .1,9.8 .1-8.3 .1,3.0 .1,2.5 .1,1.3 .1-1.6 .1-5.0 .1,3.3 .1,.3 .1,2.0 .1-1.0 .1-4.6 .1-.8 .1,6.9 .1-7.5 .1,5.0 .1,.3 .1-5.3 .1,2.6 .1-1.8 .1,6.7 .1-6.7 .1,4.1 .1-2.1 .1,4.0 .1-1.9 .1,.6 .1-1.6 .1,3.7 .1-5.7 .1,4.2 .1-1.5 .1-.6 .1-.3 .1-5.6 .1,8.0 .1-1.1 .1,3.1 .1-3.5 .1-3.1 .1,4.3 .1-5.3 .1,.9 .1,3.0 .1-4.4 .1,7.2 .1-2.5 .1-2.2 .1-2.0 .1,6.5 .1-3.4 .1,6.1 .1-8.0 .1,1.4 .1-1.2 .1-1.3 .1,2.9 .1-.3 .1,6.5 .1-7.0 .1,2.4 .1-1.2 .1-3.5 .1,1.9 .1,6.4 .1-2.9 .1,.3 .1-5.1 .1,6.7 .1-4.2 .1-2.5 .1,.7 .1,1.7 .1,1.0 .1,.1 .1,2.8 .1-1.7 .1-5.6 .1,5.5 .1-8.3 .1,7.3 .1-1.0 .1-2.1 .1,5.5 .1-3.1 .1,.3 .1-2.7 .1,3.9 .1-3.5 .1-4.7 .1,5.6 .1,3.1 .1-3.5 .1,6.5 .1-5.9 .1,3.6 .1-1.1 .1,1.8 .1-4.8 .1,3.5 .1,1.2 .1-6.2 .1,.9 .1-2.9 .1,3.8 .1-1.6 .1,5.6 .1-7.6 .1,1.6 .1-2.0 .1,.9 .1,5.9 .1-3.6 .1,.3 .1,5.0 .1-5.8 .1,3.2 .1,.2 .1-.9 .1,5.9 .1-3.5 .1-1.0 .1,1.2 .1,.8 .1-2.5 .1-.8 .1-2.2 .1,3.5 .1-3.1 .1,6.3 .1-5.2 .1-.2 .1,.6 .1-4.4 .1,.5 .1,6.6 .1-1.4 .1,.4 .1-5.8 .1,5.0 .1-2.5 .1,4.0 .1-2.9 .1-.5 .1,.1 .1,2.3 .1,.7 .1-6.5 .1,3.1 .1-1.6 .1,.2 .1,4.2 .1-2.5 .1-5.3 .1,6.6 .1,1.1 .1,4.7 .1-6.4 .1,.4 .1,6.0 .1-3.9 .1-3.1 .1,3.5 .1-2.8 .1-.7 .1-2.2 .1,8.6 .1-3.7 .1-2.4 .1-2.9 .1,1.8 .1-4.6 .1,11.2 .1-7.8 .1,3.4 .1,.9 .1,.8 .1-2.4 .1-1.4 .1,4.9 .1,1.4 .1-7.2 .1,3.9 .1,.2 .1-3.0 .1,2.8 .1-.1 .1-3.5 .1,2.2 .1-.5 .1-.3 .1,2.4 .1,.4 .1,2.7 .1-10.3 .1,3.0 .1,1.6 .1,1.7 .1,2.1 .1-8.1 .1,5.6 .1-5.8 .1,9.3 .1-3.4 .1-1.7 .1-1.2 .1,.9 .1,1.5 .1-.1 .1-2.3 .1,1.5 .1,4.2 .1-.2 .1-4.4 .1-1.3 .1,.7 .1,6.4 .1-.3 .1-6.7 .1,2.3 .1,2.9 .1-2.7 .1-.2 .1-4.2 .1,5.0 .1,2.3 .1-3.6 .1-2.2 .1,4.4 .1,.7 .1-3.8 .1-2.6 .1,4.9 .1-3.7 .1,5.4 .1-1.0 .1-2.1 .1,1.2 .1-3.7 .1,2.1 .1-3.4 .1,7.6 .1-6.1 .1,.7 .1-1.3 .1,3.6 .1,3.6 .1-2.6 .1-1.3 .1,1.0 .1,4.1 .1-6.8 .1,1.0 .1,.3 .1,2.4 .1-2.8 .1,.8 .1,1.0 .1,1.7 .1,.9 .1-5.2 .1,.2 .1,.3 .1,2.5 .1-1.4 .1,1.7 .1,.7 .1-5.7 .1,5.0 .1-2.5 .1,2.2 .1-1.3 .1-.7 .1,2.4 .1,1.4 .1-4.2 .1,2.4 .1,2.1 .1-4.6 .1,3.5 .1-.3 .1-5.3 .1,.4 .1,1.6 .1,0 .1,5.2 .1-6.6 .1,6.5 .1-6.2 .1-1.3 .1-.1 .1,1.4 .1,2.0 .1,1.2 .1-3.9 .1,2.2 .1,3.8 .1-4.6 .1,7.2 .1-5.8 .1-2.1 .1,7.4 .1-7.6 .1,4.7 .1,1.1 .1,.4 .1-4.0 .1-3.3 .1,6.1 .1-2.2 .1-3.9 .1,4.6 .1-3.2 .1,3.2 .1-1.3 .1,2.8 .1-1.2 .1-3.4 .1,5.0 .1-.2 .1,3.8 .1-4.6 .1-1.1 .1,1.0 .1-1.9 .1,2.2 .1-2.2 .1,4.1 .1-4.2 .1-2.4 .1,1.4 .1,7.0 .1-2.2 .1-6.2 .1,3.0 .1-.4 .1,6.5 .1-5.4 .1-.4 .1,.6 .1-5.3 .1,4.0 .1-.6 .1,.1 .1-3.1 .1,5.6 .1,.1 .1-2.4 .1,2.2 .1,.8 .1-.3 .1-2.3 .1-5.1 .1,0 .1,5.3 .1-2.6 .1,3.9 .1-4.5 .1,3.4 .1,3.0 .1-3.3 .1-4.6 .1,2.3 .1,4.6 .1-2.6 .1-5.2 .1,6.7 .1-1.5 .1,3.5 .1-.9 .1,1.3 .1-3.2 .1-.7 .1-3.0 .1,.2 .1,4.4 .1-2.0 .1,.8 .1,1.2 .1-6.7 .1,4.6 .1,3.5 .1,.8 .1-1.0 .1,3.8 .1-7.0 .1,.3 .1-.4 .1,.5 .1-.5 .1-1.5 .1,.1 .1,2.3 .1-2.0 .1,1.8 .1,.9 .1-.9 .1,.3 .1,2.3 .1-6.5 .1,3.2 .1-.4 .1,6.1 .1-3.2 .1,.3 .1-1.5 .1,2.2 .1-1.4 .1-6.2 .1,8.1 .1-7.5 .1,2.7 .1,4.4 .1-5.3 .1,3.8 .1,0 .1-4.0 .1,5.6 .1-7.8 .1,5.2 .1-2.4 .1,1.5 .1,1.4 .1-1.9 .1,7.4 .1-2.8 .1,1.8 .1-2.6 .1-2.6 .1-.5 .1,2.9 .1-6.3 .1,1.1 .1-.8 .1,5.6 .1-4.4 .1,3.4 .1-1.1 .1-1.5 .1,1.2 .1,1.2 .1,1.3 .1-.4 .1-6.2 .1,3.8 .1,4.8 .1,1.4 .1-3.6 .1,1.2 .1-.6 .1-5.9 .1,.8 .1,2.3 .1-.9 .1,2.2 .1-2.4 .1-3.8 .1,2.4 .1-.6 .1,9.6 .1-3.4 .1-3.1 .1-1.5 .1,4.7 .1-3.8 .1-2.7 .1,.4 .1,2.7 .1-.5 .1-.5 .1-2.3 .1,2.3 .1,3.4 .1-1.4 .1,1.7 .1-5.2 .1,2.2 .1-.8 .1,2.2 .1,2.8 .1-4.8 .1,1.6 .1-4.7 .1,5.9 .1-1.6 .1,1.5 .1-.8 .1,1.6 .1-.4 .1-4.7 .1,3.2 .1,.5 .1,2.6 .1-6.1 .1,2.9 .1,.3 .1-.9 .1-2.1 .1-.6 .1,5.8 .1-3.9 .1-2.1 .1,1.9 .1-2.9 .1,2.4 .1,.7 .1-.1 .1-1.4 .1,2.7 .1-1.4 .1,.7 .1-.5 .1-.4 .1,2.5 .1,.3 .1-1.1 .1-3.2 .1,5.1 .1-7.1 .1,8.9 .1-2.8 .1,2.2 .1,.4 .1-9.7 .1,4.3 .1,4.2 .1,.9 .1-7.4 .1,2.2 .1,4.7 .1-4.1 .1,1.7 .1-.4 .1,2.6 .1-.8 .1,0 .1-.9 .1-1.4 .1,4.9 .1-6.1 .1-2.3 .1,.5 .1,7.0 .1-7.0 .1,5.8 .1-6.4 .1,4.7 .1-.4 .1-1.8 .1,1.8 .1,4.8 .1-2.4 .1,2.1 .1-2.1 .1,.9 .1-.9 .1-3.6 .1,2.6 .1,2.6 .1-3.6 .1,.4 .1,.4 .1,2.7 .1-7.2 .1,7.8 .1-6.7 .1,1.5 .1,2.7 .1-4.2 .1,5.0 .1-1.9 .1,1.1 .1-3.4 .1-.9 .1,2.6 .1-2.3 .1,2.3 .1,5.8 .1-4.1 .1-2.1 .1,.6 .1,2.7 .1-6.1 .1-3.4 .1,5.0 .1,1.4 .1,.4 .1-.9 .1-3.0 .1,3.4 .1,5.7 .1-6.6 .1,2.3 .1-4.5 .1,1.8 .1,.7 .1,2.5 .1-1.5 .1-1.0 .1,1.6 .1-2.7" fill="none" stroke="#000" stroke-width="1.0"/>
<path d="M587.5,360.4l.1,2.6 .1,.5 .1,8.4 .1,2.5 .1,1.1 .1,8.2 .1-4.4 .1-14.2 .1-16.1 .1,22.8 .1-2.7 .1-2.1 .1,19.9 .1-9.0 .1-10.9 .1,7.0 .1-4.4 .1-3.7 .1,.6 .1,24.0 .1-14.5 .1-3.0 .1,5.5 .1-9.0 .1,16.7 .1-.4 .1,3.0 .1-32.1 .1,30.2 .1-23.2 .1,8.1 .1,7.3 .1-4.9 .1,.7 .1-.9 .1-2.0 .1,9.0 .1,11.2 .1-12.3 .1-14.9 .1,24.0 .1,3.1 .1-20.1 .1,11.8 .1-5.1 .1,14.6 .1-15.2 .1-13.4 .1,12.8 .1-6.8 .1,12.0 .1-9.0 .1,7.1 .1-12.3 .1,21.1 .1-12.8 .1-1.4 .1-1.5 .1,14.2 .1,4.0 .1,4.4 .1-11.5 .1-12.9 .1,14.8 .1-13.5 .1,8.4 .1-15.1 .1,24.6 .1-.5 .1-14.1 .1,9.4 .1,5.5 .1-5.2 .1-9.0 .1,7.1 .1,14.7 .1-13.3 .1-1.5 .1,9.4 .1-15.0 .1,18.0 .1-8.9 .1-4.6 .1,8.7 .1-14.6 .1,6.0 .1,6.3 .1,11.2 .1-19.3 .1,6.3 .1,3.9 .1-11.2 .1,14.3 .1-13.5 .1,6.6 .1-4.4 .1,24.5 .1-32.9 .1,19.6 .1-5.0 .1,11.9 .1,.8 .1-28.8 .1,12.1 .1,7.6 .1-3.9 .1-5.1 .1,16.4 .1-5.3 .1-4.1 .1,2.2 .1,.6 .1-8.0 .1,20.0 .1-7.9 .1,4.0 .1-8.4 .1,5.3 .1-11.6 .1,.9 .1,6.1 .1-8.3 .1,16.7 .1,1.3 .1-18.5 .1,8.5 .1-.7 .1,5.2 .1-1.5 .1-11.1 .1,5.5 .1,17.5 .1-9.0 .1-5.2 .1-9.1 .1,27.0 .1-19.8 .1,6.4 .1,2.7 .1-6.0 .1,3.4 .1-20.2 .1,18.5 .1-14.7 .1,19.3 .1-18.0 .1,12.7 .1,13.5 .1-20.5 .1,19.5 .1-16.0 .1,1.0 .1-1.6 .1,1.0 .1,11.6 .1-4.8 .1-8.7 .1,7.1 .1-1.7 .1-3.8 .1,1.7 .1,6.8 .1,1.6 .1-.2 .1,1.8 .1-4.8 .1,3.4 .1,2.5 .1,8.7 .1-13.1 .1-3.2 .1-4.8 .1-.9 .1,11.7 .1-15.6 .1,9.8 .1-7.4 .1,16.7 .1-5.9 .1,2.2 .1-1.7 .1,1.9 .1-5.8 .1,11.3 .1-20.1 .1,9.4 .1-3.5 .1,13.0 .1,9.0 .1-17.9 .1-9.3 .1,11.6 .1-4.5 .1,14.2 .1-4.4 .1-.7 .1-.1 .1-10.0 .1,7.4 .1,6.6 .1,4.2 .1,4.1 .1-15.5 .1,3.4 .1,2.1 .1,.8 .1-16.9 .1,10.4 .1,4.4 .1-1.8 .1-6.8 .1,5.9 .1-3.0 .1,10.4 .1-10.8 .1,3.7 .1-4.5 .1,.1 .1,5.3 .1-8.0 .1,9.1 .1-.4 .1,7.4 .1-6.0 .1-2.9 .1,5.1 .1-7.7 .1,7.8 .1-12.1 .1,9.4 .1-1.3 .1,3.1 .1,.3 .1-6.7 .1,10.0 .1,8.9 .1-9.2 .1-6.6 .1,2.6 .1-7.8 .1,8.7 .1-2.8 .1,6.7 .1-14.0 .1,18.0 .1-12.0 .1-.6 .1,1.0 .1,.6 .1,3.7 .1-17.2 .1,14.5 .1,5.3 .1-1.2 .1,2.0 .1-8.9 .1,12.9 .1-14.6 .1,4.1 .1,1.7 .1-8.4 .1,.5 .1,19.7 .1-18.8 .1,6.9 .1,.2 .1-.9 .1-8.9 .1,9.0 .1,11.4 .1-4.4 .1,2.4 .1,.7 .1-12.2 .1,2.9 .1,8.1 .1-1.2 .1,1.5 .1-2.7 .1-17.6 .1,19.2 .1-.8 .1-13.8 .1,6.1 .1,15.8 .1-6.8 .1-1.8 .1-3.3 .1-6.3 .1,3.9 .1,4.3 .1-1.8 .1-9.6 .1,3.9 .1,6.9 .1,2.6 .1-2.7 .1-6.6 .1,14.4 .1-8.7 .1-4.0 .1-4.1 .1,11.8 .1-1.9 .1-13.0 .1,1.2 .1,5.1 .1,15.4 .1,4.2 .1-10.1 .1-9.2 .1,10.0 .1,7.6 .1-11.9 .1,2.4 .1,6.5 .1-8.6 .1,.4 .1-5.9 .1,11.0 .1,1.5 .1,1.6 .1-3.7 .1-12.5 .1,24.7 .1-21.1 .1,3.0 .1,8.5 .1-6.7 .1-1.2 .1,2.6 .1,3.3 .1-5.7 .1,5.0 .1-10.6 .1,21.4 .1-10.5 .1-3.3 .1,3.5 .1,10.4 .1-21.8 .1,13.8 .1-6.7 .1,3.4 .1,10.5 .1-5.5 .1-9.5 .1,7.8 .1-.6 .1-3.0 .1,15.4 .1-15.9 .1-3.6 .1,7.6 .1-7.9 .1,6.6 .1-5.4 .1,.4 .1,7.3 .1,11.7 .1-8.3 .1-9.1 .1,10.2 .1-6.5 .1,6.3 .1-8.9 .1,4.7 .1,2.9 .1-7.0 .1,.7 .1-1.7 .1,4.8 .1-7.5 .1,14.2 .1,.6 .1-9.8 .1-2.8 .1,5.7 .1-6.9 .1,6.3 .1,.8 .1-3.6 .1,1.1 .1,9.3 .1-8.1 .1,12.9 .1-8.2 .1-7.6 .1,6.4 .1,11.8 .1-12.3 .1,3.3 .1,4.6 .1-12.0 .1,5.2 .1-5.3 .1,1.5 .1,2.0 .1-4.6 .1,4.1 .1,5.5 .1-1.7 .1-9.1 .1,6.8 .1,7.7 .1-5.0 .1-3.6 .1,.6 .1-.6 .1-4.3 .1,8.0 .1-5.5 .1,2.5 .1-2.0 .1,7.0 .1-9.1 .1,9.4 .1-4.8 .1-3.5 .1-3.7 .1,14.1 .1-8.9 .1-1.3 .1,6.1 .1,.3 .1,1.2 .1-9.6 .1,10.6 .1-.4 .1,2.6 .1-12.7 .1,12.0 .1,.1 .1-2.9 .1,2.5 .1-8.5 .1,5.5 .1-3.4 .1,6.0 .1-.1 .1-6.1 .1-.1 .1,4.0 .1-.2 .1,7.4 .1,2.0 .1-2.6 .1-10.1 .1-.8 .1,9.7 .1-3.5 .1-4.3 .1,5.9 .1-6.9 .1,.2 .1,16.1 .1-17.8 .1,7.7 .1-8.4 .1,8.9 .1-1.7 .1-1.9 .1,.3 .1-6.2 .1,2.5 .1,12.8 .1-11.6 .1,5.6 .1-3.9 .1,7.6 .1-6.6 .1-.1 .1,11.5 .1-21.4 .1,10.7 .1,5.4 .1,.4 .1,7.1 .1-17.2 .1,6.8 .1-1.8 .1-1.2 .1,7.9 .1,.9 .1-2.9 .1-6.5 .1,7.0 .1-4.9 .1,4.2 .1-.1 .1,3.5 .1-7.8 .1-4.3 .1,8.2 .1,3.0 .1,1.4 .1-6.0 .1-5.9 .1-2.0 .1,8.9 .1,1.2 .1-4.2 .1-1.2 .1,7.8 .1-10.4 .1,11.7 .1,5.2 .1-7.8 .1-7.9 .1,11.1 .1-8.2 .1,.9 .1,3.2 .1-2.8 .1,.2 .1-10.9 .1,12.1 .1,6.1 .1-7.8 .1-1.8 .1-4.5 .1,8.7 .1-1.8 .1,.9 .1,.8 .1,.4 .1-2.7 .1,2.1 .1,1.8 .1-7.9 .1,14.2 .1-12.1 .1,6.6 .1-.8 .1-4.1 .1,3.6 .1,5.7 .1,1.4 .1-5.9 .1,.8 .1-8.4 .1,8.9 .1-10.1 .1,13.7 .1-7.1 .1,0 .1,7.5 .1-2.9 .1-7.7 .1,6.4 .1,4.7 .1-3.4 .1-.6 .1,4.6 .1-15.5 .1,13.0 .1-3.5 .1-5.4 .1,3.5 .1-6.2 .1,8.0 .1,2.2 .1-8.2 .1,11.5 .1-7.9 .1,3.9 .1-4.6 .1,8.0 .1-2.8 .1-1.2 .1,.8 .1-11.1 .1,11.5 .1,6.8 .1-7.7 .1,8.9 .1-10.0 .1-1.3 .1-1.1 .1-.6 .1,2.5 .1-1.1 .1,1.9 .1-3.3 .1,5.0 .1,1.2 .1,1.2 .1-4.1 .1,2.5 .1-2.4 .1,1.9 .1,1.0 .1,3.5 .1,6.6 .1-14.0 .1,7.1 .1-5.7 .1,4.3 .1-1.7 .1,6.0 .1-1.1 .1,4.8 .1-8.0 .1-6.5 .1,6.8 .1-.3 .1-.5 .1-3.2 .1,7.0 .1-10.7 .1,12.1 .1,3.6 .1-19.0 .1,9.7 .1,9.3 .1-5.9 .1-7.9 .1-3.0 .1,8.8 .1,2.9 .1-10.4 .1,12.6 .1-15.1 .1,14.3 .1-5.7 .1,9.9 .1-9.2 .1,5.7 .1-9.1 .1,2.9 .1,1.0 .1-.9 .1,6.6 .1-14.7 .1,.2 .1,11.1 .1,3.0 .1-5.0 .1-5.2 .1,7.0 .1,1.9 .1-.7 .1-2.1 .1,7.2 .1-1.0 .1-6.0 .1-.4 .1-1.8 .1,8.2 .1-8.0 .1,5.2 .1,5.9 .1-11.3 .1,1.5 .1-8.7 .1,19.3 .1-11.7 .1,1.1 .1,1.6 .1-.6 .1-5.1 .1,13.1 .1-6.4 .1-1.9 .1,4.6 .1-6.1 .1-.8 .1,5.1 .1-5.7 .1,11.3 .1-8.6 .1-6.5 .1,5.8 .1-1.9 .1,3.3 .1,11.2 .1-18.3 .1,7.8 .1-1.6 .1,7.5 .1-15.3 .1,9.9 .1-1.6 .1-7.7 .1,9.1 .1-4.0 .1,3.7 .1,3.0 .1,6.8 .1-7.9 .1-6.1 .1,8.0 .1-6.1 .1-1.3 .1,3.0 .1,4.0 .1,.7 .1-10.2 .1,9.6 .1-3.6 .1,5.8 .1-11.4 .1,6.6 .1,3.8 .1-2.6 .1,3.4 .1-9.6 .1,9.6 .1,.8 .1-5.7 .1,.6 .1,.9 .1-3.6 .1,2.5 .1-3.0 .1,3.2 .1,6.4 .1-4.2 .1-2.9 .1,2.9 .1-5.3 .1,2.3 .1-4.8 .1,3.6 .1,6.9 .1,3.8 .1-8.4 .1,1.6 .1,1.1 .1-.3 .1-5.6 .1,7.4 .1-.6 .1-5.2 .1,1.9 .1-3.9 .1,8.5 .1-5.2 .1,5.3 .1-7.4 .1,8.1 .1-5.6 .1,7.9 .1-8.6 .1,3.9 .1,4.2 .1-4.3 .1-7.8 .1,1.6 .1,9.0 .1-12.8 .1,18.1 .1-14.4 .1,11.1 .1-15.1 .1,18.4 .1-3.2 .1-7.2 .1,8.7 .1-11.4 .1,4.7 .1,3.9 .1-11.9 .1,10.4 .1-2.5 .1,2.0 .1-.6 .1-4.7 .1-6.7 .1,8.6 .1-1.0 .1,4.3 .1-12.0 .1,8.5 .1-1.7 .1,3.5 .1-.1 .1-1.2 .1,2.7 .1-2.9 .1-1.2 .1-4.0 .1,7.4 .1-2.2 .1,6.4 .1-.8 .1-9.6 .1,4.9 .1-3.1 .1,6.3 .1-2.4 .1,1.6 .1,5.5 .1-12.4 .1,13.8 .1-5.1 .1-5.1 .1-1.6 .1-5.9 .1,9.5 .1,7.0 .1-3.8 .1-2.4 .1-.3 .1-1.1 .1,.7 .1,6.1 .1-8.1 .1,9.2 .1-13.5 .1,11.1 .1-9.4 .1,9.1 .1-1.1 .1-2.5 .1-3.1 .1-2.2 .1-4.3 .1,13.6 .1-11.2 .1,7.8 .1-6.9 .1,6.7 .1-7.2 .1,10.4 .1-8.5 .1,6.1 .1-5.8 .1,1.4 .1,2.3 .1,5.7 .1-6.0 .1,4.6 .1-2.8 .1,8.0 .1-6.4 .1-6.9 .1,6.8 .1-3.8 .1,.5 .1,1.5 .1,1.4 .1-3.1 .1,3.4 .1-6.5 .1,4.8 .1,.8 .1-5.3 .1,1.0 .1,6.9 .1-11.2 .1,4.2 .1,3.4 .1,.4 .1,3.0 .1,2.0 .1-2.4 .1-.5 .1-11.8 .1,12.9 .1-2.8 .1,2.0 .1-3.9 .1,8.5 .1-4.8 .1,3.8 .1-7.2 .1,7.4 .1-5.0 .1-2.7 .1,1.1 .1,4.4 .1-7.5 .1,5.0 .1-8.4 .1,3.2 .1,6.2 .1,.6 .1-5.9 .1,.9 .1,0 .1,10.2 .1-9.8 .1,7.5 .1-1.0 .1-3.8 .1,.2 .1-5.6 .1,13.5 .1-4.3 .1-2.8 .1-2.2 .1-4.8 .1-3.8 .1,8.4 .1-4.3 .1,8.3 .1-2.6 .1-6.6 .1,.4 .1,5.5 .1,.2 .1,3.5 .1-1.0 .1-6.7 .1-1.2 .1,1.4 .1,5.7 .1-6.5 .1,5.9 .1-2.9 .1,2.3 .1-6.6 .1,6.8 .1-3.4 .1,6.1 .1-2.3 .1,3.7 .1-11.7 .1,9.0 .1-.7 .1-4.7 .1,7.3 .1-5.5 .1-2.7 .1,4.9 .1,3.4 .1-4.7 .1-.4 .1,1.5 .1,3.8 .1-5.2 .1,.4 .1,5.3 .1-4.1 .1-2.9 .1-1.8 .1-2.9 .1,16.0 .1-4.0 .1-8.3 .1,2.3 .1,1.7 .1,3.1 .1-4.6 .1,3.6 .1-1.4 .1,3.1 .1-4.8 .1-6.5 .1,6.9 .1,2.0 .1-4.7 .1,3.9 .1,1.4 .1-10.2 .1,10.2 .1,2.7 .1,3.8 .1,.2 .1-14.6 .1,2.1 .1,5.9 .1,.1 .1-5.6 .1,3.8 .1-5.8 .1,9.8 .1-7.5 .1,1.7 .1,2.0 .1,.4 .1-2.6 .1,8.5 .1-3.8 .1-1.5 .1,.8 .1-.4 .1-7.0 .1,1.6 .1,10.1 .1-9.8 .1,2.2 .1,3.2 .1-3.0 .1,1.2 .1,5.4 .1-5.4 .1-4.9 .1,4.2 .1,7.3 .1,1.4 .1-2.7 .1-.6 .1-1.9 .1-1.9 .1-6.5 .1,6.6 .1-1.1 .1,1.2 .1-1.4 .1,1.0 .1,1.0 .1,6.7 .1-11.1 .1,2.9 .1,6.0 .1-11.4 .1,6.7 .1-1.4 .1,1.4 .1,.1 .1,1.3 .1-4.8 .1-3.3 .1,6.5 .1-.8 .1,5.4 .1-3.1 .1-.3 .1-7.9 .1-3.7 .1,15.0 .1-4.8 .1-2.2 .1-8.0 .1,9.7 .1-3.6 .1-6.0 .1,11.2 .1-3.5 .1,3.4 .1,1.7 .1,1.7 .1,1.9 .1-10.6 .1,4.2 .1-2.5 .1,1.4 .1-1.1 .1,.9 .1-2.8 .1,6.9 .1-7.7 .1-3.3 .1,5.6 .1,3.9 .1-1.6 .1-5.7 .1,0 .1,5.2 .1,5.2 .1-5.8 .1,.1 .1,2.2 .1-5.2 .1-4.4 .1,12.6 .1-8.3 .1,6.0 .1,1.5 .1-4.0 .1-1.3 .1,2.1 .1-3.1 .1,4.3 .1,.5 .1-4.7 .1,5.8 .1-1.3 .1-6.4 .1,8.5 .1-1.6 .1,2.6 .1-6.6 .1-5.3 .1,7.8 .1-8.7 .1,9.7 .1-4.0 .1-.4 .1,2.3 .1-2.7 .1-3.3 .1,3.9 .1-1.9 .1,6.5 .1-3.7 .1-2.9 .1,4.7 .1,.6 .1,2.2 .1,1.5 .1-9.8 .1,7.3 .1,0 .1,.2 .1-4.7 .1,2.7 .1,4.8 .1-4.6 .1,4.9 .1-6.7 .1,1.4 .1-2.1 .1,7.2 .1,2.2 .1-8.2 .1,2.3 .1-2.2 .1,6.3 .1-9.7 .1,6.4 .1,1.1 .1-3.3 .1-2.4 .1,1.4 .1,2.5 .1,.1 .1-3.8 .1,3.5 .1-5.1 .1,.9 .1,.7 .1,.1 .1-1.4 .1,6.3 .1-2.0 .1,.4 .1-5.4 .1,3.1 .1-1.7 .1,5.9 .1-1.6 .1,1.9 .1-2.1 .1-.1 .1-6.5 .1,3.1 .1-2.8 .1,3.3 .1,2.2 .1-6.8 .1,4.4 .1,3.7 .1-4.8 .1,2.2 .1-.3 .1,.1 .1,5.5 .1-4.4 .1,2.4 .1-4.5 .1,.7 .1,.1 .1,2.9 .1,2.4 .1-3.2 .1-1.2 .1,3.9 .1-.1 .1-2.6 .1,1.1 .1-11.1 .1,6.5 .1,.9 .1-1.1 .1,1.8 .1-1.2 .1-3.3 .1,9.9 .1-9.1 .1,4.6 .1,1.2 .1-.6 .1-2.7 .1,6.7 .1-8.3 .1,2.8 .1-1.7 .1,4.9 .1-10.2 .1,7.3 .1-1.5 .1-2.4 .1,4.4 .1,1.3 .1-7.8 .1,5.6 .1,.5 .1,2.4 .1-13.2 .1,12.5 .1-12.6 .1,6.3 .1,8.7 .1-.2 .1-3.4 .1-3.7 .1,2.1 .1,.3 .1-3.3 .1,3.4 .1,2.4 .1-6.4 .1,3.5 .1-1.2 .1-2.2 .1,6.5 .1-8.5 .1,7.7 .1-6.2 .1-4.7 .1,8.5 .1,2.3 .1-2.6 .1,.6 .1,.3 .1-.2 .1-7.2 .1,1.4 .1-.3 .1,3.3 .1,4.9 .1-2.7 .1,1.3 .1-3.5 .1,8.2 .1-9.1 .1,4.9 .1-4.0 .1-5.1 .1,.7 .1,7.2 .1-4.3 .1,3.5 .1,0 .1-5.9 .1-1.3 .1,.7 .1,2.8 .1,7.5 .1-7.9 .1-1.2 .1,2.3 .1-2.7 .1,10.2 .1-11.0 .1,6.7 .1-2.8 .1-3.9 .1,9.4 .1-4.7 .1,6.9 .1-7.6 .1,3.9 .1-4.0 .1,4.4 .1,.9 .1-9.6 .1,1.9 .1,7.0 .1-2.6 .1,1.5 .1-1.7 .1-2.5 .1-2.9 .1,.8 .1,5.7 .1-4.6 .1-5.5 .1,6.3 .1-.5 .1-4.0 .1,6.7 .1,1.5 .1-5.6 .1,4.5 .1-.9 .1,2.0 .1,1.0 .1-5.9 .1,.4 .1,2.9 .1,3.3 .1-1.2 .1,2.2 .1-4.2 .1-3.1 .1,12.9 .1-9.8 .1-3.0 .1,4.4 .1-1.4 .1,2.3 .1-2.4 .1-11.0 .1,11.2 .1,2.4 .1-7.6 .1,5.1 .1-1.0 .1-2.8 .1,4.1 .1-5.8 .1-1.6 .1,5.5 .1-6.9 .1,4.4 .1,.5 .1,1.8 .1-8.9 .1,4.6 .1,1.6 .1-5.1 .1,7.3 .1,1.3 .1-1.9 .1-.1 .1-.7 .1,.5 .1-2.6 .1,1.1 .1-2.3 .1,10.3 .1-.5 .1-2.9 .1-4.8 .1-3.3 .1-2.8 .1,6.8 .1,3.2 .1-4.1 .1,8.0 .1-.6 .1-2.7 .1-1.8 .1-9.3 .1,2.4 .1,6.1 .1-3.0 .1,4.8 .1-2.9 .1-.9 .1,2.9 .1,3.1 .1-6.0 .1,5.8 .1-13.9 .1,14.4 .1-2.7 .1-2.8 .1,9.4 .1-10.9 .1,4.8 .1-3.0 .1,.6 .1,1.1 .1-4.1 .1,2.8 .1-5.1 .1,2.2 .1-4.2 .1,13.9 .1-12.3 .1,3.5 .1,.5 .1,9.6 .1-10.5 .1,2.4 .1,2.0 .1-.1 .1-4.7 .1,2.0 .1,7.1 .1-6.4 .1,.8 .1-5.5 .1,12.4 .1-6.7 .1,1.6 .1-4.5 .1-.5 .1,2.6 .1-5.8 .1-4.4 .1-.3 .1,11.0 .1-3.5 .1,4.0 .1-1.7 .1,.2 .1-.8 .1,3.2 .1,1.9 .1-4.3 .1,5.6 .1-10.7 .1,4.8 .1-.9 .1,5.3 .1-7.6 .1,2.9 .1,3.5 .1-5.8 .1-.9 .1,4.0 .1-3.5 .1-.4 .1,.4 .1-.9 .1,.4 .1,9.9 .1-8.9 .1,7.1 .1-8.3 .1,3.3 .1,2.0 .1-7.4 .1,8.9 .1-13.3 .1,15.8 .1-7.3 .1,3.7 .1-.4 .1-4.4 .1,6.7 .1-3.8 .1,4.4 .1,.2 .1-1.6 .1-8.2 .1,12.4 .1-13.8 .1,4.1 .1,9.0 .1-12.7 .1-.8 .1,5.3 .1,4.1 .1-7.5 .1,.3 .1,4.0 .1,4.4 .1,.6 .1-.5 .1-8.0 .1,10.1 .1-12.0 .1,7.9 .1-5.1 .1,4.6 .1-4.5 .1,4.9 .1-5.4 .1,6.5 .1,2.5 .1-3.1 .1-3.3 .1,.9 .1-2.0 .1,2.8 .1,3.6 .1-7.9 .1-2.4 .1,16.4 .1-8.6 .1-3.9 .1,1.4 .1,2.2 .1-1.1 .1-4.2 .1,3.7 .1,0 .1,5.0 .1-8.8 .1,9.3 .1-6.1 .1-1.7 .1,4.0 .1-9.9 .1,13.1 .1,2.5 .1-9.5 .1-1.6 .1,2.0 .1,5.9 .1-3.6 .1,.2 .1,10.3 .1-10.0 .1-4.8 .1,5.4 .1-2.2 .1,1.3 .1-8.2 .1,14.1 .1-4.5 .1,2.8 .1-5.2 .1,.5 .1,11.0 .1-11.7 .1,3.0 .1,.9 .1-4.2 .1,1.5 .1,8.0 .1-3.3 .1-7.3 .1,6.5 .1-.4 .1-11.5 .1,8.8 .1,2.0 .1,0 .1-.7 .1,4.8 .1-6.5 .1,7.5 .1,.4 .1-6.3 .1,7.2 .1-3.4 .1,1.2 .1-5.0 .1,.3 .1-3.8 .1,1.8 .1,4.9 .1-2.9 .1-3.0 .1,1.5 .1-3.2 .1,4.3 .1,2.2 .1-6.6 .1,.2 .1,.6 .1,1.6 .1-4.0 .1,1.4 .1,4.0 .1,3.9 .1-.7 .1-1.4 .1,2.3 .1-2.6 .1-.9 .1,6.5 .1-7.1 .1,1.6 .1-5.0 .1,2.0 .1-.6 .1,3.6 .1-3.6 .1,6.5 .1-7.9 .1,7.7 .1-4.8 .1-.9 .1,1.8 .1-1.4 .1-3.0 .1,13.1 .1-6.8 .1-.7 .1-9.0 .1,11.7 .1,1.8 .1-6.3 .1-2.5 .1,12.1 .1-13.9 .1,9.2 .1-8.5 .1,4.5 .1,5.0 .1-8.3 .1,1.3 .1-1.5 .1,7.8 .1-3.3 .1,3.2 .1-5.0 .1,4.2 .1-.4 .1-5.5 .1,10.4 .1-15.3 .1,10.7 .1,2.8 .1-6.2 .1,1.5 .1,.7 .1-9.3 .1,7.9 .1,.4 .1,1.8 .1-.2 .1-9.4 .1,7.8 .1,.3 .1,.4 .1,4.9 .1-13.5 .1,4.8 .1,4.2 .1,.3 .1,3.0 .1-1.1 .1-1.6 .1-2.0 .1,2.4 .1-2.3 .1,3.8 .1-3.4 .1-.8 .1,2.0 .1,3.7 .1-3.8 .1-2.2 .1-.5 .1,2.4 .1,2.5 .1-1.2 .1,5.3 .1,1.0 .1,1.5 .1-4.3 .1-4.5 .1-1.7 .1,1.3 .1-2.5 .1-5.2 .1,16.9 .1-2.8 .1-1.6 .1-7.2 .1-.3 .1,11.1 .1-10.4 .1,1.2 .1,4.5 .1-6.0 .1,.5 .1-2.7 .1,7.6 .1,5.1 .1-5.0 .1,2.6 .1-2.8 .1-5.5 .1,4.7 .1,2.8 .1-2.2 .1,3.2 .1-4.0 .1-7.6 .1,9.2 .1-1.6 .1,2.6 .1-5.8 .1,10.0 .1-2.2 .1-1.1 .1-6.9 .1-.4 .1,6.0 .1,1.8 .1-.7 .1,.6 .1-5.0 .1,2.4 .1-6.6 .1,1.9 .1,1.8 .1,0 .1,6.1 .1-2.6 .1,.2 .1-5.7 .1-3.1 .1,9.0 .1-5.0 .1,9.0 .1-6.2 .1,1.6 .1-7.1 .1,5.8 .1-.8 .1,2.3 .1-.2 .1-3.1 .1,1.9 .1-4.7 .1,9.0 .1,.6 .1-7.4 .1,3.9 .1,2.4 .1-2.3 .1,.7 .1-5.6 .1,4.2 .1-2.8 .1-1.1 .1,5.8 .1-.4 .1,5.4 .1-4.0 .1-4.8 .1,4.4 .1,2.3 .1-9.0 .1,4.4 .1,2.4 .1-.1 .1-3.7 .1,1.6 .1-1.1 .1,7.5 .1-3.6 .1-.9 .1-3.6 .1,6.6 .1-1.3 .1-11.8 .1,7.6 .1,5.6 .1-.5 .1-7.9 .1-2.9 .1,5.3 .1,2.1 .1-7.0 .1,3.5 .1,3.3 .1,.1 .1-3.9 .1,4.6 .1,5.8 .1-11.1 .1,2.4 .1-6.5 .1,7.3 .1,3.9 .1-2.7 .1-7.4 .1,10.7 .1-2.7 .1,1.1 .1-1.3 .1-3.5 .1,5.7 .1,.3 .1-5.0 .1,1.9 .1,1.8 .1-4.3 .1,4.2 .1-.5 .1-2.8 .1-2.4 .1,10.0 .1-10.8 .1,5.3 .1,3.1 .1,2.1 .1-.8 .1-9.1 .1,10.2 .1-3.2 .1-7.4 .1,3.4 .1-1.2 .1,4.3 .1-2.1 .1-4.1 .1,11.7 .1-5.5 .1,2.0 .1-11.3 .1,10.2 .1,4.6 .1-10.0 .1,3.7 .1-8.3 .1,10.9 .1,5.6 .1-1.8 .1-12.5 .1,9.5 .1-4.8 .1,8.6 .1-1.7 .1-5.2 .1-2.6 .1-1.5 .1,7.4 .1-7.5 .1-3.1 .1,6.3 .1-4.8 .1,4.3 .1,9.7 .1-7.2 .1,4.9 .1-.1 .1-10.0 .1,12.3 .1-8.6 .1-1.6 .1,6.9 .1-3.2 .1,2.3 .1-4.4 .1,5.6 .1-7.1 .1,2.8 .1-2.8 .1,5.3 .1-1.7 .1,2.4 .1-2.7 .1,2.0 .1-2.7 .1,5.0 .1-2.3 .1,1.6 .1,2.9 .1-2.5 .1-1.6 .1-6.9 .1,9.3 .1-7.0 .1-.4 .1,1.8 .1-2.5 .1,6.4 .1,2.4 .1-4.0 .1-5.2 .1,3.8 .1-7.7 .1,6.6 .1-.5 .1-3.0 .1,4.8 .1-2.9 .1,2.9 .1-2.6 .1,1.4 .1-5.9 .1,10.5 .1-1.8 .1,.5 .1-1.0 .1,3.7 .1-4.6 .1,5.0 .1-6.5 .1-5.5 .1,6.0 .1,1.5 .1-1.7 .1,.5 .1-7.1 .1,10.8 .1-3.8 .1,4.5 .1-7.7 .1,6.2 .1,0 .1,2.3 .1-6.4 .1,4.9 .1-4.3 .1-4.1 .1,10.4 .1-5.3 .1,4.4 .1-1.0 .1-3.6 .1,3.6 .1-8.1 .1,1.6 .1-1.5 .1-1.9 .1,8.2 .1,2.8 .1,1.1 .1-3.1 .1-1.4 .1-.4 .1-.6 .1-3.2 .1,.8 .1-2.2 .1,4.4 .1,1.3 .1-.8 .1-3.0 .1,.5 .1,8.3 .1-6.1 .1-1.7 .1-4.2 .1,14.3 .1-9.2 .1-3.4 .1-2.1 .1,11.4 .1-3.7 .1-2.2 .1,.6 .1-.5 .1,.4 .1,2.3 .1,0 .1,2.4 .1,1.0 .1-1.6 .1-4.1 .1,1.2 .1-1.9 .1-4.8 .1,0 .1,2.6 .1,7.9 .1-6.9 .1,.9 .1,.1 .1-.9 .1,3.0 .1,4.6 .1-8.4 .1,5.6 .1-2.3 .1,3.9 .1-3.8 .1,2.6 .1-1.8 .1,4.6 .1-10.2 .1,4.4 .1-5.9 .1,10.1 .1,3.8 .1-3.6 .1-1.6 .1-1.0 .1,.3 .1-2.8 .1,1.5 .1,2.8 .1,.5 .1-2.6 .1-7.1 .1,7.0 .1,5.7 .1-1.7 .1-7.1 .1-1.1 .1,2.6 .1-.4 .1,1.7 .1,.1 .1-5.8 .1,8.2 .1-5.9 .1,3.5 .1,1.0 .1-.8 .1-.4 .1,1.8 .1,.7 .1-.6 .1,2.3 .1-4.5 .1,2.4 .1,.2 .1,.8 .1,3.1 .1-4.0 .1,.8 .1-2.6 .1-4.5 .1,5.1 .1-3.4 .1,1.4 .1,3.5 .1,6.5 .1-8.1 .1-4.4 .1,1.6 .1,4.7 .1-3.7 .1,3.6 .1-4.7 .1,.3 .1,.5 .1,2.3 .1,2.8 .1-4.0 .1-.7 .1,4.6 .1-8.7 .1,7.7 .1,1.2 .1-2.1 .1-.9 .1,1.6 .1-2.1 .1,.6 .1-.5 .1,4.8 .1-3.3 .1-1.1 .1,2.7 .1-5.0 .1,2.1 .1-5.9 .1,12.3 .1-4.4 .1-1.9 .1,7.7 .1,.9 .1,1.4 .1-5.3 .1,3.4 .1-7.5 .1,1.4 .1,2.6 .1,.4 .1-5.7 .1,5.7 .1-5.5 .1-1.4 .1-.3 .1,2.7 .1-2.0 .1,3.5 .1,.5 .1,0 .1-4.2 .1,6.1 .1-4.7 .1,5.0 .1-5.9 .1,1.2 .1,2.4 .1,4.7 .1-7.0 .1,5.4 .1-3.1 .1-2.1 .1,3.0 .1,.2 .1,2.3 .1-10.7 .1,14.0 .1-4.4 .1-.4 .1,.3 .1-7.1 .1,7.8 .1-3.9 .1,1.0 .1,.8 .1-3.0 .1,2.4 .1-1.2 .1,2.5 .1,.9 .1-3.5 .1-.2 .1,1.4 .1,.3 .1-5.8 .1,1.7 .1,10.4 .1-9.0 .1,3.4 .1,2.1 .1,.1 .1-4.9 .1-1.1 .1,8.7 .1-6.1 .1,.6 .1-3.1 .1,2.5 .1-3.4 .1,5.3 .1-6.5 .1,3.7 .1,3.1 .1,0 .1-8.3 .1,7.6 .1,3.7 .1-7.2 .1,.6 .1,7.7 .1-6.9 .1-6.9 .1,8.5 .1,5.2 .1-.4 .1-10.7 .1,3.4 .1-.9 .1,2.5 .1-3.5 .1,.6 .1,.3 .1-.8 .1,2.9 .1-4.0 .1,2.7 .1-1.9 .1,3.3 .1,5.3 .1-9.6 .1,.6 .1,4.6 .1-4.0 .1-5.8 .1,7.1 .1-3.8 .1,5.4 .1-1.8 .1-2.2 .1-4.7 .1,9.4 .1,.7 .1-3.5 .1,.7 .1,.2 .1,2.3 .1-.6 .1-.7 .1-.6 .1-1.0 .1-1.5 .1,5.0 .1-2.2 .1,3.8 .1-5.3 .1-1.0 .1,3.0 .1-3.3 .1-2.6 .1,5.1 .1-6.0 .1,.6 .1,3.8 .1-5.3 .1,3.3 .1,3.7 .1-6.0 .1,2.9 .1-.6 .1-.6 .1,1.7 .1-2.2 .1,1.5 .1,.1 .1-3.0 .1-1.7 .1,8.5 .1,4.5 .1-11.6 .1-.1 .1,7.5 .1-3.8 .1,3.2 .1-3.8 .1,3.8 .1,.4 .1,2.8 .1-8.2 .1-.3 .1,6.3 .1-2.7 .1-3.4 .1-.6 .1,5.4 .1,2.2 .1-4.6 .1,3.8 .1-8.0 .1,7.3 .1-3.9 .1,5.2 .1-7.8 .1,.2 .1,4.9 .1,2.6 .1-7.2 .1,4.3 .1,3.0 .1-.2 .1-1.3 .1-5.1 .1,.2 .1,3.3 .1-1.9 .1,1.7 .1-1.0 .1,.8 .1,.6 .1-6.3 .1,5.0 .1-2.7 .1-1.3 .1,4.6 .1,2.0 .1-2.0 .1-2.1 .1-2.1 .1-3.9 .1,3.7 .1,2.7 .1-1.8 .1,5.0 .1-1.4 .1-2.7 .1-.4 .1,6.3 .1-9.4 .1,8.0 .1-9.4 .1,11.3 .1-3.2 .1,3.4 .1-5.0 .1,0 .1,3.5 .1,.7 .1-5.4 .1,3.8 .1-6.4 .1,3.4 .1-3.1 .1,2.2 .1,4.5 .1-5.9 .1,8.9 .1-12.0 .1,11.4 .1,.1 .1-7.0 .1,2.8 .1,.7 .1,2.0 .1-5.4 .1,3.4 .1-.5 .1-3.8 .1,.3 .1,2.9 .1-3.5 .1,3.5 .1,1.3 .1,1.8 .1-.2 .1-.7 .1,5.1 .1-4.5 .1-1.9 .1,1.6 .1-2.8 .1,2.2 .1,2.8 .1-3.4 .1,3.4 .1-12.5 .1,10.1 .1-3.0 .1,2.6 .1,3.1 .1-5.8 .1,5.2 .1-4.7 .1-.3 .1-5.0 .1,2.8 .1,6.9 .1,3.2 .1-6.8 .1,1.1 .1,2.4 .1,.7 .1-5.5 .1,2.6 .1,3.4 .1-9.7 .1,4.0 .1-2.2 .1,1.3 .1,2.3 .1,1.0 .1-1.1 .1-2.8 .1,8.4 .1-7.4 .1-1.5 .1-3.5 .1,7.3 .1-.3 .1-5.9 .1,3.9 .1,6.9 .1,1.4 .1-3.0 .1-2.4 .1-1.9 .1,2.6 .1-4.7 .1,4.2 .1,1.0 .1-1.4 .1,1.3 .1,1.2 .1-2.0 .1,1.2 .1,.5 .1-8.0 .1,12.7 .1-3.2 .1-5.0 .1-5.4 .1,3.3 .1,6.0 .1,1.0 .1-2.0 .1,1.5 .1-10.7 .1,2.3 .1,7.7 .1-5.1 .1,4.9 .1-2.9 .1-.3 .1,.1 .1,1.1 .1,.9 .1-2.5 .1-1.3 .1-.1 .1,5.4 .1-6.5 .1,4.0 .1-.1 .1-1.5 .1,9.0 .1-6.2 .1-1.8 .1,5.7 .1-1.6 .1,4.1 .1-10.1 .1,3.2 .1-2.9 .1-2.2 .1,7.4 .1,1.8 .1-9.2 .1,6.0 .1-4.6 .1,7.5 .1-2.2 .1-1.5 .1-.4 .1,.4 .1-.7 .1,3.8 .1-2.5 .1,4.6 .1-5.6 .1-2.9 .1,1.5 .1-.3 .1-.6 .1,7.0 .1-3.2 .1-4.9 .1,.4 .1,4.7 .1-1.1 .1,.6 .1-1.1 .1,1.7 .1-3.1 .1,5.6 .1-3.5 .1,1.1 .1-1.0 .1-.8 .1-4.0 .1,3.7 .1,3.6 .1,2.7 .1-1.1 .1-4.6 .1-4.3 .1,8.1 .1-4.4 .1-.5 .1,4.6 .1-5.6 .1,3.1 .1-5.8 .1,1.9 .1,8.7 .1-2.4 .1-2.3 .1-.1 .1-2.5 .1,4.0 .1,1.7 .1-2.4 .1-1.6 .1,3.9 .1-.8 .1-1.1 .1,5.2 .1-3.4 .1-1.5 .1-2.1 .1-1.7 .1,3.0 .1-.3 .1-.5 .1,.6 .1-6.1 .1,7.9 .1,.4 .1-3.8 .1-3.8 .1,4.1 .1,4.2 .1-9.2 .1,7.8 .1-4.5 .1,2.6 .1,2.5 .1-6.7 .1,5.1 .1-2.6 .1,1.7 .1,4.4 .1-8.9 .1,2.2 .1,6.9 .1-8.2 .1,1.1 .1,2.1 .1,2.8 .1,1.0 .1-4.8 .1,.1 .1,4.4 .1-7.9 .1-2.2 .1,4.7 .1,3.2 .1,.7 .1,1.1 .1-8.0 .1,5.6 .1-.3 .1,.2 .1,.4 .1,2.0 .1-4.2 .1-2.1 .1,2.2 .1,4.3 .1-3.0 .1,4.1 .1-5.7 .1-2.1 .1-1.5 .1,12.2 .1-10.4 .1,2.4 .1,7.7 .1-3.1 .1-3.4 .1,5.6 .1-12.1 .1,6.9 .1,3.2 .1,1.3 .1-1.8 .1-9.6 .1,5.5 .1,1.4 .1,2.0 .1-7.2 .1,9.4 .1-1.4 .1-2.4 .1,.5 .1,.1 .1,.6 .1,1.6 .1-5.6 .1,.3 .1-1.0 .1-1.4 .1,2.6 .1,.3 .1,1.4 .1,3.2 .1,3.2 .1-5.8 .1,1.1 .1-4.1 .1,3.9 .1-5.3 .1,3.6 .1,2.1 .1-3.4 .1,1.4 .1-2.7 .1,4.5 .1,4.3 .1,0 .1,.4 .1-5.6 .1-.6 .1-2.8 .1,3.8 .1,.5 .1,5.8 .1-3.3 .1-6.7 .1,3.4 .1-1.2 .1,2.0 .1,3.3 .1-2.7 .1-.5 .1-5.1 .1-1.7 .1,7.8 .1,.2 .1-4.3 .1,2.1 .1,1.6 .1-2.3 .1-1.8 .1,4.0 .1,1.6 .1-6.9 .1,5.0 .1,5.8 .1-7.5 .1,2.4 .1-1.6 .1,2.4 .1-.5 .1-1.5 .1-3.5 .1,1.9 .1,1.1 .1,1.3 .1,1.8 .1-4.6 .1,5.3 .1-8.0 .1,5.9 .1-3.5 .1,4.8 .1,.3 .1,.8 .1-7.7 .1,4.6 .1-6.8 .1,7.3 .1-1.9 .1,.1 .1,1.6 .1-2.4 .1,8.2 .1-10.5 .1,1.8 .1,.9 .1-1.6 .1-1.5 .1,3.8 .1,.6 .1-.6 .1,3.0 .1-4.6 .1,3.0 .1,.7 .1,.2 .1-2.8 .1,1.3 .1-6.1 .1,2.4 .1,5.8 .1-4.5 .1,1.8 .1-1.4 .1,.6 .1-.2 .1,.3 .1,2.0 .1,.7 .1-2.0 .1,1.8 .1-3.8 .1,.2 .1-1.3 .1,5.5 .1-3.4 .1-1.0 .1,.4 .1,3.1 .1-1.1 .1,3.4 .1-5.9 .1,4.6 .1-3.8 .1,1.4 .1,3.9 .1-1.5 .1-2.2 .1,3.0 .1-4.8 .1,2.0 .1-2.5 .1,0 .1,4.4 .1-.6 .1,.6 .1-2.8 .1,7.1 .1-9.0 .1,5.8 .1-2.5 .1-1.1 .1-2.5 .1,0 .1,7.7 .1-6.7 .1,.7 .1,4.3 .1-3.8 .1-.5 .1,1.0 .1-3.4 .1,2.5 .1-.3 .1-4.5 .1,7.1 .1,3.0 .1-4.5 .1-1.4 .1,4.7 .1-5.0 .1-2.0 .1,7.9 .1-5.7 .1-4.0 .1,1.4 .1,3.5 .1,3.7 .1-4.1 .1,2.3 .1,1.1 .1,.3 .1-2.6 .1,4.7 .1-3.2 .1,2.4 .1-4.2 .1-2.3 .1,6.2 .1,1.2 .1-2.5 .1,1.0 .1-2.4 .1-.8 .1-.4 .1,1.6 .1,1.3 .1,.9 .1-5.0 .1,2.9 .1-1.8 .1,3.3 .1-4.0 .1,1.3 .1,6.7 .1-2.9 .1-2.3 .1-.3 .1,.5 .1-1.5 .1-.6 .1,6.3 .1-6.9 .1-1.4 .1,.8 .1,4.7 .1,3.8 .1-12.4 .1,3.9 .1,4.9 .1-2.9 .1,.1 .1-2.3 .1,1.0 .1,1.4 .1-.3 .1-.4 .1,1.4 .1-1.2 .1,1.2 .1,4.6 .1-8.3 .1,3.3 .1-1.8 .1-.5 .1,6.1 .1-2.7 .1-5.0 .1,3.0 .1,.3 .1,5.6 .1-7.0 .1,4.6 .1-.8 .1-2.6 .1,0 .1,4.1 .1-2.8 .1,1.0 .1-2.0 .1-1.0 .1,1.6 .1,2.3 .1,1.5 .1-3.8 .1,3.0 .1,.8 .1-2.9 .1,1.0 .1-2.9 .1,4.9 .1-1.7 .1-4.1 .1,.4 .1,1.1 .1-.5 .1-.1 .1-1.1 .1,1.9 .1,3.0 .1-3.8 .1,4.2 .1-2.6 .1-.8 .1-2.6 .1,3.9 .1-3.8 .1,6.2 .1-1.4 .1-4.9 .1,.4 .1,.2 .1,9.8 .1-2.4 .1-4.2 .1-2.2 .1-1.5 .1,.7 .1-2.0 .1,3.6 .1-2.1 .1,8.4 .1-9.7 .1,6.1 .1-3.4 .1,3.1 .1-4.5 .1,5.6 .1-1.1 .1,2.8 .1-9.7 .1,8.0 .1-.9 .1-4.3 .1,3.4 .1,1.9 .1-2.1 .1,3.3 .1-4.0 .1-.5 .1-3.4 .1,2.5 .1,6.4 .1-6.0 .1,5.7 .1-4.2 .1-1.9 .1-2.8 .1,.3 .1,7.6 .1-2.7 .1-3.2 .1,1.3 .1,0 .1-1.2 .1,5.8 .1-5.0 .1,2.4 .1-2.3 .1,3.7 .1-2.2 .1-3.1 .1,4.2 .1,.8 .1-7.2 .1,1.6 .1,3.0 .1,3.3 .1-.9 .1-1.7 .1,1.9 .1,1.2 .1-6.2 .1,4.2 .1-2.1 .1,.4 .1,1.8 .1-1.9 .1,3.8 .1-2.6 .1,1.8 .1-1.0 .1,.3 .1-1.2 .1,2.2 .1-3.0 .1-.7 .1-2.3 .1,1.4 .1,7.8 .1-5.3 .1,.2 .1,0 .1,.5 .1,2.7 .1,2.4 .1-4.0 .1-.7 .1-3.2 .1,1.2 .1,4.4 .1-4.4 .1-1.6 .1,.4 .1,2.5 .1-4.5 .1,3.2 .1-1.6 .1,5.5 .1-3.9 .1,.4 .1-.4 .1-.7 .1,3.1 .1-.8 .1,1.9 .1-1.4 .1-6.3 .1,8.0 .1-6.2 .1,1.0 .1,3.0 .1-.6 .1-1.2 .1-3.5 .1,3.8 .1,.8 .1-5.6 .1,3.8 .1,7.7 .1-4.7 .1-1.0 .1,2.0 .1-5.3 .1,2.2 .1-2.2 .1,.3 .1-1.4 .1,5.6 .1-3.9 .1,6.5 .1-3.4 .1,.3 .1-2.4 .1-4.6 .1,6.3 .1,3.3 .1-4.2 .1-.4 .1,3.9 .1-4.4 .1-4.1 .1,10.1 .1-2.5 .1-4.9 .1,1.0 .1,3.3 .1-3.4 .1,2.3 .1,5.8 .1-3.9 .1,.8 .1-4.3 .1-1.9 .1,1.2 .1,1.6 .1-2.1 .1,4.9 .1-2.0 .1-2.8 .1,1.3 .1,3.6 .1-2.8 .1,2.2 .1-1.1 .1-5.4 .1,8.7 .1-5.1 .1,2.6 .1-6.7 .1,4.0 .1,3.5 .1,.6 .1-4.5 .1,4.0 .1-3.7 .1,3.4 .1,1.0 .1-1.8 .1,1.1 .1,.8 .1-6.6 .1,6.9 .1-1.7 .1,1.9 .1,0 .1-4.5 .1-2.5 .1,4.2 .1,2.4 .1-3.1 .1-3.1 .1,3.9 .1,2.6 .1-1.1 .1-.3 .1-1.7 .1-4.9 .1,.1 .1,.3 .1,4.6 .1-1.1 .1-.8 .1,2.6 .1,.9 .1-2.9 .1,4.7 .1-.5 .1-3.1 .1-2.6 .1,5.4 .1-5.7 .1,1.9 .1,1.8 .1,2.2 .1-2.8 .1-.2 .1,2.8 .1-.1 .1-4.5 .1,1.3 .1,1.1 .1-2.1 .1,2.8 .1-1.7 .1-1.0 .1,2.7 .1-2.8 .1,1.6 .1-1.7 .1,3.2 .1-2.3 .1,1.8 .1,1.5 .1-3.4 .1-.1 .1-1.7 .1-.5 .1,9.1 .1-7.4 .1,2.6 .1-1.6 .1-.5 .1-2.7 .1,4.6 .1,1.3 .1-1.2 .1-7.0 .1,4.9 .1,.9 .1-3.0 .1,6.9 .1-.7 .1-4.5 .1,6.1 .1-3.6 .1,.7 .1-4.7 .1,2.2 .1-3.2 .1,1.6 .1,8.4 .1-5.9 .1-1.0 .1,3.2 .1-5.1 .1,2.2 .1,3.9 .1-.7 .1-3.0 .1,1.6 .1-.3 .1-1.8 .1-4.6 .1,4.5 .1-1.6 .1-1.2 .1-1.0 .1,6.3 .1-.2 .1-2.1 .1-.2 .1,1.1 .1-1.8 .1,0 .1,1.5 .1-2.3 .1,.9 .1,5.3 .1-5.0 .1-1.4 .1,.5 .1,4.7 .1-5.3 .1,1.9 .1,6.0 .1-4.3 .1-4.7 .1,5.0 .1,.8 .1-3.0 .1,5.1 .1,.8 .1-3.7 .1-2.6 .1,1.9 .1-2.7 .1,1.5 .1,2.8 .1-2.7 .1-1.4 .1,1.7 .1,.7 .1-2.1 .1,2.0 .1-1.8 .1,1.1 .1-.7 .1,4.7 .1-6.6 .1,4.1 .1,.2 .1,5.1 .1-2.5 .1-2.1 .1,.5 .1-2.2 .1-1.8 .1-2.4 .1,8.1 .1-5.3 .1,6.5 .1-2.8 .1-2.9 .1,1.4 .1,.3 .1-3.7 .1,2.1 .1,.8 .1-.2 .1,.2 .1-.4 .1-.4 .1,1.2 .1-3.0 .1,5.2 .1,0 .1-.3 .1-6.7 .1,1.6 .1,3.2 .1-4.1 .1,2.3 .1,2.1 .1-6.5 .1,9.3 .1,.4 .1-7.4 .1,1.8 .1,.3 .1,1.2 .1,0 .1-1.5 .1,1.5 .1,.3 .1-1.3 .1,2.4 .1-5.6 .1,9.9 .1-3.7 .1,.4 .1-4.5 .1-.2 .1,2.8 .1,1.6 .1,2.5 .1-3.6 .1,.7 .1,.1 .1-3.4 .1-3.9 .1,8.9 .1-.8 .1-3.9 .1-.2 .1,2.3 .1-3.8 .1,4.3 .1,.2 .1,.1 .1-3.9 .1,3.9 .1-4.2 .1,.1 .1,2.9 .1-4.7 .1,1.9 .1-.2 .1,4.1 .1-2.0 .1-2.0 .1,5.6 .1-4.8 .1,1.3 .1-1.6 .1,2.0 .1,3.0 .1-.5 .1,.4 .1-1.8 .1,.5 .1-2.8 .1,1.8 .1-.3 .1-1.7 .1,1.1 .1,.2 .1,2.4 .1,.6 .1-3.8 .1,.6 .1,4.6 .1-.4 .1-2.4 .1,.7 .1-3.0 .1,4.0 .1-2.7 .1-3.6 .1,3.0 .1,5.8 .1-4.8 .1-4.6 .1,6.4 .1-3.7 .1,6.5 .1-1.3 .1-8.1 .1,2.8 .1,2.8 .1-.4 .1,.4 .1-2.0 .1,.3 .1,3.2 .1-4.3 .1,1.9 .1,5.2 .1-4.0 .1-.2 .1-2.0 .1,5.1 .1-4.9 .1-.8 .1,3.2 .1-1.7 .1,3.8 .1,0 .1-6.3 .1-.8 .1,1.2 .1,.2 .1,4.0 .1-3.1 .1-1.6 .1,8.3 .1-10.0 .1,1.1 .1,2.9 .1-5.2 .1,1.6 .1,2.7 .1,4.7 .1-3.6 .1-3.5 .1,3.0 .1,5.5 .1-3.3 .1-1.4 .1,3.3 .1-4.8 .1,1.0 .1-5.5 .1,8.9 .1-1.3 .1-3.2 .1,1.4 .1,.3 .1,1.4 .1-2.9 .1-.2 .1,4.4 .1-6.4 .1,3.1 .1-2.1 .1,3.4 .1,3.4 .1-2.3 .1,.5 .1-5.0 .1-2.4 .1,3.6 .1,3.5 .1-3.9 .1-1.8 .1,4.1 .1-1.5 .1-4.7 .1,6.7 .1-3.0 .1-1.5 .1,5.1 .1-.1 .1-.8 .1,.3 .1-4.5 .1,2.1 .1,2.5 .1-7.0 .1,.6 .1,7.3 .1,.9 .1,.2 .1-5.6 .1,6.9 .1-6.7 .1,1.3 .1-.2 .1,.6 .1,3.1 .1,3.3 .1-7.1 .1,1.9 .1-4.7 .1,4.9 .1-3.5 .1,4.6 .1-3.2 .1,0 .1,4.7 .1-4.9 .1-3.0 .1,5.1 .1-2.2 .1,.8 .1,1.9 .1,2.8 .1,.6 .1-7.2 .1,2.8 .1,5.5 .1-8.3 .1,.7 .1-1.5 .1,3.0 .1-2.3 .1,.9 .1-1.9 .1,6.4 .1-2.9 .1,2.8 .1-.1 .1-3.3 .1,4.4 .1-2.1 .1-2.8 .1,1.1 .1,2.8 .1-6.2 .1,3.2 .1,2.1 .1-2.4 .1-1.1 .1,7.7 .1-11.2 .1,7.1 .1,.3 .1,.3 .1-3.0 .1,4.5 .1-4.6 .1-1.9 .1,1.2 .1,1.3 .1,.2 .1,4.5 .1-9.5 .1,6.5 .1,1.1 .1-5.5 .1,2.9 .1,3.7 .1-6.3 .1,8.6 .1-11.1 .1,6.9 .1-1.8 .1-1.4 .1,4.1 .1-2.5 .1,4.5 .1-1.7 .1-3.0 .1,.4 .1,.5 .1-6.1 .1,7.2 .1-1.9 .1-1.0 .1,4.4 .1-.8 .1-1.2 .1,.8 .1-2.1 .1,.8 .1,3.4 .1-2.1 .1-2.2 .1,2.5 .1-1.8 .1-.8 .1-.1 .1,2.6 .1-.5 .1-.8 .1,.8 .1-2.2 .1,.3 .1-2.6 .1,8.6 .1-6.0 .1,1.7 .1-2.1 .1,.5 .1-4.7 .1,6.0 .1,1.5 .1-.4 .1,1.2 .1-1.0 .1-2.0 .1-1.9 .1,2.4 .1,1.9 .1,2.9 .1-7.5 .1,2.6 .1,1.4 .1-5.3 .1,2.4 .1,3.6 .1-1.5 .1-.1 .1,.7 .1-2.2 .1-.1 .1,0 .1-.4 .1,2.9 .1-4.5 .1,5.0 .1-2.9 .1,.1 .1-1.2 .1,.9 .1-2.3 .1-1.3 .1,3.0 .1,.5 .1-1.7 .1,1.7 .1,1.9 .1,0 .1-2.3 .1,1.7 .1,.7 .1-1.8 .1-2.6 .1-.9 .1,7.6 .1-4.7 .1,3.1 .1-7.0 .1,2.4 .1-2.3 .1,6.0 .1-.3 .1-4.7 .1,3.3 .1,3.7 .1-3.1 .1,4.2 .1-3.9 .1-3.0 .1,3.1 .1-6.2 .1,1.0 .1,7.5 .1,.2 .1,.6 .1-.9 .1-1.2 .1-1.8 .1,.4 .1,2.2 .1-2.1 .1-2.4 .1,.2 .1-.3 .1,5.7 .1-.8 .1-2.3 .1-1.7 .1,5.6 .1-7.5 .1,4.6 .1,1.0 .1-.1 .1,.8 .1-3.3 .1,1.7 .1-4.0 .1,3.4 .1-.2 .1-1.3 .1-.2 .1,4.5 .1-7.9 .1,8.2 .1-9.0 .1,4.2 .1-1.4 .1,1.9 .1,1.7 .1-4.8 .1,8.0 .1-7.6 .1,4.2 .1,1.7 .1-1.0 .1-.6 .1-.7 .1-1.2 .1,.1 .1,.1 .1-2.1 .1,1.3 .1,2.0 .1,5.0 .1-6.0 .1,1.9 .1-6.5 .1,2.6 .1,1.4 .1,4.0 .1-3.4 .1-.3 .1,.1 .1,1.1 .1-3.4 .1-1.3 .1,5.7 .1-.6 .1-2.9 .1,1.0 .1,2.8 .1,.2 .1-3.3 .1,0 .1-1.0 .1,.4 .1-2.2 .1,3.0 .1,.2 .1,3.5 .1-8.1 .1,6.9 .1,1.5 .1-1.6 .1-5.3 .1-.3 .1,2.7 .1,1.2 .1-1.2 .1,2.4 .1,0 .1-.8 .1-2.9 .1,1.2 .1-4.6 .1,4.4 .1,1.8 .1,2.6 .1-.9 .1-1.0 .1-3.5 .1,1.7 .1,1.5 .1-1.8 .1-.3 .1,3.7 .1,1.3 .1-5.2 .1,5.1 .1-2.9 .1-4.4 .1,6.9 .1,1.3 .1-4.1 .1,.6 .1,.2 .1,1.2 .1-4.7 .1,.9 .1,3.2 .1-1.1 .1,3.7 .1-.4 .1-1.9 .1-2.8 .1,.3 .1-2.9 .1,7.3 .1-8.2 .1,0 .1,7.4 .1-5.0 .1,.6 .1,4.0 .1-2.3 .1,4.1 .1-6.0 .1,.5 .1-.6 .1,2.6 .1,1.8 .1,.1 .1,3.1 .1-1.8 .1-5.0 .1,.6 .1,2.5 .1,1.6 .1-1.4 .1,0 .1,2.5 .1-4.9 .1,.7 .1,3.2 .1-6.4 .1-.4 .1,2.4 .1,1.4 .1,.1 .1,4.3 .1-3.6 .1-6.2 .1,9.1 .1-.5 .1-.3 .1-.8 .1-5.8 .1-.5 .1,8.9 .1-1.1 .1-6.7 .1,3.3 .1-1.4 .1,5.0 .1-9.1 .1,8.4 .1-3.8 .1,.9 .1,.4 .1-2.3 .1,2.3 .1-6.4 .1,6.0 .1,.1 .1,1.9 .1-2.3 .1,5.5 .1-2.4 .1,.8 .1-2.0 .1,.9 .1-1.8 .1,4.5 .1-10.3 .1,8.6 .1-3.0 .1-.4 .1-3.7 .1,1.9 .1,.3 .1,5.1 .1-1.5 .1-.7 .1-2.0 .1,2.0 .1,.7 .1-2.1 .1-1.2 .1,.5 .1,.1 .1,5.7 .1-7.7 .1,9.1 .1-8.5 .1,2.5 .1-.3 .1-3.5 .1,1.3 .1,2.5 .1,0 .1-3.2 .1,2.2 .1,0 .1,.5 .1,.3 .1,1.9 .1-7.8 .1,4.4 .1,1.2 .1-1.9 .1,2.5 .1-3.1 .1-3.6 .1,5.9 .1,3.5 .1-5.2 .1,3.0 .1-2.7 .1,4.1 .1-5.4 .1,.5 .1,1.5 .1,1.7 .1-.4 .1,3.0 .1-4.3 .1-4.3 .1,5.9 .1-2.8 .1,1.3 .1,1.4 .1-2.1 .1,4.1 .1-.9 .1-1.1 .1,.8 .1-3.3 .1,2.3 .1,.3 .1,.2 .1-.6 .1,.5 .1,1.1 .1-3.3 .1,2.3 .1,2.6 .1-9.3 .1,5.4 .1,4.5 .1-5.7 .1-2.7 .1,4.8 .1-.2 .1-1.4 .1,.2 .1,2.2 .1-4.3 .1,4.0 .1-4.1 .1,3.7 .1,1.9 .1-1.0 .1-.5 .1,2.2 .1-3.5 .1,5.4 .1-2.3 .1-5.7 .1,1.0 .1,2.3 .1,2.1 .1,2.5 .1-9.2 .1,2.5 .1,1.2 .1,.8 .1-2.6 .1-.9 .1,2.5 .1,1.8 .1,1.7 .1-4.0 .1-4.5 .1,6.3 .1,1.1 .1-.4 .1,1.2 .1,1.6 .1-6.4 .1-1.5 .1,1.4 .1,5.2 .1-4.7 .1,.2 .1-2.6 .1,1.1 .1-.5 .1,4.1 .1-3.2 .1,1.1 .1,2.5 .1,1.4 .1-8.0 .1,5.0 .1,1.5 .1,.3 .1-2.1 .1,.6 .1,.9 .1-3.1 .1,4.4 .1-3.8 .1,1.7 .1,.7 .1-3.2 .1,2.2 .1,5.8 .1-7.9 .1-.1 .1,.9 .1-1.4 .1,2.5 .1,2.1 .1,2.5 .1-2.1 .1-2.9 .1,1.8 .1,.4 .1,1.0 .1-2.5 .1-2.9 .1-.9 .1,3.9 .1,1.4 .1-4.9 .1-.8 .1,8.4 .1,.3 .1-4.2 .1,0 .1,.7 .1-3.0 .1,1.9 .1-1.3 .1,2.8 .1-2.2 .1-1.2 .1,1.4 .1,.2 .1-2.6 .1,3.8 .1-.3 .1-.6 .1,5.8 .1-10.0 .1,3.7 .1-.2 .1-.2 .1-.4 .1,4.1 .1-1.7 .1-2.4 .1,5.3 .1-3.9 .1,4.9 .1-1.6 .1-2.7 .1,2.7 .1,1.1 .1-.1 .1-9.1 .1,4.7 .1-4.5 .1,5.5 .1,4.0 .1-2.4 .1-4.2 .1,5.0 .1-3.6 .1,3.6 .1-.8 .1-2.4 .1-3.1 .1,3.9 .1-.1 .1,1.2 .1,3.3 .1-3.6 .1,.9 .1-1.3 .1,.5 .1-2.0 .1-1.2 .1,.1 .1,4.2 .1,1.7 .1-3.4 .1,3.3 .1-6.6 .1,1.8 .1-2.4 .1,3.4 .1,1.9 .1-1.9 .1,1.3 .1,.5 .1,1.2 .1-1.9 .1-.8 .1,1.2 .1-1.7 .1-.7 .1-4.0 .1,2.7 .1,4.5 .1-5.8 .1-.1 .1,1.3 .1,.1 .1-.8 .1-.6 .1,.1 .1,.4 .1,3.2 .1-1.2 .1-.7 .1,.4 .1,.6 .1,1.4 .1-1.1 .1,.2 .1,.5 .1-3.4 .1,1.2 .1,.6 .1,0 .1,3.8 .1-3.3 .1-.2 .1-.6 .1,0 .1,3.2 .1-5.8 .1,2.4 .1,6.8 .1-8.1 .1,6.0 .1-4.9 .1-1.2 .1,8.3 .1-9.1 .1,.5 .1,8.6 .1-5.9 .1,4.4 .1-6.2 .1,7.7 .1-5.9 .1,2.3 .1-1.4 .1,1.4 .1,.3 .1-3.5 .1-1.7 .1,3.7 .1,2.3 .1,.7 .1-1.4 .1,.8 .1-3.6 .1,.4 .1,2.3 .1-5.6 .1,5.4 .1-5.8 .1,5.1 .1-1.8 .1-5.2 .1,3.2 .1,3.4 .1,1.6 .1-3.0 .1,4.7 .1-1.6 .1-2.5 .1-.9 .1-.3 .1,.2 .1-1.2 .1,.9 .1,2.7 .1,1.6 .1,1.2 .1-5.2 .1,3.3 .1-3.1 .1-2.5 .1-2.5 .1,1.9 .1,5.4 .1,1.8 .1,2.1 .1-1.0 .1-6.9 .1,.8 .1,5.7 .1-4.6 .1-4.2 .1,2.1 .1,5.3 .1-4.5 .1,.8 .1,2.6 .1-4.6 .1,.2 .1,6.7 .1,1.6 .1-6.1 .1,1.2 .1-1.6 .1,1.6 .1-.4 .1-3.0 .1,6.3 .1-4.6 .1,2.2 .1-3.1 .1,5.9 .1-5.2 .1,1.7 .1-1.5 .1,4.6 .1-.8 .1-3.9 .1-4.5 .1,.6 .1,3.2 .1-.4 .1,9.5 .1-1.7 .1-2.8 .1-.5 .1-1.0 .1-1.0 .1,1.9 .1-.7 .1-2.1 .1,2.1 .1-.9 .1-1.1 .1,0 .1,.1 .1,0 .1-.2 .1,4.5 .1,.6 .1-5.9 .1,1.7 .1-3.5 .1,1.9 .1,5.4 .1-5.9 .1,0 .1,0 .1,1.0 .1,2.1 .1-1.1 .1,3.6 .1-2.6 .1-.8 .1,2.4 .1-1.9 .1-3.2 .1,1.2 .1,4.4 .1-2.3 .1-.4 .1-.6 .1,.1 .1,2.0 .1-2.6 .1-4.9" fill="none" stroke="#000" stroke-width="1.0"/>
<path d="M587.5,433.4l.1,3.6 .1-2.8 .1,13.9 .1-7.6 .1,.2 .1,.8 .1-37.5 .1,43.3 .1,.1 .1-3.9 .1-.9 .1-2.2 .1,8.4 .1-8.7 .1,1.1 .1-.8 .1,1.3 .1,12.4 .1-10.2 .1-.5 .1,3.9 .1-3.4 .1-8.7 .1,8.5 .1,9.8 .1-1.9 .1,1.1 .1,1.8 .1-6.0 .1-12.3 .1,14.4 .1,11.0 .1-12.9 .1,5.2 .1-3.8 .1-2.6 .1,10.5 .1-13.1 .1,11.9 .1-1.0 .1,12.9 .1-1.8 .1-10.6 .1-7.7 .1,5.8 .1-.9 .1,4.4 .1-6.2 .1,5.8 .1-.4 .1,1.1 .1-3.2 .1-2.4 .1,14.7 .1-16.7 .1,12.3 .1,6.1 .1-8.1 .1-5.7 .1,19.0 .1-3.4 .1-5.5 .1-5.3 .1,1.4 .1,.3 .1,11.3 .1-4.5 .1-9.6 .1-3.1 .1-3.7 .1,19.7 .1-9.1 .1-1.0 .1,7.7 .1-3.5 .1,1.2 .1,9.2 .1-9.6 .1-8.7 .1,14.6 .1,.3 .1-1.3 .1-3.0 .1,17.3 .1-20.4 .1,9.5 .1-1.9 .1-4.2 .1,17.7 .1-20.8 .1,6.8 .1,13.1 .1-8.1 .1,3.1 .1-9.3 .1,4.6 .1,2.3 .1,7.3 .1-16.0 .1,1.7 .1,4.7 .1,3.9 .1-10.3 .1,13.8 .1-20.9 .1,1.5 .1,15.0 .1-17.0 .1,5.7 .1,15.1 .1-10.6 .1,4.4 .1,8.9 .1-16.5 .1,15.1 .1-12.0 .1-2.1 .1,5.8 .1,13.8 .1-20.9 .1,10.0 .1-4.8 .1-3.6 .1,7.8 .1-5.3 .1,3.8 .1,5.2 .1-1.5 .1-.9 .1-15.1 .1,4.9 .1,1.6 .1,4.1 .1,4.8 .1-10.8 .1,6.3 .1-4.4 .1,9.9 .1-11.2 .1-7.0 .1,24.6 .1-2.6 .1,9.6 .1-5.9 .1-16.6 .1,15.9 .1-4.4 .1,4.2 .1,5.3 .1-28.9 .1,22.1 .1-4.9 .1,13.6 .1-6.1 .1-19.4 .1,2.7 .1,14.3 .1-.1 .1-3.8 .1-3.0 .1-14.0 .1,16.7 .1-7.9 .1,17.0 .1-12.5 .1,12.4 .1-5.8 .1,2.0 .1-1.4 .1-7.7 .1,10.5 .1-3.9 .1,7.8 .1-6.9 .1,3.7 .1-9.6 .1,7.3 .1,3.7 .1-22.0 .1,17.7 .1,1.8 .1-.5 .1,4.4 .1-13.4 .1,4.4 .1,3.0 .1-8.1 .1,8.0 .1,2.2 .1-8.1 .1,11.3 .1-18.3 .1,6.3 .1,7.9 .1,9.5 .1-20.6 .1,16.9 .1-9.4 .1,7.6 .1-20.6 .1,30.9 .1-7.7 .1,7.7 .1-4.5 .1-16.1 .1,12.4 .1-2.9 .1-15.4 .1,18.7 .1-10.6 .1,23.3 .1-25.9 .1,24.8 .1-31.8 .1,16.7 .1-.1 .1,2.5 .1-1.9 .1-5.7 .1-3.0 .1,12.3 .1-7.0 .1,5.1 .1-1.7 .1-2.4 .1,7.8 .1-15.2 .1,24.9 .1-10.2 .1-8.4 .1,9.4 .1-6.9 .1,15.0 .1-18.5 .1,11.3 .1-8.5 .1,14.8 .1-14.0 .1,3.3 .1-12.0 .1,6.4 .1,8.1 .1,0 .1-4.2 .1,11.2 .1,.4 .1-15.0 .1,13.0 .1-.2 .1,.4 .1-6.7 .1-4.8 .1,7.3 .1-11.9 .1,6.4 .1,9.2 .1-19.0 .1,19.1 .1,2.8 .1,4.1 .1-16.7 .1-13.3 .1,29.1 .1-7.4 .1,3.2 .1-15.8 .1,19.5 .1-6.9 .1-9.5 .1,3.4 .1,2.5 .1-7.9 .1,15.7 .1-11.0 .1-2.0 .1,2.8 .1,9.7 .1,4.4 .1-17.5 .1,10.3 .1-1.0 .1,3.4 .1,1.8 .1-6.1 .1-16.3 .1,10.9 .1,5.5 .1,1.4 .1,5.8 .1-19.5 .1,8.4 .1,7.7 .1-3.9 .1,1.0 .1-13.4 .1,14.8 .1,8.8 .1-13.6 .1,16.7 .1-14.6 .1,11.3 .1-8.8 .1-3.3 .1,13.5 .1-18.3 .1,12.3 .1,4.0 .1-10.1 .1-4.1 .1,1.7 .1,6.6 .1,10.7 .1-6.8 .1-4.3 .1-2.7 .1,6.1 .1-11.2 .1,1.7 .1-3.8 .1,10.5 .1-7.7 .1,6.4 .1,3.6 .1-7.5 .1-12.0 .1,8.9 .1,9.7 .1-14.7 .1-2.5 .1-3.4 .1,9.0 .1,4.1 .1,6.7 .1,13.5 .1-12.3 .1-5.0 .1-4.9 .1,2.5 .1-5.1 .1,9.8 .1,6.5 .1-16.5 .1,15.9 .1-11.4 .1,13.0 .1-11.6 .1,2.5 .1-12.9 .1,15.2 .1-5.4 .1-1.0 .1,4.6 .1-.6 .1-2.9 .1-13.1 .1,14.4 .1,1.5 .1,1.2 .1,6.7 .1-19.6 .1,16.8 .1,13.5 .1-18.0 .1,3.4 .1-5.4 .1,12.3 .1,.3 .1-12.6 .1,.6 .1,2.7 .1,10.9 .1-26.5 .1,29.3 .1-14.5 .1-2.5 .1,6.0 .1,5.0 .1-14.2 .1,.3 .1,18.0 .1-19.9 .1,12.9 .1-11.1 .1,6.8 .1,7.9 .1-3.8 .1-13.9 .1,4.1 .1-7.6 .1,9.7 .1-1.3 .1,10.4 .1-1.6 .1-2.6 .1-3.3 .1-8.2 .1,2.7 .1,.9 .1,11.0 .1,1.5 .1-12.4 .1,1.0 .1,3.0 .1,14.6 .1-9.1 .1,12.7 .1-31.6 .1,24.1 .1,2.7 .1-12.1 .1-2.0 .1,3.3 .1,0 .1,3.3 .1-7.3 .1,8.4 .1,9.6 .1-5.9 .1-8.5 .1,7.7 .1-11.5 .1,20.2 .1-17.5 .1-1.5 .1,8.3 .1,1.3 .1-1.5 .1-3.2 .1-2.7 .1-3.1 .1,11.5 .1,5.6 .1-15.6 .1,11.3 .1-10.8 .1-3.5 .1,17.1 .1-15.0 .1,19.1 .1-21.3 .1,11.7 .1,1.8 .1-.5 .1-11.1 .1,4.9 .1-5.7 .1-3.9 .1,4.5 .1,19.7 .1-17.2 .1-4.2 .1,5.7 .1,7.1 .1-6.4 .1,7.2 .1,8.0 .1-11.2 .1-2.2 .1,3.9 .1,4.8 .1-.7 .1-1.0 .1-1.7 .1-11.1 .1,16.8 .1-9.0 .1,1.6 .1,1.0 .1-2.1 .1,9.4 .1-8.5 .1-12.7 .1,8.8 .1,2.8 .1,11.3 .1-17.9 .1,9.6 .1,8.4 .1-8.2 .1-3.6 .1-.9 .1-7.3 .1,23.1 .1-18.4 .1-4.6 .1,6.2 .1-13.4 .1,19.7 .1-7.6 .1,4.7 .1-1.4 .1-7.3 .1,20.7 .1-20.6 .1,10.3 .1-2.9 .1,4.8 .1-3.0 .1,4.2 .1-20.7 .1,15.5 .1,7.1 .1-5.2 .1-11.1 .1,11.5 .1-6.9 .1,5.3 .1,14.9 .1-5.0 .1-7.7 .1,2.5 .1-13.1 .1,14.0 .1-15.4 .1,12.4 .1-2.7 .1-4.5 .1,11.3 .1-6.3 .1,.3 .1-3.4 .1-6.2 .1,12.0 .1-13.8 .1,18.3 .1-7.3 .1,4.6 .1-.7 .1-8.6 .1,6.3 .1-6.0 .1,10.2 .1-.5 .1-10.5 .1,16.6 .1-4.1 .1-.7 .1-6.5 .1-6.9 .1,13.4 .1-12.7 .1,7.8 .1,1.4 .1,4.4 .1-5.2 .1-5.7 .1-3.1 .1,6.5 .1,.4 .1,2.6 .1-2.0 .1,5.3 .1-11.4 .1,6.5 .1,14.1 .1-4.8 .1-13.0 .1-9.4 .1,20.5 .1-2.1 .1-10.2 .1,15.1 .1,2.4 .1-11.7 .1-5.1 .1,13.6 .1-5.5 .1,7.4 .1-7.5 .1,5.1 .1-3.2 .1,5.6 .1-20.3 .1,14.3 .1,3.5 .1,1.4 .1-9.9 .1-3.7 .1,6.4 .1-.5 .1,5.7 .1-7.4 .1,.1 .1,4.2 .1-16.3 .1,15.4 .1-7.1 .1,11.5 .1,1.5 .1-10.7 .1-1.6 .1,8.5 .1-8.6 .1,16.8 .1-2.1 .1-9.6 .1-3.8 .1-5.4 .1,5.1 .1,2.6 .1-5.3 .1,6.9 .1-8.0 .1,4.4 .1-5.2 .1,3.1 .1,7.0 .1-6.2 .1,7.8 .1-6.0 .1,3.6 .1-.5 .1-7.6 .1,8.0 .1,1.9 .1-12.2 .1,2.0 .1,12.9 .1,3.0 .1-10.4 .1,6.7 .1-13.8 .1,8.7 .1,2.0 .1-3.2 .1-4.9 .1,11.7 .1-19.3 .1,19.6 .1-7.3 .1,3.1 .1,1.3 .1-9.0 .1,11.8 .1-6.5 .1-.8 .1-7.5 .1,13.7 .1,1.2 .1-3.1 .1-16.0 .1,27.0 .1-12.1 .1-1.1 .1,3.4 .1-5.4 .1,1.0 .1,7.8 .1-4.0 .1-6.7 .1,11.1 .1-1.1 .1-9.2 .1,5.6 .1-3.2 .1,7.9 .1-5.6 .1,4.9 .1-10.7 .1,9.5 .1-2.9 .1,.8 .1-1.4 .1,2.4 .1,3.9 .1-16.2 .1,6.6 .1,6.3 .1-.1 .1-2.0 .1-.1 .1,10.8 .1-8.5 .1-8.4 .1,2.4 .1,.8 .1,8.2 .1-16.5 .1,7.9 .1,15.4 .1-10.2 .1-10.9 .1-.6 .1,6.7 .1,6.1 .1,6.1 .1-4.9 .1-1.2 .1-9.9 .1,5.1 .1,1.0 .1-6.5 .1,10.6 .1-14.3 .1,5.3 .1-3.4 .1,13.8 .1-7.3 .1,9.2 .1,1.6 .1-14.3 .1-1.3 .1,17.0 .1-18.7 .1,8.9 .1,11.9 .1-13.3 .1,7.5 .1-4.3 .1-4.3 .1,1.8 .1,2.8 .1,1.2 .1-3.5 .1-4.0 .1-2.9 .1,11.0 .1-8.8 .1,8.8 .1-6.9 .1,4.7 .1-2.7 .1,2.7 .1,8.1 .1-18.5 .1-4.7 .1,2.3 .1,14.2 .1-9.2 .1-.8 .1,7.8 .1-10.9 .1,8.8 .1-.4 .1-2.8 .1-.9 .1,11.9 .1-8.5 .1-1.5 .1-2.8 .1,6.5 .1,8.0 .1-10.8 .1-.4 .1,5.6 .1-8.3 .1,4.8 .1,6.5 .1,5.8 .1-12.4 .1,10.3 .1-4.0 .1-4.7 .1-2.1 .1,4.5 .1-.7 .1-3.9 .1-2.4 .1,10.6 .1-3.7 .1-1.7 .1,4.2 .1-10.4 .1,.4 .1,8.7 .1-10.8 .1,4.1 .1,.6 .1,4.0 .1-9.0 .1,19.4 .1-17.2 .1,.4 .1,7.7 .1-7.8 .1,1.3 .1,6.6 .1-5.1 .1,6.6 .1-4.9 .1,1.9 .1-.9 .1,6.5 .1-5.1 .1-1.5 .1-4.8 .1-5.7 .1,10.4 .1,2.0 .1-1.3 .1-.7 .1-9.5 .1,11.3 .1-11.7 .1,13.8 .1,3.1 .1-5.2 .1-8.4 .1,14.5 .1-12.7 .1,2.8 .1-3.4 .1,4.9 .1,9.5 .1-14.6 .1,9.9 .1,1.1 .1-2.4 .1-3.9 .1,.2 .1-5.3 .1,3.5 .1-1.4 .1,3.0 .1,1.2 .1,1.7 .1-12.4 .1,13.1 .1-7.7 .1,3.3 .1-.5 .1,2.4 .1,1.9 .1-1.4 .1-3.9 .1-.9 .1,7.3 .1-.8 .1-1.7 .1-3.6 .1-1.3 .1,12.3 .1-2.4 .1-5.5 .1,10.0 .1-2.3 .1-2.4 .1-5.7 .1,6.9 .1-4.9 .1-6.7 .1-2.1 .1,5.8 .1,9.2 .1-6.3 .1-.9 .1,6.7 .1-9.6 .1-2.0 .1,9.9 .1-10.1 .1,6.0 .1-.5 .1-9.4 .1,4.5 .1,2.8 .1,4.2 .1-9.0 .1,3.0 .1,3.9 .1-8.7 .1-2.9 .1,11.0 .1,1.5 .1-5.1 .1,9.1 .1,1.0 .1-3.5 .1-3.1 .1,3.9 .1-8.9 .1,2.8 .1,1.7 .1,4.5 .1-12.1 .1,10.4 .1-8.0 .1,7.9 .1-3.1 .1,.8 .1-6.6 .1-.2 .1,6.8 .1,3.9 .1-5.3 .1-.5 .1-3.2 .1,7.5 .1-6.6 .1,10.6 .1-10.2 .1,.9 .1,7.2 .1-12.4 .1,11.5 .1,6.3 .1-5.7 .1-4.6 .1,4.1 .1,6.3 .1-9.8 .1-10.9 .1,7.9 .1-1.3 .1,.7 .1-2.1 .1,6.0 .1,5.3 .1,.8 .1-.4 .1-10.0 .1,4.4 .1,5.2 .1-2.3 .1-5.9 .1-2.2 .1,4.9 .1-2.1 .1,4.9 .1,8.2 .1-10.1 .1-7.0 .1,7.6 .1-11.0 .1,18.5 .1-9.5 .1-1.3 .1-1.7 .1,1.1 .1,4.3 .1-5.3 .1,2.6 .1,1.5 .1,0 .1-2.4 .1,7.5 .1-6.3 .1-2.8 .1,11.3 .1-4.4 .1-11.3 .1,10.8 .1-1.1 .1-2.2 .1,6.3 .1,3.7 .1-9.3 .1,1.9 .1-3.2 .1-.9 .1,8.7 .1-4.1 .1-2.9 .1-1.2 .1,3.8 .1-3.7 .1,4.4 .1-11.6 .1,21.9 .1-16.5 .1-1.9 .1,7.7 .1-6.1 .1,9.9 .1-3.0 .1-.4 .1-11.9 .1,13.3 .1-7.0 .1,9.8 .1-12.8 .1,9.0 .1-2.0 .1,4.1 .1-5.5 .1-3.6 .1,3.6 .1,3.1 .1-2.7 .1-2.9 .1,.7 .1,2.1 .1-.6 .1,1.4 .1,4.2 .1,.9 .1-7.9 .1-.2 .1,6.5 .1-.9 .1,0 .1-.4 .1,3.2 .1-8.0 .1,1.1 .1,1.5 .1-11.3 .1,11.4 .1-1.0 .1-10.3 .1,6.8 .1,10.2 .1-15.0 .1,17.0 .1-8.9 .1-5.5 .1,10.8 .1-10.1 .1,9.0 .1-4.0 .1,5.4 .1-2.7 .1-2.5 .1-6.5 .1,1.7 .1,4.5 .1-5.2 .1,11.1 .1-6.6 .1,2.2 .1-8.2 .1,12.3 .1,3.0 .1-10.3 .1-3.5 .1,4.9 .1,1.7 .1,2.7 .1-.6 .1-7.6 .1,9.1 .1-8.4 .1-3.9 .1,10.6 .1-7.5 .1,15.0 .1-12.7 .1-2.3 .1,2.0 .1-4.2 .1-1.5 .1,9.3 .1,1.3 .1-.8 .1-2.6 .1,.2 .1-.4 .1,2.7 .1-.8 .1,.6 .1-3.3 .1,1.5 .1,2.2 .1-2.7 .1,.7 .1-2.1 .1-.6 .1,0 .1-.3 .1,7.1 .1-2.3 .1,1.9 .1-2.2 .1,1.7 .1,1.0 .1,4.4 .1-9.9 .1,5.8 .1-4.5 .1-3.2 .1,9.9 .1,1.7 .1-5.3 .1,5.2 .1-8.9 .1,8.5 .1-6.9 .1-5.2 .1,4.6 .1,2.2 .1-7.9 .1,4.6 .1,3.3 .1-1.3 .1-2.7 .1,2.6 .1-.9 .1-2.8 .1,8.7 .1,4.7 .1-16.8 .1,4.1 .1,5.0 .1-9.2 .1,4.5 .1,7.1 .1,.9 .1-9.0 .1,0 .1,1.8 .1-1.7 .1,11.2 .1-1.2 .1-9.5 .1,3.7 .1,3.1 .1-1.9 .1-6.1 .1,5.3 .1-1.1 .1-.2 .1-2.2 .1,4.4 .1-1.8 .1-4.4 .1,3.7 .1-8.9 .1,10.2 .1-1.5 .1-4.2 .1,2.4 .1,8.3 .1-1.4 .1-9.3 .1,4.6 .1-3.8 .1,13.9 .1-6.5 .1-7.9 .1,6.6 .1,3.6 .1-15.6 .1,6.3 .1,1.7 .1,2.6 .1,6.9 .1-10.7 .1-4.7 .1,9.9 .1-3.6 .1,2.2 .1-2.4 .1,8.3 .1-8.3 .1-1.2 .1-4.3 .1,7.0 .1,1.0 .1-2.4 .1,5.8 .1-2.9 .1-3.6 .1-.2 .1,6.9 .1-2.0 .1,1.2 .1,1.3 .1,.9 .1-10.4 .1,.7 .1,5.1 .1,3.6 .1-6.6 .1,6.3 .1-8.7 .1,3.8 .1-1.7 .1,4.7 .1-3.1 .1-3.6 .1,4.4 .1-3.1 .1,1.6 .1,2.9 .1-5.2 .1,7.1 .1-1.1 .1-4.3 .1,2.6 .1,9.1 .1-19.4 .1,9.7 .1,6.8 .1-11.4 .1,2.3 .1,10.7 .1-11.1 .1,2.1 .1,4.0 .1-1.7 .1-4.4 .1,8.7 .1-6.3 .1-4.8 .1,13.1 .1-12.2 .1,11.6 .1-9.8 .1,1.2 .1-3.8 .1,1.8 .1,.7 .1,.6 .1,1.4 .1-1.6 .1,0 .1,.1 .1,.2 .1-2.8 .1-1.6 .1,9.1 .1-1.8 .1-4.9 .1,.5 .1,4.9 .1-3.6 .1,.8 .1,5.9 .1-5.7 .1-3.1 .1,3.8 .1-2.7 .1-3.8 .1,14.5 .1-13.9 .1,4.4 .1,9.6 .1-3.2 .1-4.2 .1,5.6 .1-1.5 .1,1.9 .1-6.7 .1,1.0 .1,8.6 .1-15.2 .1,11.0 .1-5.2 .1-3.2 .1,3.6 .1-2.5 .1-2.7 .1,7.1 .1-1.4 .1-3.3 .1,7.6 .1-3.9 .1,7.7 .1-12.5 .1,6.5 .1-11.0 .1,11.5 .1-2.0 .1,4.4 .1-9.3 .1,8.4 .1-.9 .1-8.3 .1,2.5 .1,8.8 .1-16.5 .1,5.1 .1,10.9 .1-6.8 .1-.1 .1,6.0 .1-1.2 .1-2.6 .1,1.6 .1-6.6 .1-5.7 .1,10.3 .1,1.8 .1,6.4 .1-12.2 .1-3.5 .1,2.5 .1,13.2 .1-10.8 .1,3.5 .1-4.0 .1-3.5 .1,.7 .1,6.0 .1-.2 .1-.3 .1,2.5 .1-2.1 .1-.7 .1,4.2 .1-2.5 .1-5.5 .1-3.9 .1,12.8 .1-4.5 .1,3.8 .1-5.2 .1,1.4 .1-4.6 .1,12.5 .1-11.0 .1,1.4 .1-6.6 .1,7.5 .1,3.7 .1-5.2 .1,.2 .1-.3 .1,1.5 .1,1.9 .1-6.4 .1,4.5 .1-4.2 .1,8.5 .1-12.4 .1,1.6 .1,7.9 .1,3.3 .1-2.1 .1-11.6 .1,8.0 .1,2.1 .1-1.7 .1,3.8 .1-5.6 .1,6.9 .1-3.4 .1,3.8 .1-7.0 .1,3.7 .1,1.7 .1-7.7 .1,7.1 .1,2.1 .1-7.7 .1,2.7 .1-6.0 .1,8.9 .1-2.2 .1-1.6 .1-.1 .1,.9 .1,5.4 .1-11.4 .1,1.8 .1,8.1 .1,1.0 .1-13.3 .1,9.8 .1-.6 .1,6.9 .1-5.9 .1-3.4 .1-.7 .1,.5 .1-2.4 .1,3.3 .1-5.6 .1,7.5 .1-.1 .1-5.6 .1,5.5 .1,7.0 .1-7.0 .1-.1 .1,8.7 .1-6.6 .1-5.2 .1,2.1 .1,1.3 .1-1.5 .1,1.2 .1,1.6 .1,2.3 .1,1.2 .1-.7 .1-2.7 .1-1.9 .1-.6 .1,2.8 .1-.7 .1-2.8 .1,3.8 .1-6.5 .1,3.9 .1,5.9 .1-8.7 .1-1.6 .1,9.7 .1-2.7 .1-5.6 .1,11.3 .1,.7 .1-10.1 .1-2.5 .1,6.5 .1,.7 .1-4.4 .1-3.5 .1,1.2 .1-.9 .1,6.5 .1-6.7 .1,.1 .1,3.6 .1-.6 .1-3.0 .1,1.8 .1-3.2 .1,8.2 .1,1.4 .1-2.7 .1,6.5 .1-10.3 .1,3.3 .1,0 .1-8.7 .1,3.3 .1,1.1 .1,2.5 .1,.3 .1-.1 .1,5.5 .1-8.6 .1,3.8 .1,.1 .1,5.9 .1-8.3 .1-.1 .1,2.3 .1-4.2 .1,3.5 .1,5.8 .1-.1 .1-6.9 .1,3.8 .1-.2 .1,.9 .1-1.8 .1-1.6 .1,1.6 .1-2.9 .1,2.1 .1,0 .1,4.4 .1-1.8 .1-1.5 .1,1.4 .1-1.4 .1,.9 .1,4.2 .1-9.3 .1,10.5 .1-8.8 .1,8.6 .1-1.5 .1-5.6 .1,4.2 .1-4.3 .1-2.9 .1-1.0 .1,9.6 .1-7.4 .1,5.7 .1,2.9 .1-7.1 .1,3.6 .1-3.0 .1-1.9 .1,2.1 .1,7.8 .1-4.4 .1-5.6 .1,7.4 .1-6.7 .1-1.0 .1,4.0 .1-4.0 .1,5.6 .1-1.7 .1-4.6 .1,3.9 .1-7.0 .1,6.6 .1,3.4 .1-2.4 .1-8.6 .1,1.1 .1,1.0 .1,12.7 .1-4.2 .1-7.8 .1,7.9 .1-5.9 .1,7.7 .1-1.0 .1-1.2 .1-2.7 .1,0 .1,1.8 .1-4.0 .1,2.1 .1-4.4 .1,5.7 .1-6.7 .1,4.1 .1,1.0 .1-2.7 .1,3.8 .1-2.9 .1,4.4 .1-4.6 .1-4.8 .1,10.5 .1-2.3 .1,2.1 .1,4.6 .1-15.3 .1,7.8 .1-2.1 .1-2.8 .1,9.0 .1-3.5 .1,4.6 .1-1.2 .1-6.6 .1,4.1 .1-2.1 .1-5.8 .1,2.3 .1,5.0 .1,2.0 .1,1.9 .1-4.3 .1,1.3 .1-2.6 .1,1.7 .1-1.8 .1-4.9 .1-.7 .1,3.2 .1,4.5 .1,2.4 .1-2.1 .1-.9 .1,7.7 .1-11.0 .1,1.2 .1-3.8 .1,5.4 .1,1.9 .1,3.4 .1-10.6 .1,3.7 .1-5.9 .1,7.2 .1,1.7 .1,.1 .1,1.2 .1,2.2 .1-3.6 .1,1.5 .1,.4 .1-.6 .1-9.5 .1,7.7 .1-3.2 .1,2.2 .1,.6 .1-1.0 .1-2.8 .1-3.0 .1,1.0 .1,7.9 .1-2.7 .1,.6 .1-2.6 .1,.9 .1-6.0 .1,9.3 .1-5.3 .1,5.2 .1,3.1 .1-9.4 .1,4.8 .1,3.7 .1,1.4 .1,1.5 .1-6.8 .1-2.4 .1,1.1 .1,7.6 .1-3.3 .1,0 .1-4.7 .1-.9 .1,4.9 .1-1.1 .1,5.8 .1,.2 .1-12.9 .1,8.8 .1-5.9 .1,2.9 .1-3.7 .1,2.9 .1-2.2 .1,4.5 .1-.9 .1,7.5 .1-10.0 .1,1.5 .1,.5 .1-.1 .1,5.0 .1-4.2 .1-2.4 .1,.9 .1,2.2 .1,3.1 .1,1.2 .1-4.9 .1-1.1 .1-3.9 .1,3.3 .1,.4 .1,.5 .1-3.5 .1,7.6 .1-4.9 .1,.4 .1-2.8 .1,3.3 .1-4.4 .1,1.1 .1,3.7 .1-1.7 .1,9.1 .1-7.1 .1,4.9 .1-2.4 .1,0 .1-2.2 .1-.2 .1-4.9 .1,12.1 .1-1.2 .1-.5 .1-7.8 .1-5.1 .1,8.1 .1-1.8 .1,8.3 .1-9.6 .1,4.5 .1-3.6 .1,4.2 .1-1.3 .1,.3 .1,2.3 .1-10.7 .1,6.6 .1-5.5 .1,6.3 .1-7.6 .1,.3 .1,3.0 .1-2.4 .1,11.2 .1-7.2 .1,4.9 .1-5.1 .1,7.3 .1,.7 .1-5.9 .1-1.7 .1,3.0 .1-2.1 .1,8.0 .1-9.8 .1-.1 .1,.7 .1,6.1 .1-4.9 .1-.7 .1,3.5 .1-.4 .1-3.5 .1,7.1 .1-4.7 .1,3.1 .1-1.1 .1-4.0 .1,2.9 .1,1.1 .1-6.3 .1,7.0 .1-8.4 .1,10.0 .1-6.0 .1,3.5 .1-1.6 .1,3.1 .1-1.1 .1-3.0 .1,3.2 .1-3.0 .1-3.4 .1,5.3 .1-1.0 .1,3.5 .1-5.8 .1,11.2 .1-12.1 .1,2.3 .1-3.2 .1-.2 .1,4.7 .1-2.3 .1-3.9 .1,6.6 .1-7.8 .1,6.6 .1-1.9 .1,3.9 .1-7.8 .1,4.4 .1,5.1 .1-6.6 .1,4.9 .1-2.0 .1,.3 .1,3.8 .1-.9 .1-5.5 .1-2.0 .1,.6 .1-.9 .1,2.6 .1-4.8 .1,6.3 .1-6.3 .1,2.9 .1,3.4 .1,.3 .1,2.7 .1,.3 .1-1.9 .1,2.6 .1,.3 .1-6.9 .1,0 .1,2.1 .1,1.2 .1-2.9 .1,8.0 .1-6.2 .1,2.5 .1-3.6 .1,1.8 .1-1.7 .1,.3 .1-.2 .1,1.2 .1-.3 .1-.6 .1-.5 .1,4.4 .1-.6 .1-3.1 .1-.6 .1,.4 .1-2.6 .1,1.6 .1,2.2 .1-2.7 .1,5.5 .1-5.0 .1-2.9 .1,1.2 .1,5.0 .1-2.6 .1,.2 .1,7.9 .1-5.5 .1,.2 .1-7.6 .1,6.3 .1,3.0 .1-5.6 .1,5.9 .1-7.9 .1,5.9 .1-.8 .1-1.0 .1,5.8 .1,.2 .1-6.3 .1,.7 .1,3.9 .1-3.1 .1,6.7 .1-7.8 .1,2.2 .1-4.5 .1-.6 .1,5.4 .1-1.1 .1,3.1 .1-.7 .1-.4 .1,.4 .1-1.1 .1-2.9 .1-1.3 .1,8.8 .1-5.7 .1-.4 .1-4.8 .1,3.8 .1-5.6 .1,5.4 .1-2.4 .1,.7 .1,3.2 .1-5.4 .1,5.4 .1,1.8 .1-1.2 .1,.7 .1-5.8 .1,8.2 .1-2.0 .1-3.0 .1,4.6 .1,1.5 .1-5.6 .1-3.9 .1,6.2 .1-1.2 .1,3.8 .1-3.5 .1,2.1 .1-3.2 .1,5.3 .1-7.0 .1,2.7 .1-1.7 .1,2.2 .1-1.6 .1-1.7 .1,1.0 .1,2.9 .1-1.5 .1-.7 .1,3.9 .1-4.6 .1,2.8 .1,1.7 .1-2.3 .1-2.6 .1,2.8 .1-5.8 .1-1.7 .1,4.2 .1,4.0 .1,.1 .1-4.7 .1-2.3 .1,4.6 .1,2.9 .1,1.4 .1-5.2 .1-.4 .1,3.7 .1,2.5 .1-4.3 .1,1.1 .1,.9 .1-.7 .1-5.6 .1,.8 .1,4.9 .1-3.6 .1,6.7 .1-1.6 .1-3.3 .1-1.4 .1,.2 .1,8.6 .1-5.0 .1,.8 .1-7.3 .1,7.5 .1-.2 .1,.7 .1-3.6 .1,.8 .1-1.9 .1,2.1 .1-.8 .1-.6 .1-.3 .1,3.9 .1-2.8 .1-3.2 .1-.4 .1,3.8 .1,4.8 .1-8.7 .1,7.0 .1-3.9 .1,3.5 .1-5.1 .1,2.7 .1-6.6 .1,5.5 .1-4.9 .1,7.9 .1,.4 .1-2.3 .1-.4 .1-1.8 .1,4.8 .1-4.2 .1-1.1 .1,4.4 .1-5.2 .1,9.3 .1-3.0 .1,3.2 .1-3.6 .1-.4 .1-4.0 .1-3.7 .1,9.4 .1-.3 .1-9.7 .1,8.3 .1-4.9 .1,6.1 .1-3.5 .1-1.2 .1-.3 .1,2.0 .1,1.3 .1-6.2 .1,8.6 .1-5.6 .1,1.6 .1,2.5 .1-1.6 .1,5.7 .1-5.4 .1-1.8 .1,.1 .1,2.8 .1-8.2 .1,7.4 .1,2.1 .1-1.6 .1,1.8 .1-9.7 .1,3.4 .1,1.7 .1,3.2 .1-3.4 .1,2.2 .1-2.3 .1,1.6 .1-3.2 .1-.6 .1,5.5 .1,.2 .1-2.3 .1,1.0 .1-2.0 .1,5.1 .1-1.8 .1-1.7 .1-5.6 .1,4.2 .1,1.9 .1,4.5 .1-2.4 .1,.9 .1-3.3 .1-1.1 .1-1.1 .1,.6 .1-1.6 .1,2.1 .1-5.3 .1,7.6 .1-2.7 .1,4.5 .1-3.5 .1-2.4 .1,1.3 .1-2.3 .1,8.3 .1-4.6 .1,.6 .1-3.7 .1,2.5 .1,4.0 .1-1.0 .1-3.3 .1-1.2 .1,3.7 .1,4.5 .1-7.2 .1,5.3 .1-10.1 .1,8.2 .1,1.9 .1-3.6 .1-1.4 .1,1.5 .1-.6 .1,1.4 .1-3.1 .1,1.8 .1-1.4 .1,4.0 .1,0 .1-4.6 .1-.4 .1-3.5 .1,8.0 .1-3.8 .1,1.0 .1,.5 .1-3.4 .1,7.6 .1-.1 .1-1.1 .1,1.0 .1,4.1 .1-6.8 .1-.6 .1,2.2 .1-2.2 .1-1.6 .1,.3 .1-2.6 .1-2.2 .1,9.3 .1,1.2 .1-1.5 .1-.7 .1-2.0 .1-1.5 .1,0 .1-4.7 .1,5.3 .1-1.9 .1,.8 .1-1.5 .1,4.3 .1,1.8 .1-.9 .1-5.0 .1,3.9 .1-.5 .1-3.3 .1,.4 .1,.6 .1,3.0 .1-.4 .1-.2 .1-.9 .1,.8 .1-3.8 .1,1.8 .1,2.5 .1,.1 .1-3.7 .1,2.9 .1-1.4 .1,2.5 .1-5.8 .1,3.7 .1,6.3 .1-6.7 .1,4.2 .1-4.5 .1,1.6 .1-1.5 .1,5.5 .1-3.1 .1,.5 .1-6.3 .1,2.3 .1-.1 .1,4.3 .1-4.7 .1,5.6 .1-3.9 .1-.1 .1,4.5 .1-1.6 .1,.4 .1-1.4 .1-.7 .1,.9 .1-3.2 .1,3.6 .1-1.5 .1,2.2 .1-4.5 .1,6.1 .1,2.4 .1-5.0 .1-5.5 .1,5.9 .1,2.8 .1-1.6 .1,.8 .1-6.7 .1,7.4 .1-2.9 .1-.3 .1-1.8 .1,1.0 .1,.9 .1-3.8 .1,8.4 .1-4.6 .1-.8 .1-4.5 .1,.8 .1,7.0 .1-5.6 .1,3.8 .1-1.3 .1,1.7 .1,2.0 .1-3.8 .1,4.0 .1-4.2 .1,3.2 .1-3.7 .1,1.0 .1-3.0 .1,3.0 .1-3.9 .1,2.8 .1-1.1 .1,1.9 .1,1.2 .1,1.6 .1,2.5 .1-7.0 .1,1.3 .1,1.5 .1-3.0 .1,4.9 .1-5.0 .1,2.7 .1,1.8 .1-2.7 .1,2.4 .1-4.6 .1,3.3 .1,0 .1-1.0 .1,6.0 .1-6.7 .1,5.1 .1-3.6 .1-.2 .1,.9 .1-1.9 .1,1.9 .1,4.5 .1-7.8 .1,4.9 .1-3.9 .1,.8 .1,.3 .1,2.6 .1-6.5 .1,4.3 .1,.9 .1,.8 .1-3.1 .1,1.7 .1-1.3 .1-2.2 .1,2.3 .1,1.0 .1-.5 .1-1.2 .1,.7 .1,1.6 .1-.6 .1-2.2 .1,3.9 .1,2.5 .1-4.2 .1-1.7 .1,2.7 .1-3.6 .1,.9 .1-2.7 .1,8.2 .1-3.6 .1-.1 .1,.7 .1,2.0 .1-1.4 .1-3.0 .1,.4 .1,4.8 .1-5.7 .1,5.1 .1-5.1 .1,1.7 .1,3.7 .1-3.8 .1,1.2 .1,.1 .1-.9 .1-.6 .1-3.6 .1,3.6 .1,1.5 .1,3.5 .1-1.4 .1,.1 .1-2.6 .1-5.4 .1,1.0 .1,7.0 .1-6.0 .1,5.6 .1,.3 .1-4.0 .1,4.3 .1-.3 .1-7.1 .1,4.7 .1-.2 .1,.4 .1-.3 .1,.7 .1-3.0 .1,1.8 .1,1.7 .1,3.6 .1-.5 .1-4.1 .1-.7 .1,.8 .1,2.8 .1-6.6 .1,4.4 .1-.1 .1-4.3 .1-1.5 .1,2.5 .1,6.0 .1-3.9 .1-4.5 .1,1.2 .1,.5 .1,5.0 .1-5.2 .1,.5 .1,5.6 .1-8.2 .1,2.0 .1-13.0 .1,17.2 .1-1.7 .1,.7 .1-2.8 .1,2.6 .1-3.1 .1,4.5 .1-5.3 .1,5.1 .1-5.8 .1-.7 .1,5.6 .1-2.8 .1,2.0 .1-.4 .1,.3 .1,1.9 .1-6.4 .1,.7 .1,7.1 .1-1.7 .1-1.6 .1,2.0 .1-.7 .1,.3 .1-4.8 .1,2.4 .1,3.6 .1-3.2 .1-2.0 .1,3.7 .1-4.3 .1,7.5 .1-2.8 .1-3.6 .1,2.9 .1,1.4 .1,.4 .1-1.1 .1-1.1 .1,3.5 .1-2.9 .1-.7 .1,3.2 .1-2.0 .1-3.7 .1,3.7 .1,3.0 .1-2.0 .1-1.3 .1-1.9 .1-.9 .1,2.7 .1,.4 .1,.2 .1-2.9 .1,.3 .1,3.4 .1,2.0 .1-1.2 .1-1.0 .1,.3 .1-3.4 .1,.6 .1,1.0 .1,.8 .1,1.6 .1-2.9 .1-1.9 .1-.4 .1,1.8 .1,5.5 .1-5.0 .1,5.5 .1-9.1 .1,7.4 .1-2.1 .1,2.9 .1-3.7 .1,.7 .1-2.4 .1,1.5 .1,.6 .1-3.0 .1,1.1 .1-.5 .1,0 .1-.6 .1,2.6 .1,.7 .1,2.2 .1,.2 .1-4.6 .1,1.5 .1,.4 .1-3.4 .1,3.0 .1-1.8 .1-1.2 .1,5.2 .1-3.1 .1,1.0 .1,1.2 .1-1.5 .1-1.8 .1,.4 .1,4.2 .1-7.2 .1,4.0 .1,1.9 .1-4.2 .1,6.3 .1-3.6 .1,.4 .1,4.5 .1-1.7 .1-.7 .1-1.2 .1,2.4 .1-1.6 .1-4.6 .1,7.3 .1,.3 .1-4.8 .1,.7 .1-1.0 .1-4.4 .1,4.5 .1-1.1 .1-1.3 .1,2.5 .1-3.7 .1,5.0 .1,3.7 .1-5.0 .1,4.6 .1-8.9 .1,2.4 .1,3.6 .1-.2 .1,1.1 .1-3.3 .1-1.7 .1,2.8 .1-2.0 .1-.2 .1,3.1 .1-1.1 .1,1.0 .1-2.7 .1,.4 .1,1.7 .1,3.1 .1-6.6 .1,6.1 .1-2.4 .1,2.1 .1-.9 .1-2.6 .1,2.1 .1,1.6 .1-3.0 .1,1.4 .1-1.8 .1-.4 .1-3.4 .1,4.8 .1-.2 .1-.1 .1-1.2 .1,1.0 .1-.1 .1,2.5 .1-.4 .1-3.4 .1,1.7 .1-.4 .1,1.6 .1-1.1 .1-.7 .1-.4 .1-1.0 .1,4.8 .1-3.6 .1,.5 .1-1.6 .1,1.7 .1,.7 .1,.3 .1-.9 .1,4.2 .1-6.1 .1-.1 .1-.9 .1,.9 .1,4.9 .1-2.5 .1-.6 .1-5.7 .1,3.5 .1-.9 .1-1.9 .1,5.3 .1-4.7 .1,6.7 .1,1.0 .1-4.7 .1,1.5 .1,.1 .1-2.1 .1,3.5 .1-5.8 .1,4.5 .1,2.3 .1-4.8 .1,1.9 .1-3.1 .1,1.8 .1-.2 .1,3.1 .1,1.2 .1-2.1 .1,.7 .1-2.0 .1-.5 .1,1.3 .1,.7 .1,.9 .1-2.3 .1-2.4 .1,4.7 .1-2.4 .1-1.2 .1,1.7 .1-.5 .1,1.1 .1-2.6 .1,2.0 .1,.9 .1,.2 .1-1.8 .1,3.3 .1-2.9 .1-1.0 .1,.8 .1,1.2 .1,2.5 .1-7.8 .1,2.2 .1-1.3 .1,1.6 .1,2.5 .1,1.2 .1-3.2 .1,1.7 .1,.3 .1-.4 .1,0 .1,2.6 .1-1.9 .1,4.6 .1-5.8 .1,3.3 .1-1.7 .1,.3 .1,3.7 .1-6.6 .1,0 .1-2.2 .1,1.3 .1,.8 .1,3.7 .1-3.1 .1,1.8 .1-.6 .1-.3 .1-1.6 .1,3.4 .1-.9 .1,.8 .1,1.1 .1-1.9 .1,3.2 .1-2.8 .1-1.6 .1,2.6 .1-1.1 .1-.9 .1,3.2 .1-2.1 .1-2.3 .1,1.2 .1-4.7 .1,1.1 .1,3.8 .1,1.2 .1-3.6 .1,2.8 .1-2.4 .1,5.7 .1,.4 .1-5.5 .1,3.5 .1-.4 .1-3.5 .1,3.1 .1,.4 .1-1.5 .1-2.5 .1,3.1 .1,.8 .1-2.0 .1,1.3 .1-.5 .1-1.7 .1,6.3 .1-4.2 .1-1.2 .1,3.2 .1-4.1 .1,3.4 .1-7.4 .1,6.3 .1,.3 .1-3.1 .1,2.4 .1,3.8 .1-4.1 .1,2.5 .1-.6 .1-5.2 .1,2.9 .1-3.2 .1-.2 .1,3.5 .1,1.9 .1-4.8 .1,1.3 .1,6.7 .1-6.4 .1-.5 .1-2.8 .1,9.4 .1-5.1 .1,2.2 .1-1.5 .1-3.4 .1,4.4 .1-3.0 .1-2.7 .1,4.9 .1-1.2 .1-.7 .1,.5 .1,.8 .1,2.8 .1-5.5 .1,6.2 .1-2.9 .1-.4 .1-2.3 .1,6.5 .1-4.2 .1,.7 .1,.5 .1-3.4 .1,2.6 .1-3.4 .1-.1 .1,5.7 .1-6.7 .1,3.7 .1-.3 .1,5.7 .1-5.3 .1,2.5 .1-2.1 .1,1.4 .1,5.0 .1-6.5 .1,.3 .1-3.4 .1-1.7 .1,2.2 .1,.8 .1,4.3 .1-1.9 .1-2.2 .1,1.8 .1-1.2 .1-.2 .1,4.4 .1-.4 .1-2.7 .1,2.4 .1-.5 .1,.4 .1-1.9 .1-3.6 .1,2.9 .1-3.7 .1,3.7 .1-3.0 .1,5.3 .1-4.8 .1-.1 .1,3.1 .1,1.2 .1-3.7 .1,0 .1,2.4 .1-3.5 .1,3.8 .1-.9 .1,1.5 .1,.1 .1,.4 .1-2.0 .1,2.5 .1-4.0 .1,3.5 .1-2.9 .1,2.4 .1-1.8 .1,2.2 .1,.9 .1-2.7 .1,4.7 .1-5.8 .1,2.0 .1-1.1 .1,.7 .1-2.2 .1,4.9 .1-1.3 .1-1.5 .1,1.3 .1,.3 .1-.5 .1-4.4 .1,.7 .1,4.4 .1-.3 .1,.3 .1-3.1 .1,5.0 .1-4.4 .1,3.9 .1-5.7 .1,2.2 .1,3.3 .1-1.1 .1-4.5 .1,2.7 .1-4.0 .1,4.4 .1,.5 .1,2.4 .1-.6 .1-2.3 .1,1.4 .1,2.4 .1-5.8 .1,.3 .1-2.6 .1,1.7 .1,.8 .1,1.9 .1,1.8 .1-1.1 .1-.4 .1-2.2 .1,4.3 .1-5.1 .1,1.0 .1-.1 .1-.1 .1,.9 .1,2.8 .1-4.7 .1,4.9 .1-4.8 .1,3.7 .1-4.6 .1,3.5 .1-.3 .1-.5 .1,1.2 .1,3.1 .1-4.5 .1,1.6 .1-.4 .1-3.7 .1-.1 .1-3.3 .1,4.7 .1,1.6 .1-3.8 .1,6.0 .1-5.4 .1,1.3 .1,4.0 .1-1.6 .1-.7 .1,2.2 .1-.9 .1-2.8 .1,.7 .1,.4 .1,1.4 .1,.9 .1,2.6 .1-5.1 .1,2.6 .1-3.5 .1,1.0 .1,2.1 .1-2.4 .1,1.1 .1-1.2 .1,4.0 .1-3.5 .1,2.2 .1-4.1 .1,2.9 .1,.8 .1-3.2 .1,1.5 .1-3.5 .1,4.4 .1-2.5 .1,1.0 .1,.2 .1-3.2 .1,2.5 .1-1.3 .1,3.0 .1,2.6 .1-1.2 .1,.9 .1,.6 .1-1.6 .1-4.0 .1,1.3 .1-3.1 .1,2.3 .1,3.0 .1,2.3 .1-7.3 .1,6.2 .1-3.5 .1,3.4 .1-1.1 .1-1.5 .1,1.8 .1-1.5 .1,1.1 .1-1.1 .1-2.4 .1,1.4 .1-.3 .1,3.0 .1-.2 .1,.1 .1,.3 .1-3.5 .1,2.1 .1-.5 .1-2.1 .1,5.4 .1-5.5 .1,1.1 .1,2.5 .1,.4 .1,.2 .1,.3 .1-1.5 .1,.9 .1-3.9 .1,3.1 .1-3.4 .1,4.7 .1-3.7 .1,1.0 .1,3.3 .1-4.9 .1,4.8 .1-1.0 .1-2.0 .1-3.2 .1,9.0 .1-7.2 .1,.1 .1-1.6 .1,8.7 .1-7.0 .1-.8 .1,2.4 .1-1.3 .1,1.6 .1,.6 .1-3.3 .1,7.9 .1-6.3 .1,3.2 .1-2.6 .1-1.3 .1-2.7 .1,7.8 .1-6.6 .1,3.5 .1,1.5 .1-.8 .1,1.2 .1,.4 .1-3.1 .1-1.2 .1,3.4 .1-5.8 .1,9.4 .1-5.1 .1-.2 .1-2.1 .1,3.5 .1-1.6 .1,3.6 .1-3.9 .1,2.5 .1-.8 .1,.1 .1,1.9 .1-.4 .1-4.2 .1,4.9 .1-.7 .1-1.5 .1-2.1 .1,4.6 .1-5.6 .1,4.6 .1-1.5 .1,.6 .1-1.4 .1-1.5 .1,3.6 .1-5.3 .1,2.6 .1,.9 .1-3.7 .1,3.3 .1-.5 .1-.4 .1,2.4 .1-1.0 .1-4.9 .1,2.4 .1,3.8 .1-1.9 .1,1.0 .1,1.3 .1,2.1 .1-3.1 .1-2.3 .1,1.5 .1-.3 .1-1.6 .1-3.2 .1,2.3 .1,3.5 .1-2.1 .1,.7 .1,2.5 .1-1.3 .1-2.3 .1-.1 .1,2.1 .1-.6 .1,.9 .1-2.2 .1,3.0 .1-4.4 .1,5.4 .1-5.3 .1,7.5 .1-7.6 .1,3.5 .1-1.8 .1,2.3 .1,2.1 .1-2.1 .1,1.9 .1-7.8 .1,4.3 .1,.8 .1,2.9 .1,1.6 .1-7.9 .1,3.4 .1-4.7 .1,3.2 .1,1.2 .1-1.6 .1,.6 .1,.2 .1-1.2 .1,.2 .1,4.6 .1,1.7 .1-5.0 .1,1.2 .1-.4 .1,.5 .1-.6 .1-4.2 .1,4.6 .1,.1 .1-2.7 .1,3.2 .1,0 .1-3.1 .1,.1 .1,2.8 .1-3.2 .1,.8 .1,1.9 .1,2.7 .1-3.4 .1,2.2 .1-3.5 .1-1.8 .1,6.1 .1-2.2 .1-2.1 .1,2.3 .1,0 .1-2.5 .1-.3 .1,4.3 .1-2.5 .1-.4 .1,0 .1-2.9 .1,4.7 .1-4.8 .1,5.0 .1-3.4 .1,2.1 .1,1.4 .1-5.6 .1,3.1 .1-.1 .1,.1 .1-1.9 .1,6.9 .1-6.4 .1,4.4 .1-1.1 .1-3.1 .1,1.6 .1,2.6 .1,.7 .1-4.2 .1,4.0 .1-2.3 .1-1.2 .1,.8 .1,.9 .1,1.1 .1,2.0 .1-5.0 .1,4.2 .1-2.5 .1,.2 .1,.4 .1-1.4 .1-.1 .1-.9 .1-3.1 .1,3.1 .1,2.1 .1-1.6 .1,1.8 .1-.8 .1,3.1 .1-2.9 .1-2.3 .1,6.7 .1-4.2 .1,.6 .1-2.7 .1-.7 .1,6.1 .1-2.1 .1-2.9 .1,1.8 .1,3.8 .1-2.2 .1-1.0 .1-3.9 .1,.3 .1-1.9 .1,2.3 .1,3.6 .1-.9 .1-1.7 .1-2.5 .1,3.0 .1,2.5 .1-4.2 .1,1.7 .1,2.1 .1-3.1 .1,1.6 .1-3.3 .1,1.9 .1,.9 .1,2.3 .1,2.9 .1-5.9 .1,.6 .1,.3 .1-1.2 .1-1.0 .1,.3 .1,2.6 .1,1.5 .1-4.3 .1,5.4 .1-4.5 .1,3.9 .1,3.5 .1-4.2 .1-5.2 .1,2.0 .1-1.2 .1,4.4 .1-2.0 .1-.8 .1,2.7 .1-.7 .1,2.2 .1-2.5 .1-3.2 .1,1.3 .1-2.6 .1,4.5 .1,3.8 .1-1.4 .1,2.1 .1-6.9 .1,3.5 .1,1.1 .1-3.0 .1,.4 .1-3.8 .1,4.0 .1,4.3 .1-3.3 .1,1.6 .1-5.0 .1,3.0 .1-3.5 .1,3.5 .1-1.7 .1,4.2 .1-2.4 .1,1.3 .1-5.3 .1,2.4 .1,.5 .1-3.4 .1,1.5 .1,2.4 .1-.8 .1-.5 .1,1.2 .1,3.2 .1-2.4 .1,3.0 .1-6.9 .1-.2 .1,4.9 .1-2.3 .1-1.8 .1,2.1 .1,1.3 .1,.4 .1-2.8 .1-.9 .1,2.0 .1-4.5 .1,3.7 .1,2.2 .1-2.7 .1-2.1 .1,4.5 .1-1.3 .1,0 .1,4.4 .1-3.3 .1,1.2 .1-.5 .1,.2 .1-3.4 .1-.3 .1,1.9 .1-.5 .1,.5 .1,5.4 .1-4.2 .1-1.7 .1-.8 .1,3.4 .1-4.9 .1,3.1 .1,1.0 .1-3.3 .1-1.3 .1,1.9 .1,4.6 .1-2.3 .1-4.4 .1,8.3 .1-4.5 .1,2.0 .1-2.0 .1,1.4 .1-.9 .1,1.6 .1,1.1 .1-2.1 .1-4.2 .1,1.0 .1,3.8 .1-2.4 .1,3.9 .1-1.4 .1,1.7 .1-4.2 .1,2.4 .1-2.0 .1-1.3 .1,2.7 .1-.3 .1-.7 .1-.2 .1,2.4 .1-4.3 .1,.2 .1,1.9 .1-1.1 .1,0 .1-1.3 .1,.1 .1,3.2 .1-1.1 .1-1.4 .1,3.3 .1-2.7 .1,2.3 .1-.2 .1,0 .1-.9 .1-2.0 .1,1.6 .1,2.5 .1-4.1 .1,2.7 .1-1.3 .1-1.3 .1,.6 .1,3.0 .1-6.7 .1,3.4 .1-1.3 .1,.6 .1,3.2 .1-1.8 .1,2.3 .1-.7 .1-.5 .1-1.7 .1-.9 .1,2.8 .1-2.7 .1,5.5 .1-6.3 .1,7.3 .1-4.8 .1,2.5 .1-3.5 .1,1.6 .1-1.7 .1,2.0 .1,3.4 .1-4.4 .1,1.1 .1,2.3 .1-4.2 .1,3.1 .1-3.9 .1-1.8 .1,2.8 .1,5.3 .1-.5 .1-2.9 .1-1.4 .1,.9 .1,1.3 .1,1.1 .1-5.7 .1,1.4 .1,2.0 .1-4.2 .1,1.6 .1,2.6 .1-4.1 .1,3.8 .1-2.0 .1,.2 .1-.3 .1,2.6 .1-.9 .1-2.3 .1,3.4 .1-3.1 .1,6.0 .1-5.6 .1-1.2 .1,3.9 .1-6.2 .1,9.3 .1-5.9 .1,1.6 .1,.7 .1-.5 .1-2.4 .1,5.2 .1-3.4 .1,.5 .1,.3 .1-1.6 .1,6.0 .1-4.3 .1,1.0 .1-4.8 .1,2.8 .1,2.2 .1,.1 .1-2.5 .1,.6 .1,2.3 .1-.3 .1-1.9 .1-1.6 .1,2.1 .1,1.0 .1-.3 .1,.7 .1-1.1 .1-2.4 .1,1.4 .1,3.6 .1-6.0 .1,3.4 .1,2.5 .1-1.2 .1,2.8 .1-9.2 .1,5.7 .1-3.1 .1,1.9 .1,1.5 .1,.8 .1-2.6 .1,2.0 .1-6.2 .1,6.1 .1-.2 .1-1.7 .1-1.0 .1-2.2 .1,4.7 .1-4.1 .1,4.0 .1-2.9 .1,3.4 .1-2.0 .1,3.4 .1-3.2 .1,1.8 .1-.2 .1-.3 .1-3.6 .1,4.3 .1-4.7 .1,2.9 .1,1.0 .1,.3 .1-4.5 .1,4.6 .1-.5 .1-2.7 .1,2.5 .1-5.0 .1,1.2 .1,5.8 .1-5.6 .1,4.8 .1-6.3 .1,6.9 .1-2.9 .1-3.5 .1,4.6 .1,.2 .1-2.0 .1,2.4 .1-3.3 .1,6.8 .1-3.6 .1-.1 .1-2.7 .1,3.8 .1,1.3 .1-5.6 .1,.7 .1,3.4 .1,0 .1-1.6 .1,4.4 .1-5.7 .1,1.8 .1-1.3 .1-3.2 .1,2.8 .1,2.0 .1-5.1 .1,6.5 .1-1.6 .1,2.3 .1-1.8 .1-1.2 .1,2.0 .1-.4 .1-2.5 .1,0 .1,1.3 .1-1.1 .1-1.5 .1,3.0 .1,3.2 .1-4.6 .1-.5 .1,0 .1,1.6 .1,2.2 .1-2.1 .1-3.1 .1,1.1 .1,2.1 .1-.4 .1-1.9 .1,.8 .1,.8 .1-3.2 .1,3.4 .1-1.1 .1,1.3 .1-1.4 .1,0 .1,4.1 .1-3.9 .1-.5 .1,.1 .1-.8 .1,2.9 .1-1.1 .1-1.5 .1,2.0 .1-.1 .1,1.4 .1-1.8 .1-.9 .1-2.3 .1,2.0 .1,.2 .1-.8 .1,2.1 .1-2.2 .1,5.8 .1-2.7 .1,2.7 .1-3.6 .1,0 .1,3.9 .1-3.6 .1,3.4 .1-3.8 .1-.3 .1,2.7 .1-3.4 .1-2.7 .1,1.9 .1,2.3 .1-1.5 .1,2.5 .1-2.0 .1,1.9 .1-.5 .1-5.5 .1,6.8 .1-5.0 .1,6.0 .1-.6 .1-4.1 .1,.8 .1,2.5 .1-5.4 .1,4.6 .1,1.5 .1-3.0 .1,1.2 .1,.3 .1-2.3 .1,1.7 .1,.8 .1-2.7 .1,.6 .1,.5 .1,.5 .1,.5 .1-3.2 .1,5.7 .1-3.3 .1-1.4 .1,3.3 .1-6.0 .1,3.1 .1-.7 .1-1.5 .1,7.2 .1-1.4 .1-3.8 .1,4.4 .1-.7 .1-2.4 .1,.2 .1-.2 .1-4.0 .1,2.4 .1,2.9 .1,3.4 .1-1.9 .1-3.8 .1,1.9 .1,0 .1,3.2 .1-3.7 .1,.9 .1,1.6 .1-2.6 .1,2.9 .1-2.1 .1-.8 .1-2.0 .1,4.0 .1-4.9 .1,5.5 .1-2.7 .1-2.4 .1,4.7 .1-3.3 .1,.7 .1-1.9 .1,1.5 .1-.6 .1,.5 .1,2.0 .1-.5 .1,2.1 .1-3.3 .1,2.8 .1-2.7 .1,1.0 .1-3.4 .1,4.2 .1,.7 .1-.1 .1-.1 .1-6.2 .1,2.1 .1,6.8 .1-6.4 .1-1.0 .1,3.9 .1-1.6 .1,1.9 .1,1.6 .1-3.6 .1,.1 .1-3.7 .1,5.0 .1-.7 .1-1.2 .1,1.6 .1,.3 .1,1.2 .1,.4 .1-.6 .1-5.5 .1,5.2 .1-1.1 .1-.7 .1,4.9 .1-5.0 .1,.5 .1,1.8 .1,.2 .1-2.1 .1-2.5 .1-1.5 .1,3.4 .1-2.5 .1,4.4 .1-2.6 .1-.2 .1-1.2 .1-1.5 .1,2.6 .1-1.5 .1,4.6 .1,.3 .1-4.2 .1,.8 .1,1.6 .1,.1 .1-.6 .1,3.2 .1-1.9 .1-1.2 .1,2.7 .1,0 .1-3.4 .1,.4 .1-2.0 .1,5.4 .1-2.0 .1-2.9 .1,3.5 .1-.6 .1-2.2 .1,.9 .1,.1 .1,.3 .1,2.8 .1-5.5 .1,5.6 .1-3.8 .1-.1 .1,1.1 .1,.3 .1-.1 .1-1.1 .1,.5 .1,.8 .1-1.5 .1-.2 .1,1.3 .1,4.1 .1-5.7 .1,2.2 .1-.8 .1,1.2 .1-4.2 .1,.7 .1,2.4 .1,4.9 .1-6.7 .1,.9 .1,.4 .1,.3 .1-.7 .1,2.8 .1,.6 .1-2.7 .1,2.1 .1-2.4 .1-.3 .1,4.5 .1-.8 .1-1.4 .1-1.0 .1-3.1 .1,2.9 .1-2.2 .1,3.7 .1-3.3 .1-.4 .1,4.9 .1-1.7 .1-3.1 .1,1.9 .1-1.9 .1,4.8 .1-2.5 .1-.4 .1,.7 .1,4.0 .1-4.3 .1-3.0 .1,7.0 .1-2.2 .1-1.5 .1,.8 .1-2.9 .1,1.8 .1-.6 .1,.6 .1,1.0 .1,2.0 .1-2.8 .1,1.6 .1,1.9 .1-3.6 .1-.2 .1,.1 .1,3.5 .1-3.6 .1,.4 .1,.3 .1-.4 .1-2.8 .1-.4 .1-1.8 .1,5.6 .1-4.0 .1,2.2 .1-1.6 .1,.9 .1,3.2 .1-3.7 .1,1.5 .1-1.4 .1,3.3 .1,1.5 .1-.1 .1-1.4 .1-.9 .1,1.0 .1-1.7 .1,0 .1-1.9 .1,.9 .1-.4 .1,.1 .1,5.8 .1-5.2 .1-1.7 .1,4.1 .1,3.1 .1-6.3 .1,2.4 .1-2.1 .1,4.4 .1-3.1 .1,2.1 .1-.2 .1,1.3 .1-4.8 .1,2.6 .1-1.2 .1,2.8 .1-1.4 .1,1.2 .1-6.0 .1,2.4 .1,.6 .1,3.6 .1-6.0 .1,.6 .1,.4 .1,3.7 .1,1.8 .1-5.1 .1,1.7 .1,2.7 .1-4.3 .1,.4 .1,3.9 .1-.2 .1-2.2 .1,3.7 .1-6.2 .1,3.4 .1-1.2 .1-1.6 .1,3.3 .1-.1 .1-5.5 .1,3.2 .1,.2 .1-2.9 .1-1.1 .1,5.9 .1-1.5 .1-1.1 .1-1.6 .1,.1 .1,1.6 .1,3.0 .1-3.7 .1,1.4 .1-1.6 .1,6.6 .1-6.0 .1,.9 .1,.1 .1-.2 .1,1.8 .1,3.5 .1-3.6 .1,2.3 .1-4.6 .1,3.1 .1-4.6 .1-1.8 .1,2.4 .1,3.1 .1,.2 .1-2.1 .1-1.0 .1-1.7 .1,3.2 .1,2.1 .1-.4 .1-2.2 .1-2.5 .1,5.7 .1-3.7 .1,.6 .1,.1 .1-.7 .1-.2 .1,3.9 .1,1.8 .1-1.4 .1-1.8 .1-2.2 .1-1.5 .1,3.3 .1-2.1 .1-4.3 .1,4.4 .1,.6 .1,1.2 .1,2.2 .1-4.2 .1,.6 .1,1.0 .1-.9 .1,.4 .1-1.4 .1,4.0 .1-1.9 .1-.4 .1,2.9 .1,.8 .1-1.3 .1-1.7 .1-.7 .1,2.6 .1,.3 .1-.1 .1,.6 .1-3.1 .1-.6 .1,.2 .1,.4 .1-2.3 .1,1.9 .1,.8 .1,.5 .1-2.0 .1,2.3 .1-4.3 .1-1.2 .1,9.1 .1-6.4 .1,.1 .1-.4 .1,.6 .1,3.6 .1-4.0 .1,.6 .1,.3 .1,2.7 .1-1.8 .1,2.6 .1-4.6 .1,2.6 .1,1.9 .1-2.7 .1-1.0 .1,2.7 .1-2.2 .1,2.4 .1-3.0 .1,1.8 .1-2.7 .1,2.9 .1-.7 .1-3.2 .1,.8 .1,2.7 .1,.1 .1,.5 .1-.3 .1-4.3 .1,4.2 .1,1.0 .1-2.8 .1-2.2 .1,3.1 .1,4.0 .1-2.2 .1-2.5 .1,2.8 .1,3.0 .1-3.0 .1-1.5 .1-.8 .1,1.5 .1,.2 .1-.7 .1-1.1 .1-1.1 .1,1.3 .1-.1 .1,1.8 .1-.8 .1-2.7 .1,.5 .1,2.1 .1,3.6 .1-2.1 .1-4.3 .1,3.9 .1-.4 .1-1.5 .1-3.6 .1,7.1 .1-4.7 .1,2.4 .1-2.1 .1-2.0 .1,3.5 .1,.4 .1,1.5 .1-.1 .1-1.6 .1,2.3 .1-3.1 .1,.5 .1,1.4 .1-4.1 .1,2.5 .1,2.4 .1-3.5 .1,2.0 .1-1.2 .1-2.7 .1,5.0 .1,1.0 .1-2.5 .1,.8 .1-.5 .1,4.0 .1-4.8 .1,1.7 .1-2.1 .1-2.2 .1,1.4 .1,1.6 .1-1.9 .1-.7 .1-1.0 .1,1.7 .1,.3 .1,3.9 .1-.8 .1-2.0 .1-1.6 .1,3.4 .1-4.0 .1,2.3 .1-.5 .1,.3 .1-.2 .1,2.1 .1,.2 .1-.4 .1-1.8 .1,.3 .1,0 .1,1.7 .1,4.7 .1-4.7 .1,.1 .1-3.7 .1,2.3 .1-.4 .1-1.8 .1,2.8 .1-.6 .1,.3 .1-2.2 .1,1.4 .1-1.3 .1,1.2 .1-1.0 .1,2.5 .1-2.6 .1-.7 .1,5.1 .1-3.0 .1,1.0 .1-3.6 .1,2.2 .1,1.9 .1-.4 .1-3.0 .1,6.0 .1-4.8 .1-.3 .1,1.9 .1-1.2 .1,2.0 .1,1.2 .1-1.0 .1-1.9 .1,2.3 .1-3.7 .1,1.3 .1,.7 .1-2.2 .1,4.6 .1,1.5 .1-4.0 .1-3.7 .1,2.1 .1,2.0 .1-2.1 .1,5.0 .1-3.1 .1-2.9 .1,1.2 .1,2.0 .1,2.1 .1-4.6 .1,3.0 .1-4.1 .1,.6 .1-.6 .1,3.5 .1,2.6 .1-3.7 .1,.1 .1,1.4 .1-1.5 .1-1.9 .1,4.5 .1,.8 .1-4.4 .1,3.4 .1-3.4 .1,1.6 .1-.3 .1-.5 .1,1.7 .1-4.0 .1,3.3 .1,1.0 .1-1.3 .1,1.2 .1,2.7 .1-4.6 .1-2.1 .1,3.0 .1,1.3 .1-4.3 .1,2.0 .1-1.0 .1-.4 .1,5.4 .1-6.7 .1,4.7 .1,.2 .1-.7 .1-2.6 .1,2.0" fill="none" stroke="#000" stroke-width="1.0"/>
<rect x="585" y="26.7" width="411.2" height="568.7" fill="none" stroke="#000" stroke-width="2.2"/>
<line x1="600.1" y1="595.4" x2="600.1" y2="599.9" stroke="#000" stroke-width="2"/>
<line x1="630.6" y1="595.4" x2="630.6" y2="603.4" stroke="#000" stroke-width="2"/>
<text x="629.8" y="627.5" class="r" font-size="26" text-anchor="middle" letter-spacing="0">10</text>
<line x1="661.1" y1="595.4" x2="661.1" y2="599.9" stroke="#000" stroke-width="2"/>
<line x1="691.5" y1="595.4" x2="691.5" y2="603.4" stroke="#000" stroke-width="2"/>
<text x="690.7" y="627.5" class="r" font-size="26" text-anchor="middle" letter-spacing="0">20</text>
<line x1="722.0" y1="595.4" x2="722.0" y2="599.9" stroke="#000" stroke-width="2"/>
<line x1="752.4" y1="595.4" x2="752.4" y2="603.4" stroke="#000" stroke-width="2"/>
<text x="751.6" y="627.5" class="r" font-size="26" text-anchor="middle" letter-spacing="0">30</text>
<line x1="782.9" y1="595.4" x2="782.9" y2="599.9" stroke="#000" stroke-width="2"/>
<line x1="813.3" y1="595.4" x2="813.3" y2="603.4" stroke="#000" stroke-width="2"/>
<text x="812.5" y="627.5" class="r" font-size="26" text-anchor="middle" letter-spacing="0">40</text>
<line x1="843.8" y1="595.4" x2="843.8" y2="599.9" stroke="#000" stroke-width="2"/>
<line x1="874.2" y1="595.4" x2="874.2" y2="603.4" stroke="#000" stroke-width="2"/>
<text x="873.4" y="627.5" class="r" font-size="26" text-anchor="middle" letter-spacing="0">50</text>
<line x1="904.7" y1="595.4" x2="904.7" y2="599.9" stroke="#000" stroke-width="2"/>
<line x1="935.1" y1="595.4" x2="935.1" y2="603.4" stroke="#000" stroke-width="2"/>
<text x="934.3" y="627.5" class="r" font-size="26" text-anchor="middle" letter-spacing="0">60</text>
<line x1="965.5" y1="595.4" x2="965.5" y2="599.9" stroke="#000" stroke-width="2"/>
<line x1="996.0" y1="595.4" x2="996.0" y2="603.4" stroke="#000" stroke-width="2"/>
<text x="995.2" y="627.5" class="r" font-size="26" text-anchor="middle" letter-spacing="0">70</text>
<text x="714" y="660" class="r" font-size="25" letter-spacing="1.05">Degree 2θ CuKα</text>
<text transform="translate(558,424) rotate(-90)" class="r" font-size="24.5" letter-spacing="0.6">Intensity (arbitrary unit)</text>
<text x="937.3" y="170.2" class="r" font-size="18" letter-spacing="0.60">120 h</text>
<text x="943.2" y="232.0" class="r" font-size="18" letter-spacing="0.60">96 h</text>
<text x="943.2" y="278.4" class="r" font-size="18" letter-spacing="0.60">72 h</text>
<text x="947.1" y="339.8" class="r" font-size="18" letter-spacing="0.60">48 h</text>
<text x="948.2" y="389.6" class="r" font-size="18" letter-spacing="0.60">24 h</text>
<text x="947.1" y="457.8" class="r" font-size="18" letter-spacing="0.60">12 h</text>
<text x="950.8" y="516.8" class="r" font-size="18" letter-spacing="0.15">0 h</text>
</svg></body></html>
